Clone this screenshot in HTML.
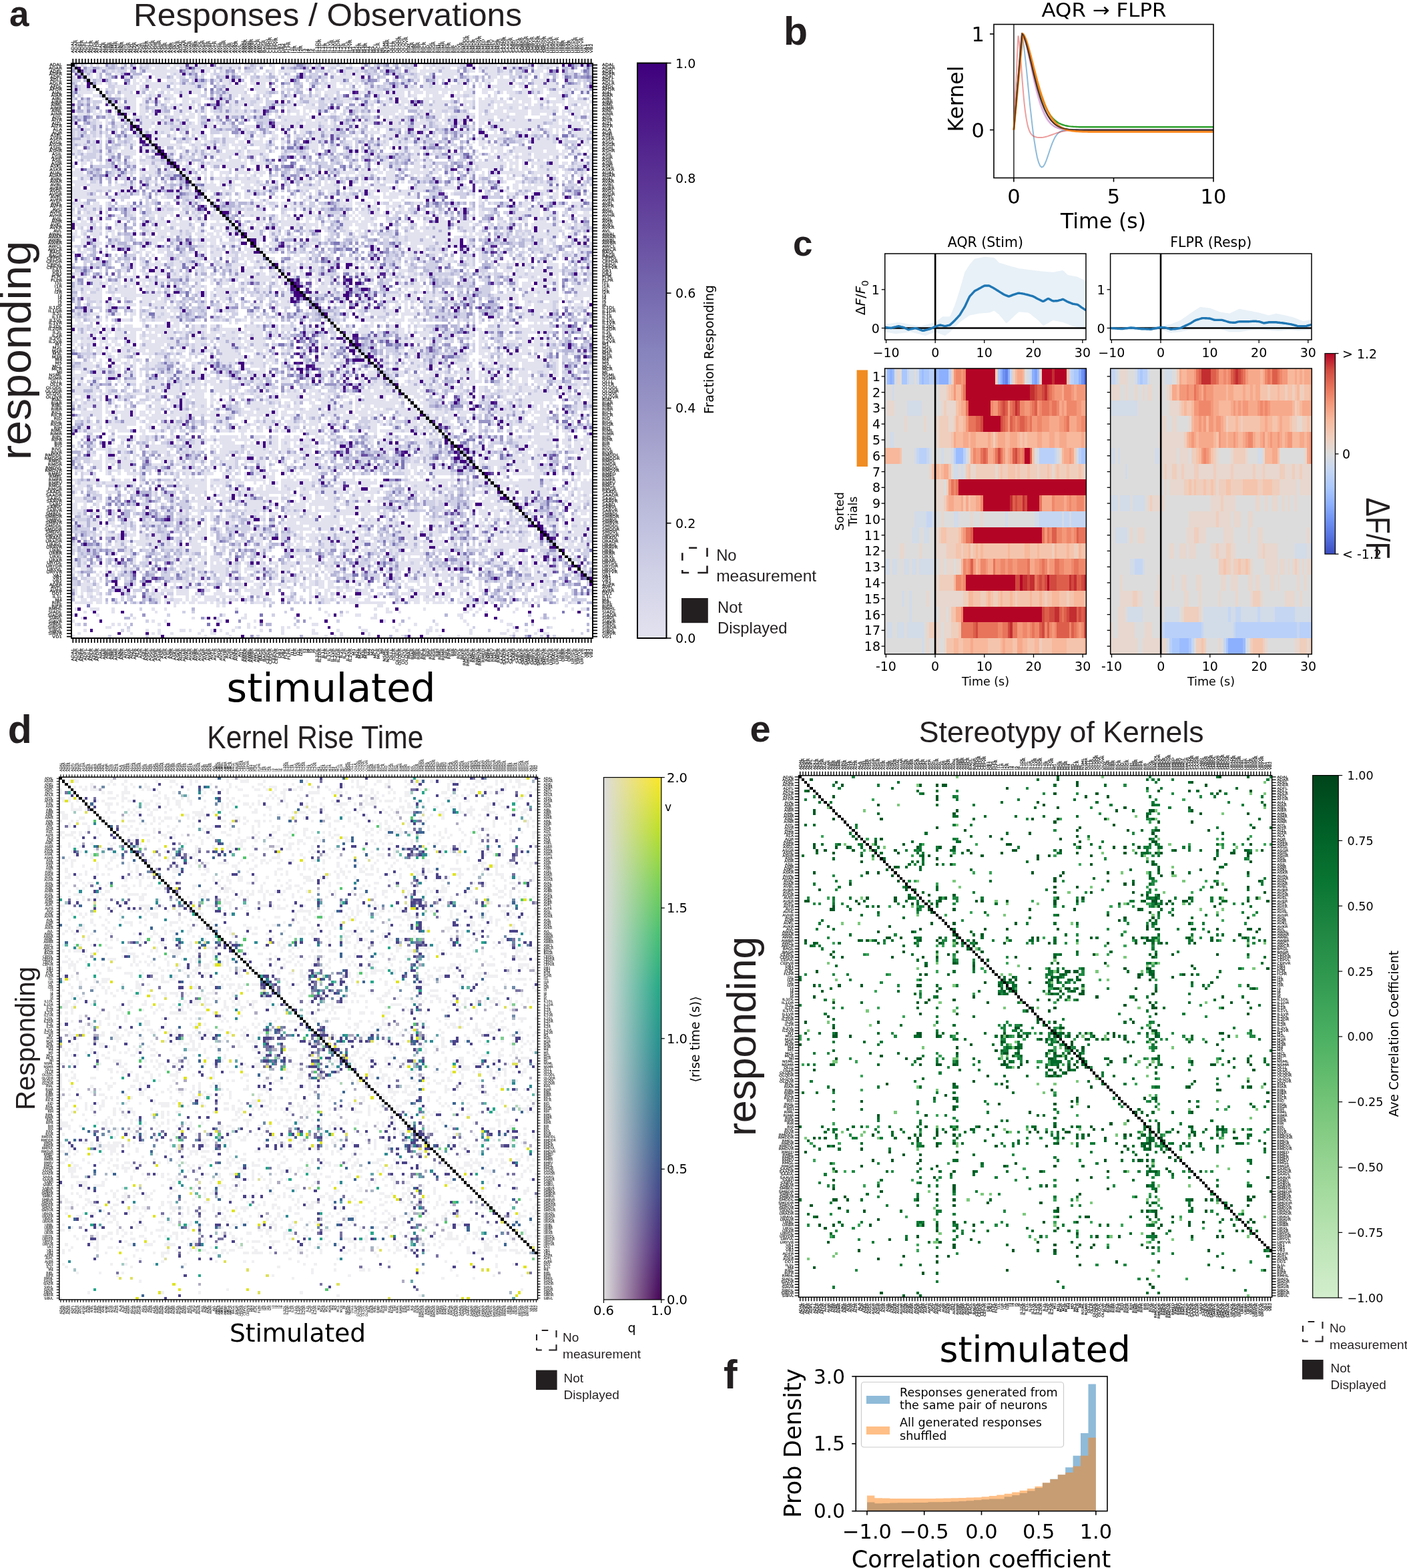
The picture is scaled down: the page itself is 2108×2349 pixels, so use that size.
<!DOCTYPE html>
<html><head><meta charset="utf-8"><title>Figure</title>
<style>
html,body{margin:0;padding:0;background:#fff;}
body{width:2108px;height:2349px;overflow:hidden;}
svg{display:block;}
</style></head><body>
<svg width="2108" height="2349" viewBox="0 0 2108 2349" font-family="'DejaVu Sans', sans-serif">
<g transform="translate(107 95) scale(4.6213 4.6043) translate(0 .5)" shape-rendering="crispEdges" fill="none">
<path stroke="#e2e2ef" d="M4 0h1m3 0h1m7 0h1m6 0h1m1 0h7m1 0h4m1 0h2m1 0h2m5 0h7m1 0h2m2 0h3m2 0h1m2 0h4m10 0h4m1 0h2m1 0h1m3 0h1m14 0h1m4 0h3m1 0h8m4 0h1m1 0h6m1 0h1m1 0h4m1 0h2m3 0h1m1 0h5m2 0h1M10 1h1m7 0h1m6 0h1m1 0h4m1 0h2m2 0h1m5 0h5m2 0h2m1 0h2m11 0h1m3 0h1m13 0h1m3 0h2m2 0h3m17 0h1m2 0h1m1 0h1m1 0h2m1 0h2m5 0h2m3 0h1m1 0h3m1 0h1m1 0h2m5 0h1m2 0h3m1 0h1M8 2h2m2 0h1m1 0h1m9 0h11m3 0h1m1 0h2m1 0h2m4 0h1m4 0h1m4 0h2m3 0h2m1 0h5m10 0h1m1 0h1m4 0h3m1 0h1m16 0h2m1 0h6m1 0h5m4 0h2m1 0h1m1 0h4m2 0h2m8 0h3m1 0h1m6 0h1M4 3h1m1 0h1m1 0h1m5 0h2m3 0h1m6 0h5m1 0h1m1 0h2m7 0h1m1 0h1m2 0h2m1 0h1m1 0h1m1 0h3m4 0h1m2 0h1m1 0h1m13 0h1m2 0h2m1 0h1m1 0h2m1 0h2m18 0h3m5 0h6m2 0h1m6 0h3m1 0h3m4 0h2m2 0h2m1 0h1m3 0h1M1 4h1m3 0h2m1 0h1m2 0h1m6 0h1m1 0h2m1 0h2m2 0h4m3 0h1m6 0h1m3 0h1m5 0h1m4 0h1m4 0h2m3 0h1m3 0h2m13 0h6m1 0h2m10 0h1m4 0h2m1 0h1m5 0h6m1 0h1m3 0h1m2 0h1m3 0h2m1 0h1m4 0h1m1 0h1m4 0h1m1 0h2m2 0h1m1 0h1M6 5h1m13 0h1m1 0h1m2 0h1m5 0h3m10 0h1m2 0h1m1 0h2m2 0h1m5 0h5m5 0h2m11 0h1m1 0h4m3 0h3m17 0h1m2 0h1m3 0h1m4 0h1m1 0h3m1 0h1m4 0h3m1 0h5m3 0h2m2 0h4m11 0h1M3 6h1m4 0h2m1 0h1m1 0h1m6 0h2m1 0h9m1 0h2m2 0h1m2 0h1m8 0h2m3 0h1m1 0h1m1 0h2m1 0h2m18 0h1m1 0h3m1 0h4m1 0h1m1 0h1m19 0h2m2 0h1m3 0h1m3 0h1m5 0h1m1 0h1m3 0h4m2 0h1m5 0h3m1 0h3M3 7h2m1 0h1m7 0h7m1 0h2m1 0h6m2 0h1m1 0h5m3 0h1m6 0h7m2 0h4m3 0h1m3 0h1m6 0h1m1 0h1m1 0h2m1 0h2m2 0h1m1 0h1m2 0h1m1 0h2m1 0h1m3 0h1m3 0h2m1 0h1m1 0h1m2 0h2m1 0h3m3 0h4m1 0h1m3 0h1m1 0h1m1 0h8m1 0h2m2 0h1m1 0h7m2 0h5M3 8h2m1 0h2m1 0h1m2 0h1m2 0h2m1 0h3m1 0h1m3 0h2m1 0h3m1 0h9m7 0h1m1 0h5m1 0h1m1 0h5m4 0h2m2 0h1m1 0h1m1 0h1m3 0h2m1 0h8m1 0h1m3 0h3m5 0h9m1 0h13m1 0h3m2 0h4m1 0h5m3 0h2m2 0h3m1 0h1m2 0h4m3 0h4M2 9h5m9 0h3m3 0h1m2 0h2m1 0h1m2 0h1m1 0h2m1 0h2m1 0h3m9 0h5m4 0h3m16 0h2m1 0h4m4 0h1m2 0h3m2 0h3m2 0h1m1 0h3m3 0h3m1 0h4m1 0h2m1 0h1m1 0h1m1 0h3m3 0h2m2 0h1m1 0h1m1 0h3m2 0h2m2 0h1m1 0h1m2 0h3m1 0h1m1 0h1m4 0h1M3 10h1m3 0h2m2 0h1m2 0h2m1 0h6m1 0h1m1 0h2m1 0h4m3 0h2m3 0h1m7 0h2m1 0h2m1 0h3m1 0h1m3 0h1m7 0h1m4 0h1m1 0h1m1 0h1m2 0h2m2 0h1m4 0h2m6 0h8m2 0h2m3 0h1m1 0h4m3 0h3m2 0h2m6 0h1m4 0h6m2 0h1m3 0h5m2 0h1m2 0h1m3 0h1M6 11h1m3 0h1m5 0h1m1 0h3m2 0h1m8 0h2m2 0h6m1 0h1m8 0h1m3 0h4m1 0h1m7 0h1m1 0h1m3 0h4m3 0h1m1 0h1m2 0h3m8 0h1m3 0h1m3 0h3m5 0h6m3 0h1m3 0h1m2 0h1m1 0h1m1 0h4m3 0h1m2 0h5m1 0h2m1 0h2m2 0h2m2 0h2M0 12h1m3 0h1m1 0h1m8 0h1m2 0h3m2 0h1m1 0h1m4 0h2m1 0h1m2 0h2m2 0h2m3 0h2m2 0h1m1 0h2m1 0h4m2 0h2m9 0h1m1 0h1m3 0h3m2 0h2m4 0h3m1 0h1m3 0h2m3 0h2m1 0h1m2 0h3m4 0h2m2 0h5m4 0h3m2 0h4m1 0h4m2 0h2m1 0h3m2 0h3m1 0h5m1 0h6m1 0h1M1 13h1m6 0h1m6 0h6m2 0h1m4 0h1m3 0h3m1 0h4m12 0h1m1 0h2m1 0h1m1 0h2m9 0h2m1 0h2m1 0h2m18 0h1m3 0h1m1 0h1m1 0h2m1 0h1m1 0h1m4 0h2m1 0h4m2 0h2m2 0h1m1 0h1m2 0h3m1 0h1m1 0h1m1 0h7m1 0h1m1 0h2m2 0h1m1 0h1m2 0h1m1 0h1m3 0h3M4 14h1m8 0h1m2 0h1m2 0h2m1 0h2m3 0h2m2 0h1m2 0h1m1 0h2m1 0h1m1 0h1m1 0h1m1 0h1m3 0h2m1 0h3m1 0h2m1 0h3m8 0h3m2 0h5m2 0h1m5 0h1m1 0h2m1 0h2m2 0h1m1 0h9m1 0h3m2 0h8m5 0h3m2 0h5m1 0h4m1 0h2m1 0h1m1 0h4m1 0h1m1 0h3m3 0h1m1 0h3m1 0h1M4 15h1m2 0h1m9 0h4m1 0h2m9 0h2m1 0h3m2 0h1m1 0h1m1 0h1m3 0h1m2 0h1m1 0h2m1 0h1m3 0h1m9 0h3m1 0h1m1 0h1m1 0h1m3 0h1m5 0h1m3 0h1m3 0h2m1 0h6m1 0h1m4 0h1m1 0h2m2 0h2m2 0h2m4 0h1m3 0h2m1 0h1m1 0h3m1 0h7m1 0h7m1 0h1m1 0h2m1 0h3m1 0h3M0 16h1m1 0h3m2 0h3m1 0h1m2 0h1m3 0h1m3 0h2m1 0h2m1 0h4m1 0h4m1 0h2m1 0h1m1 0h1m2 0h12m1 0h3m2 0h1m1 0h1m1 0h1m1 0h1m2 0h1m1 0h2m7 0h2m1 0h1m4 0h1m1 0h3m2 0h6m1 0h2m3 0h1m1 0h2m1 0h4m1 0h1m1 0h5m1 0h2m1 0h1m2 0h7m2 0h4m1 0h3m2 0h2m3 0h1m1 0h1m1 0h2m1 0h1m1 0h1M11 17h1m9 0h1m1 0h1m2 0h3m4 0h2m1 0h4m1 0h1m3 0h1m2 0h2m1 0h1m14 0h1m1 0h8m1 0h1m1 0h2m1 0h1m4 0h1m5 0h1m3 0h1m3 0h2m1 0h1m1 0h2m4 0h1m1 0h1m3 0h2m1 0h2m2 0h3m1 0h1m2 0h5m1 0h3m1 0h5m5 0h3m1 0h5m3 0h1m2 0h2M6 18h1m1 0h1m2 0h1m11 0h6m1 0h2m1 0h1m1 0h2m4 0h1m4 0h1m21 0h1m1 0h4m1 0h3m1 0h3m2 0h1m2 0h1m9 0h2m3 0h1m1 0h3m1 0h1m4 0h2m2 0h1m2 0h2m3 0h1m6 0h3m5 0h1m1 0h1m1 0h4m1 0h7m1 0h1m2 0h1m2 0h1m1 0h2m1 0h1M8 19h2m1 0h1m2 0h3m3 0h1m2 0h3m3 0h1m3 0h2m2 0h1m1 0h1m1 0h1m2 0h2m1 0h2m1 0h1m15 0h7m1 0h1m1 0h4m1 0h2m1 0h1m5 0h1m4 0h3m4 0h1m1 0h2m5 0h5m2 0h2m1 0h1m4 0h1m1 0h1m3 0h2m2 0h17m3 0h2m1 0h1m1 0h4m1 0h1M0 20h1m2 0h2m3 0h1m6 0h1m6 0h4m1 0h5m4 0h1m1 0h4m2 0h2m2 0h4m4 0h4m2 0h1m3 0h1m2 0h2m1 0h2m1 0h5m2 0h3m2 0h3m1 0h1m2 0h1m3 0h11m2 0h2m2 0h1m3 0h3m7 0h1m2 0h1m1 0h2m3 0h12m1 0h1m2 0h6m1 0h4m2 0h1M6 21h1m1 0h1m7 0h1m6 0h2m1 0h6m1 0h1m6 0h2m13 0h1m1 0h1m1 0h1m9 0h1m2 0h1m1 0h4m1 0h1m1 0h1m6 0h1m1 0h1m2 0h1m3 0h1m4 0h1m5 0h1m4 0h1m15 0h1m3 0h1m1 0h1m1 0h1m2 0h2m2 0h1m1 0h1m3 0h1m3 0h2m1 0h1m2 0h1m5 0h1M1 22h1m6 0h1m1 0h1m12 0h1m1 0h2m1 0h1m1 0h2m1 0h1m2 0h1m2 0h3m6 0h3m5 0h1m4 0h1m3 0h1m2 0h1m1 0h1m3 0h2m3 0h2m1 0h3m7 0h2m1 0h5m2 0h3m6 0h1m2 0h1m3 0h1m10 0h1m4 0h1m2 0h1m1 0h1m1 0h2m3 0h2m1 0h3m3 0h1m1 0h1m1 0h1m2 0h5M1 23h1m4 0h1m1 0h1m11 0h1m5 0h3m3 0h2m2 0h1m4 0h1m3 0h1m3 0h2m3 0h1m1 0h2m2 0h2m3 0h2m2 0h1m2 0h1m1 0h1m3 0h3m2 0h1m6 0h1m1 0h1m7 0h1m1 0h3m1 0h2m5 0h2m3 0h1m6 0h1m6 0h2m1 0h6m1 0h1m5 0h1m6 0h1m5 0h1m2 0h3m1 0h1M3 24h2m1 0h2m1 0h1m1 0h1m16 0h5m1 0h1m4 0h1m2 0h1m2 0h1m2 0h1m1 0h4m3 0h1m3 0h1m2 0h1m1 0h1m5 0h1m4 0h1m1 0h2m1 0h1m10 0h1m7 0h2m1 0h3m2 0h1m4 0h1m3 0h1m12 0h2m2 0h2m7 0h1m2 0h2m1 0h1m1 0h2m1 0h1m2 0h2m6 0h1M1 25h4m1 0h1m12 0h2m5 0h6m4 0h1m1 0h1m1 0h2m1 0h2m3 0h1m1 0h3m1 0h2m2 0h4m1 0h1m1 0h1m2 0h2m8 0h2m3 0h1m1 0h1m3 0h2m4 0h1m2 0h1m1 0h1m1 0h1m1 0h2m1 0h1m1 0h2m2 0h1m4 0h1m11 0h1m1 0h3m3 0h2m6 0h1m3 0h6m1 0h1m1 0h1m6 0h1M3 26h1m1 0h1m2 0h1m7 0h1m1 0h1m1 0h1m1 0h1m5 0h8m2 0h1m1 0h2m2 0h2m2 0h1m1 0h1m1 0h6m1 0h4m5 0h1m2 0h1m3 0h1m1 0h3m3 0h1m3 0h1m2 0h1m3 0h1m2 0h1m3 0h2m1 0h5m3 0h1m2 0h1m13 0h1m2 0h2m1 0h2m1 0h1m10 0h8m9 0h3M1 27h1m4 0h1m1 0h1m6 0h1m1 0h2m4 0h4m2 0h1m4 0h1m1 0h1m2 0h1m1 0h1m1 0h1m1 0h1m1 0h4m2 0h1m1 0h1m5 0h2m1 0h1m4 0h1m7 0h3m3 0h1m13 0h2m2 0h1m1 0h1m3 0h1m1 0h4m11 0h1m9 0h1m1 0h4m4 0h4m1 0h8m8 0h1m2 0h1M0 28h2m1 0h1m1 0h2m4 0h1m1 0h2m1 0h5m2 0h1m1 0h1m5 0h3m2 0h1m1 0h2m1 0h1m1 0h1m1 0h2m3 0h4m1 0h1m2 0h5m2 0h1m2 0h1m7 0h1m2 0h1m8 0h1m15 0h1m1 0h2m1 0h1m1 0h2m1 0h1m3 0h1m2 0h1m6 0h1m2 0h1m4 0h1m1 0h2m1 0h1m1 0h10m1 0h4m1 0h2m2 0h2m2 0h1M1 29h1m2 0h1m3 0h1m7 0h5m2 0h2m8 0h1m2 0h1m3 0h2m3 0h8m1 0h2m1 0h4m1 0h2m6 0h1m12 0h1m14 0h1m1 0h3m5 0h1m2 0h1m5 0h1m4 0h1m6 0h1m2 0h1m2 0h1m1 0h3m1 0h2m1 0h1m1 0h2m2 0h10m3 0h1m4 0h1M8 30h1m10 0h1m2 0h1m4 0h2m8 0h1m3 0h1m4 0h1m1 0h3m4 0h2m2 0h1m1 0h1m1 0h1m28 0h1m17 0h3m1 0h1m20 0h3m1 0h3m1 0h1m1 0h4m1 0h5m1 0h1m2 0h1m6 0h1m1 0h1M2 31h1m1 0h1m1 0h1m11 0h1m1 0h1m3 0h2m7 0h1m2 0h1m1 0h1m6 0h1m3 0h1m1 0h4m1 0h1m2 0h1m1 0h1m25 0h1m14 0h1m1 0h1m1 0h1m5 0h2m1 0h1m16 0h1m2 0h2m1 0h1m2 0h2m1 0h1m1 0h2m4 0h1m1 0h4m10 0h1M0 32h1m2 0h2m4 0h1m6 0h1m2 0h2m1 0h4m1 0h2m5 0h2m1 0h1m1 0h1m1 0h1m1 0h1m1 0h12m1 0h5m2 0h1m25 0h2m5 0h1m1 0h3m6 0h1m1 0h2m1 0h3m14 0h10m1 0h3m1 0h1m2 0h5m2 0h2m1 0h2m3 0h3m1 0h1M3 33h1m19 0h1m1 0h2m1 0h1m7 0h1m1 0h1m2 0h1m1 0h1m1 0h1m4 0h5m1 0h1m4 0h1m17 0h1m9 0h1m9 0h1m1 0h2m1 0h1m6 0h3m1 0h1m16 0h7m1 0h1m1 0h1m1 0h1m1 0h2m3 0h1m1 0h5m3 0h1m1 0h1m4 0h1M1 34h2m8 0h1m4 0h1m8 0h3m5 0h1m1 0h1m2 0h1m7 0h2m6 0h2m5 0h1m1 0h1m4 0h1m2 0h2m6 0h1m2 0h1m4 0h1m2 0h1m4 0h1m1 0h1m1 0h1m3 0h2m4 0h4m1 0h2m2 0h1m3 0h1m7 0h1m1 0h1m2 0h2m1 0h1m4 0h2m1 0h3m2 0h3m1 0h3m1 0h1m8 0h1M0 35h4m10 0h1m3 0h1m1 0h1m1 0h5m2 0h2m2 0h1m2 0h1m5 0h2m1 0h1m2 0h3m2 0h5m1 0h4m9 0h1m3 0h2m1 0h1m3 0h1m3 0h5m1 0h5m1 0h2m1 0h3m5 0h6m1 0h2m3 0h1m6 0h1m3 0h1m5 0h8m3 0h6m1 0h1m2 0h2m2 0h1m1 0h1M0 36h5m1 0h1m15 0h1m3 0h2m10 0h1m1 0h2m1 0h1m1 0h1m2 0h1m1 0h1m5 0h1m1 0h1m2 0h1m15 0h1m11 0h1m2 0h2m1 0h2m1 0h1m3 0h3m5 0h1m1 0h1m1 0h1m1 0h1m2 0h1m1 0h1m7 0h1m2 0h2m2 0h3m2 0h1m2 0h2m1 0h1m1 0h2m1 0h1m2 0h2m3 0h1m3 0h1M2 37h1m1 0h2m9 0h1m14 0h1m15 0h4m2 0h1m1 0h3m1 0h3m15 0h1m5 0h1m5 0h1m9 0h1m1 0h1m1 0h3m7 0h2m27 0h3m2 0h1m7 0h1m2 0h1M0 38h5m3 0h1m9 0h1m1 0h1m2 0h1m1 0h2m2 0h1m4 0h1m5 0h2m1 0h1m1 0h1m2 0h3m1 0h1m2 0h5m1 0h1m8 0h1m4 0h3m1 0h1m2 0h1m1 0h2m8 0h2m2 0h1m2 0h4m2 0h1m2 0h2m8 0h1m2 0h1m2 0h1m5 0h1m1 0h1m5 0h1m3 0h2m1 0h1m3 0h1m1 0h1m2 0h2m10 0h1M1 39h4m1 0h3m5 0h2m2 0h1m1 0h1m4 0h1m2 0h1m14 0h4m1 0h1m1 0h1m1 0h3m1 0h2m1 0h2m3 0h2m13 0h1m2 0h3m3 0h1m5 0h1m1 0h1m1 0h2m5 0h1m6 0h3m7 0h2m3 0h1m15 0h2m1 0h1m1 0h1m1 0h5m5 0h1M0 40h3m3 0h13m1 0h1m4 0h4m1 0h2m1 0h1m2 0h1m1 0h1m2 0h1m1 0h7m2 0h1m2 0h4m1 0h1m12 0h7m1 0h5m3 0h1m1 0h6m1 0h5m2 0h1m3 0h1m2 0h5m3 0h5m3 0h1m3 0h1m1 0h1m3 0h2m3 0h2m1 0h5m2 0h4m2 0h1m3 0h1m1 0h2M0 41h8m2 0h2m3 0h1m1 0h1m15 0h1m2 0h2m7 0h3m1 0h4m3 0h1m1 0h1m2 0h1m9 0h1m3 0h1m3 0h1m1 0h1m1 0h3m2 0h1m1 0h2m2 0h1m1 0h3m1 0h3m1 0h1m2 0h3m1 0h3m6 0h1m3 0h2m2 0h1m7 0h1m3 0h2m2 0h1m1 0h1m3 0h4m3 0h1m1 0h1m7 0h1M0 42h5m4 0h1m6 0h1m1 0h1m5 0h1m3 0h1m4 0h1m15 0h1m4 0h1m1 0h3m15 0h1m4 0h1m3 0h1m3 0h1m1 0h1m7 0h1m3 0h1m1 0h6m2 0h1m9 0h1m1 0h1m5 0h1m11 0h3m1 0h1m1 0h1m1 0h1m3 0h2m1 0h2m3 0h1m6 0h1M0 43h12m1 0h3m7 0h1m3 0h1m1 0h2m7 0h2m6 0h4m1 0h1m2 0h1m1 0h2m2 0h1m5 0h1m3 0h1m1 0h1m1 0h1m1 0h1m1 0h2m3 0h1m3 0h2m1 0h2m2 0h1m1 0h4m1 0h5m2 0h4m18 0h1m1 0h1m9 0h1m1 0h1m3 0h1m2 0h2m1 0h1m1 0h2m1 0h1m4 0h1m2 0h2M2 44h1m38 0h1m19 0h1m1 0h1m12 0h2m9 0h1m2 0h1m7 0h1m4 0h1m3 0h1m24 0h1m17 0h1M1 45h3m3 0h2m2 0h1m6 0h1m6 0h1m4 0h1m4 0h1m1 0h1m3 0h1m11 0h1m5 0h3m1 0h1m2 0h1m1 0h4m1 0h1m1 0h1m11 0h4m1 0h5m1 0h1m1 0h1m3 0h3m4 0h2m19 0h1m3 0h1m9 0h3m3 0h2m3 0h1m4 0h4m2 0h1M0 46h3m1 0h5m2 0h1m3 0h1m1 0h2m1 0h1m4 0h1m3 0h1m1 0h2m2 0h2m1 0h1m17 0h4m1 0h1m2 0h2m2 0h1m2 0h3m1 0h2m2 0h1m1 0h3m3 0h1m1 0h2m2 0h1m1 0h1m1 0h2m3 0h4m1 0h1m9 0h1m11 0h1m14 0h1m1 0h2m2 0h2m1 0h1m3 0h3m1 0h1m2 0h1m2 0h2M3 47h1m1 0h2m1 0h1m2 0h1m18 0h1m2 0h2m3 0h2m12 0h1m3 0h1m13 0h2m2 0h1m1 0h1m2 0h2m14 0h1m1 0h2m3 0h1m3 0h2m10 0h1m13 0h1m14 0h1m1 0h3m11 0h2M0 48h1m3 0h1m1 0h2m11 0h2m5 0h7m2 0h2m3 0h1m4 0h2m9 0h7m6 0h1m2 0h1m2 0h2m1 0h1m8 0h1m1 0h1m1 0h1m1 0h3m2 0h2m1 0h1m1 0h1m3 0h3m2 0h1m1 0h1m5 0h1m1 0h1m7 0h1m1 0h2m1 0h1m8 0h8m1 0h3m1 0h1m1 0h1m2 0h2m2 0h2M0 49h8m1 0h1m1 0h1m2 0h2m4 0h1m4 0h2m1 0h3m1 0h1m2 0h5m1 0h1m4 0h3m2 0h1m4 0h2m1 0h5m2 0h1m1 0h2m3 0h1m1 0h5m1 0h2m2 0h2m2 0h2m1 0h1m1 0h3m1 0h4m2 0h1m5 0h6m3 0h1m2 0h1m5 0h2m2 0h2m9 0h3m3 0h3m1 0h2m2 0h1m2 0h2m2 0h5M3 50h1m4 0h1m9 0h1m9 0h1m4 0h2m4 0h2m1 0h1m2 0h5m11 0h1m4 0h1m1 0h1m1 0h3m1 0h1m1 0h2m7 0h1m5 0h1m1 0h1m1 0h2m1 0h1m13 0h1m6 0h2m22 0h1m3 0h1m3 0h1m1 0h1m3 0h1m3 0h1m5 0h1M1 51h1m1 0h2m2 0h3m16 0h5m1 0h2m1 0h4m1 0h4m3 0h1m2 0h1m1 0h1m5 0h5m2 0h2m1 0h6m2 0h1m2 0h1m2 0h2m3 0h6m1 0h4m4 0h1m4 0h3m4 0h2m3 0h3m1 0h1m2 0h4m3 0h2m3 0h2m3 0h1m2 0h2m2 0h4m3 0h2m1 0h1m1 0h1M1 52h6m2 0h1m1 0h1m3 0h2m11 0h3m1 0h6m1 0h1m3 0h1m1 0h6m5 0h1m1 0h1m1 0h2m6 0h5m1 0h1m1 0h4m8 0h3m1 0h4m1 0h1m11 0h1m4 0h1m1 0h6m2 0h5m1 0h1m1 0h1m2 0h1m3 0h3m2 0h1m4 0h7m1 0h1m1 0h3m2 0h2M2 53h1m2 0h1m2 0h1m5 0h3m7 0h2m2 0h1m1 0h2m1 0h1m1 0h4m2 0h2m3 0h1m1 0h1m3 0h1m2 0h1m1 0h1m1 0h2m5 0h1m1 0h1m3 0h2m2 0h2m1 0h1m1 0h2m2 0h1m2 0h2m3 0h3m2 0h1m1 0h1m6 0h1m1 0h1m1 0h1m1 0h2m1 0h1m1 0h4m1 0h1m3 0h3m6 0h1m3 0h1m6 0h1m1 0h1m1 0h8m1 0h1m3 0h1M1 54h1m1 0h2m2 0h3m1 0h1m1 0h1m1 0h1m9 0h10m1 0h1m1 0h2m1 0h1m1 0h1m2 0h3m2 0h2m3 0h2m1 0h2m1 0h1m1 0h3m2 0h1m6 0h1m5 0h1m6 0h2m1 0h2m5 0h1m4 0h1m4 0h1m1 0h2m1 0h5m1 0h3m2 0h1m2 0h2m2 0h1m7 0h1m5 0h1m4 0h2m2 0h3m1 0h1m2 0h1m2 0h1m2 0h1M0 55h2m1 0h1m2 0h3m2 0h1m1 0h1m10 0h2m2 0h3m1 0h3m1 0h1m3 0h3m1 0h2m1 0h1m1 0h2m1 0h1m4 0h4m3 0h1m1 0h1m2 0h1m1 0h1m4 0h2m2 0h1m2 0h1m4 0h2m1 0h1m1 0h2m9 0h1m1 0h1m1 0h14m5 0h1m1 0h1m1 0h3m6 0h1m4 0h1m1 0h1m1 0h5m1 0h3m3 0h2m1 0h1m1 0h1M1 56h2m1 0h1m2 0h2m4 0h3m7 0h1m1 0h1m1 0h2m1 0h3m2 0h3m3 0h3m1 0h4m1 0h2m5 0h5m2 0h2m2 0h1m1 0h4m2 0h1m1 0h3m1 0h2m5 0h2m1 0h2m7 0h2m3 0h2m1 0h6m1 0h1m1 0h5m1 0h3m1 0h3m1 0h1m7 0h1m1 0h1m3 0h2m2 0h6m1 0h1m1 0h1m2 0h2m3 0h2M3 57h2m3 0h1m16 0h5m6 0h1m3 0h1m2 0h4m6 0h1m1 0h1m4 0h2m15 0h1m2 0h1m1 0h1m8 0h1m12 0h1m1 0h2m1 0h4m1 0h3m1 0h4m1 0h3m2 0h1m10 0h1m1 0h1m8 0h1m3 0h1m1 0h1m7 0h2M3 58h2m3 0h2m1 0h1m2 0h1m3 0h1m4 0h1m2 0h2m2 0h1m2 0h2m4 0h1m1 0h3m1 0h2m1 0h5m1 0h1m5 0h1m1 0h1m1 0h3m2 0h2m6 0h3m3 0h1m23 0h2m1 0h8m1 0h2m1 0h4m2 0h1m18 0h2m5 0h2m3 0h3m1 0h1m1 0h1m2 0h1M0 59h1m2 0h1m2 0h1m1 0h1m5 0h1m5 0h1m4 0h1m4 0h1m1 0h2m9 0h2m1 0h2m8 0h1m3 0h1m1 0h1m2 0h1m5 0h1m5 0h1m4 0h1m3 0h1m7 0h1m13 0h4m2 0h2m2 0h2m1 0h1m1 0h1m1 0h1m3 0h1m2 0h1m14 0h1m2 0h1m1 0h3m4 0h1m2 0h3m3 0h1M4 60h1m6 0h1m2 0h1m5 0h1m1 0h2m2 0h1m1 0h3m10 0h3m1 0h2m1 0h1m2 0h1m4 0h4m2 0h1m10 0h1m31 0h1m1 0h1m2 0h3m1 0h1m3 0h1m6 0h1m3 0h1m16 0h1m6 0h2m1 0h1m5 0h1m2 0h4M2 61h3m1 0h1m1 0h1m11 0h1m1 0h1m1 0h2m2 0h2m7 0h1m1 0h1m1 0h1m1 0h1m2 0h3m2 0h1m2 0h2m1 0h2m3 0h3m1 0h1m6 0h1m2 0h1m5 0h1m5 0h1m1 0h1m15 0h1m1 0h3m1 0h1m1 0h1m1 0h4m1 0h1m1 0h1m8 0h1m5 0h1m2 0h1m1 0h1m3 0h1m2 0h2m1 0h4m2 0h1m1 0h1m2 0h1M16 62h1m5 0h1m3 0h1m3 0h1m2 0h1m3 0h1m5 0h1m1 0h4m1 0h3m2 0h7m8 0h1m1 0h2m2 0h1m5 0h1m1 0h1m7 0h1m13 0h1m2 0h2m2 0h2m3 0h1m1 0h1m11 0h1m13 0h1m3 0h1m2 0h1m3 0h1m4 0h1m1 0h3m1 0h1M13 63h1m5 0h1m9 0h3m4 0h1m2 0h2m4 0h1m4 0h1m3 0h2m1 0h2m1 0h2m2 0h2m5 0h1m2 0h3m1 0h1m9 0h4m12 0h1m3 0h2m3 0h2m7 0h2m5 0h1m2 0h1m11 0h2m1 0h1m2 0h2m2 0h1m2 0h1m1 0h1m3 0h2M20 64h1m1 0h1m2 0h1m1 0h2m2 0h1m1 0h2m1 0h1m4 0h1m1 0h2m3 0h1m7 0h1m1 0h2m1 0h3m1 0h2m2 0h2m1 0h3m1 0h1m7 0h1m2 0h4m2 0h1m11 0h1m9 0h1m4 0h4m4 0h2m2 0h1m8 0h1m1 0h1m1 0h3m4 0h1m1 0h2M17 65h1m2 0h1m1 0h2m1 0h5m3 0h3m1 0h3m6 0h1m1 0h2m2 0h5m2 0h3m2 0h1m3 0h1m1 0h3m2 0h5m1 0h2m8 0h2m1 0h1m1 0h1m5 0h1m2 0h2m1 0h2m4 0h1m5 0h2m7 0h1m9 0h2m1 0h2m3 0h1m1 0h1m1 0h2m1 0h4m7 0h1m2 0h1M20 66h1m4 0h1m2 0h1m1 0h1m1 0h1m1 0h2m5 0h1m1 0h1m5 0h1m2 0h2m3 0h2m1 0h1m2 0h1m5 0h1m1 0h3m1 0h1m2 0h2m7 0h1m2 0h1m2 0h1m2 0h1m1 0h1m2 0h2m20 0h1m5 0h2m8 0h2m3 0h5m1 0h3m3 0h2m6 0h1m3 0h1M9 67h1m6 0h2m2 0h1m1 0h1m4 0h2m1 0h1m2 0h2m6 0h1m1 0h1m8 0h1m3 0h3m2 0h1m3 0h1m3 0h3m7 0h1m2 0h1m5 0h5m1 0h2m1 0h1m2 0h2m4 0h3m2 0h1m6 0h1m2 0h2m17 0h3m2 0h2m1 0h1m1 0h3m1 0h5m9 0h1M1 68h2m14 0h1m2 0h1m2 0h1m3 0h4m1 0h1m1 0h1m1 0h1m1 0h1m2 0h1m10 0h1m1 0h6m1 0h2m1 0h2m3 0h1m2 0h1m1 0h2m3 0h1m6 0h1m3 0h1m2 0h1m1 0h4m3 0h1m2 0h1m1 0h1m1 0h2m1 0h1m1 0h1m14 0h1m2 0h1m1 0h1m1 0h1m4 0h1m2 0h3m1 0h7m1 0h2m2 0h1m3 0h2M2 69h3m1 0h1m1 0h1m1 0h1m3 0h1m1 0h5m4 0h2m5 0h3m1 0h1m1 0h1m1 0h2m1 0h3m5 0h6m2 0h6m1 0h1m1 0h1m1 0h2m2 0h2m1 0h7m7 0h1m1 0h1m2 0h2m2 0h1m2 0h2m1 0h1m1 0h1m1 0h2m1 0h3m2 0h1m1 0h1m1 0h2m1 0h1m2 0h1m4 0h1m8 0h3m1 0h3m1 0h1m1 0h4m1 0h1m2 0h1m3 0h1m3 0h1M1 70h1m3 0h5m1 0h1m3 0h1m2 0h1m1 0h1m1 0h3m1 0h1m1 0h3m5 0h1m1 0h4m1 0h1m1 0h1m1 0h1m1 0h1m6 0h2m1 0h6m1 0h1m1 0h2m9 0h1m2 0h2m2 0h1m12 0h1m1 0h1m3 0h2m1 0h1m4 0h2m14 0h1m2 0h1m10 0h2m3 0h5m1 0h4m6 0h2m2 0h1M1 71h1m5 0h2m1 0h2m1 0h3m1 0h4m2 0h1m1 0h2m1 0h1m6 0h1m5 0h1m3 0h1m3 0h2m1 0h1m1 0h1m1 0h1m4 0h1m4 0h1m1 0h1m10 0h1m2 0h2m3 0h1m8 0h2m9 0h1m1 0h1m1 0h2m13 0h1m17 0h1m1 0h3m2 0h5m1 0h1m2 0h1m4 0h1m2 0h1M1 72h5m1 0h3m3 0h1m1 0h2m1 0h1m1 0h1m1 0h2m1 0h4m1 0h1m5 0h1m1 0h1m1 0h2m1 0h1m3 0h1m3 0h2m1 0h3m2 0h3m1 0h1m1 0h3m1 0h2m5 0h1m3 0h3m1 0h4m3 0h1m1 0h3m2 0h2m2 0h1m1 0h1m2 0h7m1 0h1m4 0h1m1 0h1m9 0h1m3 0h1m3 0h1m2 0h2m1 0h4m1 0h2m3 0h2m5 0h6M1 73h2m1 0h4m1 0h1m3 0h1m1 0h6m3 0h3m1 0h1m7 0h1m3 0h2m1 0h1m3 0h8m1 0h2m3 0h3m3 0h2m8 0h1m1 0h6m12 0h2m6 0h1m2 0h1m2 0h2m2 0h1m2 0h1m5 0h1m4 0h2m5 0h1m1 0h1m7 0h2m2 0h4m1 0h1m1 0h1m5 0h3m1 0h2M4 74h1m3 0h2m1 0h1m2 0h7m4 0h1m1 0h1m1 0h1m10 0h1m4 0h1m1 0h3m1 0h1m9 0h1m1 0h1m1 0h1m3 0h2m7 0h1m2 0h2m1 0h1m2 0h1m7 0h1m10 0h2m1 0h2m1 0h2m2 0h1m1 0h1m22 0h3m2 0h1m1 0h3m1 0h2m1 0h3m1 0h1m2 0h1m1 0h5M3 75h7m3 0h1m2 0h13m4 0h1m7 0h1m3 0h1m1 0h4m1 0h2m2 0h1m2 0h2m1 0h1m1 0h2m3 0h3m11 0h1m1 0h1m1 0h1m6 0h1m5 0h1m1 0h4m4 0h2m2 0h3m1 0h3m16 0h8m2 0h3m1 0h7m2 0h1m3 0h5M1 76h1m2 0h1m1 0h4m3 0h1m4 0h3m2 0h5m1 0h1m2 0h2m9 0h1m1 0h2m1 0h2m2 0h1m1 0h1m7 0h1m2 0h1m1 0h4m11 0h2m10 0h1m5 0h1m1 0h2m2 0h1m3 0h2m1 0h1m1 0h3m1 0h1m5 0h2m7 0h1m4 0h3m1 0h2m1 0h13m1 0h1m1 0h4m2 0h1M1 77h1m6 0h1m14 0h3m1 0h3m3 0h1m15 0h1m18 0h2m37 0h2m2 0h1m3 0h1m2 0h1m9 0h1m10 0h1m1 0h1m2 0h1m2 0h1m1 0h2m4 0h1m4 0h1M1 78h1m2 0h1m1 0h1m1 0h2m1 0h1m1 0h1m3 0h4m1 0h3m1 0h5m1 0h1m2 0h1m7 0h1m4 0h1m1 0h3m6 0h3m1 0h1m3 0h4m12 0h1m1 0h1m1 0h1m6 0h1m2 0h1m3 0h2m2 0h2m1 0h1m1 0h1m1 0h1m3 0h3m3 0h2m6 0h1m10 0h1m2 0h1m2 0h2m1 0h6m1 0h1m3 0h1m1 0h3m1 0h1M11 79h1m10 0h1m2 0h2m1 0h1m3 0h1m13 0h1m1 0h1m12 0h1m4 0h1m1 0h1m15 0h1m15 0h1m1 0h1m1 0h2m2 0h1m2 0h1m31 0h1m2 0h2m2 0h6m1 0h1m3 0h1m1 0h1m2 0h1M1 80h1m18 0h1m4 0h1m1 0h4m1 0h3m14 0h1m3 0h1m5 0h1m6 0h1m9 0h1m12 0h2m1 0h1m3 0h5m1 0h3m1 0h1m1 0h2m1 0h2m1 0h1m1 0h1m4 0h1m4 0h1m12 0h1m1 0h1m1 0h2m1 0h2m2 0h3m1 0h2m6 0h1m1 0h1M0 81h1m2 0h1m2 0h3m2 0h1m2 0h2m3 0h2m2 0h2m2 0h2m1 0h2m1 0h1m12 0h1m1 0h1m1 0h1m8 0h1m1 0h1m6 0h2m4 0h1m8 0h2m8 0h1m3 0h5m1 0h2m2 0h5m1 0h2m17 0h1m4 0h1m9 0h2m1 0h2m1 0h1m12 0h1M1 82h1m3 0h2m2 0h1m9 0h1m5 0h1m1 0h1m1 0h3m1 0h1m15 0h1m11 0h1m4 0h1m2 0h1m16 0h1m6 0h4m5 0h1m1 0h1m2 0h1m6 0h1m22 0h1m2 0h1m5 0h6m1 0h1m7 0h1m5 0h1M1 83h2m3 0h4m1 0h1m4 0h3m3 0h1m1 0h2m1 0h4m1 0h3m1 0h1m3 0h2m3 0h1m2 0h1m2 0h1m3 0h2m1 0h4m1 0h2m1 0h1m2 0h1m17 0h1m4 0h2m1 0h6m2 0h5m1 0h5m1 0h1m1 0h1m8 0h1m2 0h1m2 0h1m4 0h1m2 0h2m2 0h3m1 0h7m13 0h1M2 84h2m10 0h2m7 0h1m6 0h1m2 0h2m1 0h1m1 0h1m12 0h1m1 0h1m8 0h1m14 0h1m19 0h1m4 0h1m2 0h2m3 0h1m1 0h1m19 0h1m4 0h3m1 0h1m8 0h1m1 0h1M0 85h5m3 0h2m1 0h1m3 0h1m1 0h3m3 0h1m1 0h1m2 0h3m1 0h3m5 0h2m3 0h2m1 0h1m8 0h3m1 0h1m7 0h2m1 0h1m1 0h1m1 0h1m10 0h1m2 0h1m3 0h1m1 0h2m2 0h1m2 0h2m1 0h1m5 0h3m14 0h1m7 0h1m1 0h4m1 0h2m2 0h7m11 0h1M4 86h1m1 0h1m1 0h1m2 0h2m1 0h1m1 0h7m1 0h9m1 0h1m1 0h1m1 0h1m1 0h4m4 0h6m2 0h6m2 0h2m2 0h4m1 0h1m2 0h2m1 0h1m7 0h4m2 0h4m2 0h1m2 0h3m1 0h2m1 0h1m1 0h1m3 0h2m11 0h2m1 0h2m1 0h4m1 0h3m2 0h5m1 0h6m12 0h1M0 87h1m1 0h1m1 0h1m1 0h3m2 0h2m1 0h3m2 0h2m4 0h1m1 0h3m1 0h2m3 0h1m3 0h1m2 0h1m1 0h4m1 0h2m1 0h2m1 0h1m1 0h4m3 0h1m6 0h1m10 0h1m5 0h1m3 0h4m9 0h2m4 0h4m2 0h1m10 0h2m1 0h2m3 0h1m2 0h1m2 0h1m2 0h5m1 0h1m13 0h1M0 88h6m1 0h1m1 0h2m3 0h7m1 0h1m1 0h4m1 0h5m1 0h2m3 0h1m2 0h4m1 0h1m1 0h4m2 0h2m1 0h3m4 0h1m1 0h1m1 0h1m11 0h1m1 0h1m2 0h1m1 0h2m6 0h1m2 0h1m3 0h1m1 0h2m5 0h3m1 0h2m1 0h1m3 0h2m1 0h3m2 0h3m1 0h2m3 0h2m1 0h4m3 0h1m1 0h1m3 0h1m10 0h1M0 89h3m1 0h1m1 0h1m1 0h2m1 0h3m1 0h2m1 0h3m1 0h2m1 0h6m2 0h1m6 0h2m2 0h2m2 0h4m1 0h1m1 0h2m2 0h3m4 0h1m15 0h1m7 0h1m16 0h1m1 0h1m1 0h2m2 0h1m13 0h1m2 0h1m7 0h1m5 0h3m1 0h2m1 0h1M0 90h2m1 0h5m1 0h3m1 0h2m4 0h2m2 0h3m1 0h7m1 0h2m3 0h4m3 0h3m1 0h4m1 0h7m2 0h1m4 0h1m10 0h3m1 0h1m1 0h1m1 0h1m14 0h1m1 0h4m1 0h4m1 0h1m4 0h2m2 0h1m2 0h1m1 0h1m1 0h3m6 0h4m1 0h2m2 0h3m2 0h2m2 0h1m2 0h1m5 0h1M0 91h1m1 0h1m1 0h1m1 0h1m2 0h1m1 0h2m1 0h2m2 0h1m3 0h1m1 0h6m2 0h2m4 0h1m1 0h2m2 0h1m3 0h4m1 0h3m1 0h1m1 0h3m21 0h1m30 0h1m14 0h1m2 0h1m5 0h1m1 0h1m3 0h1m1 0h6m1 0h1m3 0h1M1 92h1m4 0h5m2 0h1m2 0h3m1 0h1m1 0h7m1 0h2m6 0h1m1 0h2m3 0h1m1 0h5m3 0h1m1 0h1m1 0h5m14 0h1m4 0h2m26 0h4m17 0h1m10 0h1m1 0h3m2 0h3m1 0h1m9 0h1M1 93h1m1 0h2m1 0h1m1 0h2m1 0h1m1 0h2m1 0h2m1 0h5m1 0h4m1 0h1m1 0h1m1 0h3m1 0h1m1 0h2m2 0h2m2 0h5m1 0h1m1 0h3m1 0h2m1 0h1m4 0h2m1 0h1m2 0h1m1 0h1m6 0h2m11 0h1m9 0h2m1 0h2m3 0h1m7 0h1m4 0h1m1 0h1m2 0h4m1 0h1m2 0h1m2 0h1m2 0h3m1 0h5m8 0h1m1 0h1M8 94h2m1 0h2m2 0h4m4 0h4m6 0h1m6 0h1m8 0h5m5 0h1m2 0h2m18 0h2m19 0h1m3 0h1m1 0h3m9 0h1m3 0h1m2 0h2m2 0h2m1 0h1m5 0h1m1 0h5m5 0h1m5 0h1m1 0h1m1 0h1M4 95h1m1 0h1m4 0h1m1 0h1m1 0h2m3 0h1m4 0h1m1 0h3m3 0h1m1 0h2m1 0h1m4 0h1m4 0h8m1 0h1m1 0h3m3 0h1m2 0h2m11 0h3m7 0h1m8 0h2m2 0h1m1 0h1m7 0h1m3 0h1m8 0h2m4 0h3m3 0h1m1 0h5m2 0h3m2 0h1M0 96h1m4 0h1m1 0h1m1 0h1m3 0h3m2 0h1m1 0h1m1 0h1m3 0h3m3 0h3m2 0h2m4 0h1m4 0h5m2 0h1m1 0h5m1 0h3m4 0h1m11 0h3m2 0h2m6 0h1m5 0h2m1 0h2m1 0h1m1 0h4m5 0h1m1 0h1m2 0h2m3 0h1m1 0h1m1 0h1m2 0h2m2 0h4m1 0h4m2 0h3m3 0h2m10 0h1M3 97h4m1 0h2m1 0h1m4 0h1m1 0h1m1 0h1m1 0h1m2 0h3m5 0h1m2 0h1m2 0h2m2 0h1m5 0h2m1 0h1m4 0h1m1 0h3m1 0h1m1 0h1m9 0h1m1 0h1m1 0h1m2 0h2m1 0h1m2 0h1m1 0h1m1 0h4m2 0h1m1 0h1m2 0h2m3 0h1m2 0h3m1 0h1m2 0h1m6 0h3m1 0h1m3 0h2m1 0h1m1 0h3m1 0h3m1 0h8m1 0h1m1 0h1m2 0h1M3 98h5m1 0h1m3 0h3m1 0h2m1 0h1m2 0h1m1 0h2m6 0h1m1 0h1m4 0h2m1 0h1m8 0h1m1 0h1m3 0h4m2 0h1m14 0h5m6 0h1m2 0h1m3 0h1m3 0h2m1 0h1m1 0h2m1 0h3m1 0h1m1 0h1m1 0h2m1 0h1m4 0h3m1 0h1m2 0h1m1 0h3m1 0h1m1 0h1m1 0h3m1 0h7m4 0h1m10 0h1M1 99h3m1 0h2m1 0h1m2 0h1m3 0h1m4 0h1m6 0h1m8 0h1m3 0h2m19 0h2m5 0h1m13 0h1m9 0h1m5 0h1m11 0h3m1 0h1m2 0h1m3 0h1m1 0h1m6 0h1m14 0h1m1 0h8m2 0h1m1 0h1m5 0h1M0 100h1m2 0h2m3 0h2m1 0h1m2 0h2m2 0h1m1 0h1m1 0h1m4 0h1m2 0h1m5 0h1m1 0h1m1 0h2m1 0h1m5 0h1m9 0h4m19 0h1m4 0h1m2 0h1m1 0h1m1 0h1m1 0h3m4 0h1m2 0h2m1 0h1m3 0h2m1 0h2m1 0h2m4 0h3m1 0h2m1 0h1m1 0h1m1 0h1m3 0h2m3 0h3m1 0h2m2 0h2m2 0h1m10 0h1M0 101h5m1 0h4m1 0h1m2 0h1m1 0h3m1 0h1m1 0h1m2 0h1m2 0h1m1 0h3m1 0h3m1 0h4m1 0h2m3 0h2m4 0h4m2 0h2m1 0h2m1 0h1m1 0h1m8 0h2m10 0h1m5 0h4m1 0h1m3 0h1m1 0h2m1 0h4m1 0h4m1 0h1m1 0h4m1 0h5m1 0h4m2 0h2m2 0h1m1 0h5m2 0h1m2 0h1m1 0h2m1 0h1m1 0h1m2 0h1m2 0h2M1 102h2m21 0h1m3 0h1m9 0h1m1 0h1m2 0h1m1 0h2m4 0h1m7 0h1m1 0h1m8 0h1m12 0h1m9 0h2m1 0h1m3 0h1m8 0h1m1 0h1m1 0h3m2 0h2m9 0h2m1 0h1m11 0h1m1 0h2m2 0h5m5 0h1m7 0h1M2 103h2m2 0h1m1 0h1m6 0h1m2 0h3m2 0h1m1 0h5m2 0h1m3 0h3m1 0h2m1 0h4m2 0h2m4 0h1m3 0h2m7 0h3m12 0h1m6 0h1m2 0h1m3 0h1m1 0h2m1 0h1m5 0h1m1 0h3m1 0h3m9 0h2m1 0h4m2 0h1m3 0h1m2 0h3m1 0h2m2 0h3m4 0h2m4 0h3m2 0h1M0 104h1m2 0h2m11 0h1m5 0h7m1 0h1m2 0h2m1 0h1m1 0h5m2 0h6m1 0h1m6 0h1m17 0h1m18 0h1m1 0h3m6 0h1m1 0h2m1 0h2m1 0h1m2 0h1m4 0h1m3 0h4m8 0h2m2 0h4m4 0h4m2 0h2m5 0h2m2 0h1M0 105h6m1 0h1m3 0h3m4 0h1m1 0h1m1 0h1m2 0h1m1 0h3m2 0h3m1 0h1m1 0h1m1 0h2m1 0h1m2 0h5m3 0h1m6 0h1m1 0h2m5 0h1m7 0h1m3 0h2m3 0h1m9 0h3m2 0h3m1 0h7m1 0h2m1 0h2m1 0h2m2 0h2m2 0h1m3 0h2m2 0h1m1 0h2m1 0h2m1 0h1m1 0h3m1 0h1m2 0h1m2 0h1m2 0h2m1 0h3m1 0h1m1 0h1M1 106h3m3 0h2m2 0h1m10 0h1m2 0h1m1 0h1m3 0h4m1 0h3m1 0h4m2 0h4m6 0h1m3 0h1m3 0h2m3 0h1m1 0h1m1 0h1m3 0h3m14 0h3m1 0h4m1 0h1m1 0h1m1 0h5m1 0h2m3 0h1m6 0h2m2 0h1m2 0h2m3 0h1m2 0h1m1 0h3m1 0h4m1 0h2m2 0h2m2 0h2m4 0h4M0 107h5m1 0h2m1 0h3m1 0h3m1 0h1m1 0h10m1 0h5m2 0h1m1 0h4m2 0h2m1 0h7m1 0h2m1 0h4m2 0h2m1 0h1m1 0h5m1 0h2m1 0h2m1 0h3m3 0h1m1 0h2m2 0h12m2 0h5m1 0h3m2 0h2m3 0h2m1 0h2m1 0h1m1 0h1m1 0h2m3 0h5m2 0h1m2 0h8m1 0h1m1 0h2m1 0h1m1 0h2m1 0h1M0 108h1m2 0h2m2 0h2m7 0h1m8 0h1m1 0h2m4 0h1m4 0h5m2 0h1m2 0h1m3 0h1m1 0h2m3 0h1m1 0h1m1 0h1m4 0h5m4 0h4m1 0h1m5 0h2m2 0h2m1 0h3m1 0h1m1 0h1m2 0h2m1 0h1m3 0h4m4 0h1m1 0h1m7 0h1m2 0h1m7 0h1m4 0h1m1 0h9m6 0h1m2 0h1m1 0h2M2 109h2m2 0h1m6 0h1m2 0h1m8 0h1m6 0h3m1 0h1m1 0h1m1 0h4m1 0h2m2 0h1m6 0h1m5 0h1m1 0h4m3 0h7m1 0h1m1 0h3m1 0h1m1 0h1m2 0h1m1 0h1m2 0h7m1 0h3m1 0h1m4 0h1m1 0h1m12 0h1m4 0h1m1 0h1m5 0h4m2 0h11m4 0h1m1 0h1m4 0h1M1 110h1m1 0h1m1 0h5m1 0h1m1 0h1m3 0h2m3 0h2m2 0h3m1 0h1m1 0h3m1 0h1m3 0h4m1 0h1m1 0h1m2 0h1m3 0h1m1 0h1m1 0h4m1 0h1m2 0h1m2 0h2m2 0h1m3 0h2m2 0h2m1 0h1m1 0h1m1 0h2m2 0h15m2 0h1m3 0h3m3 0h1m18 0h2m4 0h1m1 0h3m1 0h3m2 0h1m3 0h1m4 0h2m1 0h2M3 111h4m1 0h2m1 0h2m2 0h1m8 0h1m2 0h4m1 0h1m3 0h1m3 0h2m1 0h1m4 0h1m5 0h1m1 0h10m2 0h2m2 0h2m4 0h5m1 0h1m3 0h3m1 0h2m1 0h2m1 0h7m1 0h1m3 0h1m1 0h1m1 0h2m23 0h3m2 0h1m1 0h2m2 0h1m1 0h1m4 0h1m6 0h2M1 112h1m1 0h1m3 0h3m1 0h1m2 0h1m2 0h4m3 0h5m1 0h1m2 0h2m3 0h2m1 0h4m3 0h2m5 0h1m2 0h2m1 0h3m1 0h2m2 0h5m1 0h1m1 0h3m1 0h1m2 0h1m1 0h5m1 0h1m1 0h4m1 0h1m1 0h1m2 0h5m1 0h2m1 0h5m2 0h1m7 0h1m8 0h2m2 0h1m1 0h2m1 0h1m1 0h3m1 0h3m7 0h1m1 0h2m1 0h2M0 113h1m2 0h7m1 0h2m1 0h5m1 0h1m1 0h2m1 0h1m1 0h2m4 0h5m1 0h5m1 0h3m2 0h2m3 0h4m1 0h5m1 0h1m1 0h2m2 0h1m1 0h6m1 0h2m1 0h5m3 0h4m1 0h6m3 0h6m2 0h3m1 0h3m1 0h2m2 0h4m2 0h3m1 0h1m1 0h5m1 0h2m1 0h2m1 0h4m3 0h1m7 0h1m2 0h1M3 114h3m1 0h3m2 0h3m1 0h3m1 0h1m1 0h3m1 0h11m2 0h3m1 0h4m1 0h3m4 0h1m1 0h5m2 0h3m1 0h5m1 0h1m1 0h5m1 0h3m1 0h1m1 0h4m1 0h5m1 0h1m5 0h1m1 0h6m3 0h5m1 0h2m2 0h2m3 0h1m6 0h3m3 0h4m1 0h1m2 0h3m8 0h2m1 0h1m1 0h1M0 115h1m1 0h1m1 0h1m3 0h2m1 0h1m1 0h1m2 0h5m3 0h7m1 0h2m2 0h1m8 0h5m6 0h2m2 0h1m2 0h3m5 0h1m4 0h1m2 0h1m2 0h1m1 0h2m1 0h6m6 0h1m5 0h1m3 0h2m2 0h2m1 0h2m3 0h3m5 0h1m6 0h1m6 0h2m5 0h4m9 0h1m3 0h1M4 116h1m1 0h1m2 0h1m3 0h1m3 0h4m1 0h1m2 0h2m4 0h1m1 0h1m2 0h1m7 0h3m2 0h1m5 0h1m3 0h1m1 0h1m1 0h2m1 0h1m2 0h3m2 0h1m2 0h3m3 0h1m1 0h1m11 0h2m1 0h1m1 0h1m7 0h2m1 0h3m2 0h1m3 0h1m4 0h1m12 0h2m1 0h1m2 0h2m1 0h1m1 0h3M4 117h6m1 0h10m3 0h2m2 0h3m1 0h2m1 0h1m4 0h2m4 0h4m2 0h1m3 0h1m1 0h2m1 0h5m1 0h2m1 0h4m1 0h5m1 0h2m4 0h1m3 0h1m2 0h1m1 0h3m1 0h1m1 0h1m1 0h3m2 0h5m1 0h2m1 0h1m1 0h4m3 0h1m9 0h1m1 0h2m2 0h5m1 0h4m1 0h2m1 0h2m7 0h1M3 118h2m1 0h1m1 0h1m2 0h1m1 0h5m4 0h1m1 0h1m4 0h2m1 0h1m1 0h1m10 0h1m2 0h1m6 0h3m3 0h1m1 0h1m2 0h2m3 0h1m5 0h1m1 0h1m2 0h1m14 0h2m9 0h3m1 0h1m2 0h1m1 0h1m5 0h2m3 0h3m4 0h1m9 0h2m1 0h1m1 0h4m10 0h1M3 119h1m1 0h5m2 0h2m1 0h4m3 0h2m1 0h4m1 0h1m2 0h1m6 0h2m1 0h1m2 0h1m1 0h3m1 0h1m1 0h3m1 0h1m1 0h2m3 0h1m2 0h2m1 0h2m1 0h1m1 0h4m3 0h1m4 0h2m4 0h1m1 0h3m1 0h7m1 0h2m2 0h4m2 0h1m1 0h1m2 0h1m5 0h1m5 0h1m10 0h2m2 0h6m1 0h1m1 0h2m7 0h1M23 120h1m3 0h1m27 0h1m21 0h3m18 0h1m22 0h1m28 0h2m5 0h1m2 0h1M1 121h1m4 0h2m4 0h2m1 0h4m1 0h1m1 0h2m1 0h1m2 0h1m1 0h1m1 0h2m9 0h1m1 0h2m1 0h6m1 0h2m2 0h4m2 0h2m2 0h2m1 0h2m2 0h1m2 0h3m2 0h2m6 0h1m4 0h1m3 0h4m1 0h1m2 0h4m1 0h1m1 0h3m19 0h1m5 0h1m1 0h2m1 0h9m2 0h1m5 0h3M6 122h1m2 0h1m2 0h1m3 0h2m2 0h1m1 0h2m1 0h2m1 0h1m1 0h1m9 0h2m1 0h3m1 0h5m1 0h5m1 0h2m2 0h1m1 0h2m1 0h6m1 0h2m3 0h1m5 0h2m8 0h2m1 0h2m1 0h1m2 0h1m2 0h2m1 0h4m1 0h1m6 0h1m8 0h1m4 0h2m4 0h6m1 0h4m1 0h1m3 0h2m3 0h4M7 123h1m3 0h1m1 0h1m4 0h2m6 0h1m7 0h1m5 0h2m1 0h1m2 0h1m1 0h5m3 0h1m1 0h1m2 0h1m1 0h1m1 0h2m1 0h1m1 0h1m1 0h1m2 0h3m2 0h1m1 0h1m8 0h1m3 0h1m1 0h1m2 0h2m10 0h3m3 0h1m16 0h1m4 0h1m4 0h3m1 0h7m3 0h3m1 0h2m1 0h3M2 124h1m6 0h1m1 0h2m2 0h2m3 0h1m2 0h1m1 0h6m8 0h3m3 0h1m1 0h1m1 0h6m1 0h6m1 0h4m1 0h3m1 0h3m2 0h3m3 0h2m15 0h1m1 0h3m5 0h2m2 0h2m16 0h1m12 0h2m1 0h2m1 0h6m3 0h1m2 0h4m1 0h1M1 125h1m1 0h2m3 0h4m1 0h5m1 0h2m2 0h1m1 0h6m1 0h1m3 0h1m1 0h4m1 0h1m1 0h2m1 0h7m1 0h1m1 0h4m1 0h1m1 0h2m1 0h2m1 0h1m3 0h3m1 0h1m1 0h1m3 0h1m2 0h1m1 0h4m3 0h2m2 0h2m4 0h1m2 0h1m2 0h3m1 0h2m1 0h1m8 0h1m1 0h2m1 0h3m1 0h2m2 0h3m2 0h2m1 0h2m1 0h3m1 0h1m1 0h1m1 0h4m1 0h3M3 126h1m2 0h1m4 0h1m1 0h1m2 0h1m3 0h1m4 0h1m2 0h3m4 0h1m2 0h1m1 0h1m7 0h3m3 0h1m4 0h5m1 0h1m2 0h2m6 0h2m24 0h1m1 0h1m7 0h1m1 0h2m16 0h1m10 0h1m2 0h2m2 0h4m3 0h1m5 0h3m1 0h2M6 127h2m1 0h1m1 0h1m2 0h1m1 0h3m1 0h1m9 0h1m1 0h2m2 0h1m8 0h5m4 0h1m4 0h4m1 0h3m1 0h1m1 0h4m1 0h1m1 0h2m3 0h3m3 0h1m3 0h1m5 0h1m14 0h2m1 0h1m7 0h1m3 0h1m4 0h3m2 0h1m4 0h2m2 0h2m1 0h1m1 0h1m7 0h1m3 0h1m1 0h3M6 128h1m2 0h1m1 0h1m3 0h2m1 0h1m1 0h1m4 0h1m2 0h5m1 0h1m1 0h1m4 0h2m5 0h2m1 0h2m2 0h2m3 0h1m1 0h1m2 0h1m3 0h2m1 0h2m2 0h3m2 0h1m1 0h1m9 0h1m16 0h2m1 0h1m1 0h1m11 0h1m2 0h1m1 0h1m5 0h1m4 0h6m1 0h2m11 0h1m1 0h4M6 129h4m1 0h4m1 0h3m1 0h1m8 0h1m1 0h1m2 0h2m2 0h1m1 0h2m1 0h1m5 0h4m3 0h2m1 0h1m1 0h2m1 0h1m1 0h1m2 0h1m3 0h1m1 0h6m14 0h1m10 0h1m3 0h1m4 0h2m1 0h1m13 0h2m1 0h7m2 0h2m1 0h1m1 0h3m2 0h1m3 0h1m4 0h4m1 0h1M3 130h1m1 0h1m1 0h3m1 0h1m4 0h3m7 0h4m1 0h1m1 0h1m1 0h4m7 0h2m2 0h3m3 0h1m4 0h2m5 0h1m2 0h1m4 0h3m2 0h2m17 0h1m7 0h1m1 0h6m2 0h1m6 0h2m2 0h1m2 0h1m1 0h7m2 0h5m1 0h2m8 0h1m3 0h4m1 0h1M8 131h2m1 0h1m4 0h5m7 0h1m3 0h2m6 0h1m3 0h2m2 0h1m1 0h1m1 0h1m1 0h1m4 0h1m1 0h1m2 0h1m4 0h1m3 0h1m1 0h5m2 0h1m1 0h1m16 0h1m3 0h1m2 0h1m1 0h2m2 0h3m1 0h1m2 0h1m10 0h1m3 0h1m1 0h1m2 0h2m1 0h5m1 0h1m3 0h1m9 0h3m1 0h1M1 132h3m5 0h1m1 0h1m1 0h3m1 0h2m4 0h1m6 0h3m1 0h5m1 0h2m1 0h1m2 0h1m1 0h1m2 0h2m1 0h1m4 0h2m3 0h3m1 0h2m2 0h1m1 0h2m1 0h3m1 0h3m3 0h1m5 0h1m5 0h1m4 0h2m1 0h3m1 0h1m3 0h8m4 0h1m5 0h1m2 0h1m1 0h3m1 0h2m2 0h1m1 0h1m1 0h2m1 0h2m2 0h1m2 0h1m1 0h1m1 0h5M4 133h2m5 0h1m3 0h1m2 0h4m9 0h1m1 0h1m3 0h2m1 0h1m2 0h3m3 0h2m3 0h1m1 0h1m2 0h1m1 0h3m1 0h1m3 0h1m1 0h1m1 0h1m1 0h3m1 0h1m9 0h1m2 0h2m6 0h1m7 0h2m1 0h1m1 0h2m2 0h6m1 0h1m4 0h1m2 0h1m6 0h2m2 0h10m4 0h1m5 0h1m2 0h2M7 134h1m5 0h1m6 0h1m12 0h1m3 0h1m1 0h1m3 0h1m5 0h1m2 0h1m3 0h1m1 0h2m1 0h1m1 0h3m4 0h1m1 0h1m5 0h2m11 0h1m16 0h1m1 0h1m2 0h1m9 0h1m1 0h1m9 0h1m1 0h1m2 0h1m9 0h2m12 0h1M0 135h2m4 0h2m6 0h2m1 0h2m7 0h1m5 0h1m3 0h6m1 0h1m1 0h1m2 0h3m1 0h3m1 0h7m1 0h2m2 0h4m1 0h4m1 0h2m2 0h2m3 0h5m1 0h4m1 0h1m10 0h1m1 0h1m2 0h1m1 0h9m6 0h3m2 0h4m2 0h1m2 0h3m1 0h3m1 0h2m1 0h2m5 0h2m1 0h1m1 0h1M1 136h1m1 0h5m1 0h1m1 0h10m1 0h2m6 0h3m3 0h8m1 0h5m1 0h1m1 0h3m3 0h1m2 0h1m1 0h1m1 0h1m1 0h6m1 0h3m1 0h1m2 0h1m3 0h2m1 0h4m1 0h5m1 0h3m1 0h1m1 0h1m1 0h8m1 0h5m1 0h1m5 0h1m2 0h2m1 0h1m1 0h1m1 0h13m1 0h3m5 0h1m1 0h1m1 0h4M2 137h3m11 0h2m2 0h1m8 0h1m6 0h1m1 0h2m1 0h3m3 0h1m1 0h1m3 0h1m7 0h1m1 0h3m2 0h1m1 0h8m2 0h1m6 0h1m4 0h1m1 0h3m8 0h1m4 0h1m1 0h3m1 0h1m1 0h1m1 0h2m7 0h1m6 0h1m2 0h3m1 0h1m1 0h7m2 0h3m3 0h2m1 0h1m1 0h4M0 138h4m7 0h1m3 0h1m3 0h2m12 0h3m2 0h6m1 0h2m1 0h2m2 0h1m2 0h2m3 0h2m1 0h4m1 0h2m1 0h2m1 0h1m1 0h5m1 0h6m1 0h2m1 0h2m3 0h4m2 0h1m6 0h7m1 0h3m1 0h3m4 0h1m3 0h2m1 0h2m1 0h1m2 0h2m1 0h9m1 0h1m1 0h3m2 0h1m1 0h5M1 139h1m6 0h1m2 0h4m5 0h1m5 0h1m11 0h5m3 0h1m1 0h6m1 0h16m3 0h3m3 0h1m1 0h3m1 0h3m2 0h8m2 0h1m8 0h1m2 0h2m1 0h1m1 0h1m1 0h1m8 0h1m1 0h3m1 0h1m1 0h1m3 0h3m2 0h3m1 0h1m1 0h3m1 0h3m2 0h1m2 0h1m1 0h3M0 140h1m3 0h1m1 0h1m9 0h2m8 0h1m6 0h1m2 0h1m3 0h2m6 0h2m1 0h1m1 0h1m1 0h1m3 0h1m1 0h3m4 0h1m1 0h3m2 0h3m1 0h2m1 0h4m1 0h1m2 0h1m1 0h3m2 0h1m14 0h1m3 0h2m1 0h2m1 0h1m6 0h1m3 0h1m1 0h3m1 0h1m1 0h3m2 0h3m1 0h1m1 0h3m4 0h1m1 0h1m2 0h2m1 0h1M0 141h4m4 0h1m8 0h1m5 0h1m9 0h1m7 0h2m2 0h2m2 0h2m3 0h1m1 0h2m5 0h4m3 0h1m3 0h1m1 0h2m1 0h3m1 0h2m2 0h2m1 0h3m1 0h4m1 0h2m5 0h1m6 0h2m3 0h3m1 0h1m9 0h1m1 0h5m5 0h3m1 0h1m2 0h1m5 0h2m1 0h2m1 0h2m1 0h3M1 142h4m3 0h2m13 0h1m9 0h1m4 0h6m1 0h1m3 0h2m1 0h1m3 0h6m6 0h1m3 0h1m1 0h3m1 0h7m1 0h1m1 0h1m1 0h1m2 0h3m2 0h5m10 0h1m4 0h1m1 0h1m8 0h2m2 0h3m1 0h1m1 0h1m4 0h1m1 0h1m12 0h1m2 0h1m1 0h3m1 0h1M0 143h2m2 0h1m3 0h1m16 0h1m1 0h1m2 0h1m2 0h1m4 0h1m2 0h6m2 0h1m1 0h1m2 0h2m1 0h6m2 0h1m3 0h1m2 0h4m1 0h9m1 0h2m1 0h2m3 0h2m2 0h1m2 0h1m1 0h1m1 0h1m3 0h1m2 0h1m4 0h1m3 0h1m6 0h1m3 0h7m2 0h1m3 0h1m3 0h2m3 0h1m1 0h2m3 0h3m3 0h1M0 144h2m1 0h2m1 0h1m1 0h1m3 0h1m6 0h2m2 0h1m1 0h1m1 0h2m4 0h1m5 0h1m1 0h1m2 0h1m4 0h5m2 0h6m2 0h1m5 0h6m1 0h1m1 0h1m2 0h3m1 0h1m2 0h3m1 0h6m8 0h1m1 0h1m2 0h2m9 0h1m5 0h1m1 0h2m1 0h3m1 0h6m3 0h1m2 0h2m7 0h1m1 0h3m4 0h1M0 145h4m12 0h1m3 0h1m9 0h1m5 0h1m2 0h3m7 0h1m5 0h1m1 0h2m1 0h2m1 0h1m5 0h1m1 0h1m2 0h1m1 0h2m1 0h7m1 0h12m3 0h1m3 0h3m11 0h1m8 0h1m2 0h3m1 0h3m1 0h2m1 0h1m2 0h1m8 0h1m1 0h1m6 0h5M0 146h2m1 0h1m4 0h2m4 0h1m21 0h1m1 0h1m2 0h1m3 0h1m2 0h1m1 0h2m4 0h5m1 0h1m1 0h3m3 0h4m2 0h4m4 0h8m2 0h3m2 0h2m1 0h1m1 0h1m4 0h4m7 0h1m8 0h1m2 0h3m2 0h2m2 0h1m7 0h3m1 0h1m3 0h1m1 0h1m3 0h1m1 0h2m1 0h1M3 147h2m15 0h1m1 0h1m11 0h1m4 0h3m1 0h1m1 0h2m1 0h1m1 0h1m4 0h2m3 0h3m1 0h1m3 0h1m2 0h1m1 0h1m1 0h2m1 0h2m2 0h3m1 0h1m1 0h1m5 0h2m1 0h1m4 0h1m2 0h1m3 0h4m1 0h1m14 0h1m3 0h3m1 0h2m1 0h1m2 0h1m13 0h2m3 0h3m3 0h1M1 148h1m4 0h1m1 0h2m8 0h2m4 0h1m8 0h1m4 0h1m2 0h1m1 0h1m1 0h1m2 0h4m1 0h1m4 0h1m2 0h1m8 0h9m2 0h6m1 0h4m1 0h1m3 0h2m3 0h1m1 0h2m2 0h5m1 0h3m1 0h3m3 0h1m1 0h1m5 0h1m3 0h1m2 0h1m1 0h1m1 0h1m2 0h1m4 0h1m1 0h1m6 0h1m2 0h6M2 149h3m1 0h3m3 0h2m4 0h1m1 0h1m4 0h4m8 0h1m1 0h2m2 0h1m2 0h1m2 0h1m1 0h2m3 0h1m1 0h1m3 0h1m5 0h5m1 0h13m2 0h4m2 0h6m1 0h3m1 0h1m4 0h2m3 0h3m10 0h2m1 0h2m1 0h1m2 0h1m1 0h1m1 0h2m2 0h1m5 0h2m1 0h3m1 0h1m2 0h3m3 0h1M4 150h1m1 0h4m3 0h2m1 0h1m1 0h1m10 0h1m3 0h1m2 0h1m1 0h3m2 0h1m1 0h1m3 0h1m1 0h1m9 0h1m1 0h1m2 0h1m1 0h1m1 0h5m2 0h8m1 0h5m5 0h1m7 0h1m1 0h3m1 0h3m5 0h1m13 0h1m1 0h1m2 0h1m3 0h1m2 0h1m1 0h1m7 0h1m2 0h1m1 0h1m4 0h2m1 0h2M8 151h1m1 0h2m2 0h1m1 0h1m5 0h1m3 0h2m10 0h1m1 0h1m1 0h2m4 0h1m9 0h1m2 0h1m6 0h1m2 0h7m1 0h1m1 0h3m1 0h2m1 0h1m1 0h1m1 0h3m2 0h1m1 0h1m6 0h6m2 0h2m2 0h1m1 0h1m8 0h1m2 0h1m1 0h1m1 0h1m1 0h2m1 0h3m2 0h2m2 0h1m6 0h1m2 0h1m1 0h5M11 152h1m6 0h1m1 0h1m2 0h1m1 0h2m9 0h1m1 0h2m1 0h3m1 0h1m2 0h1m8 0h1m1 0h3m10 0h1m1 0h1m3 0h1m1 0h1m2 0h3m1 0h2m1 0h1m1 0h2m1 0h1m11 0h2m2 0h1m2 0h2m1 0h2m10 0h1m2 0h1m4 0h2m1 0h1m1 0h1m1 0h1m3 0h1m1 0h1m6 0h4m2 0h6M2 153h1m3 0h1m1 0h2m1 0h4m3 0h3m1 0h2m1 0h1m1 0h2m11 0h4m1 0h1m3 0h2m5 0h1m3 0h1m2 0h1m7 0h1m1 0h2m1 0h5m1 0h3m1 0h5m2 0h2m2 0h1m1 0h1m6 0h5m4 0h1m1 0h3m5 0h1m1 0h1m1 0h1m2 0h2m3 0h3m1 0h2m2 0h1m1 0h2m2 0h1m7 0h7m1 0h2M14 154h1m2 0h1m1 0h1m2 0h2m1 0h4m4 0h1m2 0h1m2 0h3m18 0h2m10 0h2m1 0h1m1 0h2m5 0h1m2 0h1m1 0h3m1 0h2m2 0h1m1 0h1m3 0h1m4 0h3m1 0h1m3 0h1m1 0h1m1 0h1m13 0h1m1 0h1m1 0h3m1 0h2m2 0h2m2 0h1m2 0h1m14 0h1M1 155h1m6 0h1m2 0h1m3 0h1m1 0h2m1 0h8m1 0h2m2 0h1m5 0h2m1 0h1m2 0h1m5 0h1m2 0h3m2 0h3m10 0h1m1 0h1m1 0h4m1 0h3m1 0h1m1 0h4m1 0h2m1 0h2m1 0h1m3 0h1m2 0h1m3 0h5m1 0h1m1 0h4m3 0h1m7 0h2m2 0h4m3 0h2m1 0h2m3 0h1m1 0h1m3 0h1m1 0h3m1 0h1m2 0h1M1 156h1m12 0h2m1 0h1m1 0h1m1 0h3m2 0h2m2 0h1m1 0h1m5 0h4m3 0h3m1 0h1m11 0h1m1 0h1m7 0h1m1 0h2m3 0h1m3 0h2m5 0h2m1 0h3m2 0h2m1 0h1m6 0h1m1 0h2m1 0h1m1 0h7m1 0h2m10 0h1m1 0h1m1 0h14m2 0h1m2 0h3m1 0h2m1 0h3M0 157h2m1 0h1m3 0h1m3 0h1m1 0h4m1 0h3m2 0h1m1 0h2m1 0h1m1 0h5m1 0h1m2 0h5m3 0h2m1 0h1m1 0h2m2 0h1m2 0h5m4 0h2m2 0h4m1 0h4m1 0h3m3 0h3m2 0h1m1 0h1m1 0h2m2 0h1m1 0h2m1 0h5m1 0h4m2 0h1m1 0h4m1 0h1m2 0h3m1 0h16m1 0h5m5 0h1m1 0h6M1 158h1m16 0h1m6 0h1m1 0h1m5 0h1m2 0h1m1 0h4m1 0h1m4 0h1m12 0h1m1 0h1m8 0h1m5 0h2m3 0h1m3 0h1m2 0h1m3 0h4m6 0h2m5 0h2m1 0h2m2 0h1m3 0h1m9 0h1m3 0h1m3 0h2m2 0h1m5 0h1m6 0h1M17 159h2m17 0h1m1 0h1m10 0h1m11 0h1m9 0h7m4 0h1m7 0h1m2 0h1m6 0h1m3 0h1m1 0h8m22 0h1m1 0h1m1 0h2m1 0h2m1 0h1m5 0h1m4 0h1M12 160h1m10 0h1m14 0h2m2 0h2m1 0h3m12 0h2m1 0h1m8 0h1m1 0h1m7 0h1m2 0h1m11 0h1m5 0h1m3 0h1m1 0h1m3 0h1m10 0h1m7 0h1m4 0h1m1 0h1m2 0h1m2 0h3m4 0h1M0 161h1m2 0h2m15 0h1m2 0h1m8 0h1m3 0h2m1 0h2m1 0h2m1 0h3m1 0h1m1 0h1m7 0h1m1 0h1m11 0h2m1 0h4m1 0h1m1 0h2m8 0h1m3 0h2m6 0h1m3 0h6m14 0h1m2 0h1m1 0h1m2 0h1m3 0h2m1 0h1m1 0h2m1 0h3m3 0h1M0 162h2m1 0h1m14 0h1m1 0h1m12 0h1m2 0h1m1 0h2m1 0h2m2 0h1m1 0h2m3 0h1m3 0h1m2 0h1m1 0h1m3 0h2m3 0h3m1 0h7m1 0h3m2 0h1m1 0h1m14 0h1m1 0h4m1 0h2m2 0h1m13 0h1m2 0h2m3 0h3m3 0h2m1 0h1m2 0h1m2 0h1m4 0h1M0 163h2m1 0h2m1 0h4m5 0h2m1 0h1m3 0h1m11 0h4m1 0h5m1 0h6m1 0h1m1 0h1m4 0h1m1 0h3m4 0h3m1 0h1m1 0h1m2 0h1m2 0h1m2 0h1m6 0h1m1 0h1m2 0h1m10 0h10m1 0h2m4 0h1m16 0h2m1 0h1m1 0h1m1 0h1m1 0h3m1 0h2M3 164h2m6 0h1m2 0h1m1 0h1m1 0h1m1 0h1m2 0h1m1 0h1m9 0h2m1 0h1m1 0h3m2 0h5m2 0h1m1 0h1m1 0h6m1 0h1m1 0h2m1 0h3m1 0h1m1 0h5m1 0h1m1 0h4m3 0h1m2 0h1m5 0h1m3 0h1m3 0h2m2 0h3m2 0h2m1 0h2m1 0h1m1 0h1m5 0h1m6 0h1m4 0h1m3 0h2m1 0h1m1 0h2m1 0h3m1 0h1m1 0h1m5 0h1M0 165h2m7 0h1m3 0h1m1 0h1m16 0h2m4 0h2m4 0h1m1 0h4m1 0h1m2 0h1m1 0h1m4 0h1m4 0h1m2 0h1m6 0h4m3 0h2m2 0h1m4 0h1m4 0h1m12 0h2m1 0h4m1 0h1m1 0h2m17 0h2m5 0h3m1 0h1m1 0h1m1 0h2m5 0h1M2 166h1m5 0h1m1 0h1m22 0h1m2 0h1m1 0h1m2 0h1m3 0h1m2 0h2m2 0h1m4 0h1m1 0h1m5 0h1m2 0h2m3 0h3m6 0h1m21 0h1m1 0h1m5 0h2m1 0h3m1 0h3m1 0h2m21 0h1m3 0h3m1 0h2M5 167h3m10 0h1m14 0h1m6 0h2m1 0h1m1 0h1m2 0h2m6 0h2m1 0h1m1 0h1m4 0h1m2 0h3m1 0h1m2 0h2m1 0h2m1 0h2m6 0h1m3 0h1m1 0h1m4 0h1m7 0h1m2 0h1m1 0h2m1 0h2m1 0h2m17 0h1m3 0h1m2 0h1m3 0h5M4 168h1m4 0h1m22 0h5m1 0h2m1 0h1m1 0h1m2 0h1m2 0h1m3 0h2m1 0h3m2 0h1m1 0h2m4 0h1m1 0h1m1 0h1m1 0h1m1 0h2m1 0h2m1 0h2m2 0h2m1 0h1m1 0h3m8 0h1m1 0h1m1 0h1m1 0h4m1 0h2m1 0h3m2 0h2m1 0h1m1 0h1m1 0h1m2 0h1m6 0h2m2 0h1m2 0h3m1 0h2m1 0h1m1 0h1M3 169h4m1 0h1m20 0h1m3 0h1m2 0h2m4 0h1m9 0h1m2 0h1m3 0h3m3 0h2m1 0h2m5 0h1m1 0h2m1 0h2m1 0h2m3 0h1m3 0h1m2 0h1m12 0h1m3 0h1m2 0h1m2 0h1m6 0h2m2 0h1m2 0h1m1 0h2m7 0h2m5 0h1m1 0h4M0 170h2m1 0h2m1 0h1m1 0h2m6 0h1m9 0h1m1 0h1m4 0h1m2 0h1m1 0h3m2 0h1m4 0h1m2 0h2m1 0h3m1 0h1m1 0h1m3 0h2m2 0h2m1 0h1m2 0h4m2 0h2m1 0h3m1 0h2m1 0h2m3 0h2m2 0h2m3 0h1m3 0h3m2 0h5m1 0h8m1 0h1m1 0h1m1 0h1m13 0h2m2 0h1m2 0h1m1 0h1m1 0h1M1 171h1m1 0h2m2 0h2m8 0h1m8 0h1m2 0h4m1 0h4m5 0h2m2 0h2m3 0h1m1 0h1m1 0h6m1 0h3m5 0h1m5 0h1m1 0h1m2 0h2m2 0h2m1 0h2m3 0h2m13 0h1m1 0h2m2 0h3m2 0h2m1 0h2m1 0h3m3 0h2m6 0h2m2 0h2m1 0h1m5 0h2M1 172h1m1 0h1m1 0h2m1 0h1m11 0h1m4 0h1m1 0h2m5 0h4m3 0h1m4 0h4m4 0h1m3 0h4m3 0h1m11 0h1m1 0h1m2 0h1m2 0h1m2 0h1m5 0h3m2 0h1m7 0h3m2 0h5m2 0h1m1 0h2m7 0h1m16 0h1m4 0h3m5 0h1m7 0h1M2 173h1m2 0h1m1 0h1m1 0h1m16 0h3m3 0h1m4 0h1m1 0h1m1 0h1m1 0h4m1 0h5m1 0h2m1 0h1m3 0h3m4 0h3m1 0h1m1 0h1m2 0h2m1 0h3m1 0h1m1 0h2m2 0h1m1 0h2m2 0h2m1 0h1m3 0h2m4 0h1m1 0h2m1 0h1m3 0h5m3 0h1m1 0h1m3 0h2m3 0h1m5 0h1m3 0h1m2 0h3m1 0h2m3 0h3M3 174h2m1 0h4m18 0h1m1 0h2m1 0h3m1 0h1m1 0h2m2 0h4m5 0h1m4 0h1m2 0h1m11 0h1m2 0h1m1 0h1m1 0h2m1 0h2m1 0h1m1 0h6m2 0h2m9 0h1m2 0h4m1 0h4m1 0h1m1 0h1m3 0h1m1 0h3m2 0h1m3 0h1m14 0h1m8 0h1M1 175h6m1 0h2m3 0h1m1 0h1m5 0h1m6 0h1m1 0h1m2 0h2m1 0h1m1 0h2m1 0h3m1 0h1m1 0h2m1 0h1m5 0h1m2 0h4m1 0h1m14 0h1m2 0h2m4 0h1m1 0h12m4 0h2m1 0h1m1 0h2m2 0h1m1 0h4m1 0h2m1 0h1m1 0h4m1 0h1m14 0h2m1 0h2m5 0h1m4 0h2m1 0h1M33 176h1m13 0h1m1 0h1m12 0h1m36 0h2m28 0h1m3 0h1m12 0h1m1 0h1m11 0h1M1 177h1m4 0h3m4 0h1m12 0h1m3 0h1m22 0h1m44 0h1m3 0h1m11 0h1m14 0h1m2 0h1m11 0h1m17 0h1m2 0h2M4 178h1m8 0h1m13 0h1m54 0h1m6 0h1m12 0h2m2 0h1m20 0h2m2 0h1m2 0h1m8 0h1M0 179h1m7 0h1m40 0h1m6 0h1m26 0h1m3 0h1m4 0h2m4 0h1m26 0h2M3 180h1m16 0h1m18 0h1m3 0h1m3 0h1m7 0h2m20 0h1m19 0h2m10 0h1m16 0h1m25 0h1m3 0h1m11 0h1M0 181h1m25 0h1m3 0h1m16 0h2m10 0h1m41 0h1m25 0h1m11 0h1M1 182h1m11 0h1m1 0h1m1 0h1m10 0h1m28 0h1m20 0h2m26 0h1m4 0h1m6 0h1m9 0h1m12 0h2M11 183h2m40 0h1m3 0h1m1 0h1m8 0h1m1 0h1m2 0h1m30 0h1m11 0h1m38 0h1M4 184h1m13 0h1m5 0h1m3 0h1m6 0h2m1 0h1m3 0h1m2 0h1m2 0h1m3 0h1m8 0h1m6 0h1m9 0h1m7 0h1m7 0h2m9 0h1m3 0h1m5 0h2m1 0h1m10 0h1m11 0h1m2 0h1m2 0h1m3 0h1m10 0h1M2 185h1m16 0h1m6 0h1m1 0h1m3 0h1m8 0h1m3 0h2m3 0h1m17 0h1m9 0h2m7 0h1m8 0h1m18 0h1m13 0h1m9 0h2m2 0h1m6 0h1m2 0h2M0 186h1m42 0h1m7 0h1m30 0h1m2 0h1m1 0h1m8 0h1m10 0h1m11 0h1m5 0h1m16 0h1"/>
<path stroke="#cfd0e6" d="M3 0h1m2 0h1m5 0h1m1 0h1m5 0h1m1 0h1m1 0h1m18 0h1m15 0h1m4 0h1m7 0h1m3 0h2m1 0h1m6 0h1m9 0h1m1 0h1m1 0h1m3 0h1m2 0h2m1 0h1m6 0h1m8 0h2m24 0h1m11 0h1m1 0h1M5 1h2m2 0h1m1 0h1m2 0h2m1 0h1m1 0h1m3 0h2m10 0h1m4 0h2m5 0h1m10 0h2m10 0h1m9 0h1m3 0h2m10 0h1m1 0h1m2 0h3m2 0h1m1 0h3m9 0h1m4 0h2m5 0h1m1 0h1m9 0h1m9 0h1m6 0h1m4 0h1m1 0h1M1 2h1m3 0h1m5 0h1m1 0h1m1 0h3m4 0h1m14 0h1m8 0h1m1 0h1m7 0h3m4 0h1m8 0h1m2 0h2m2 0h3m1 0h1m4 0h1m3 0h1m1 0h1m1 0h2m3 0h1m3 0h2m2 0h1m18 0h1m10 0h1m4 0h2m16 0h1m2 0h1m2 0h1M33 3h1m3 0h1m4 0h1m3 0h2m11 0h1m10 0h1m6 0h3m8 0h1m6 0h1m1 0h3m3 0h1m1 0h1m1 0h3m1 0h1m4 0h1m21 0h1m3 0h1m1 0h2m2 0h1m5 0h1m4 0h1m1 0h2m1 0h1m3 0h1M0 4h1m11 0h1m4 0h1m14 0h1m2 0h2m1 0h2m2 0h1m5 0h2m8 0h2m3 0h1m4 0h1m3 0h1m3 0h1m1 0h2m1 0h2m14 0h1m2 0h2m9 0h1m2 0h3m11 0h1m1 0h1m11 0h2m18 0h1M0 5h3m5 0h2m2 0h1m11 0h1m10 0h1m3 0h1m6 0h1m4 0h1m6 0h1m5 0h1m11 0h1m1 0h1m2 0h1m13 0h1m3 0h1m4 0h2m1 0h2m3 0h1m7 0h1m28 0h1m5 0h1m5 0h2m1 0h1m1 0h1M1 6h1m10 0h1m1 0h1m17 0h1m2 0h1m2 0h1m2 0h3m3 0h1m3 0h1m22 0h1m2 0h1m2 0h1m1 0h1m13 0h1m4 0h2m3 0h1m1 0h2m6 0h1m8 0h1m2 0h1m1 0h1m4 0h1m9 0h2m17 0h1m1 0h1M0 7h1m1 0h1m9 0h2m26 0h1m1 0h1m4 0h2m19 0h1m3 0h2m26 0h2m1 0h1m6 0h1m5 0h1m4 0h1m44 0h1M0 8h1m1 0h1m2 0h1m5 0h1m1 0h1m3 0h1m5 0h1m8 0h1m37 0h2m7 0h1m11 0h1m3 0h1m3 0h2m2 0h1m45 0h1m11 0h1m1 0h1M12 9h2m5 0h1m9 0h1m13 0h1m2 0h1m1 0h1m1 0h1m5 0h1m6 0h1m2 0h1m3 0h1m1 0h1m13 0h1m10 0h1m11 0h1m34 0h1m15 0h1M2 10h1m9 0h1m12 0h1m16 0h2m3 0h1m12 0h1m1 0h1m1 0h1m3 0h1m1 0h1m3 0h2m3 0h1m2 0h1m3 0h1m4 0h1m17 0h1m17 0h2m6 0h1M0 11h1m3 0h1m12 0h1m6 0h1m6 0h1m12 0h1m1 0h2m2 0h1m12 0h1m4 0h1m11 0h1m2 0h1m2 0h1m3 0h1m3 0h3m14 0h1m13 0h1m13 0h1m24 0h2m1 0h1M3 12h1m3 0h3m1 0h1m14 0h1m1 0h1m10 0h1m8 0h1m9 0h2m3 0h3m8 0h1m5 0h2m2 0h4m6 0h1m3 0h1m1 0h1m2 0h1m13 0h1m5 0h1m1 0h1m4 0h1m5 0h1M4 13h1m2 0h1m4 0h1m9 0h1m1 0h1m5 0h1m10 0h1m7 0h1m1 0h1m1 0h1m4 0h1m4 0h2m1 0h2m1 0h1m8 0h1m1 0h3m14 0h1m8 0h1m23 0h1m31 0h1M6 14h2m7 0h1m9 0h2m2 0h1m2 0h1m18 0h1m11 0h1m4 0h1m11 0h2m3 0h1m6 0h1m15 0h1m3 0h1m9 0h2m1 0h1m16 0h1m4 0h1m4 0h1m1 0h1M1 15h1m4 0h1m2 0h1m4 0h1m1 0h1m7 0h1m1 0h1m2 0h1m16 0h2m3 0h1m1 0h1m4 0h1m1 0h1m4 0h1m4 0h1m10 0h1m3 0h1m2 0h1m3 0h1m2 0h1m17 0h1m6 0h2m4 0h1m29 0h1m4 0h1M5 16h1m6 0h1m75 0h1m39 0h1m5 0h1M2 17h2m8 0h2m1 0h2m3 0h1m1 0h1m1 0h1m6 0h2m21 0h1m2 0h2m1 0h1m1 0h2m17 0h1m1 0h1m2 0h1m2 0h2m4 0h2m8 0h1m2 0h1m2 0h1m11 0h2m5 0h1m10 0h1m21 0h1M1 18h1m1 0h1m1 0h1m1 0h1m9 0h1m1 0h1m2 0h1m6 0h1m12 0h2m1 0h1m1 0h1m7 0h1m3 0h5m5 0h1m4 0h1m7 0h1m3 0h1m1 0h1m3 0h1m3 0h1m6 0h1m7 0h1m3 0h2m1 0h1m4 0h1m2 0h1m1 0h1m6 0h2m6 0h1m15 0h1m1 0h1M0 19h1m5 0h2m4 0h1m5 0h1m7 0h1m4 0h1m6 0h1m12 0h1m10 0h2m9 0h1m6 0h1m4 0h1m2 0h1m2 0h1m2 0h1m13 0h2m7 0h1m4 0h2m1 0h1m28 0h2m11 0h1M6 20h1m4 0h1m2 0h1m3 0h1m13 0h4m1 0h1m4 0h1m20 0h1m4 0h1m12 0h1m3 0h2m30 0h2m11 0h1m7 0h1M0 21h3m1 0h2m3 0h1m2 0h3m3 0h1m1 0h1m14 0h3m1 0h1m5 0h2m2 0h1m2 0h1m3 0h1m3 0h1m2 0h1m2 0h1m15 0h1m2 0h1m5 0h1m3 0h1m3 0h1m5 0h1m8 0h2m3 0h1m2 0h1m2 0h1m10 0h1m10 0h1m3 0h1m1 0h1M0 22h1m1 0h2m2 0h2m3 0h1m2 0h1m2 0h1m3 0h1m7 0h1m5 0h1m9 0h3m6 0h1m2 0h1m1 0h1m3 0h1m14 0h1m6 0h2m18 0h1m2 0h1m10 0h2m1 0h1m2 0h4m16 0h1m8 0h1M0 23h1m1 0h1m1 0h2m1 0h1m1 0h1m1 0h2m3 0h1m1 0h2m17 0h1m1 0h1m2 0h2m9 0h1m8 0h1m10 0h1m1 0h1m6 0h1m2 0h1m1 0h3m7 0h1m10 0h2m1 0h1m5 0h1m2 0h2m1 0h1m4 0h1m14 0h1m2 0h1m2 0h1m1 0h1m4 0h2m5 0h1m3 0h1M5 24h1m7 0h1m3 0h3m15 0h1m1 0h2m4 0h1m2 0h2m8 0h1m1 0h1m6 0h1m15 0h1m3 0h1m5 0h2m1 0h2m11 0h1m5 0h1m1 0h1m9 0h1m2 0h1m9 0h2m3 0h1m1 0h2m7 0h1m1 0h1m3 0h1m4 0h1M0 25h1m6 0h1m1 0h1m1 0h1m3 0h2m1 0h1m15 0h2m1 0h1m7 0h1m1 0h1m29 0h1m3 0h1m6 0h1m3 0h1m8 0h1m6 0h1m3 0h1m2 0h3m2 0h2m1 0h1m3 0h1m13 0h1m2 0h2m10 0h1m3 0h4m3 0h1M0 26h1m1 0h1m1 0h1m1 0h2m1 0h1m3 0h1m3 0h1m21 0h1m2 0h1m6 0h1m13 0h1m1 0h1m4 0h1m2 0h1m2 0h1m8 0h1m2 0h2m2 0h1m7 0h1m10 0h1m2 0h1m8 0h2m1 0h1m1 0h1m11 0h1m4 0h1m13 0h1m3 0h1M0 27h1m6 0h1m1 0h1m3 0h2m20 0h1m4 0h1m15 0h1m6 0h1m8 0h1m8 0h1m2 0h2m4 0h1m1 0h1m6 0h1m21 0h2m2 0h1m1 0h1m5 0h1m9 0h1m16 0h1m1 0h1M2 28h1m4 0h2m18 0h1m20 0h1m5 0h1m2 0h1m12 0h2m1 0h1m1 0h1m2 0h1m5 0h2m3 0h1m1 0h1m2 0h1m1 0h1m1 0h1m16 0h1m1 0h1m1 0h1M2 29h1m2 0h3m1 0h1m1 0h3m17 0h1m5 0h1m5 0h2m23 0h2m3 0h4m9 0h1m1 0h2m2 0h1m2 0h1m7 0h2m1 0h1m3 0h1m5 0h1m1 0h2m3 0h4m13 0h1m7 0h1m13 0h1m2 0h1M1 30h1m1 0h5m4 0h1m1 0h1m9 0h2m6 0h1m3 0h1m1 0h2m2 0h1m8 0h1m2 0h1m7 0h1m4 0h1m8 0h1m4 0h1m1 0h2m1 0h1m3 0h1m4 0h1m2 0h1m1 0h2m3 0h1m1 0h2m6 0h1m3 0h3m1 0h1m2 0h1m4 0h1m12 0h1M5 31h1m2 0h1m4 0h2m7 0h2m2 0h3m1 0h1m4 0h1m1 0h1m4 0h1m4 0h2m9 0h1m3 0h1m1 0h1m8 0h1m1 0h2m2 0h1m1 0h1m3 0h2m2 0h2m3 0h1m3 0h1m2 0h1m5 0h1m3 0h1m4 0h1m6 0h1m1 0h3m1 0h2m8 0h1m9 0h1m1 0h1M6 32h1m4 0h2m2 0h1m2 0h1m10 0h2m13 0h1m18 0h1m4 0h1m7 0h3m1 0h3m1 0h2m1 0h1m7 0h1m8 0h1m1 0h1m11 0h4m8 0h1m32 0h1M0 33h1m6 0h6m2 0h1m1 0h1m1 0h1m7 0h1m2 0h2m5 0h1m27 0h1m6 0h1m2 0h1m1 0h1m3 0h4m7 0h1m2 0h1m9 0h2m1 0h1m7 0h1m1 0h1m1 0h1m1 0h1m4 0h3m1 0h1m17 0h1m2 0h1m5 0h2m2 0h1m1 0h2m1 0h1M5 34h2m6 0h2m5 0h1m10 0h1m5 0h1m1 0h1m1 0h1m9 0h1m6 0h1m6 0h1m10 0h3m5 0h1m1 0h1m4 0h1m2 0h1m3 0h1m2 0h1m5 0h1m11 0h1m7 0h1m3 0h1m10 0h1m17 0h1m2 0h1m2 0h1M7 35h1m1 0h1m3 0h1m1 0h1m3 0h1m7 0h1m3 0h2m4 0h1m1 0h1m11 0h1m14 0h1m3 0h1m3 0h1m10 0h1m20 0h1m16 0h1m2 0h1m3 0h1m4 0h1m1 0h1m11 0h1m15 0h1M5 36h1m6 0h2m2 0h2m1 0h1m3 0h1m1 0h1m6 0h1m4 0h1m15 0h1m5 0h1m5 0h2m2 0h2m4 0h1m4 0h2m4 0h1m7 0h1m11 0h1m2 0h1m13 0h1m11 0h1m23 0h1m7 0h1M7 37h2m2 0h1m4 0h2m4 0h2m7 0h1m2 0h1m4 0h2m2 0h1m6 0h2m1 0h1m3 0h1m6 0h1m3 0h1m4 0h1m4 0h1m1 0h1m3 0h2m1 0h1m2 0h2m2 0h1m10 0h1m8 0h3m1 0h2m2 0h1m1 0h1m2 0h1m1 0h1m2 0h1m2 0h1m2 0h2m8 0h2m1 0h2m7 0h1M6 38h2m6 0h1m2 0h1m9 0h1m4 0h1m27 0h1m5 0h1m5 0h1m1 0h1m5 0h1m7 0h1m3 0h1m6 0h1m9 0h1m3 0h1m1 0h1m14 0h2m1 0h1m3 0h1m1 0h1m8 0h1m1 0h1m1 0h1m6 0h1m2 0h1m3 0h1M5 39h1m3 0h1m2 0h1m3 0h2m4 0h1m7 0h2m2 0h1m1 0h1m1 0h1m22 0h3m2 0h1m2 0h2m4 0h2m1 0h1m1 0h1m4 0h2m13 0h2m14 0h3m6 0h1m7 0h1m1 0h2m1 0h1m22 0h3m2 0h1m1 0h1M42 40h1m8 0h1m12 0h1m5 0h1m15 0h1m3 0h1m12 0h1m7 0h1m7 0h1m6 0h2m5 0h1m23 0h1m3 0h1m2 0h1M8 41h2m9 0h1m7 0h1m7 0h1m2 0h1m3 0h2m16 0h1m1 0h2m1 0h2m1 0h1m5 0h1m1 0h1m33 0h1m3 0h1m3 0h1m7 0h1m2 0h1m4 0h1m3 0h1m9 0h1m13 0h1M5 42h1m1 0h1m7 0h1m1 0h1m2 0h2m8 0h3m1 0h1m3 0h2m11 0h1m9 0h1m2 0h1m7 0h1m2 0h1m1 0h1m6 0h2m2 0h1m1 0h1m3 0h1m1 0h1m19 0h3m5 0h4m2 0h1m3 0h2m1 0h2m7 0h1m5 0h1m9 0h1M16 43h3m5 0h1m6 0h2m3 0h2m4 0h1m2 0h1m22 0h1m11 0h1m8 0h1m24 0h3m2 0h1m6 0h2m7 0h4m11 0h1m12 0h1M16 44h1m5 0h1m1 0h1m1 0h2m6 0h1m1 0h1m1 0h2m2 0h1m5 0h1m2 0h1m1 0h1m4 0h1m16 0h1m8 0h1m38 0h1m10 0h1m12 0h1m4 0h1m3 0h1m9 0h1M0 45h1m3 0h1m7 0h1m11 0h1m1 0h1m4 0h1m4 0h1m2 0h1m8 0h1m8 0h1m6 0h2m11 0h2m1 0h2m4 0h1m14 0h2m7 0h1m2 0h1m2 0h1m3 0h1m3 0h1m1 0h1m2 0h1m3 0h1m1 0h1m1 0h2m1 0h2m12 0h1m5 0h1M9 46h1m2 0h1m3 0h1m5 0h3m2 0h1m2 0h1m6 0h1m15 0h1m8 0h1m11 0h1m2 0h2m5 0h1m1 0h1m1 0h1m21 0h1m5 0h1m7 0h2m6 0h2m6 0h1m4 0h1m10 0h1m6 0h1M0 47h1m1 0h1m1 0h1m8 0h1m1 0h1m2 0h2m2 0h1m1 0h2m3 0h1m1 0h2m3 0h2m11 0h2m2 0h3m1 0h2m1 0h2m3 0h1m2 0h2m12 0h1m5 0h1m3 0h1m1 0h1m9 0h1m4 0h3m1 0h2m2 0h1m2 0h1m5 0h1m2 0h2m2 0h4m5 0h3m15 0h1m1 0h1m2 0h4M5 48h1m5 0h1m6 0h1m3 0h1m1 0h2m13 0h1m1 0h2m10 0h1m14 0h1m13 0h5m9 0h1m8 0h2m3 0h1m5 0h1m2 0h1m6 0h1m9 0h1m1 0h1m1 0h2m18 0h1M8 49h1m9 0h2m3 0h2m15 0h1m4 0h1m12 0h1m5 0h1m5 0h1m31 0h1m2 0h1m12 0h1m2 0h1m1 0h1m2 0h1m3 0h1m10 0h1m4 0h1m8 0h2M5 50h1m9 0h3m4 0h2m1 0h2m2 0h1m5 0h1m18 0h1m10 0h1m13 0h1m1 0h1m1 0h1m2 0h1m1 0h2m7 0h1m4 0h4m9 0h2m7 0h1m1 0h1m1 0h1m9 0h2m4 0h1m1 0h1m5 0h1m10 0h1M0 51h1m13 0h1m5 0h1m35 0h1m10 0h1m16 0h1m18 0h1m36 0h1m1 0h1m13 0h1M7 52h1m6 0h1m7 0h1m1 0h1m26 0h1m3 0h1m7 0h2m1 0h1m6 0h1m1 0h1m5 0h1m3 0h2m11 0h1m5 0h1m1 0h1m3 0h2m19 0h1m4 0h1m1 0h1m6 0h1m17 0h1M3 53h1m3 0h1m1 0h1m12 0h2m3 0h1m11 0h1m11 0h1m10 0h1m4 0h1m16 0h1m2 0h1m13 0h1m3 0h1m2 0h1m6 0h1m10 0h1m6 0h1m1 0h1m2 0h1m4 0h1m1 0h1m15 0h1m1 0h1m1 0h2m1 0h1M12 54h1m7 0h1m2 0h2m12 0h1m36 0h2m7 0h2m2 0h2m6 0h1m1 0h2m4 0h1m22 0h1m3 0h1m6 0h2m2 0h1m2 0h2m1 0h2m9 0h1m4 0h1M4 55h1m4 0h1m6 0h1m2 0h1m15 0h1m1 0h2m15 0h1m12 0h1m16 0h2m9 0h1m1 0h1m2 0h4m34 0h1m3 0h1m1 0h1m1 0h1m1 0h1m5 0h1m4 0h1M0 56h1m16 0h2m10 0h1m22 0h1m31 0h1m6 0h1m8 0h1m2 0h1m1 0h1m2 0h1m18 0h1m6 0h2m1 0h1m1 0h1m3 0h3m14 0h1M0 57h1m4 0h1m7 0h1m1 0h1m1 0h2m1 0h1m2 0h2m7 0h2m5 0h1m1 0h1m6 0h1m2 0h2m1 0h1m10 0h1m2 0h1m9 0h2m4 0h2m2 0h1m3 0h1m2 0h1m3 0h1m1 0h2m2 0h1m2 0h1m24 0h1m8 0h2m1 0h1m1 0h2m2 0h1m3 0h1m4 0h1m5 0h1M7 58h1m5 0h1m22 0h1m35 0h3m1 0h1m4 0h1m5 0h1m1 0h1m6 0h2m1 0h1m1 0h2m2 0h1m15 0h1m7 0h2m2 0h1m3 0h2m4 0h2m4 0h1m1 0h2m3 0h1M1 59h2m12 0h2m2 0h1m2 0h1m1 0h1m10 0h2m4 0h2m2 0h1m5 0h1m1 0h2m8 0h1m2 0h1m2 0h1m2 0h1m2 0h2m3 0h1m6 0h1m1 0h1m1 0h1m1 0h1m4 0h1m2 0h3m2 0h1m9 0h2m17 0h1m3 0h1m2 0h1m6 0h1m1 0h1m4 0h1m8 0h1M2 60h1m2 0h2m6 0h1m5 0h1m11 0h1m1 0h1m13 0h1m1 0h1m2 0h1m8 0h1m3 0h1m1 0h2m5 0h1m3 0h1m5 0h1m3 0h1m9 0h1m2 0h1m2 0h1m11 0h1m2 0h1m7 0h1m3 0h2m1 0h2m4 0h1m3 0h1m4 0h4m2 0h1m1 0h1m6 0h1M0 61h1m10 0h1m9 0h1m9 0h2m3 0h1m1 0h1m6 0h1m6 0h2m11 0h1m4 0h1m3 0h2m2 0h1m5 0h1m2 0h1m8 0h1m2 0h1m3 0h1m1 0h1m14 0h1m5 0h1m1 0h1m1 0h1m4 0h1m6 0h1m2 0h2m13 0h1m1 0h1m3 0h1M3 62h1m1 0h1m4 0h1m3 0h1m3 0h3m3 0h1m6 0h2m1 0h3m16 0h1m24 0h2m3 0h1m4 0h1m4 0h1m5 0h2m2 0h2m6 0h1m4 0h2m8 0h4m3 0h2m4 0h1m2 0h1m1 0h1m3 0h1m10 0h3M5 63h1m3 0h1m2 0h1m3 0h1m5 0h2m1 0h1m8 0h1m2 0h2m2 0h2m3 0h1m5 0h2m29 0h2m10 0h1m2 0h1m3 0h2m1 0h1m4 0h1m9 0h1m7 0h1m1 0h1m2 0h3m1 0h2M4 64h3m1 0h2m2 0h1m2 0h1m1 0h2m4 0h1m8 0h1m2 0h1m1 0h1m2 0h1m5 0h2m5 0h1m24 0h1m1 0h1m11 0h1m2 0h3m1 0h1m2 0h2m2 0h1m3 0h1m1 0h2m2 0h2m6 0h1m2 0h1m2 0h1m5 0h1m24 0h1m1 0h1m1 0h1m1 0h2M0 65h1m3 0h1m2 0h3m2 0h1m5 0h1m12 0h2m9 0h1m4 0h1m15 0h1m19 0h2m13 0h1m12 0h1m3 0h4m6 0h1m2 0h1m1 0h1m5 0h1m4 0h1m6 0h1m10 0h1m1 0h1M3 66h1m1 0h1m1 0h1m1 0h1m6 0h2m6 0h1m17 0h1m1 0h2m4 0h2m7 0h1m16 0h1m3 0h1m2 0h1m1 0h1m13 0h1m3 0h2m4 0h2m1 0h2m1 0h3m9 0h1m4 0h1m3 0h2m21 0h1m2 0h2M1 67h2m3 0h1m7 0h1m8 0h1m16 0h1m1 0h1m4 0h1m2 0h1m2 0h1m10 0h1m7 0h1m1 0h1m3 0h1m1 0h1m18 0h1m9 0h2m5 0h2m5 0h1m1 0h1m2 0h1m3 0h3m2 0h1m6 0h1m15 0h3m2 0h1m1 0h1M0 68h1m4 0h1m3 0h1m14 0h1m8 0h1m3 0h1m7 0h2m1 0h1m17 0h1m15 0h4m13 0h1m3 0h1m2 0h1m4 0h1m3 0h1m1 0h6m1 0h2m2 0h1m4 0h1m1 0h1m1 0h3m7 0h1m19 0h2M12 69h1m22 0h1m13 0h1m22 0h1m21 0h1m14 0h1m9 0h1m1 0h1m5 0h1m9 0h1m2 0h1m4 0h1m3 0h1m13 0h1m3 0h1M25 70h1m5 0h1m18 0h1m2 0h1m4 0h1m18 0h1m6 0h1m17 0h2m12 0h1m2 0h2m1 0h2m4 0h1m4 0h2m2 0h2m22 0h2m4 0h1M9 71h1m24 0h1m2 0h1m10 0h1m13 0h1m1 0h1m16 0h1m19 0h2m3 0h1m12 0h1m3 0h1m3 0h3m4 0h1m2 0h1m3 0h1m20 0h2m2 0h1M12 72h1m11 0h1m9 0h1m2 0h1m4 0h1m5 0h1m39 0h1m32 0h1m1 0h2m2 0h2m4 0h3m2 0h1m3 0h1m17 0h1M0 73h1m7 0h1m3 0h1m17 0h2m1 0h1m12 0h1m13 0h1m9 0h1m20 0h1m33 0h2m5 0h4m5 0h1m19 0h1M3 74h1m2 0h2m4 0h2m14 0h1m2 0h1m6 0h1m2 0h1m1 0h1m8 0h1m2 0h1m1 0h3m25 0h1m2 0h1m4 0h1m3 0h1m1 0h2m1 0h4m9 0h1m3 0h1m5 0h1m7 0h3m2 0h1m12 0h1M0 75h2m28 0h1m1 0h1m2 0h1m3 0h1m3 0h1m7 0h1m6 0h1m2 0h1m15 0h5m4 0h1m10 0h1m8 0h1m10 0h1m3 0h1m1 0h1m2 0h2m1 0h1m2 0h3m1 0h1m26 0h1M5 76h1m8 0h2m1 0h1m12 0h2m5 0h1m3 0h1m8 0h1m9 0h2m2 0h1m22 0h2m6 0h1m12 0h2m4 0h1m13 0h1m1 0h1m4 0h1m1 0h1M5 77h3m1 0h1m2 0h1m17 0h1m3 0h1m1 0h2m1 0h1m1 0h1m1 0h1m8 0h1m2 0h1m1 0h1m6 0h1m1 0h1m3 0h1m3 0h1m1 0h1m3 0h2m4 0h1m6 0h1m1 0h2m5 0h4m4 0h1m3 0h1m2 0h1m2 0h5m2 0h1m4 0h1m4 0h1m10 0h1m2 0h1m4 0h2m4 0h1m4 0h1M12 78h1m21 0h1m6 0h2m3 0h2m7 0h1m2 0h1m7 0h1m6 0h1m2 0h1m3 0h1m7 0h1m25 0h2m3 0h1m6 0h1m5 0h1m5 0h1m4 0h1m12 0h1M5 79h5m2 0h1m4 0h1m13 0h1m1 0h2m1 0h1m2 0h2m1 0h2m3 0h1m7 0h3m11 0h2m10 0h1m4 0h3m5 0h1m20 0h1m1 0h3m1 0h1m2 0h1m12 0h1m18 0h1m2 0h1m4 0h2m1 0h1M2 80h2m1 0h1m3 0h1m8 0h1m3 0h1m1 0h1m10 0h1m1 0h1m1 0h3m1 0h1m2 0h1m3 0h3m7 0h1m8 0h1m8 0h2m5 0h2m6 0h2m6 0h1m16 0h1m8 0h1m7 0h1m2 0h1m17 0h1m6 0h1m1 0h1M1 81h1m3 0h1m6 0h1m4 0h1m4 0h1m6 0h1m6 0h1m2 0h1m1 0h2m9 0h2m3 0h2m4 0h1m7 0h1m1 0h1m1 0h1m1 0h2m7 0h1m2 0h1m4 0h1m10 0h1m10 0h6m1 0h1m2 0h2m2 0h1m8 0h1m1 0h2m1 0h3m13 0h1M0 82h1m1 0h3m6 0h1m10 0h1m1 0h1m3 0h1m3 0h1m3 0h1m1 0h2m3 0h1m2 0h1m1 0h1m2 0h2m3 0h1m1 0h1m4 0h2m7 0h3m3 0h2m3 0h3m2 0h2m9 0h3m14 0h2m1 0h1m1 0h3m1 0h3m2 0h1m1 0h1m9 0h1m13 0h2m5 0h1m2 0h1M5 83h1m7 0h1m5 0h1m3 0h1m2 0h1m19 0h2m1 0h1m3 0h2m17 0h1m2 0h1m1 0h2m3 0h1m2 0h2m14 0h1m14 0h1m1 0h2m3 0h1m1 0h1m1 0h2m1 0h1m4 0h1m20 0h1m5 0h4m1 0h1M6 84h1m51 0h1m5 0h1m6 0h1m14 0h1m38 0h1m4 0h1M5 85h2m6 0h1m13 0h1m11 0h1m3 0h1m12 0h1m3 0h1m3 0h1m1 0h1m1 0h1m2 0h1m8 0h2m13 0h1m13 0h1m1 0h1m3 0h3m7 0h1m1 0h1m7 0h2m6 0h1m11 0h1m2 0h2m5 0h1M2 86h1m2 0h1m1 0h1m7 0h1m23 0h1m5 0h1m1 0h1m18 0h1m11 0h1m4 0h2m20 0h1m8 0h1m4 0h2m1 0h1m2 0h1m1 0h1m10 0h1m20 0h3m1 0h1m1 0h1M23 87h1m10 0h2m1 0h1m1 0h1m2 0h1m9 0h1m2 0h1m7 0h1m2 0h1m1 0h1m1 0h1m5 0h2m6 0h2m4 0h1m8 0h2m2 0h1m1 0h1m3 0h1m6 0h2m3 0h3m30 0h2m3 0h1m1 0h1m3 0h1m1 0h1M11 88h1m11 0h1m18 0h1m6 0h1m8 0h1m4 0h1m1 0h1m3 0h1m6 0h1m3 0h2m3 0h1m8 0h2m3 0h1m8 0h1m12 0h2m7 0h1m23 0h1m4 0h1m5 0h1m1 0h1M3 89h1m1 0h1m8 0h1m16 0h1m2 0h1m1 0h1m2 0h1m6 0h1m5 0h1m9 0h1m6 0h1m5 0h1m5 0h1m3 0h1m11 0h6m7 0h1m5 0h1m1 0h3m1 0h2m3 0h1m5 0h1m1 0h1m1 0h3m4 0h2m9 0h1m3 0h1m1 0h1M17 90h1m19 0h1m7 0h1m48 0h1m1 0h1m6 0h1m14 0h2m3 0h1m13 0h1m1 0h1m14 0h1m3 0h1M3 91h1m1 0h1m11 0h1m13 0h1m3 0h2m2 0h1m2 0h2m2 0h1m15 0h1m2 0h2m3 0h1m4 0h1m1 0h1m1 0h1m1 0h2m2 0h4m7 0h1m3 0h1m6 0h1m1 0h1m6 0h1m1 0h1m7 0h1m3 0h1m3 0h1m1 0h1m2 0h1m2 0h2m11 0h1m2 0h1m7 0h2M5 92h1m13 0h1m13 0h1m1 0h1m3 0h1m14 0h1m1 0h1m11 0h1m1 0h1m10 0h1m3 0h1m4 0h1m4 0h1m2 0h1m1 0h5m1 0h2m10 0h1m2 0h1m1 0h1m6 0h1m2 0h2m2 0h1m1 0h1m2 0h1m12 0h3m4 0h1m4 0h1M5 93h1m23 0h1m13 0h1m9 0h1m11 0h1m4 0h1m10 0h1m3 0h1m6 0h1m2 0h1m3 0h1m2 0h3m6 0h1m7 0h1m4 0h2m4 0h1m24 0h1m1 0h2m8 0h1M3 94h4m21 0h3m1 0h1m2 0h1m2 0h2m1 0h2m11 0h1m6 0h1m7 0h1m9 0h1m8 0h2m3 0h1m1 0h1m1 0h1m1 0h1m2 0h1m1 0h2m7 0h2m1 0h1m2 0h2m1 0h2m2 0h1m9 0h4m14 0h1m7 0h1m1 0h1m3 0h1M5 95h1m1 0h1m4 0h1m4 0h1m13 0h1m8 0h1m5 0h1m17 0h1m11 0h1m7 0h1m1 0h1m11 0h1m6 0h1m3 0h1m1 0h1m1 0h1m1 0h2m9 0h1m29 0h1m2 0h2M21 96h1m8 0h2m10 0h1m2 0h1m8 0h1m20 0h1m39 0h1m1 0h1m1 0h1m5 0h3m10 0h1m16 0h1m3 0h3m1 0h1M0 97h1m16 0h1m6 0h1m3 0h1m2 0h1m10 0h1m2 0h1m2 0h1m2 0h1m4 0h1m1 0h1m3 0h1m3 0h1m1 0h1m1 0h1m9 0h2m2 0h1m1 0h2m13 0h1m12 0h1m2 0h1m3 0h1m2 0h1m31 0h1m6 0h2m2 0h1M1 98h2m21 0h1m2 0h4m5 0h1m2 0h1m8 0h1m1 0h1m11 0h1m5 0h2m1 0h1m17 0h1m15 0h1m6 0h1m1 0h1m6 0h1m6 0h1m24 0h1m2 0h1m2 0h1m2 0h1m2 0h3M0 99h1m8 0h2m1 0h2m3 0h1m4 0h4m4 0h1m1 0h1m4 0h1m9 0h1m3 0h2m1 0h1m1 0h2m6 0h1m22 0h1m1 0h1m5 0h1m4 0h1m2 0h1m4 0h2m16 0h1m7 0h2m1 0h3m3 0h1m2 0h1m8 0h2m5 0h1m1 0h1m1 0h2M5 100h1m18 0h1m3 0h1m3 0h1m12 0h2m11 0h1m8 0h1m2 0h1m6 0h1m3 0h1m3 0h1m2 0h1m13 0h1m1 0h2m12 0h1m2 0h1m2 0h1m26 0h2m3 0h1m2 0h2m1 0h1m1 0h2M12 101h2m33 0h1m2 0h1m7 0h1m13 0h1m2 0h1m5 0h2m2 0h1m1 0h1m15 0h1m49 0h1m6 0h1M0 102h1m6 0h3m1 0h1m3 0h1m13 0h1m1 0h1m4 0h2m9 0h1m7 0h1m6 0h1m1 0h1m4 0h1m6 0h2m6 0h2m13 0h1m3 0h2m7 0h1m3 0h1m5 0h1m11 0h1m3 0h2m2 0h1m6 0h1m5 0h1m5 0h2m2 0h1M0 103h1m4 0h1m5 0h2m4 0h1m6 0h1m10 0h1m15 0h1m2 0h1m1 0h2m3 0h1m14 0h1m4 0h1m7 0h1m4 0h1m3 0h1m5 0h2m3 0h1m8 0h1m1 0h1m3 0h1m31 0h1m10 0h1M7 104h2m10 0h2m11 0h1m2 0h1m7 0h1m7 0h1m1 0h2m1 0h1m3 0h2m3 0h1m7 0h1m1 0h1m4 0h1m5 0h1m4 0h1m2 0h2m1 0h1m3 0h1m17 0h1m2 0h1m3 0h1m10 0h2m3 0h1m4 0h1m1 0h1m10 0h4m3 0h1M6 105h1m10 0h1m6 0h1m5 0h1m4 0h1m15 0h3m4 0h1m6 0h2m8 0h3m3 0h1m2 0h1m1 0h1m2 0h1m3 0h1m2 0h1m4 0h1m14 0h1m2 0h1m2 0h1m3 0h1m7 0h1m10 0h1M9 106h1m2 0h1m4 0h1m3 0h1m7 0h1m5 0h1m3 0h1m11 0h1m1 0h1m3 0h2m11 0h1m1 0h1m7 0h1m2 0h3m1 0h1m2 0h1m11 0h1m17 0h1m1 0h2m3 0h1m6 0h2m2 0h2m1 0h1m3 0h1m4 0h1m3 0h1M5 107h1m6 0h1m5 0h1m36 0h1m2 0h1m22 0h1m3 0h2m39 0h1m9 0h3m18 0h1m9 0h1M6 108h1m2 0h1m7 0h2m1 0h1m3 0h1m1 0h1m8 0h2m23 0h1m4 0h1m7 0h1m9 0h1m1 0h1m1 0h1m38 0h1m1 0h1m5 0h2m3 0h1m3 0h1m17 0h1m1 0h2M1 109h1m7 0h1m5 0h1m2 0h1m3 0h3m2 0h2m8 0h1m21 0h1m3 0h1m16 0h1m29 0h1m5 0h3m1 0h1m5 0h1m3 0h1m4 0h1m1 0h1m6 0h1m17 0h1m1 0h1M0 110h1m3 0h1m16 0h1m15 0h2m12 0h1m13 0h1m1 0h1m4 0h1m10 0h1m32 0h2m4 0h1m3 0h3m3 0h4m5 0h1m3 0h1M17 111h1m19 0h1m1 0h1m2 0h1m2 0h1m4 0h1m1 0h2m13 0h1m2 0h1m14 0h1m21 0h1m12 0h1m7 0h1m5 0h1m1 0h1m1 0h1m3 0h1m6 0h1m4 0h1m1 0h1m5 0h2m3 0h1M2 112h1m1 0h1m26 0h1m4 0h1m9 0h1m5 0h3m5 0h1m13 0h1m27 0h2m14 0h2m1 0h2m1 0h3m5 0h1m1 0h1m5 0h1m1 0h1m17 0h1m2 0h1M32 113h1m21 0h1m28 0h1m37 0h1m3 0h1m4 0h1m6 0h1m23 0h1m1 0h1M2 114h1m34 0h1m4 0h1m8 0h2m1 0h1m51 0h1m25 0h1m2 0h1m6 0h1m17 0h1m1 0h1M5 115h1m15 0h1m13 0h1m1 0h1m14 0h1m9 0h1m5 0h1m5 0h1m2 0h1m16 0h2m1 0h1m5 0h1m4 0h1m11 0h1m5 0h2m3 0h2m2 0h1m10 0h1m7 0h1m5 0h1m5 0h1M1 116h2m11 0h2m7 0h1m3 0h1m10 0h1m1 0h2m1 0h1m6 0h1m9 0h1m6 0h1m5 0h1m1 0h1m4 0h1m3 0h1m1 0h1m1 0h1m4 0h4m2 0h1m3 0h1m1 0h3m12 0h2m4 0h1m3 0h1m5 0h1m5 0h1m1 0h1m9 0h1m1 0h1m5 0h1M31 117h1m2 0h1m8 0h1m6 0h1m2 0h1m3 0h1m28 0h1m6 0h1m1 0h1m33 0h1m2 0h1m3 0h1m5 0h1m5 0h1m10 0h2m1 0h1m5 0h1M1 118h1m7 0h1m15 0h1m7 0h1m4 0h1m4 0h1m6 0h1m9 0h1m11 0h2m7 0h1m5 0h1m6 0h2m8 0h1m11 0h1m8 0h1m1 0h1m4 0h1m1 0h1m3 0h1m3 0h1m11 0h1m4 0h1m2 0h1m2 0h1m1 0h1M2 119h1m29 0h1m2 0h2m1 0h1m3 0h1m8 0h1m14 0h1m17 0h1m6 0h2m14 0h1m20 0h1m3 0h2m2 0h1m2 0h1m1 0h2m1 0h1m16 0h1m1 0h1m2 0h1M5 120h2m25 0h1m9 0h1m39 0h1m2 0h1m16 0h1m10 0h1m4 0h1m4 0h1m2 0h1m5 0h1m1 0h1m20 0h1M4 121h1m19 0h1m1 0h1m8 0h2m46 0h1m3 0h1m3 0h1m3 0h2m1 0h1m9 0h1m13 0h2m2 0h1m3 0h2m1 0h2m1 0h1m4 0h2m5 0h1m12 0h1M24 122h1m6 0h2m1 0h1m1 0h2m1 0h1m24 0h1m12 0h1m3 0h1m6 0h1m2 0h1m14 0h2m7 0h1m1 0h3m7 0h1m13 0h1m12 0h1m8 0h1M2 123h1m13 0h1m5 0h1m1 0h1m4 0h2m5 0h1m1 0h2m29 0h1m4 0h1m6 0h1m1 0h1m2 0h1m1 0h1m7 0h1m5 0h1m5 0h1m6 0h1m1 0h1m4 0h1m7 0h1m2 0h1m2 0h3m4 0h2m12 0h1M0 124h1m5 0h2m14 0h1m8 0h2m1 0h2m1 0h1m37 0h2m8 0h1m3 0h1m2 0h1m4 0h1m1 0h1m1 0h1m3 0h1m1 0h2m13 0h1m4 0h1m2 0h2m3 0h2m3 0h1m1 0h2m17 0h1M5 125h1m6 0h1m9 0h1m11 0h1m2 0h1m17 0h1m6 0h1m7 0h1m12 0h1m3 0h1m15 0h2m1 0h1m1 0h1m7 0h1m9 0h1m3 0h1m21 0h1M7 126h1m4 0h1m4 0h1m6 0h1m6 0h1m4 0h2m3 0h1m4 0h1m4 0h2m2 0h1m1 0h1m6 0h1m6 0h1m2 0h2m7 0h1m4 0h1m1 0h1m2 0h1m3 0h1m2 0h1m8 0h1m3 0h1m2 0h3m1 0h2m9 0h1m2 0h1m1 0h1m1 0h1m5 0h2m8 0h2m5 0h2M21 127h1m9 0h1m3 0h1m3 0h1m10 0h1m6 0h2m30 0h1m3 0h1m7 0h2m1 0h1m5 0h1m4 0h1m3 0h1m1 0h1m4 0h1m9 0h1m3 0h1m5 0h1m7 0h1M0 128h1m1 0h4m6 0h2m3 0h1m4 0h2m15 0h1m6 0h2m5 0h2m11 0h1m7 0h1m5 0h1m3 0h1m2 0h1m2 0h1m3 0h3m5 0h2m1 0h2m2 0h1m2 0h1m6 0h3m11 0h1m7 0h2m9 0h1m1 0h1m1 0h1m3 0h1M1 129h2m1 0h2m13 0h1m5 0h1m13 0h1m5 0h2m1 0h1m4 0h1m4 0h1m1 0h1m21 0h1m2 0h1m4 0h1m3 0h1m6 0h1m1 0h1m4 0h2m1 0h2m4 0h1m2 0h1m2 0h1m22 0h1m8 0h1m4 0h1M13 130h1m20 0h1m4 0h1m2 0h1m2 0h1m2 0h1m4 0h1m1 0h1m9 0h1m3 0h1m10 0h1m4 0h4m5 0h1m2 0h1m5 0h2m16 0h1m11 0h1m17 0h1m1 0h2m1 0h1M0 131h1m1 0h1m3 0h1m15 0h1m1 0h3m10 0h1m3 0h1m11 0h1m3 0h1m4 0h1m8 0h1m9 0h1m4 0h2m2 0h1m1 0h2m1 0h2m2 0h1m6 0h1m28 0h1m3 0h1m11 0h3m2 0h1m6 0h1M5 132h2m5 0h1m9 0h1m1 0h2m1 0h1m1 0h1m14 0h1m43 0h1m7 0h1m1 0h1m3 0h2m2 0h1m6 0h1m14 0h1m6 0h1m11 0h1m4 0h1m2 0h1m5 0h1M1 133h1m1 0h1m3 0h1m4 0h1m9 0h1m2 0h1m8 0h1m1 0h1m5 0h1m8 0h1m1 0h1m6 0h1m19 0h1m3 0h1m2 0h1m3 0h1m3 0h2m1 0h1m5 0h4m4 0h1m10 0h1m3 0h2m1 0h1m28 0h1m1 0h1m2 0h1M3 134h1m18 0h2m10 0h1m51 0h1m75 0h1M2 135h1m1 0h1m17 0h1m2 0h1m1 0h1m1 0h3m3 0h1m6 0h1m3 0h2m3 0h1m29 0h1m2 0h1m22 0h2m18 0h1m2 0h1m3 0h1m13 0h1m6 0h1m3 0h2M2 136h1m5 0h1m1 0h1m17 0h1m5 0h1m15 0h1m27 0h1m1 0h1m4 0h1m17 0h1m1 0h1m20 0h1m3 0h2M0 137h1m5 0h1m1 0h2m1 0h3m11 0h1m1 0h1m6 0h2m1 0h1m7 0h1m23 0h1m13 0h1m18 0h1m5 0h1m2 0h1m3 0h1m7 0h1m2 0h1m1 0h1m1 0h2m1 0h1m1 0h1m8 0h1M5 138h1m17 0h1m6 0h1m27 0h1m11 0h1m4 0h1m5 0h1m22 0h1m16 0h1m5 0h2m6 0h1m18 0h1m8 0h1M6 139h2m10 0h1m8 0h1m1 0h1m3 0h1m1 0h2m6 0h1m35 0h1m9 0h1m9 0h1m2 0h2m1 0h1m1 0h1m9 0h1m4 0h2m1 0h1m1 0h1m2 0h1m31 0h1M7 140h3m2 0h1m7 0h1m1 0h1m4 0h1m1 0h3m5 0h1m5 0h1m3 0h1m9 0h1m44 0h1m3 0h3m2 0h1m2 0h1m12 0h2m26 0h1m10 0h1M5 141h2m2 0h1m1 0h1m8 0h1m1 0h1m4 0h1m2 0h2m4 0h2m1 0h1m11 0h1m16 0h2m15 0h1m17 0h2m3 0h1m6 0h1m1 0h1m3 0h1m2 0h1m1 0h1M11 142h2m1 0h1m13 0h1m2 0h1m3 0h2m16 0h1m9 0h1m21 0h1m5 0h1m16 0h1m6 0h3m1 0h1m1 0h1m1 0h2m3 0h1m14 0h1m8 0h1m7 0h1m6 0h1M7 143h1m7 0h1m1 0h1m1 0h1m2 0h3m4 0h1m2 0h1m2 0h3m32 0h1m36 0h1m1 0h1m5 0h3m1 0h2m2 0h2m1 0h1m1 0h1m16 0h1m3 0h1m16 0h1M17 144h1m13 0h1m4 0h2m7 0h1m23 0h1m29 0h3m3 0h1m2 0h1m2 0h1m4 0h1m1 0h3m3 0h1m1 0h2m25 0h1m1 0h2m7 0h1M13 145h1m5 0h1m9 0h1m2 0h2m3 0h1m4 0h6m5 0h2m1 0h1m2 0h1m10 0h1m2 0h1m25 0h1m1 0h1m1 0h1m8 0h3m2 0h3m1 0h1m3 0h2m21 0h1m7 0h1M2 146h1m3 0h2m3 0h1m1 0h1m6 0h1m1 0h1m3 0h1m1 0h1m1 0h2m2 0h2m1 0h1m4 0h1m9 0h2m15 0h1m31 0h1m4 0h1m11 0h1m8 0h1m14 0h1m1 0h1m3 0h1m3 0h1m3 0h1M5 147h1m3 0h1m1 0h1m1 0h1m2 0h1m8 0h1m2 0h2m5 0h3m13 0h1m1 0h1m11 0h1m50 0h1m1 0h1m1 0h2m1 0h2m2 0h1m2 0h1m11 0h1m2 0h1M2 148h3m8 0h1m1 0h1m9 0h1m8 0h1m1 0h1m15 0h1m1 0h1m2 0h1m4 0h1m33 0h1m20 0h1m3 0h2m2 0h1m4 0h1m6 0h1m2 0h1m1 0h1m1 0h2m3 0h1m5 0h2m2 0h1M17 149h1m5 0h2m5 0h3m21 0h1m9 0h2m39 0h1m15 0h2m3 0h1m17 0h1m9 0h1m11 0h1M0 150h1m2 0h1m7 0h1m3 0h1m1 0h1m2 0h1m1 0h1m1 0h1m2 0h1m4 0h1m13 0h1m3 0h1m1 0h1m2 0h3m4 0h1m36 0h1m2 0h1m19 0h3m5 0h1m2 0h1m1 0h1m2 0h1m3 0h2m1 0h1m1 0h1m12 0h1m1 0h2m2 0h1M0 151h1m1 0h4m11 0h1m1 0h2m8 0h2m2 0h1m3 0h1m1 0h1m7 0h1m3 0h7m2 0h1m5 0h1m28 0h1m6 0h1m16 0h1m1 0h1m1 0h1m1 0h1m1 0h2m1 0h1m4 0h1m4 0h1m4 0h1M0 152h3m2 0h3m1 0h1m2 0h1m4 0h1m9 0h1m2 0h2m1 0h3m10 0h1m3 0h1m1 0h1m2 0h2m6 0h1m1 0h2m2 0h1m1 0h1m24 0h1m3 0h2m2 0h1m4 0h1m6 0h1m2 0h3m8 0h1m4 0h1m10 0h2m6 0h1M5 153h1m1 0h1m7 0h1m13 0h2m4 0h1m12 0h1m3 0h1m5 0h2m4 0h2m2 0h3m10 0h1m9 0h1m3 0h2m5 0h2m1 0h1m5 0h1m11 0h2m1 0h1m7 0h1m9 0h1m1 0h1m3 0h1m4 0h1M3 154h2m2 0h1m7 0h1m8 0h1m4 0h2m3 0h2m6 0h1m5 0h1m1 0h1m1 0h1m2 0h2m6 0h1m4 0h2m4 0h1m4 0h1m1 0h2m3 0h1m11 0h1m1 0h3m1 0h2m16 0h1m1 0h2m2 0h2m11 0h1m3 0h1m5 0h1m7 0h1m1 0h1m5 0h1M5 155h1m8 0h1m1 0h1m14 0h1m2 0h1m3 0h1m4 0h1m3 0h1m5 0h1m14 0h1m25 0h1m5 0h1m2 0h1m10 0h1m8 0h1m2 0h3m1 0h1m11 0h1m2 0h1m3 0h1m12 0h1m4 0h2M0 156h1m8 0h1m1 0h2m11 0h1m3 0h1m2 0h1m2 0h1m18 0h1m3 0h1m6 0h1m2 0h1m2 0h1m10 0h1m3 0h1m1 0h1m15 0h1m2 0h1m23 0h1M4 157h3m1 0h2m19 0h1m5 0h1m13 0h1m4 0h1m10 0h1m15 0h1m3 0h1m16 0h1m2 0h1m5 0h1m12 0h1m1 0h1m33 0h1M0 158h1m2 0h2m1 0h1m1 0h1m4 0h1m3 0h1m5 0h2m5 0h2m3 0h1m13 0h1m1 0h1m3 0h1m8 0h1m5 0h1m3 0h2m6 0h1m15 0h1m4 0h1m6 0h1m6 0h1m1 0h3m4 0h1m2 0h3m2 0h1m2 0h2m13 0h3m6 0h1m1 0h1m2 0h2M0 159h1m1 0h1m1 0h1m1 0h1m5 0h1m1 0h1m4 0h1m1 0h1m2 0h1m2 0h2m1 0h1m3 0h1m2 0h1m1 0h1m3 0h1m2 0h1m9 0h1m1 0h1m28 0h1m3 0h1m3 0h1m2 0h2m3 0h1m1 0h1m8 0h1m1 0h1m2 0h1m1 0h2m3 0h1m1 0h1m4 0h1m17 0h1m1 0h1m1 0h2m5 0h1m2 0h3M2 160h2m5 0h1m6 0h2m1 0h2m6 0h1m1 0h1m2 0h1m1 0h2m5 0h1m6 0h1m2 0h1m5 0h2m6 0h1m2 0h1m7 0h1m7 0h1m2 0h1m6 0h1m10 0h1m16 0h1m3 0h2m5 0h2m15 0h1m6 0h1m3 0h1m1 0h1m3 0h1M11 161h1m1 0h1m10 0h1m1 0h1m2 0h3m1 0h1m21 0h1m14 0h1m14 0h1m1 0h1m6 0h1m1 0h1m3 0h1m6 0h1m9 0h3m5 0h3m2 0h1m4 0h1m3 0h1m17 0h1m1 0h1m2 0h3M4 162h1m2 0h1m3 0h1m10 0h3m10 0h1m1 0h1m12 0h1m3 0h1m2 0h1m4 0h1m1 0h1m4 0h1m18 0h1m4 0h4m1 0h1m11 0h1m3 0h1m2 0h1m1 0h1m4 0h2m5 0h1m4 0h1m10 0h1m11 0h1m4 0h1m3 0h1M11 163h1m1 0h2m6 0h1m1 0h1m2 0h1m1 0h1m1 0h1m1 0h1m18 0h1m1 0h1m3 0h1m8 0h1m4 0h1m10 0h1m1 0h1m3 0h1m4 0h2m2 0h1m2 0h1m2 0h2m15 0h1m4 0h1m1 0h2m3 0h2m2 0h1m2 0h1m2 0h1m3 0h1m5 0h1m4 0h1m1 0h2M0 164h1m4 0h1m11 0h1m1 0h1m11 0h1m1 0h1m3 0h1m12 0h1m2 0h1m37 0h1m7 0h1m4 0h1m8 0h1m6 0h1m13 0h2m11 0h1m8 0h1m9 0h1M2 165h1m4 0h1m3 0h1m4 0h1m1 0h1m3 0h1m2 0h2m2 0h1m1 0h1m2 0h1m2 0h1m4 0h1m7 0h1m8 0h1m4 0h1m16 0h1m12 0h1m1 0h1m3 0h1m1 0h1m2 0h2m16 0h1m3 0h1m4 0h1m1 0h1m8 0h1m20 0h1m1 0h2M0 166h1m2 0h1m8 0h2m1 0h1m1 0h2m4 0h1m5 0h3m3 0h1m1 0h1m4 0h2m6 0h1m3 0h1m8 0h1m2 0h1m10 0h1m8 0h1m1 0h3m5 0h4m5 0h1m3 0h1m12 0h1m2 0h2m3 0h1m6 0h2m20 0h1m1 0h1m1 0h1m3 0h2M3 167h2m4 0h1m3 0h1m1 0h1m1 0h1m6 0h2m4 0h2m4 0h2m1 0h1m6 0h2m4 0h1m2 0h1m9 0h1m6 0h1m16 0h1m8 0h2m5 0h1m4 0h1m14 0h1m5 0h4m5 0h1m4 0h1m1 0h3m9 0h1m2 0h3M0 168h2m3 0h1m1 0h1m9 0h2m1 0h1m7 0h1m8 0h1m9 0h2m2 0h1m18 0h1m1 0h1m6 0h1m5 0h1m13 0h1m1 0h1m19 0h1m13 0h2m1 0h1m5 0h2m8 0h1m2 0h1m1 0h1m4 0h1m2 0h1M0 169h2m18 0h1m3 0h2m19 0h2m4 0h1m1 0h2m9 0h1m2 0h1m6 0h1m4 0h1m9 0h1m12 0h1m2 0h2m32 0h1m1 0h1m16 0h1m1 0h1m1 0h1m4 0h1M5 170h1m8 0h2m2 0h2m2 0h1m7 0h1m1 0h1m28 0h1m8 0h1m15 0h1m2 0h1m13 0h1m1 0h1m29 0h1m2 0h2m4 0h1m3 0h2m2 0h1m3 0h1m4 0h1M5 171h2m6 0h1m2 0h1m3 0h3m52 0h1m17 0h1m10 0h2m29 0h1m3 0h1m2 0h2m4 0h1m1 0h1m5 0h2m4 0h1m5 0h1M9 172h1m1 0h1m5 0h1m6 0h1m1 0h1m2 0h1m1 0h2m7 0h1m12 0h1m17 0h1m12 0h1m15 0h1m1 0h1m2 0h1m20 0h1m6 0h1m2 0h1m1 0h1m1 0h1m2 0h1m2 0h1m8 0h1m6 0h1m1 0h1m1 0h1M0 173h1m2 0h1m2 0h1m9 0h1m1 0h2m4 0h1m80 0h2m8 0h1m13 0h1m5 0h1m3 0h1m2 0h1m10 0h1m9 0h1M14 174h1m1 0h1m1 0h1m5 0h1m2 0h1m4 0h1m14 0h1m1 0h1m1 0h1m1 0h1m9 0h2m5 0h2m2 0h1m6 0h1m2 0h1m48 0h1m1 0h1m1 0h1m4 0h1m2 0h1m3 0h1m4 0h2m1 0h1m4 0h5M11 175h1m7 0h1m29 0h1m8 0h1m6 0h1m6 0h2m7 0h1m23 0h1m20 0h1m6 0h1m2 0h1m2 0h2m5 0h1m14 0h1M22 177h1m57 0h1M36 178h1m2 0h1m29 0h1M19 179h1m11 0h1m33 0h1m64 0h1m17 0h1M72 180h1m81 0h1M24 181h1m61 0h1m30 0h1M2 182h1m69 0h1m76 0h1M18 183h1m35 0h1m38 0h1m36 0h1m12 0h1m10 0h1M16 184h1m118 0h1M165 185h1M12 186h1m11 0h1m35 0h1m91 0h1m3 0h1"/>
<path stroke="#b6b6d8" d="M1 0h1m11 0h1m3 0h1m40 0h1m16 0h1m4 0h1m18 0h1m1 0h1m3 0h1m42 0h1m14 0h1M0 1h1m7 0h1m3 0h2m8 0h1m25 0h1m2 0h1m2 0h1m2 0h1m13 0h1m1 0h1m2 0h1m2 0h1m9 0h2m6 0h1m40 0h1m7 0h2m1 0h1m9 0h2m2 0h1M4 2h1m1 0h1m12 0h2m18 0h1m11 0h1m34 0h1m8 0h1m2 0h1m1 0h1m18 0h1m5 0h1m12 0h1m3 0h1m17 0h1M2 3h1m2 0h1m3 0h1m1 0h2m3 0h1m3 0h3m16 0h1m10 0h1m1 0h1m11 0h1m4 0h1m3 0h1m1 0h1m20 0h1m4 0h1m4 0h1m3 0h1m23 0h1m20 0h2m3 0h1m5 0h1M9 4h1m21 0h1m15 0h1m5 0h2m5 0h1m3 0h2m9 0h1m1 0h1m21 0h1m6 0h2m19 0h1m3 0h1m1 0h1m1 0h1m11 0h1m8 0h1m7 0h1M4 5h1m2 0h1m28 0h2m3 0h1m1 0h1m11 0h1m10 0h1m6 0h1m15 0h1m4 0h1m15 0h1m5 0h2m13 0h1m1 0h1m9 0h1m23 0h2M0 6h1m17 0h1m20 0h1m29 0h2m1 0h2m4 0h2m17 0h1m7 0h1m43 0h1m7 0h1m2 0h1m2 0h1M49 7h1m24 0h1m24 0h1m5 0h1m61 0h1M24 8h1m22 0h1m25 0h1m27 0h2m52 0h1M0 9h1m14 0h1m7 0h1m11 0h1m11 0h1m16 0h2m2 0h1m4 0h2m2 0h1m60 0h1m6 0h1m3 0h1m1 0h1M0 10h1m8 0h1m35 0h1m31 0h1m21 0h1M1 11h1m12 0h2m14 0h1m18 0h1m5 0h1m4 0h1m13 0h1m16 0h1m1 0h1m5 0h1m42 0h1m16 0h1M2 12h1m2 0h1m7 0h1m61 0h2m77 0h1M2 13h1m26 0h1m5 0h1m12 0h1m19 0h1m17 0h2m5 0h1m1 0h1m14 0h1m2 0h1m2 0h1m18 0h1m16 0h1m10 0h1M0 14h1m4 0h1m18 0h1m5 0h1m16 0h2m13 0h1m26 0h1m5 0h1m28 0h1m5 0h1M2 15h2m26 0h2m8 0h1m1 0h1m5 0h1m7 0h1m7 0h1m1 0h1m24 0h1m2 0h1m14 0h3m4 0h1m10 0h1m6 0h1M63 16h1m27 0h1m20 0h1M0 17h1m5 0h1m2 0h1m20 0h1m11 0h2m8 0h2m13 0h1m16 0h2m8 0h1m3 0h1m10 0h1m3 0h1m2 0h1M0 18h1m12 0h1m6 0h1m13 0h1m2 0h1m13 0h1m5 0h1m7 0h1m19 0h1m4 0h1m18 0h1m29 0h1m16 0h1M4 19h1m12 0h1m14 0h1m2 0h1m6 0h2m10 0h2m4 0h2m27 0h1m10 0h1m5 0h1m9 0h1m13 0h1m22 0h1M7 20h1m5 0h1m2 0h1m35 0h2m7 0h1m18 0h1m14 0h1m13 0h2m5 0h1m6 0h1m2 0h1m1 0h1M7 21h1m3 0h1m5 0h1m14 0h1m14 0h1m2 0h2m32 0h1m9 0h1m9 0h1m1 0h1m11 0h1m1 0h1m9 0h1m28 0h1m2 0h1m2 0h1m1 0h1M4 22h1m4 0h1m14 0h1m33 0h1m5 0h1m7 0h1m3 0h1m4 0h1m5 0h2m1 0h1m19 0h1m6 0h1m5 0h1m44 0h1M14 23h1m6 0h2m8 0h1m45 0h1m8 0h1m8 0h1m5 0h1m8 0h1m33 0h1m5 0h1m1 0h1M0 24h3m9 0h1m2 0h1m33 0h1m18 0h1m1 0h1m2 0h2m1 0h1m11 0h1m22 0h1m4 0h1m3 0h1m2 0h2m4 0h1m10 0h1m1 0h1m8 0h1m12 0h1m2 0h2M13 25h1m3 0h1m28 0h1m2 0h1m23 0h1m13 0h1m6 0h1m1 0h2m1 0h1m6 0h1m12 0h1m6 0h1m15 0h2m4 0h1M1 26h1m9 0h1m2 0h2m3 0h1m5 0h1m17 0h1m14 0h1m5 0h1m9 0h1m6 0h1m2 0h1m11 0h1m1 0h1m17 0h2m3 0h1m17 0h1m20 0h1m1 0h1M5 27h1m5 0h2m18 0h2m33 0h1m9 0h1m11 0h1m5 0h1m18 0h1m1 0h1m2 0h1m1 0h1m8 0h1m31 0h1m1 0h1M40 28h1m1 0h1m21 0h1m4 0h1m2 0h1m1 0h1m33 0h1m17 0h1m15 0h1M0 29h1m2 0h1m31 0h1m3 0h1m2 0h1m18 0h1m17 0h1m1 0h1m5 0h1m2 0h1m5 0h1m2 0h1m7 0h1m1 0h1m20 0h1m3 0h1m26 0h1M9 30h1m7 0h2m12 0h1m37 0h1m2 0h1m1 0h1m10 0h1m2 0h1m5 0h1m1 0h1m5 0h1m3 0h1m2 0h1m47 0h1m2 0h1m6 0h1M3 31h1m5 0h1m1 0h1m3 0h1m13 0h1m4 0h1m4 0h3m26 0h1m8 0h1m14 0h1m4 0h1m7 0h1m2 0h1m13 0h1m11 0h1m13 0h1m14 0h1M26 32h1m15 0h1m21 0h1m14 0h1m6 0h1m3 0h1m12 0h1m1 0h1m1 0h1m2 0h1m12 0h1m1 0h2m1 0h1m33 0h1M13 33h1m32 0h2m26 0h1m18 0h1m27 0h1m1 0h1m15 0h1M7 34h1m1 0h1m9 0h1m2 0h1m20 0h1m23 0h1m1 0h2m2 0h1m9 0h1m21 0h1m2 0h1m8 0h1m3 0h1m7 0h1m24 0h1m6 0h1M5 35h1m2 0h1m3 0h1m4 0h1m22 0h1m27 0h2m3 0h1m1 0h1m2 0h1m5 0h1m1 0h1m20 0h1m8 0h1m8 0h1m22 0h1m14 0h1M8 36h1m19 0h1m1 0h2m32 0h1m8 0h1m23 0h1m17 0h1m10 0h1m16 0h1m2 0h1m18 0h1M3 37h1m8 0h1m11 0h2m1 0h1m8 0h1m32 0h1m11 0h1m1 0h1m5 0h1m6 0h1m4 0h1m4 0h1m4 0h1m11 0h1m2 0h1m6 0h2m12 0h1m2 0h1m5 0h1m5 0h1m4 0h2M12 38h1m11 0h1m5 0h1m4 0h2m32 0h1m3 0h1m13 0h1m3 0h1m22 0h1m2 0h1m1 0h1m5 0h1m10 0h1m9 0h1m2 0h1m4 0h2m5 0h1m5 0h1M19 39h1m7 0h1m4 0h2m17 0h1m21 0h1m37 0h1m9 0h1M24 40h1m7 0h1m32 0h1m52 0h1m22 0h1m18 0h1m1 0h1M12 41h1m8 0h1m7 0h2m28 0h1m10 0h1m1 0h1m7 0h1m12 0h1m12 0h1m9 0h2m1 0h1m15 0h1m9 0h1m1 0h1M23 42h1m3 0h1m9 0h1m2 0h1m5 0h1m3 0h1m2 0h1m6 0h1m1 0h1m2 0h1m15 0h1m9 0h2m35 0h1m15 0h1m21 0h1M12 43h1m22 0h1m82 0h1m1 0h1m18 0h1m1 0h1m1 0h1m11 0h1M5 44h3m25 0h1m3 0h1m24 0h1M5 45h1m8 0h1m12 0h1m18 0h1m2 0h1m1 0h2m1 0h3m25 0h1m2 0h1m22 0h2m9 0h1m2 0h1m4 0h1m2 0h1m14 0h1m5 0h1m6 0h1M13 46h1m5 0h1m1 0h1m26 0h1m1 0h3m1 0h1m51 0h1m7 0h1m4 0h1m1 0h1m1 0h1m6 0h1m8 0h1m14 0h1M7 47h1m1 0h1m6 0h1m10 0h1m12 0h1m5 0h1m1 0h1m2 0h1m20 0h1m8 0h1m1 0h1m2 0h1m3 0h1m5 0h1m2 0h1m19 0h1m8 0h1m19 0h1M2 48h1m13 0h1m34 0h1m65 0h1m5 0h1m13 0h1M52 49h1m2 0h1m9 0h1m14 0h1m6 0h1m20 0h1m16 0h1m8 0h3m1 0h1m20 0h1M11 50h2m6 0h2m30 0h2m27 0h1m27 0h1m5 0h1m18 0h2m7 0h1m23 0h1M18 51h1m4 0h1m1 0h1m31 0h1m6 0h1m20 0h1m46 0h1m2 0h1m27 0h1M20 52h1m5 0h1m11 0h1m45 0h1m20 0h1m36 0h1m4 0h1m18 0h2M18 53h2m12 0h1m12 0h1m8 0h1m9 0h1m18 0h1m26 0h1m6 0h1m7 0h1m4 0h1m8 0h1m27 0h1M5 54h1m29 0h1m14 0h1m4 0h1m5 0h1m5 0h1m2 0h1m1 0h1m4 0h2m23 0h1m5 0h1m10 0h1m7 0h1m5 0h2m29 0h1m1 0h1M15 55h1m1 0h2m3 0h1m38 0h1m3 0h1m8 0h1m4 0h1m6 0h1m12 0h1m37 0h1m1 0h1m1 0h1M19 56h1m18 0h1m27 0h1m19 0h1m7 0h2m8 0h1m36 0h1M6 57h1m7 0h1m4 0h1m15 0h1m33 0h3m11 0h1m5 0h2m5 0h2m15 0h1m15 0h1m2 0h1m1 0h1m3 0h1m7 0h1m2 0h1m2 0h1m9 0h1M12 58h1m2 0h3m3 0h1m10 0h1m49 0h1m5 0h1m5 0h1m5 0h1m17 0h1m16 0h2m2 0h2m1 0h1m2 0h2m15 0h1M17 59h2m8 0h1m9 0h1m1 0h2m44 0h1m10 0h1m7 0h1m23 0h1m4 0h1m9 0h1m1 0h2m10 0h1m2 0h1m5 0h1M7 60h1m1 0h1m7 0h1m17 0h2m33 0h1m4 0h1m3 0h1m3 0h1m22 0h1m8 0h1m1 0h1m3 0h1m14 0h1m1 0h1m2 0h2m5 0h1m10 0h1M7 61h1m63 0h2m4 0h1m2 0h2m10 0h1m1 0h1m9 0h1m28 0h1m5 0h1m9 0h1m2 0h1m4 0h1M6 62h2m33 0h1m38 0h1m6 0h1m2 0h1m6 0h1m4 0h1m2 0h1m1 0h1m13 0h1m1 0h1m14 0h1m6 0h1m9 0h1M4 63h1m10 0h1m1 0h2m14 0h1m34 0h1m10 0h1m26 0h1m4 0h1m4 0h1m9 0h1m19 0h1m5 0h1m9 0h1m4 0h1M1 64h1m12 0h1m23 0h1m13 0h1m7 0h1m18 0h1m5 0h2m11 0h1m2 0h1m2 0h1m3 0h1m10 0h1m14 0h1m31 0h1M6 65h1m4 0h1m12 0h1m16 0h1m8 0h2m22 0h1m10 0h1m17 0h1m6 0h1m15 0h2m5 0h3m2 0h1m24 0h1M1 66h2m8 0h1m1 0h1m4 0h1m4 0h1m38 0h1m5 0h1m1 0h1m23 0h1m11 0h1m4 0h1m2 0h1m3 0h1m14 0h1m7 0h2m17 0h1m5 0h1M3 67h1m1 0h1m5 0h1m3 0h1m16 0h1m2 0h1m1 0h1m11 0h1m31 0h1m3 0h1m16 0h1m1 0h1m9 0h2m8 0h1m34 0h1m3 0h1M7 68h1m7 0h1m26 0h2m5 0h1m1 0h1m8 0h1m19 0h1m11 0h1m20 0h1m9 0h1m3 0h1m3 0h1m27 0h1m1 0h1M15 69h1m21 0h1m27 0h1m10 0h1m7 0h1m10 0h1m9 0h1m1 0h1m9 0h1m11 0h1m4 0h1m3 0h1m2 0h1m20 0h1M13 70h1m13 0h1m4 0h3m7 0h1m3 0h1m1 0h1m2 0h1m45 0h1m2 0h1m10 0h1m6 0h1m2 0h1m4 0h1m3 0h1m4 0h1m4 0h2M0 71h1m1 0h1m26 0h1m1 0h1m1 0h1m2 0h1m3 0h1m14 0h1m1 0h1m1 0h1m5 0h1m4 0h1m3 0h1m14 0h1m9 0h2m9 0h1m5 0h1m1 0h1m1 0h3m15 0h1M0 72h1m16 0h1m21 0h1m24 0h1m10 0h1m24 0h1m17 0h2m5 0h2m2 0h2M3 73h1m10 0h1m19 0h2m2 0h1m16 0h1m3 0h1m4 0h1m20 0h1m2 0h2m2 0h1m7 0h2m4 0h1m10 0h1m10 0h1m16 0h1m8 0h1m4 0h1M0 74h2m33 0h2m16 0h1m6 0h1m1 0h1m5 0h1m17 0h1m4 0h2m8 0h1m9 0h1m5 0h1m2 0h1m2 0h1m2 0h1m3 0h3m6 0h1M40 75h1m5 0h1m16 0h1m32 0h1m11 0h1m13 0h1m2 0h1m2 0h1m6 0h1m10 0h1M36 76h1m1 0h2m32 0h1m7 0h1m48 0h1m2 0h1m3 0h1M0 77h1m1 0h1m14 0h1m1 0h1m2 0h1m12 0h1m4 0h1m6 0h1m3 0h1m4 0h1m4 0h1m3 0h1m12 0h2m3 0h1m4 0h1m11 0h1m28 0h1m22 0h1m8 0h1m3 0h1M2 78h1m2 0h1m30 0h1m1 0h1m6 0h1m7 0h1m10 0h1m26 0h1m29 0h1m3 0h1m3 0h1m4 0h4M15 79h2m10 0h1m9 0h1m3 0h1m9 0h1m58 0h1m25 0h1m5 0h1m19 0h1M11 80h1m1 0h1m3 0h1m1 0h1m3 0h1m14 0h1m3 0h1m4 0h1m26 0h1m7 0h3m30 0h1m3 0h1m2 0h1m6 0h1m2 0h3m1 0h1m20 0h1M2 81h1m1 0h1m30 0h1m2 0h1m4 0h1m18 0h1m3 0h1m9 0h1m2 0h1m5 0h1m16 0h1m12 0h1m6 0h1m1 0h2m9 0h2m1 0h1m10 0h1m6 0h1m5 0h1m1 0h1M35 82h1m1 0h1m4 0h1m4 0h1m12 0h1m4 0h1m14 0h1m30 0h1m26 0h1m2 0h1m12 0h2m4 0h1m1 0h1m5 0h1M4 83h1m32 0h2m11 0h1m17 0h1m1 0h1m8 0h2m3 0h1m3 0h1m31 0h2m11 0h1m5 0h1m2 0h1m23 0h1M122 84h1m5 0h1m26 0h1M42 85h1m4 0h1m15 0h1m20 0h1m4 0h1m29 0h1m3 0h2m31 0h1m3 0h1M3 86h1m42 0h1m70 0h1m6 0h1m37 0h1M3 87h1m29 0h1m4 0h1m39 0h1m2 0h1m10 0h1m11 0h1m6 0h1m12 0h1m10 0h1m9 0h1m10 0h1m6 0h2M37 88h1m33 0h2m1 0h1m27 0h2m34 0h1m22 0h1M35 89h1m1 0h1m5 0h1m10 0h1m8 0h1m4 0h1m1 0h1m7 0h1m9 0h1m7 0h1m11 0h1m16 0h2m1 0h1m31 0h1m3 0h2m2 0h1M50 90h1m20 0h1m6 0h1m12 0h1m3 0h1m3 0h1m1 0h1m36 0h1m21 0h1m5 0h2M23 91h1m10 0h1m2 0h1m20 0h1m4 0h1m5 0h1m6 0h1m7 0h1m10 0h1m1 0h2m5 0h1m15 0h1m6 0h1m13 0h1m3 0h1m6 0h1m3 0h1m3 0h1m2 0h1m1 0h1M3 92h1m48 0h1m18 0h1m4 0h1m11 0h1m2 0h1m2 0h1m15 0h1m6 0h1m4 0h1m1 0h1m1 0h1m14 0h1m18 0h1m2 0h1m2 0h1M0 93h1m17 0h1m28 0h1m27 0h1m10 0h2m6 0h1m5 0h1m4 0h1m9 0h1m2 0h1m2 0h1m1 0h1m14 0h1m20 0h4M2 94h1m17 0h1m6 0h1m3 0h1m2 0h1m10 0h1m1 0h2m16 0h1m2 0h1m1 0h1m3 0h1m9 0h1m15 0h1m5 0h1m8 0h1m1 0h2m8 0h1m20 0h1m1 0h1m9 0h1m4 0h2M3 95h1m14 0h1m56 0h1m13 0h1m3 0h1m8 0h1m5 0h1m15 0h2m10 0h1m1 0h1m15 0h1M4 96h1m42 0h1m18 0h1m2 0h1m6 0h1m37 0h1M1 97h2m26 0h1m2 0h1m8 0h1m2 0h1m1 0h1m6 0h1m22 0h1m25 0h1m4 0h1m2 0h1m9 0h1m38 0h1m1 0h2m5 0h1M0 98h1m7 0h1m10 0h1m26 0h1m26 0h1m11 0h1m1 0h1m6 0h1m1 0h1m36 0h1m5 0h1m1 0h1m13 0h1M26 99h1m1 0h2m4 0h1m4 0h1m8 0h3m19 0h1m4 0h1m1 0h1m24 0h1m12 0h1m6 0h1m13 0h1m4 0h1m2 0h1m15 0h2M13 100h1m5 0h1m11 0h1m18 0h1m1 0h1m1 0h1m2 0h1m8 0h1m5 0h1m10 0h1m17 0h1m6 0h1m13 0h1m19 0h1m24 0h1M24 101h1m12 0h1m15 0h1m36 0h1m11 0h1m33 0h1m26 0h1M18 102h3m5 0h1m25 0h1m7 0h1m2 0h1m4 0h1m4 0h1m6 0h2m5 0h1m29 0h1m5 0h1M31 103h1m2 0h1m4 0h1m8 0h1m9 0h1m4 0h2m1 0h1m17 0h1m16 0h1m19 0h3m10 0h1m2 0h2m2 0h1m12 0h2m4 0h2M10 104h2m2 0h1m42 0h1m4 0h1m5 0h4m2 0h1m1 0h1m1 0h1m9 0h1m3 0h1m10 0h1m7 0h1m4 0h1m49 0h1M8 105h1m53 0h1m11 0h1m10 0h1m8 0h1m56 0h1m2 0h1M4 106h3m6 0h2m1 0h1m3 0h1m38 0h1m29 0h1m27 0h1m3 0h1m6 0h1m28 0h1m3 0h1M118 107h1m2 0h1m22 0h1m3 0h1M15 108h1m3 0h1m14 0h1m16 0h1m54 0h1m9 0h1m19 0h1M5 109h1m1 0h1m43 0h1m3 0h1m38 0h1m20 0h1m3 0h1m25 0h1m13 0h1M19 110h1m19 0h1m13 0h1m10 0h1m9 0h1m15 0h1m16 0h1m10 0h1m4 0h1m18 0h1m20 0h1M0 111h1m1 0h1m11 0h1m4 0h1m5 0h1m8 0h1m16 0h1m64 0h2m1 0h1m1 0h1m13 0h1m9 0h1m13 0h1m8 0h1M29 112h1m7 0h1m47 0h1m49 0h1m21 0h1m3 0h1m4 0h1M53 113h1m51 0h1m37 0h1M104 114h1m10 0h1m18 0h1m6 0h1m15 0h1m1 0h1M39 115h1m2 0h1m8 0h1m21 0h1m4 0h1m1 0h1m30 0h1m6 0h1m15 0h1m4 0h1m1 0h1m13 0h3m3 0h1M3 116h1m1 0h1m2 0h1m3 0h1m16 0h1m4 0h2m3 0h1m2 0h1m4 0h1m14 0h1m2 0h1m6 0h1m35 0h1m16 0h1m41 0h1M1 117h2m36 0h1m2 0h1m41 0h1m7 0h1m8 0h1m1 0h1m4 0h1m56 0h1m1 0h1M0 118h1m30 0h1m3 0h1m1 0h1m2 0h1m13 0h1m15 0h1m4 0h1m13 0h1m2 0h2m2 0h1m9 0h1m4 0h1m2 0h1m34 0h1m7 0h1m3 0h1m1 0h1M4 119h1m24 0h1m9 0h1m41 0h1m8 0h1m20 0h1m5 0h1m16 0h1m3 0h1m9 0h1M13 120h1m70 0h1m31 0h1m10 0h1m2 0h1M86 121h1m3 0h1m2 0h1m11 0h1m19 0h1m19 0h1M3 122h1m31 0h1m2 0h1m3 0h1m3 0h1m37 0h2m6 0h1m1 0h2m7 0h1m21 0h1m7 0h1m8 0h1m18 0h1M4 123h2m15 0h1m1 0h1m7 0h1m53 0h1m1 0h1m1 0h1m3 0h1m15 0h1m1 0h1m7 0h1m8 0h1m10 0h1m1 0h2M33 124h1m2 0h1m18 0h1m35 0h1m2 0h1m11 0h1m5 0h1m3 0h2m3 0h1m6 0h1M95 125h1m13 0h1m1 0h1m7 0h1m1 0h1M0 126h3m15 0h1m7 0h2m6 0h1m4 0h1m2 0h1m10 0h1m13 0h1m4 0h1m9 0h1m9 0h1m2 0h2m1 0h2m29 0h1m7 0h1m1 0h1m1 0h1m14 0h1m1 0h1M2 127h1m22 0h1m14 0h1m40 0h1m8 0h1m9 0h1m4 0h1m16 0h1m28 0h1M1 128h1m25 0h1m10 0h1m22 0h1m17 0h1m8 0h1m2 0h2m4 0h1m1 0h3m2 0h1m3 0h1m5 0h1m1 0h1m18 0h1m4 0h1m16 0h1m4 0h1M23 129h1m8 0h1m3 0h1m5 0h1m25 0h1m3 0h1m11 0h1m3 0h2m8 0h1m5 0h1m9 0h1m10 0h1m2 0h1m27 0h2M2 130h1m12 0h1m9 0h1m38 0h1m25 0h1m1 0h2m7 0h1m17 0h1m4 0h1m2 0h1M15 131h1m11 0h1m1 0h1m9 0h1m3 0h1m14 0h1m11 0h1m3 0h1m25 0h1m1 0h1m23 0h1m1 0h1m11 0h1m14 0h1m5 0h1M20 132h1m21 0h1m7 0h1m7 0h1m11 0h1m13 0h1m5 0h1m9 0h1m22 0h2m5 0h1m28 0h1M30 133h1m1 0h1m48 0h2m3 0h1m7 0h1m6 0h2m50 0h1M117 134h1m10 0h1M3 135h1m9 0h1m9 0h1m102 0h1m1 0h1m33 0h1M26 136h1m98 0h1M5 137h1m9 0h1m6 0h1m27 0h1m4 0h1m22 0h1m5 0h1m16 0h1m1 0h1m2 0h1m17 0h1m9 0h1m17 0h1M6 138h1m7 0h1m2 0h1m19 0h1m13 0h1m53 0h3m17 0h2m3 0h1m29 0h1M0 139h1m2 0h1m1 0h1m9 0h1m6 0h4m5 0h2m21 0h1m54 0h1m1 0h1m14 0h1M19 140h1m5 0h1m28 0h1m19 0h1m16 0h1m11 0h1m1 0h1m15 0h1m1 0h1m1 0h1m4 0h1m7 0h1m17 0h1m5 0h1M4 141h1m10 0h1m8 0h2m2 0h1m3 0h1m1 0h1m23 0h1m1 0h2m24 0h1m14 0h2m8 0h1m11 0h1m1 0h1m2 0h1m20 0h1m2 0h1M5 142h2m12 0h1m4 0h1m2 0h1m20 0h1m5 0h1m7 0h1m41 0h1m1 0h2m1 0h1m1 0h1m10 0h1m2 0h3m10 0h1m1 0h1m9 0h2m1 0h1m1 0h1M11 143h1m8 0h1m13 0h1m18 0h1m10 0h1m24 0h1m21 0h2m35 0h1m3 0h2m13 0h1M10 144h1m4 0h1m14 0h1m4 0h1m2 0h1m4 0h1m22 0h1m18 0h1m16 0h3m12 0h1m28 0h1m10 0h1m8 0h1M4 145h1m12 0h2m4 0h1m1 0h1m1 0h1m22 0h2m10 0h1m9 0h1m32 0h1m3 0h1m1 0h1m4 0h1m5 0h1m16 0h1m2 0h1m8 0h4m4 0h1m3 0h1M4 146h1m12 0h2m2 0h1m1 0h1m8 0h1m22 0h1m19 0h1m39 0h1m1 0h1m4 0h1m1 0h1m1 0h1m27 0h1m3 0h1m3 0h1M1 147h2m14 0h2m4 0h2m5 0h1m1 0h1m19 0h1m1 0h1m4 0h1m14 0h1m10 0h1m31 0h1m1 0h1m6 0h1m19 0h1m2 0h1m6 0h1m2 0h1M0 148h1m4 0h1m6 0h1m10 0h1m8 0h1m2 0h1m3 0h1m6 0h2m7 0h2m11 0h1m54 0h1m10 0h1m3 0h1m8 0h1m6 0h1M5 149h1m10 0h1m2 0h1m9 0h1m4 0h1m1 0h1m10 0h1m7 0h1m11 0h1m59 0h2m19 0h1M1 150h1m3 0h1m13 0h1m5 0h1m2 0h1m2 0h1m2 0h2m1 0h1m3 0h1m52 0h2m5 0h1m3 0h1m8 0h1m2 0h1m3 0h1m3 0h1m29 0h1M1 151h1m22 0h1m3 0h1m5 0h1m1 0h1m8 0h1m4 0h1m12 0h2m5 0h1m29 0h1m3 0h1m48 0h1m2 0h1M3 152h2m8 0h1m14 0h2m7 0h1m9 0h1m3 0h1m10 0h1m1 0h1m3 0h1m1 0h1m28 0h1m2 0h1m2 0h1m7 0h1m9 0h1m2 0h2m15 0h1m11 0h1M1 153h1m2 0h1m19 0h1m12 0h1m9 0h1m24 0h1m12 0h1m14 0h1m15 0h1m39 0h1M11 154h2m34 0h1m1 0h1m1 0h1m33 0h1m45 0h1m31 0h1m1 0h1M0 155h1m49 0h1m7 0h1m5 0h1m5 0h1m28 0h1m4 0h1m2 0h1m26 0h1m21 0h1m8 0h1M7 156h1m8 0h1m34 0h1m2 0h1m4 0h1m5 0h2m13 0h1m3 0h1m3 0h1m16 0h1m2 0h1m2 0h1m12 0h1m1 0h1m5 0h1m19 0h1m2 0h1M2 157h1m14 0h1m52 0h1m28 0h1m48 0h1m18 0h1M2 158h1m7 0h1m1 0h1m6 0h1m2 0h1m6 0h1m2 0h1m1 0h1m11 0h1m5 0h1m4 0h1m1 0h1m2 0h1m10 0h1m3 0h1m2 0h1m7 0h2m2 0h1m7 0h2m22 0h2m2 0h1m4 0h1m5 0h1m24 0h1M3 159h1m1 0h1m2 0h1m16 0h2m4 0h1m1 0h1m1 0h1m4 0h2m5 0h2m2 0h1m1 0h1m1 0h1m3 0h1m9 0h2m10 0h1m1 0h2m12 0h1m19 0h1m12 0h1m1 0h1M4 160h1m1 0h2m23 0h1m23 0h1m3 0h1m9 0h2m6 0h1m8 0h1m12 0h1m1 0h2m1 0h1m10 0h2m1 0h1m4 0h1m19 0h1m12 0h1m9 0h1M2 161h1m2 0h1m2 0h1m3 0h1m14 0h2m21 0h1m7 0h1m9 0h1m21 0h1m4 0h1m5 0h1m13 0h1m6 0h1m5 0h1M2 162h1m9 0h1m1 0h1m4 0h1m7 0h1m25 0h1m14 0h1m12 0h1m3 0h2m4 0h1m8 0h1m1 0h2m1 0h1m10 0h1m1 0h1m1 0h2m1 0h1m2 0h1m3 0h1m3 0h1m6 0h1m12 0h1m1 0h1M2 163h1m17 0h1m3 0h1m33 0h1m20 0h1m19 0h1m16 0h1m2 0h1m1 0h2m3 0h1m3 0h1m6 0h2m27 0h1M6 164h1m22 0h1m2 0h1m31 0h1m22 0h1m8 0h1m8 0h1m21 0h1m10 0h1m4 0h1m24 0h1M4 165h3m20 0h1m2 0h1m10 0h1m3 0h1m16 0h1m2 0h1m8 0h1m10 0h2m1 0h1m14 0h1m22 0h1m6 0h1m2 0h1m22 0h1m2 0h1M16 166h1m2 0h1m5 0h2m12 0h1m6 0h1m11 0h1m5 0h1m14 0h1m4 0h2m8 0h1m16 0h1m22 0h1m1 0h1m2 0h1m4 0h1m2 0h2m11 0h1m3 0h1M0 167h2m9 0h1m7 0h1m12 0h1m18 0h1m2 0h1m13 0h1m17 0h2m3 0h1m10 0h1m1 0h1m1 0h1m16 0h1m2 0h3m6 0h1m8 0h1m13 0h1M2 168h1m8 0h2m9 0h1m4 0h1m3 0h1m70 0h1m34 0h1m4 0h1M2 169h1m4 0h1m9 0h2m21 0h1m3 0h1m2 0h2m1 0h1m21 0h1m23 0h1m26 0h1m18 0h1m13 0h1m4 0h1M23 170h1m121 0h1m19 0h1M0 171h1m11 0h1m79 0h1m4 0h1m12 0h1m26 0h1M12 172h1m5 0h1m53 0h1m7 0h1m23 0h1m32 0h1M20 173h1m4 0h1m34 0h1m10 0h1m45 0h1m20 0h1m17 0h1M0 174h1m10 0h1m7 0h1m3 0h1m2 0h1m29 0h1m1 0h1m3 0h1m42 0h1m32 0h2m7 0h1m11 0h1M14 175h1m5 0h1m2 0h1m1 0h2m48 0h1m10 0h1m44 0h1m10 0h1m13 0h1m10 0h2M64 176h1m74 0h1m1 0h1M39 177h1m31 0h1M87 178h1M48 179h1m72 0h1m31 0h1M17 180h2m134 0h1M73 181h1m33 0h1M4 182h1m14 0h1m43 0h2m82 0h1m19 0h1M64 184h1m102 0h1M74 186h1m28 0h1m4 0h1m34 0h1m3 0h1"/>
<path stroke="#9995c6" d="M11 0h1m7 0h1m26 0h1m26 0h2m20 0h1m6 0h1M4 1h1m2 0h1m8 0h1m20 0h1m18 0h1m4 0h1m10 0h1m1 0h1m30 0h1m21 0h1m29 0h1M0 2h1m9 0h1m12 0h1m12 0h1m13 0h1m1 0h1m24 0h1m25 0h2m22 0h1m5 0h1m12 0h1m9 0h1m10 0h1M40 3h1m122 0h1m3 0h1M3 4h1m9 0h1m26 0h1m39 0h1m3 0h1m41 0h1m18 0h1m15 0h1m1 0h1m1 0h2m1 0h1M11 5h1m5 0h2m26 0h1m2 0h1m30 0h1m17 0h2m3 0h1m12 0h1m40 0h1M7 6h1m28 0h1m8 0h1m19 0h1m29 0h1m7 0h1m7 0h1m8 0h1m27 0h1m13 0h1m5 0h1M1 7h1m44 0h1m17 0h1m26 0h1m5 0h1m15 0h1m16 0h1M43 8h1m4 0h1m107 0h1m11 0h1M11 9h1m33 0h1m3 0h1m80 0h1M48 10h1m2 0h1m17 0h1m26 0h1M3 11h1m1 0h1m6 0h2m11 0h1m25 0h1m29 0h1m3 0h1m17 0h1m62 0h1M24 12h1m28 0h1m16 0h1m40 0h1m12 0h1M3 13h1m1 0h1m37 0h1m1 0h2m18 0h1m24 0h2m9 0h1m19 0h1M2 14h1m39 0h1m40 0h1M5 15h1m5 0h1m23 0h1m14 0h1m8 0h1m36 0h1m27 0h1M90 16h1M1 17h1m3 0h1m2 0h1m1 0h1m36 0h1m13 0h1m30 0h1m17 0h1m4 0h1m1 0h1m47 0h2M2 18h1m45 0h1m1 0h1m13 0h1m24 0h1m5 0h1m52 0h1M5 19h1m7 0h1m8 0h1m7 0h1m18 0h1m2 0h1M2 20h1m61 0h1m62 0h1m8 0h1m14 0h1M48 21h1m4 0h1m7 0h2m24 0h1m64 0h1M16 22h1m35 0h2m8 0h1m14 0h1m13 0h1m2 0h1m11 0h1m14 0h1m2 0h1m15 0h1m3 0h1m8 0h1m7 0h1M15 23h1m54 0h1m10 0h1m42 0h1m1 0h1m3 0h1m23 0h1m7 0h1M33 24h1m63 0h1m5 0h1m4 0h1m12 0h1m11 0h1m7 0h1M5 25h1m64 0h1m1 0h1m7 0h1m12 0h1m20 0h1m20 0h1m1 0h1m2 0h1M46 26h1m99 0h1M19 27h1m48 0h1m4 0h1m1 0h1m32 0h1m7 0h2m1 0h1m6 0h1M9 28h1m2 0h1m13 0h1m10 0h1m9 0h1m34 0h1m14 0h1m2 0h1m29 0h1m31 0h1M15 29h1m16 0h1m49 0h1m1 0h1m20 0h1m6 0h1m1 0h1m5 0h2m11 0h1m30 0h1M13 30h1m1 0h1m10 0h1m8 0h1m21 0h1m10 0h1m8 0h1m2 0h1m8 0h1m9 0h1m18 0h1m8 0h1m1 0h1M32 31h1m36 0h1m14 0h1m6 0h1m22 0h1M13 32h1m3 0h1m54 0h1m23 0h1m11 0h1m8 0h1m6 0h1m42 0h1M6 33h1m11 0h1m1 0h1m34 0h1m10 0h1m1 0h1m11 0h1m6 0h1m2 0h1m5 0h1m17 0h1m11 0h1M8 34h1m57 0h1m8 0h1m4 0h1m58 0h1m22 0h1m2 0h1M6 35h1m21 0h1m99 0h1M7 36h1m1 0h2m60 0h2m6 0h1m25 0h1m2 0h1m18 0h1m2 0h1m31 0h1M9 37h1m35 0h1m26 0h1m19 0h1m4 0h1m1 0h1m7 0h1m2 0h1m19 0h1M9 38h1m9 0h1m43 0h1m52 0h1m4 0h1m13 0h1M35 39h1m4 0h2m35 0h1m19 0h1m39 0h1m21 0h1m5 0h1M22 40h1m14 0h1m28 0h1m50 0h1M23 41h1m2 0h1m127 0h1m5 0h1m2 0h2M6 42h1m12 0h1m5 0h1m10 0h1m11 0h1m22 0h1m8 0h1m28 0h1m2 0h1m46 0h1m3 0h1M41 43h1m35 0h1m4 0h1m29 0h1M40 45h1m17 0h1m13 0h1m1 0h1m9 0h1m32 0h1m3 0h1m3 0h1m13 0h1m15 0h1m11 0h1M39 46h1m3 0h1m1 0h1m3 0h1m16 0h1m18 0h1m32 0h1m46 0h1M77 47h1m7 0h1m1 0h1m1 0h1m47 0h1m16 0h1m6 0h1M17 48h1m19 0h1m73 0h1m16 0h1m14 0h1M13 49h1m3 0h1m35 0h1m30 0h1m3 0h1m58 0h1M2 50h1m38 0h1m20 0h1m60 0h1m11 0h1m20 0h1M6 51h1m47 0h1m26 0h1m23 0h1m11 0h1m48 0h2M65 52h1m34 0h1m22 0h1m32 0h1M11 53h1m5 0h1m56 0h1m11 0h1m54 0h1m20 0h1M6 54h1m10 0h1m24 0h1m10 0h1m19 0h1m11 0h1m19 0h1m36 0h1m11 0h1M70 55h1m7 0h1m11 0h1m44 0h1m27 0h1M11 56h1m22 0h1m82 0h1m31 0h1M12 57h1m21 0h1m3 0h1m59 0h1m31 0h1m6 0h1M6 58h1m13 0h1m1 0h1m2 0h1m11 0h1m29 0h1m7 0h1m4 0h1m3 0h1m5 0h1m1 0h1m10 0h1m2 0h1m27 0h1m6 0h1M7 59h1m23 0h1m2 0h1m3 0h1m31 0h1m17 0h1m6 0h1m34 0h1m27 0h1m2 0h1m5 0h1M38 60h2m14 0h1m9 0h1m16 0h1m3 0h1m1 0h1m14 0h1m55 0h1M35 61h1m32 0h1m16 0h1m11 0h1m3 0h2m4 0h1m57 0h1m1 0h2M12 62h1m83 0h1m18 0h1m20 0h1m17 0h1m8 0h1m3 0h1M7 63h1m12 0h1m48 0h2m6 0h1m4 0h1m9 0h1m8 0h1m17 0h1m23 0h1m9 0h1M11 64h1m70 0h1m31 0h1m3 0h1M16 65h1m13 0h1m69 0h1m21 0h1m44 0h1M0 66h1m3 0h1m3 0h1m3 0h1m18 0h1m5 0h1m8 0h1m1 0h1m12 0h1m19 0h1m40 0h1m12 0h1m19 0h1m9 0h1M18 67h1m32 0h1m16 0h1m8 0h1m6 0h1m34 0h1M4 68h1m3 0h1m2 0h1m28 0h1m12 0h1m34 0h1m73 0h1m3 0h1M27 69h1m58 0h1m29 0h1m9 0h1m5 0h1m6 0h1M2 70h2m8 0h1m1 0h1m22 0h1m121 0h1m3 0h1m2 0h1M3 71h1m43 0h1m12 0h1m23 0h1m1 0h1m21 0h1m5 0h1m15 0h1m8 0h1m2 0h2m12 0h1m2 0h1m4 0h1M77 72h1m39 0h1M93 73h1m26 0h1m41 0h1M24 74h1m5 0h1m65 0h1m31 0h1m18 0h1m12 0h2m1 0h1M68 75h1m13 0h1m1 0h1m46 0h1M0 76h1m1 0h1m48 0h1m22 0h1m6 0h1m15 0h1m22 0h2m16 0h1M18 77h1m13 0h1m9 0h1m2 0h1m46 0h1m1 0h1m18 0h1m12 0h1m3 0h1M25 78h1m51 0h1m12 0h1m9 0h1m23 0h1M2 79h1m26 0h1m22 0h2m6 0h1m3 0h1m8 0h1m4 0h1m6 0h1m10 0h1m4 0h1m12 0h1m14 0h1m30 0h1M0 80h1m13 0h1m42 0h1m7 0h1m15 0h1m13 0h1m24 0h1m4 0h1m11 0h1m4 0h1m23 0h1M37 81h1m32 0h1m9 0h1m31 0h1m15 0h2m3 0h1m23 0h1m10 0h1M26 82h1m7 0h1m6 0h1m26 0h1m1 0h2m4 0h1m4 0h1m15 0h1m22 0h1m7 0h1m23 0h1M14 83h1m24 0h1m3 0h1m30 0h1m39 0h1m46 0h1M159 84h1m3 0h1M24 85h1m12 0h1m37 0h1m26 0h1m15 0h1m1 0h2m8 0h1m32 0h1M62 86h1m12 0h1m45 0h1M64 87h1m55 0h1m5 0h1m9 0h1m1 0h1m5 0h1m12 0h1M73 88h1m5 0h1m25 0h1m33 0h1m16 0h1M32 89h1m9 0h1m21 0h1m28 0h1m1 0h1m9 0h2m7 0h1m21 0h1M34 90h1m39 0h2m50 0h1m34 0h1M94 91h1m10 0h1m6 0h1m4 0h1m3 0h2m5 0h1m33 0h1M46 92h1m46 0h1m2 0h1m18 0h1m3 0h1m15 0h1m29 0h1M39 93h1m24 0h1m13 0h1m18 0h2m14 0h1m3 0h1m50 0h1M7 94h1m52 0h1m16 0h1m3 0h1m4 0h2m10 0h1m56 0h1M2 95h1m16 0h1m10 0h1m31 0h1m29 0h1m24 0h1m3 0h1m33 0h1m7 0h1m4 0h1M24 96h1m52 0h1m12 0h1m25 0h1m4 0h1m42 0h1M34 97h1m70 0h1m10 0h1m15 0h1m21 0h1M31 98h2m16 0h1m1 0h1m18 0h1m28 0h1m61 0h1M65 99h2m26 0h1M12 100h1m4 0h1m11 0h1m5 0h1m11 0h1m5 0h1m14 0h1m11 0h1m3 0h1m1 0h1m12 0h1m28 0h1m37 0h1M26 101h1m24 0h1m18 0h1m2 0h1m75 0h1m2 0h1M3 102h1m13 0h1m14 0h1m6 0h1m1 0h1m11 0h1m2 0h1m18 0h1m21 0h2m22 0h1m4 0h1m36 0h1m2 0h2M72 103h2m12 0h1m30 0h1m41 0h1M2 104h1m6 0h1m2 0h1m16 0h1m7 0h1m26 0h1m17 0h4m1 0h1m14 0h1m11 0h1m40 0h1M60 105h1m7 0h1M0 106h1m23 0h1m38 0h1m4 0h1m22 0h1m24 0h1m46 0h1M86 108h1m38 0h1m12 0h1M17 109h1m13 0h1m26 0h1m2 0h1m22 0h1m39 0h1m8 0h1M12 110h1m44 0h1M20 111h1m66 0h1m30 0h1m5 0h3m3 0h1m30 0h1m4 0h1M47 112h1m3 0h1m71 0h1m9 0h1M135 113h1m10 0h1m15 0h1M1 114h1m4 0h1m74 0h1m3 0h1m14 0h1m35 0h1m6 0h1m12 0h1M72 115h1m13 0h1m38 0h1M16 116h1m31 0h1m83 0h4m2 0h1m6 0h1M3 117h1m33 0h1m13 0h1m33 0h1m2 0h1m37 0h1m37 0h1M51 118h1m12 0h1m55 0h1m1 0h1M0 119h1m18 0h1m27 0h1m38 0h1m34 0h1M37 120h1m38 0h1m18 0h1m71 0h1M8 121h1m18 0h1m1 0h1m34 0h1m29 0h1m25 0h1m3 0h1m4 0h1m7 0h1m1 0h1M7 122h1m11 0h1m7 0h1m101 0h1m9 0h1M6 123h1m2 0h1m54 0h1m29 0h1m15 0h1m5 0h1m9 0h1M3 124h1m1 0h1m89 0h1m48 0h1m12 0h1M6 125h1M5 126h1m9 0h1m7 0h1m21 0h1m24 0h1m9 0h1m3 0h2m20 0h1m12 0h1m3 0h1m3 0h1m32 0h1M23 127h1m2 0h1m1 0h1m9 0h1m2 0h1m1 0h1m52 0h2m19 0h1m39 0h1M24 128h1m12 0h1m2 0h1m22 0h1m11 0h1m9 0h1m3 0h1m8 0h1m8 0h1m15 0h1m2 0h1m34 0h1M0 129h1m92 0h1m11 0h1m24 0h1M0 130h1m22 0h2m7 0h1m27 0h1m62 0h1m33 0h1m3 0h1M1 131h1m1 0h1m3 0h1m22 0h1m5 0h1m14 0h1m20 0h1m10 0h1m1 0h1m34 0h1m2 0h1m1 0h1m3 0h1m3 0h1m25 0h1M95 132h1M28 133h1m10 0h1m1 0h1m83 0h2M85 134h1m55 0h1M5 135h1m22 0h1m4 0h1m69 0h2M24 136h1m58 0h1m44 0h1m23 0h1M31 137h2m21 0h1m26 0h1m50 0h1m26 0h1M21 138h1m3 0h1M106 139h1m12 0h1m31 0h1M15 140h1m5 0h1m104 0h1M7 141h1m6 0h1m4 0h1m90 0h1m36 0h1m7 0h1M13 142h1m1 0h1m1 0h1m8 0h1m5 0h1m4 0h1m9 0h1m3 0h1m37 0h1m2 0h1m10 0h1m1 0h1m8 0h1m26 0h1m5 0h1m8 0h1M14 143h1m3 0h1m89 0h1m5 0h1m10 0h1m1 0h1m31 0h1M29 144h1m2 0h1m30 0h1m4 0h1m59 0h1m25 0h1M11 145h1m14 0h1m41 0h1m17 0h1m17 0h1m5 0h1M25 146h1m1 0h1m119 0h1M6 147h1m20 0h1m19 0h1m53 0h1m2 0h1m2 0h1m46 0h2M7 148h1m8 0h1m11 0h1m8 0h1m27 0h1m28 0h1m8 0h1M137 149h1M23 150h1m35 0h2m36 0h1m21 0h1m7 0h1m8 0h1M46 151h1m33 0h1m20 0h1M22 152h1m83 0h1m26 0h1m7 0h1m3 0h1m10 0h1m4 0h1M17 153h1m13 0h1m22 0h2m5 0h1m66 0h1M1 154h1m4 0h1m31 0h1m19 0h1m3 0h1m63 0h1m3 0h1M4 155h1m2 0h1m4 0h1m22 0h1m13 0h1m30 0h1m25 0h1m45 0h1M5 156h2m18 0h1m26 0h1m7 0h1m40 0h1m26 0h1M46 157h1m17 0h1M7 158h1m1 0h1m1 0h1m3 0h2m9 0h1m29 0h1m1 0h1m25 0h2m20 0h1m48 0h2M7 159h1m54 0h1m16 0h2m48 0h1m7 0h1m16 0h1M24 160h1m5 0h1m23 0h1m26 0h1m14 0h1m31 0h1M6 161h1m2 0h1m9 0h1m18 0h1m28 0h1m21 0h1m2 0h1m30 0h2m11 0h1m17 0h1M6 162h1m9 0h2m12 0h1m1 0h1m10 0h1m29 0h1m16 0h1m44 0h1m24 0h1m6 0h1M17 163h1m78 0h1m8 0h1m55 0h1M21 164h1m4 0h1m12 0h1m85 0h1m2 0h1m10 0h1m2 0h1M3 165h1m15 0h1m4 0h1m11 0h1m15 0h2m6 0h1m2 0h1m6 0h1m41 0h1m15 0h1m15 0h1m6 0h1m16 0h1M5 166h1m18 0h1m47 0h1m22 0h1m22 0h1m13 0h1m2 0h1m5 0h2M29 167h1m4 0h2m26 0h1m12 0h1m12 0h1m22 0h1M19 168h1m3 0h1m6 0h1m73 0h1m29 0h1m21 0h1m4 0h1M11 169h1m50 0h1m30 0h1m34 0h1m30 0h1m3 0h2M34 170h1m2 0h1m64 0h1m38 0h1M24 171h1m28 0h1m84 0h1m24 0h1m1 0h1M0 172h1m41 0h1m60 0h1m37 0h1m21 0h1M101 173h1M140 174h1m3 0h1m8 0h1M22 175h1m4 0h1m40 0h1m1 0h1m6 0h1m2 0h1m74 0h1M151 176h1M167 177h1M23 179h1M42 180h1M54 181h1m20 0h1M61 182h1M58 186h1"/>
<path stroke="#7d78b7" d="M162 0h1m5 0h1M39 1h1m28 0h1m74 0h1m23 0h1M149 2h1m16 0h1M38 3h1m63 0h1m14 0h1m8 0h1M19 4h1m32 0h1m20 0h1m76 0h1m9 0h1m6 0h1M42 5h1m29 0h1m15 0h1m7 0h1m12 0h1m14 0h1m3 0h1M68 6h1m35 0h1m2 0h1m53 0h1M31 7h1m9 0h1m36 0h1m80 0h1M45 8h1M1 9h1m160 0h1m2 0h1m1 0h1M88 10h1m6 0h1m64 0h1M17 12h1m77 0h1m3 0h1M27 13h1m56 0h1M8 14h1M80 15h1m1 0h1m42 0h1M156 16h1M4 17h1m50 0h1m3 0h1M4 18h1m48 0h1m68 0h1M110 19h1M9 20h1m80 0h1M70 21h1m32 0h1m17 0h1m6 0h1m3 0h1M3 23h1m13 0h1m40 0h1m56 0h1m43 0h2M36 24h1M64 25h1m19 0h1m26 0h1m16 0h1M72 26h1m26 0h1m41 0h1M70 27h2m17 0h1m6 0h1M127 29h2M45 30h1m58 0h1m58 0h1M17 31h1m45 0h1m36 0h1m8 0h1M71 32h1m82 0h1M69 33h2m17 0h1m14 0h1m21 0h1M4 34h1m12 0h1m10 0h1m45 0h1m10 0h1m2 0h1m3 0h1m71 0h1M11 35h1m4 0h1m47 0h1m56 0h1M33 36h3m32 0h1m14 0h1M6 37h1m13 0h1m8 0h1m3 0h1m43 0h1M105 38h1m6 0h1m9 0h1M24 39h1m12 0h1m4 0h1m112 0h1m1 0h1M137 40h1M57 41h1m6 0h1m8 0h1m12 0h1m28 0h1m45 0h1m4 0h1M35 42h1m50 0h1M25 43h1m91 0h1M79 44h1m6 0h1m33 0h1M20 45h1m1 0h1m5 0h1m86 0h1m2 0h1m40 0h1m6 0h1M115 46h1m25 0h1m1 0h1m5 0h1m5 0h1M14 47h1m2 0h1m24 0h1m32 0h1m8 0h1M23 48h1m97 0h1m3 0h1M50 49h1m97 0h1M64 50h1m41 0h1m47 0h1M86 51h1M17 52h1m24 0h1m44 0h1M122 53h1m14 0h1M100 54h1M105 55h1M156 56h1M66 57h1M85 58h2m17 0h1M29 59h1m19 0h1m2 0h1m21 0h1M34 60h1m51 0h1m2 0h2m1 0h1M91 61h1m42 0h1M17 62h1M1 63h1m1 0h1m44 0h1m13 0h1m31 0h1m61 0h1m9 0h1M24 64h1m14 0h1m28 0h1m12 0h1m69 0h1m10 0h1M10 65h1m25 0h1m64 0h1m2 0h1M36 66h1m28 0h1m55 0h1m12 0h1m14 0h1m4 0h1M4 67h1m41 0h1m79 0h1M89 68h1m40 0h1M73 69h1m16 0h1m44 0h1M19 70h1m15 0h1m36 0h1m20 0h1m23 0h1m42 0h1M6 71h1m87 0h1m40 0h1M29 72h1m62 0h1m10 0h1m55 0h1M143 73h1M37 74h1m26 0h1m6 0h1m3 0h1m18 0h1m3 0h1M37 75h1m28 0h1m23 0h1m2 0h1m7 0h1M55 76h1m23 0h1m5 0h2M116 77h1m18 0h2M72 78h1m26 0h1m27 0h1m5 0h1m8 0h1M1 79h1m1 0h1m31 0h1m23 0h1m46 0h1m9 0h1m3 0h1m6 0h1m3 0h1m2 0h1m3 0h1M6 80h1m51 0h1m3 0h1m10 0h1m86 0h1M13 81h1m11 0h2m45 0h1m14 0h1m73 0h1M8 82h1m31 0h1m104 0h1m12 0h1M35 83h1m107 0h1m13 0h1M166 84h1M62 85h1m28 0h1m7 0h1m38 0h1m23 0h1M72 86h1m53 0h1M17 87h1m56 0h1m5 0h1m16 0h1m3 0h1m23 0h1m2 0h1m10 0h1m2 0h1m19 0h1M96 88h1m4 0h1M47 89h1m29 0h1m6 0h1m9 0h1m22 0h1m3 0h1m35 0h1M77 90h1m1 0h1m20 0h1M67 91h2m2 0h1m30 0h2m2 0h1m52 0h1M32 92h1m20 0h1m20 0h1m12 0h1m17 0h1m22 0h1m9 0h1m5 0h1m23 0h1M88 93h1M0 94h2m106 0h1m48 0h1M71 95h1m13 0h1m2 0h1m33 0h2m33 0h1m6 0h1m2 0h1M30 97h1m16 0h1m30 0h1m12 0h1M47 98h1m47 0h1m58 0h1m8 0h1M4 99h1m26 0h1m48 0h1m38 0h1M6 100h1m27 0h1m41 0h1m12 0h1m21 0h1M19 101h1m13 0h1m37 0h1m2 0h1m17 0h1m12 0h1m56 0h1M14 102h1m10 0h1m1 0h1m6 0h1m124 0h1M7 103h1m128 0h1M6 104h1m11 0h1m60 0h1M26 105h1M45 106h1m46 0h1M29 108h1M12 109h1M85 110h1m39 0h1M123 111h1m8 0h1m4 0h1m22 0h1M0 112h1m49 0h1m29 0h1M52 113h1M73 114h1m56 0h1m36 0h1M14 115h1m35 0h1m47 0h1m66 0h1M89 116h1m38 0h1m30 0h2M135 117h1M2 118h1m36 0h1m6 0h1m58 0h1m54 0h1m7 0h1M58 121h1m76 0h1M13 122h1m114 0h1m1 0h1M92 123h1m6 0h1m27 0h1m4 0h1M18 124h1m90 0h1m9 0h1M35 125h1m60 0h1M19 126h1m67 0h1m6 0h1m16 0h1m10 0h1M4 127h1m101 0h1m11 0h1m11 0h1m8 0h1m2 0h1m12 0h1M68 128h1m48 0h1m21 0h1m9 0h1M96 129h1m5 0h1m4 0h1M20 130h1m28 0h1m25 0h1m19 0h1m3 0h1m7 0h1m8 0h1m25 0h1M23 131h1m32 0h1m23 0h1m23 0h1m2 0h1m26 0h1M129 132h1m26 0h1M23 133h1m34 0h1m57 0h1M130 134h1M80 135h1m4 0h1m20 0h1m45 0h1M88 136h1M19 137h1m31 0h1m30 0h1M29 138h1M81 139h1m3 0h1m18 0h1M5 140h1m17 0h1m127 0h1m5 0h1M12 141h1m46 0h1M20 142h1m49 0h1m83 0h1m2 0h1M12 143h1m3 0h1m39 0h1m97 0h1M125 144h1m26 0h1M31 145h1m16 0h1M27 148h1m1 0h1m12 0h1m21 0h1m14 0h1m48 0h1M1 149h1M26 150h1m3 0h1m22 0h1m10 0h1m91 0h1M7 151h1m54 0h1m21 0h1m11 0h1M89 152h1m35 0h1m2 0h1m5 0h1m4 0h1M3 153h1m47 0h1m14 0h1m37 0h1m31 0h1M32 154h1m73 0h1m4 0h1m3 0h1m11 0h1m7 0h1M19 155h1m28 0h1m8 0h1m11 0h1m31 0h1m52 0h1M3 156h1m4 0h1m20 0h1m65 0h2m7 0h1M37 158h1m16 0h1m21 0h1m70 0h1m20 0h1M11 159h1m8 0h1m67 0h1m7 0h1m18 0h1m11 0h1M25 160h1m27 0h1M1 161h1m16 0h1m85 0h1m53 0h1m7 0h1M101 162h1m38 0h1M27 163h1m73 0h1M88 164h1M17 165h1m25 0h1m54 0h1m30 0h1m5 0h1m5 0h2m14 0h1M34 166h1m56 0h2m21 0h1m30 0h1m7 0h1M14 167h1m5 0h1m2 0h1m4 0h1m15 0h1m19 0h1m30 0h1m40 0h1m1 0h1m21 0h1m5 0h1M68 168h1m17 0h1m10 0h1M41 169h1m104 0h1M46 170h1m59 0h1m35 0h1m23 0h1M67 171h1m87 0h1m11 0h1M23 172h1m110 0h1m30 0h1M58 173h1m77 0h1M13 174h1m11 0h1m97 0h1m6 0h1M17 175h1m90 0h1m55 0h1M5 176h1M53 178h1m105 0h1M61 179h1m105 0h1M44 182h1M148 186h1"/>
<path stroke="#684da1" d="M37 0h1M99 1h1m45 0h1m16 0h1M35 2h1m72 0h1M1 3h1m80 0h1M14 4h1m81 0h1m20 0h1M153 6h1M108 7h1M96 9h1M28 10h1m60 0h1M45 11h1m46 0h1M27 12h1m22 0h1m62 0h1M126 13h1M17 14h1m46 0h1m21 0h1M63 15h1M99 17h1M107 18h1M65 19h1m32 0h1M114 20h1m9 0h1M54 21h1m34 0h1m58 0h1m15 0h1M37 22h1m71 0h1M84 23h1M84 24h1m1 0h1m12 0h1M12 25h1m69 0h1m39 0h1M23 26h1m62 0h1M4 27h1m143 0h1M43 30h1m14 0h1m11 0h1m4 0h1m52 0h1m9 0h1M65 31h1m30 0h1M32 33h1m38 0h1M15 34h1m14 0h1m22 0h1m52 0h1M15 36h1m69 0h1m68 0h1M32 37h1m2 0h1m81 0h1M22 38h1M29 40h1m38 0h1m67 0h1M11 42h1m152 0h1M121 43h1m39 0h1M149 44h1M83 45h1M41 46h1m96 0h1m23 0h1M12 47h1m109 0h1M156 48h1M12 49h1m70 0h1m43 0h1M127 50h1m17 0h1m16 0h1M143 52h1M12 53h1M96 54h1M23 55h1M5 56h1m160 0h1M37 57h1m36 0h1m92 0h1M4 59h1m6 0h1M16 60h1m49 0h1m5 0h1M100 61h1m10 0h1m25 0h1M42 62h1m55 0h1M81 63h1m4 0h1m25 0h1m4 0h1m21 0h1M50 64h1M45 65h1M105 66h1M13 68h1m17 0h1m49 0h1M7 69h1m84 0h1m8 0h1M80 70h1m7 0h1m6 0h1M58 71h1m17 0h2m47 0h1M89 72h1M96 73h1m59 0h1M26 74h1m63 0h1M98 75h1M77 76h1M15 77h1m43 0h1m13 0h1M96 78h1M135 79h1m9 0h1M12 80h1m135 0h1M45 82h1m72 0h1m5 0h1M77 85h1m50 0h1M67 88h1m10 0h1m19 0h1M74 89h1m79 0h1m8 0h1m2 0h1M97 90h1m4 0h1M52 91h1m115 0h1M116 92h1M116 93h1m47 0h1M72 94h1m2 0h1M120 95h1M79 96h1m20 0h1M89 97h1M122 98h1M46 99h1m24 0h1m7 0h1M10 100h1m53 0h1m26 0h1M84 101h1M74 102h1m3 0h1m85 0h1M89 104h1M75 106h1m28 0h1m10 0h1m14 0h1M64 108h1m59 0h1M160 109h1M7 111h1M136 112h1M155 113h1M0 114h1M101 115h1m2 0h1M30 116h1m6 0h1m119 0h1M119 118h1m19 0h1M80 119h1m4 0h1M5 121h1m35 0h1M42 123h1M24 124h1M123 125h1M101 126h1m3 0h1m19 0h1M37 127h1m56 0h2m60 0h1M118 128h1m36 0h1M24 129h1m99 0h1M31 131h1m57 0h1m70 0h1M62 132h1m34 0h1M6 133h1m129 0h1M81 134h1m49 0h1M105 135h1m19 0h1M117 138h1M30 139h1m103 0h1M58 140h1M109 141h1m40 0h1M25 142h1M16 146h1m104 0h1m1 0h1m1 0h1m4 0h1m4 0h1M15 147h1m10 0h1m4 0h1m120 0h1M99 148h1m57 0h1M2 150h1m62 0h1m37 0h1M32 152h1M0 154h1m8 0h1m3 0h1m93 0h1m15 0h1m36 0h1M2 155h1M167 156h1M5 158h1M8 160h1M16 161h1m17 0h1m29 0h1M5 163h1m150 0h1M62 164h1m40 0h1m13 0h1M95 165h1m13 0h1m46 0h1M20 166h1m41 0h1m38 0h1M26 167h1m26 0h1m43 0h1m67 0h1M126 168h1M38 169h1m62 0h1M13 170h1M42 171h1m8 0h1M128 172h1m38 0h1M23 173h1M31 175h1m72 0h1M154 186h1"/>
<path stroke="#53258e" d="M111 0h1m37 0h1M75 1h1m5 0h1m12 0h1M3 2h1m143 0h1m7 0h1m3 0h1M17 3h1M105 4h1M160 5h1M64 6h1M24 7h1M77 8h1M92 9h1m9 0h1m45 0h1M27 11h1M66 12h1M0 13h1m10 0h1M46 14h1M12 15h1m14 0h1m40 0h1m21 0h1M50 17h1m77 0h1M32 18h1m58 0h1M99 19h1m35 0h1M46 20h1M34 21h1m45 0h1m29 0h1M113 22h1M25 24h1M75 25h1M22 27h1m5 0h1M124 28h1M53 29h1m26 0h1M12 31h1m82 0h1m69 0h1M3 34h1m19 0h1m40 0h1m59 0h1M76 36h1M14 37h1m150 0h1M129 38h1M68 39h1m61 0h1M35 40h1m94 0h1M31 41h2m97 0h1M14 42h1m32 0h1m71 0h2M64 43h1m69 0h1M34 45h1m3 0h1M60 46h1m51 0h1M20 47h1m20 0h1m20 0h1m90 0h1M80 48h1M117 49h1M6 50h1m31 0h1m91 0h1m5 0h1M116 51h1M134 53h1M68 58h1M67 59h1m68 0h2M120 60h1m5 0h1M136 61h1M1 62h1m128 0h1M32 63h1m127 0h1M137 64h1m26 0h1M86 65h1M19 66h1m64 0h1m12 0h1m21 0h1m47 0h1M83 67h1M3 68h1m96 0h2M31 69h1M73 71h1m31 0h1m30 0h1M72 73h1m3 0h1M76 74h1m2 0h1m41 0h1M92 75h1m37 0h1M3 76h1m89 0h1M11 77h1m72 0h1m5 0h1m7 0h1M128 78h1M65 79h1m17 0h1m7 0h1m6 0h1m24 0h1m8 0h1M159 81h1m7 0h1M81 84h1M168 85h1M88 87h1m13 0h1m57 0h1M6 88h1m68 0h1m43 0h1M72 89h1m18 0h2M73 90h1m14 0h1m3 0h1m24 0h1M78 91h1m31 0h1M65 92h1m11 0h1m11 0h1M79 93h1m86 0h1M66 94h1m57 0h1m17 0h1M74 95h1M89 96h1M73 97h1m25 0h1m19 0h1M78 98h1m81 0h1M76 99h1m9 0h1M51 100h1m83 0h1m25 0h1M88 101h1m48 0h1M54 102h1M80 103h1m7 0h1M31 104h1m23 0h1m65 0h1M31 105h1m39 0h1m19 0h2M88 106h1M120 108h1m12 0h1M52 109h1m4 0h1M120 110h1m16 0h1M159 112h1M38 115h1M117 116h1m46 0h1M69 118h1m18 0h1m32 0h1m44 0h1M0 120h1m102 0h1M39 121h1m92 0h1M136 122h1M79 123h1M90 124h1m32 0h1M89 125h1m55 0h1M86 126h1m2 0h1m17 0h1m27 0h1M85 127h1m13 0h1m25 0h1m15 0h1M35 128h1M15 129h1m76 0h1M117 130h1M91 131h1m2 0h1M135 133h1M101 135h1m13 0h1M88 137h2M57 138h1M144 139h1M24 140h1M154 141h1M18 142h1m36 0h1m8 0h1M48 143h1m52 0h1M12 145h1m22 0h1m88 0h1m35 0h1M12 146h1m142 0h1M150 147h1M30 148h1M35 149h1m14 0h1m6 0h1m65 0h1M91 152h1M26 153h1m130 0h1M70 154h1m85 0h1M28 155h1m55 0h1M37 156h1m18 0h1m11 0h1M91 158h1M80 160h1m12 0h1m55 0h1m4 0h1m9 0h1M53 161h1m102 0h1M31 162h1M91 163h1m63 0h1M30 164h1m63 0h1m66 0h1M12 165h1m78 0h1M51 166h1M27 167h1m14 0h1m17 0h1M96 168h1m63 0h1M16 172h1m51 0h1M51 175h1M149 176h1M138 177h1"/>
<path stroke="#3f007d" d="M40 0h1m4 0h1m82 0h2m29 0h1m1 0h1m3 0h1m1 0h1M2 1h1m17 0h1m17 0h1m39 0h1m51 0h1m9 0h1M7 2h1m34 0h1m44 0h1m14 0h1m54 0h1M18 3h1m17 0h1m37 0h1m16 0h1m12 0h1M2 4h1m13 0h1m8 0h1m24 0h1m23 0h1m19 0h1M10 5h1m17 0h1m11 0h1m11 0h1m1 0h1m16 0h1m50 0h1m31 0h1M5 6h1m11 0h1m35 0h1m6 0h1m56 0h1m3 0h1m5 0h1m14 0h1M5 7h1m77 0h1m20 0h1m30 0h1m11 0h1m20 0h1M1 8h1m48 0h1m7 0h1m6 0h1M21 9h1m16 0h1m52 0h1m12 0h1M35 10h1m36 0h1m25 0h1m24 0h1m35 0h1M48 11h1m56 0h1m46 0h1M14 12h1m32 0h1m20 0h1m36 0h1m4 0h1m1 0h1M44 13h1m2 0h1m8 0h1m15 0h1m21 0h1m16 0h1M18 14h1m14 0h1m4 0h1m26 0h1m18 0h1m75 0h1M0 15h1m27 0h1m33 0h1m36 0h1M15 16h1m1 0h1m2 0h1m6 0h1m34 0h1m17 0h1m34 0h1m46 0h1M78 17h1M16 18h1m4 0h1m22 0h1m11 0h1m36 0h1m7 0h1m8 0h1m13 0h1m2 0h1m1 0h1M1 19h1m26 0h1m7 0h1m27 0h1m22 0h1m15 0h1m20 0h1m2 0h1M19 20h1m1 0h1m21 0h1m16 0h1m4 0h1m5 0h1m2 0h1m17 0h1m44 0h1m23 0h1M3 21h1m15 0h1m2 0h1m45 0h1m17 0h1m22 0h1m13 0h1m2 0h1m12 0h1m23 0h1M13 22h1m6 0h1m6 0h1m14 0h1m12 0h1m13 0h1m42 0h1m3 0h1m15 0h2M24 23h2m79 0h1m28 0h1m10 0h1m1 0h1M22 24h1m4 0h1m12 0h1m37 0h1m33 0h1m17 0h1m18 0h1m7 0h1M8 25h1m13 0h2m33 0h1m18 0h1m72 0h1m8 0h1m6 0h1M24 26h1m2 0h1m67 0h1m22 0h1m45 0h1M44 27h1m1 0h1m27 0h1m29 0h1m1 0h1m7 0h1M22 28h1m1 0h1m4 0h1m53 0h1m6 0h1m1 0h1m2 0h1m26 0h1M27 29h2m1 0h1m66 0h1m17 0h1m50 0h1M29 30h1m41 0h1m31 0h1m18 0h1M67 31h1M1 32h1m29 0h1m1 0h1m4 0h1m60 0h1m29 0h1m17 0h1m7 0h1M14 33h1m19 0h1m7 0h1m6 0h1m10 0h1m2 0h1m102 0h1M36 34h1m20 0h1m2 0h1m35 0h1m26 0h1m4 0h1m8 0h1m29 0h1M38 35h1m41 0h1m1 0h1m53 0h1m1 0h1M11 36h1M18 37h1m22 0h1m28 0h1m3 0h1m20 0h1m29 0h1m29 0h1M37 38h1m13 0h1m13 0h1m5 0h1m14 0h1m3 0h1m27 0h1m19 0h1m25 0h1M23 39h1m25 0h1m40 0h1m35 0h1M4 40h1m14 0h1m42 0h1m25 0h1m15 0h1m5 0h1m14 0h1M16 41h1m1 0h1m1 0h1m7 0h1m5 0h1m5 0h1m54 0h1m3 0h1m32 0h1m6 0h1m15 0h1M41 42h1m17 0h1m35 0h1m54 0h2M34 43h1m5 0h1m43 0h1m7 0h1m40 0h1m13 0h1m1 0h1m10 0h1M1 44h1m11 0h1m33 0h1m22 0h1m18 0h1m4 0h1m20 0h1m1 0h1m24 0h1m22 0h1M50 45h1m48 0h1m23 0h1m19 0h1m12 0h1M3 46h1m38 0h1m4 0h1m21 0h1m26 0h1m45 0h1m9 0h1M28 47h1m14 0h1m68 0h1m11 0h1m2 0h1M9 48h1m34 0h1m4 0h2m3 0h1m22 0h1m10 0h1m8 0h1m4 0h1m12 0h1m11 0h1m14 0h1M34 49h1m8 0h1m28 0h1m1 0h1m87 0h1M9 50h1m33 0h1m16 0h1m12 0h1m35 0h1m8 0h1m31 0h1M15 51h1m8 0h1m6 0h1m21 0h1m56 0h1m7 0h1m3 0h1m2 0h1m33 0h1m5 0h1M0 52h1m22 0h1m3 0h1m26 0h1m48 0h1m18 0h1M0 53h1m5 0h1m43 0h1m7 0h1m4 0h1m1 0h1m5 0h1m30 0h1m39 0h1m7 0h1M79 54h2m69 0h1m16 0h1M20 55h1m5 0h1m24 0h1m1 0h1m2 0h1m65 0h1M55 56h1m6 0h1m75 0h1m22 0h1M7 57h1m23 0h1m10 0h1m15 0h2m2 0h1m9 0h1m3 0h1m45 0h1m3 0h1m8 0h1m4 0h1m22 0h1M5 58h1m18 0h1m10 0h1m2 0h1m16 0h2m2 0h1m66 0h1m23 0h1m13 0h1m1 0h1M13 59h1m9 0h1m4 0h1m29 0h1m9 0h1m10 0h1m17 0h1m7 0h1m16 0h1m1 0h1m1 0h2M15 60h1m2 0h1m78 0h1m1 0h1m9 0h1m18 0h1m4 0h1M9 61h1m7 0h1m22 0h1m9 0h1m8 0h2m52 0h1m10 0h1m2 0h1m12 0h1M2 62h1m8 0h1m28 0h1M8 63h1m18 0h1m15 0h1m53 0h1m1 0h1m49 0h1m15 0h1M10 64h1m72 0h1m42 0h1m22 0h1m3 0h1M19 65h1m20 0h1m25 0h1m22 0h2m53 0h1m1 0h1M6 66h1m20 0h1m11 0h1m15 0h1m8 0h1m9 0h1m2 0h1m8 0h1m2 0h1m2 0h1m7 0h1M25 67h2m2 0h1m8 0h1m16 0h1m75 0h1m21 0h1M70 68h1m5 0h2m16 0h1m9 0h1m11 0h1m26 0h1m11 0h1m7 0h1M0 69h1m8 0h1m11 0h1m2 0h1m33 0h1m8 0h1m20 0h1m10 0h1M17 70h1m34 0h1m18 0h1m1 0h1m11 0h1m3 0h2m5 0h1m13 0h1m16 0h1m14 0h1m10 0h1M5 71h1m15 0h1m5 0h1m41 0h1m2 0h1m15 0h1m1 0h1m1 0h2m23 0h1m32 0h1M10 72h1m20 0h1m1 0h1m37 0h1m1 0h2m26 0h1m51 0h1M22 73h1m48 0h1m18 0h1m3 0h2m6 0h1m28 0h1m17 0h1M23 74h1m9 0h2m7 0h1m7 0h1m15 0h1m5 0h2m3 0h1m5 0h1m5 0h1m24 0h1m39 0h1M31 75h1m10 0h1m29 0h3m13 0h2m5 0h1m13 0h1M12 76h1m58 0h1m1 0h1m1 0h1m13 0h1m6 0h1m7 0h1m7 0h1m10 0h1m3 0h1m14 0h1M71 77h2m14 0h1m13 0h1m57 0h1M79 78h1m12 0h1m75 0h1M4 79h1m8 0h2m3 0h1m25 0h1m5 0h1m26 0h1m2 0h1m9 0h1m4 0h1m3 0h1m25 0h1m13 0h1m4 0h1M4 80h1m31 0h1m11 0h1m56 0h1m18 0h1m24 0h1M67 81h1m14 0h1m5 0h1m2 0h1m42 0h1m20 0h1M75 82h1m16 0h1m42 0h2M15 83h1m78 0h1M8 84h1m22 0h1m42 0h1m69 0h1M31 85h1m33 0h1m13 0h1m25 0h1m51 0h1m3 0h1M0 86h1m9 0h1m2 0h1m40 0h1m26 0h1m36 0h1m11 0h1m33 0h1M9 87h1m20 0h1m10 0h1m33 0h1m3 0h1m2 0h1m44 0h1m6 0h1m16 0h1m1 0h1M39 88h1m24 0h1m26 0h2m17 0h1m12 0h1M7 89h1m2 0h1m6 0h1m40 0h1m17 0h1m9 0h2m61 0h1m2 0h1M18 90h1m86 0h1m42 0h1M7 91h1m12 0h1m69 0h1m1 0h2m14 0h1m45 0h1m6 0h1M11 92h1m24 0h1m6 0h1m29 0h1m5 0h1m2 0h1m14 0h1m29 0h1m12 0h1m20 0h1M15 93h1m26 0h1m34 0h1m12 0h2m34 0h1m14 0h1m2 0h1M10 94h1m10 0h1m51 0h1m17 0h1m4 0h1m15 0h1M45 95h1m10 0h1m22 0h1m16 0h2m14 0h1m38 0h1m14 0h1M12 96h1m78 0h4m3 0h1m7 0h1m46 0h1M13 97h1m40 0h2m13 0h1m2 0h1m1 0h1m21 0h1m26 0h1m13 0h1m28 0h1M12 98h1m32 0h1m9 0h1m20 0h2m10 0h1m11 0h1m15 0h1M18 99h1m24 0h1m11 0h1m17 0h2m3 0h1m12 0h1m12 0h2m10 0h1m11 0h1m4 0h1m8 0h1M7 100h1m31 0h1m8 0h1m25 0h1m63 0h1M15 101h1m11 0h1m14 0h1m9 0h1m6 0h1m2 0h1m2 0h1m10 0h1m2 0h2m13 0h1m4 0h1m18 0h1m22 0h1m13 0h1M12 102h2m28 0h1m15 0h1m30 0h1m2 0h1m2 0h1m5 0h1m26 0h1m7 0h1m19 0h1M33 103h1m44 0h1m17 0h1m16 0h1m11 0h1M63 104h1m26 0h1m2 0h1m11 0h1M88 105h1m34 0h1m6 0h1m27 0h1m2 0h1M30 106h1m30 0h1m31 0h1m59 0h1M36 107h1m69 0h1m10 0h1m11 0h1m29 0h1m4 0h1M5 108h1m5 0h1m2 0h1m15 0h1m35 0h1m7 0h1m25 0h1m29 0h1m27 0h1M11 109h1m23 0h1m12 0h1m44 0h1m31 0h1M35 110h1m88 0h1m4 0h1m6 0h1m29 0h1M33 111h1m1 0h1m13 0h1m33 0h1m47 0h1m11 0h1m4 0h1M35 112h1m47 0h1m25 0h1m19 0h2m8 0h1M13 113h1m5 0h1m10 0h1m34 0h1m24 0h1m69 0h1M19 114h1m18 0h1m8 0h1m15 0h1m49 0h1m10 0h1m40 0h1M112 115h1m17 0h1m6 0h1m7 0h1M11 116h1m20 0h1m23 0h1m52 0h1m29 0h1M36 117h1m29 0h1m16 0h1m35 0h1m18 0h1m2 0h1m19 0h1M5 118h1m20 0h1m25 0h1m31 0h1M1 119h1m18 0h1m43 0h1m5 0h1m22 0h1m16 0h1m16 0h1m34 0h1M10 120h1m64 0h1m35 0h1m2 0h1m7 0h1m19 0h1m25 0h1M9 121h1m9 0h1m14 0h1m128 0h1M5 122h1m12 0h1m55 0h1m3 0h1m22 0h1m19 0h1m34 0h2M10 123h1m1 0h1m19 0h1m4 0h1m22 0h1m1 0h1m27 0h1m12 0h1m1 0h1m15 0h1M10 124h1m27 0h1m23 0h1m24 0h2m36 0h2m6 0h1m13 0h1M74 125h1m25 0h1m4 0h1m6 0h1m14 0h2m4 0h1m6 0h1m5 0h1m18 0h1M79 126h1m28 0h1m15 0h1m3 0h1m1 0h1M5 127h1m6 0h2m38 0h1m23 0h1m10 0h1m19 0h1m1 0h1m22 0h1m20 0h1M43 128h1m13 0h2m65 0h2m3 0h1m4 0h1m29 0h1M30 129h1m36 0h1m58 0h2m15 0h1M19 130h1m59 0h1m16 0h1m8 0h1m14 0h1m7 0h1m12 0h1m10 0h1m2 0h1M12 131h1m25 0h1m7 0h1m13 0h1m37 0h1m18 0h1m4 0h1m4 0h1m2 0h1M28 132h1m32 0h1m9 0h1m13 0h1m39 0h2m14 0h1m2 0h1M57 133h1m10 0h1m65 0h1m3 0h1m15 0h1m1 0h1m5 0h1M50 134h1m11 0h1M8 135h1m11 0h1m81 0h1M65 136h1m8 0h1m6 0h1m11 0h1m40 0h1m25 0h1M14 137h1m3 0h1m9 0h1m4 0h1m66 0h1m18 0h1m18 0h1M27 138h1m25 0h1m34 0h1m5 0h2m13 0h1m31 0h1m14 0h1M21 139h1m50 0h1m65 0h1m10 0h1M32 140h1m13 0h1m5 0h1m3 0h1m53 0h1M44 141h1m7 0h1m22 0h1m63 0h2m2 0h1M71 142h1m24 0h1m52 0h1m8 0h1M21 143h1m44 0h1m36 0h1m17 0h1m9 0h2m11 0h1m2 0h1m13 0h1M24 144h1m37 0h1m29 0h1m13 0h1m38 0h1m14 0h1M5 145h2m1 0h1m6 0h1m48 0h1m10 0h1m54 0h1m19 0h1M24 146h1m67 0h1M8 147h1m49 0h1m8 0h1m1 0h1m10 0h1m19 0h1M17 148h1m4 0h1m8 0h1m27 0h2m89 0h1m11 0h1M9 149h1m1 0h1m29 0h1m65 0h1m33 0h1m9 0h1m8 0h1M93 150h1m15 0h1m6 0h1m9 0h1m4 0h1m16 0h2m1 0h2M59 151h1m9 0h1m17 0h1m28 0h1m7 0h1m12 0h1m14 0h1m14 0h1M16 152h1m36 0h1m99 0h1M16 153h1m96 0h2m37 0h1m1 0h1m11 0h1M16 154h1m14 0h1m11 0h1m21 0h2m16 0h1m8 0h1m59 0h1m2 0h1M86 155h1m4 0h1m24 0h1m4 0h1m13 0h1M4 156h1m30 0h1M27 157h1m64 0h1m23 0h2m37 0h2M69 158h1m1 0h1m35 0h1m15 0h1m21 0h2m12 0h1M13 159h1m46 0h1m41 0h1m22 0h1m13 0h1M62 160h1m8 0h1m16 0h1m49 0h1m14 0h1m4 0h1M14 161h1m65 0h1m22 0h1m17 0h1m31 0h1M9 162h1m5 0h1m9 0h1m25 0h1m6 0h1m1 0h1m31 0h1m6 0h1m28 0h1m16 0h1m4 0h1m14 0h1M86 163h1m75 0h1m1 0h1M28 164h1m71 0h1m8 0h1m12 0h1m1 0h1m1 0h1m5 0h1M20 165h1m47 0h1m94 0h1M11 166h1m59 0h1m31 0h1m4 0h1m56 0h1M103 167h1m33 0h1m30 0h1M13 168h2m9 0h2m63 0h1m1 0h1m60 0h1M14 169h1m4 0h1m3 0h1m6 0h1m25 0h1m62 0h1m29 0h1m18 0h1M17 170h1m17 0h1m11 0h1M14 171h2m2 0h1m8 0h1m13 0h1m92 0h1M63 172h1m22 0h1m5 0h2m17 0h1m6 0h1m1 0h1M30 173h1m48 0h1m8 0h1m9 0h1m11 0h1M55 174h1m12 0h1m38 0h1m23 0h1m11 0h1M134 175h1M92 176h1m35 0h1m1 0h1m6 0h1M2 177h1m102 0h1m21 0h1M7 178h1m8 0h1m131 0h1m15 0h1M1 179h1m71 0h1m11 0h1m48 0h1M4 180h1m39 0h1m1 0h1m90 0h1M9 181h1m40 0h1m10 0h1m20 0h1m17 0h1m3 0h1m44 0h1M31 182h1m15 0h1M83 183h1m60 0h1M6 184h1m39 0h1m73 0h1m31 0h1M15 185h1m8 0h1m59 0h1m9 0h1M29 186h1m25 0h1m43 0h1m9 0h1m3 0h1"/>
<path stroke="#000000" d="M0 0h1M1 1h1M2 2h1M3 3h1M4 4h1M5 5h1M6 6h1M7 7h1M8 8h1M9 9h1M10 10h1M11 11h1M12 12h1M13 13h1M14 14h1M15 15h1M16 16h1M17 17h1M18 18h1M19 19h1M20 20h1M21 21h1M22 22h1M23 23h1M24 24h1M25 25h1M26 26h1M27 27h1M28 28h1M29 29h1M30 30h1M31 31h1M32 32h1M33 33h1M34 34h1M35 35h1M36 36h1M37 37h1M38 38h1M39 39h1M40 40h1M41 41h1M42 42h1M43 43h1M44 44h1M45 45h1M46 46h1M47 47h1M48 48h1M49 49h1M50 50h1M51 51h1M52 52h1M53 53h1M54 54h1M55 55h1M56 56h1M57 57h1M58 58h1M59 59h1M60 60h1M61 61h1M62 62h1M63 63h1M64 64h1M65 65h1M66 66h1M67 67h1M68 68h1M69 69h1M70 70h1M71 71h1M72 72h1M73 73h1M74 74h1M75 75h1M76 76h1M77 77h1M78 78h1M79 79h1M80 80h1M81 81h1M82 82h1M83 83h1M84 84h1M85 85h1M86 86h1M87 87h1M88 88h1M89 89h1M90 90h1M91 91h1M92 92h1M93 93h1M94 94h1M95 95h1M96 96h1M97 97h1M98 98h1M99 99h1M100 100h1M101 101h1M102 102h1M103 103h1M104 104h1M105 105h1M106 106h1M107 107h1M108 108h1M109 109h1M110 110h1M111 111h1M112 112h1M113 113h1M114 114h1M115 115h1M116 116h1M117 117h1M118 118h1M119 119h1M120 120h1M121 121h1M122 122h1M123 123h1M124 124h1M125 125h1M126 126h1M127 127h1M128 128h1M129 129h1M130 130h1M131 131h1M132 132h1M133 133h1M134 134h1M135 135h1M136 136h1M137 137h1M138 138h1M139 139h1M140 140h1M141 141h1M142 142h1M143 143h1M144 144h1M145 145h1M146 146h1M147 147h1M148 148h1M149 149h1M150 150h1M151 151h1M152 152h1M153 153h1M154 154h1M155 155h1M156 156h1M157 157h1M158 158h1M159 159h1M160 160h1M161 161h1M162 162h1M163 163h1M164 164h1M165 165h1M166 166h1M167 167h1M168 168h1"/>
</g>
<rect x="107" y="95" width="781" height="861" fill="none" stroke="#000" stroke-width="2"/>
<path d="M108.46 91.5L888 91.5" stroke="#000" stroke-width="7" stroke-dasharray="1.7 2.921" fill="none"/>
<path d="M108.46 959.5L888 959.5" stroke="#000" stroke-width="7" stroke-dasharray="1.7 2.921" fill="none"/>
<path d="M103.5 96.45L103.5 956" stroke="#000" stroke-width="7" stroke-dasharray="1.7 2.904" fill="none"/>
<path d="M891.5 96.45L891.5 956" stroke="#000" stroke-width="7" stroke-dasharray="1.7 2.904" fill="none"/>
<g font-size="6" text-anchor="end" transform="translate(0 0) scale(1.17 1)" stroke="#000" stroke-width="0.12">
<text x="79.5" y="99.5">ADAL</text>
<text x="79.5" y="104.1">ADAR</text>
<text x="79.5" y="108.7">ADEL</text>
<text x="79.5" y="113.3">ADER</text>
<text x="79.5" y="117.9">ADFL</text>
<text x="79.5" y="122.5">ADLL</text>
<text x="79.5" y="127.1">ADLR</text>
<text x="79.5" y="131.7">AFDL</text>
<text x="79.5" y="136.3">AFDR</text>
<text x="79.5" y="140.9">AIAL</text>
<text x="79.5" y="145.5">AIAR</text>
<text x="79.5" y="150.1">AIBL</text>
<text x="79.5" y="154.7">AIBR</text>
<text x="79.5" y="159.3">AIML</text>
<text x="79.5" y="163.9">AIMR</text>
<text x="79.5" y="168.5">AINL</text>
<text x="79.5" y="173.1">AINR</text>
<text x="79.5" y="177.7">AIYL</text>
<text x="79.5" y="182.3">AIYR</text>
<text x="79.5" y="186.9">AIZL</text>
<text x="79.5" y="191.5">AIZR</text>
<text x="79.5" y="196.2">ALA</text>
<text x="79.5" y="200.8">AQR</text>
<text x="79.5" y="205.4">ASEL</text>
<text x="79.5" y="210">ASER</text>
<text x="79.5" y="214.6">ASGL</text>
<text x="79.5" y="219.2">ASGR</text>
<text x="79.5" y="223.8">ASHL</text>
<text x="79.5" y="228.4">ASHR</text>
<text x="79.5" y="233">ASIL</text>
<text x="79.5" y="237.6">ASIR</text>
<text x="79.5" y="242.2">ASJL</text>
<text x="79.5" y="246.8">ASJR</text>
<text x="79.5" y="251.4">ASKL</text>
<text x="79.5" y="256">ASKR</text>
<text x="79.5" y="260.6">AUAL</text>
<text x="79.5" y="265.2">AUAR</text>
<text x="79.5" y="269.8">AVAL</text>
<text x="79.5" y="274.4">AVAR</text>
<text x="79.5" y="279">AVBL</text>
<text x="79.5" y="283.6">AVBR</text>
<text x="79.5" y="288.2">AVDL</text>
<text x="79.5" y="292.8">AVDR</text>
<text x="79.5" y="297.4">AVEL</text>
<text x="79.5" y="302.1">AVER</text>
<text x="79.5" y="306.7">AVFL</text>
<text x="79.5" y="311.3">AVFR</text>
<text x="79.5" y="315.9">AVG</text>
<text x="79.5" y="320.5">AVHL</text>
<text x="79.5" y="325.1">AVHR</text>
<text x="79.5" y="329.7">AVJL</text>
<text x="79.5" y="334.3">AVJR</text>
<text x="79.5" y="338.9">AVKL</text>
<text x="79.5" y="343.5">AVKR</text>
<text x="79.5" y="348.1">AVL</text>
<text x="79.5" y="352.7">AWAL</text>
<text x="79.5" y="357.3">AWAR</text>
<text x="79.5" y="361.9">AWBL</text>
<text x="79.5" y="366.5">AWBR</text>
<text x="79.5" y="371.1">AWCL</text>
<text x="79.5" y="375.7">AWCR</text>
<text x="79.5" y="380.3">BAGL</text>
<text x="79.5" y="384.9">BAGR</text>
<text x="79.5" y="389.5">CEPDL</text>
<text x="79.5" y="394.1">CEPDR</text>
<text x="79.5" y="398.7">CEPVL</text>
<text x="79.5" y="403.3">CEPVR</text>
<text x="79.5" y="407.9">DB1</text>
<text x="79.5" y="412.6">DB2</text>
<text x="79.5" y="417.2">FLPL</text>
<text x="79.5" y="421.8">FLPR</text>
<text x="79.5" y="426.4">I1L</text>
<text x="79.5" y="431">I1R</text>
<text x="79.5" y="435.6">I2L</text>
<text x="79.5" y="440.2">I2R</text>
<text x="79.5" y="444.8">I3</text>
<text x="79.5" y="449.4">I4</text>
<text x="79.5" y="454">I5</text>
<text x="79.5" y="458.6">I6</text>
<text x="79.5" y="463.2">IL1DL</text>
<text x="79.5" y="467.8">IL1DR</text>
<text x="79.5" y="472.4">IL1L</text>
<text x="79.5" y="477">IL1R</text>
<text x="79.5" y="481.6">IL1VL</text>
<text x="79.5" y="486.2">IL1VR</text>
<text x="79.5" y="490.8">IL2DL</text>
<text x="79.5" y="495.4">IL2DR</text>
<text x="79.5" y="500">IL2L</text>
<text x="79.5" y="504.6">IL2R</text>
<text x="79.5" y="509.2">IL2VL</text>
<text x="79.5" y="513.8">IL2VR</text>
<text x="79.5" y="518.5">M1</text>
<text x="79.5" y="523.1">M2L</text>
<text x="79.5" y="527.7">M2R</text>
<text x="79.5" y="532.3">M3L</text>
<text x="79.5" y="536.9">M3R</text>
<text x="79.5" y="541.5">M4</text>
<text x="79.5" y="546.1">M5</text>
<text x="79.5" y="550.7">MCL</text>
<text x="79.5" y="555.3">MCR</text>
<text x="79.5" y="559.9">MI</text>
<text x="79.5" y="564.5">NSML</text>
<text x="79.5" y="569.1">NSMR</text>
<text x="79.5" y="573.7">OLLL</text>
<text x="79.5" y="578.3">OLLR</text>
<text x="79.5" y="582.9">OLQDL</text>
<text x="79.5" y="587.5">OLQDR</text>
<text x="79.5" y="592.1">OLQVL</text>
<text x="79.5" y="596.7">OLQVR</text>
<text x="79.5" y="601.3">RIAL</text>
<text x="79.5" y="605.9">RIAR</text>
<text x="79.5" y="610.5">RIBL</text>
<text x="79.5" y="615.1">RIBR</text>
<text x="79.5" y="619.7">RICL</text>
<text x="79.5" y="624.3">RICR</text>
<text x="79.5" y="629">RID</text>
<text x="79.5" y="633.6">RIGL</text>
<text x="79.5" y="638.2">RIGR</text>
<text x="79.5" y="642.8">RIH</text>
<text x="79.5" y="647.4">RIML</text>
<text x="79.5" y="652">RIMR</text>
<text x="79.5" y="656.6">RIPL</text>
<text x="79.5" y="661.2">RIPR</text>
<text x="79.5" y="665.8">RIR</text>
<text x="79.5" y="670.4">RIS</text>
<text x="79.5" y="675">RIVL</text>
<text x="79.5" y="679.6">RIVR</text>
<text x="79.5" y="684.2">RMDDL</text>
<text x="79.5" y="688.8">RMDDR</text>
<text x="79.5" y="693.4">RMDL</text>
<text x="79.5" y="698">RMDR</text>
<text x="79.5" y="702.6">RMDVL</text>
<text x="79.5" y="707.2">RMDVR</text>
<text x="79.5" y="711.8">RMED</text>
<text x="79.5" y="716.4">RMEL</text>
<text x="79.5" y="721">RMER</text>
<text x="79.5" y="725.6">RMEV</text>
<text x="79.5" y="730.2">RMGL</text>
<text x="79.5" y="734.9">RMGR</text>
<text x="79.5" y="739.5">SAADL</text>
<text x="79.5" y="744.1">SAADR</text>
<text x="79.5" y="748.7">SAAVL</text>
<text x="79.5" y="753.3">SAAVR</text>
<text x="79.5" y="757.9">SABD</text>
<text x="79.5" y="762.5">SABVL</text>
<text x="79.5" y="767.1">SABVR</text>
<text x="79.5" y="771.7">SMBDL</text>
<text x="79.5" y="776.3">SMBDR</text>
<text x="79.5" y="780.9">SMBVL</text>
<text x="79.5" y="785.5">SMBVR</text>
<text x="79.5" y="790.1">SMDDL</text>
<text x="79.5" y="794.7">SMDDR</text>
<text x="79.5" y="799.3">SMDVL</text>
<text x="79.5" y="803.9">SMDVR</text>
<text x="79.5" y="808.5">URADL</text>
<text x="79.5" y="813.1">URADR</text>
<text x="79.5" y="817.7">URAVL</text>
<text x="79.5" y="822.3">URAVR</text>
<text x="79.5" y="826.9">URBL</text>
<text x="79.5" y="831.5">URBR</text>
<text x="79.5" y="836.1">URXL</text>
<text x="79.5" y="840.8">URXR</text>
<text x="79.5" y="845.4">URYDL</text>
<text x="79.5" y="850">URYDR</text>
<text x="79.5" y="854.6">URYVL</text>
<text x="79.5" y="859.2">URYVR</text>
<text x="79.5" y="863.8">VA1</text>
<text x="79.5" y="868.4">VB1</text>
<text x="79.5" y="873">VB2</text>
<text x="79.5" y="877.6">ADFR</text>
<text x="79.5" y="882.2">AVFL</text>
<text x="79.5" y="886.8">AVER</text>
<text x="79.5" y="891.4">DD1</text>
<text x="79.5" y="896">IL1L</text>
<text x="79.5" y="900.6">M4</text>
<text x="79.5" y="905.2">RIEL</text>
<text x="79.5" y="909.8">RIFR</text>
<text x="79.5" y="914.4">RMHL</text>
<text x="79.5" y="919">SIADL</text>
<text x="79.5" y="923.6">SIADR</text>
<text x="79.5" y="928.2">SIAVL</text>
<text x="79.5" y="932.8">SIAVR</text>
<text x="79.5" y="937.4">SIBDL</text>
<text x="79.5" y="942">SIBDR</text>
<text x="79.5" y="946.6">SIBVL</text>
<text x="79.5" y="951.3">SIBVR</text>
<text x="79.5" y="955.9">VD1</text>
</g>
<g font-size="6" transform="translate(0 0) scale(1.17 1)" stroke="#000" stroke-width="0.12">
<text x="770.9" y="99.5">ADAL</text>
<text x="770.9" y="104.1">ADAR</text>
<text x="770.9" y="108.7">ADEL</text>
<text x="770.9" y="113.3">ADER</text>
<text x="770.9" y="117.9">ADFL</text>
<text x="770.9" y="122.5">ADLL</text>
<text x="770.9" y="127.1">ADLR</text>
<text x="770.9" y="131.7">AFDL</text>
<text x="770.9" y="136.3">AFDR</text>
<text x="770.9" y="140.9">AIAL</text>
<text x="770.9" y="145.5">AIAR</text>
<text x="770.9" y="150.1">AIBL</text>
<text x="770.9" y="154.7">AIBR</text>
<text x="770.9" y="159.3">AIML</text>
<text x="770.9" y="163.9">AIMR</text>
<text x="770.9" y="168.5">AINL</text>
<text x="770.9" y="173.1">AINR</text>
<text x="770.9" y="177.7">AIYL</text>
<text x="770.9" y="182.3">AIYR</text>
<text x="770.9" y="186.9">AIZL</text>
<text x="770.9" y="191.5">AIZR</text>
<text x="770.9" y="196.2">ALA</text>
<text x="770.9" y="200.8">AQR</text>
<text x="770.9" y="205.4">ASEL</text>
<text x="770.9" y="210">ASER</text>
<text x="770.9" y="214.6">ASGL</text>
<text x="770.9" y="219.2">ASGR</text>
<text x="770.9" y="223.8">ASHL</text>
<text x="770.9" y="228.4">ASHR</text>
<text x="770.9" y="233">ASIL</text>
<text x="770.9" y="237.6">ASIR</text>
<text x="770.9" y="242.2">ASJL</text>
<text x="770.9" y="246.8">ASJR</text>
<text x="770.9" y="251.4">ASKL</text>
<text x="770.9" y="256">ASKR</text>
<text x="770.9" y="260.6">AUAL</text>
<text x="770.9" y="265.2">AUAR</text>
<text x="770.9" y="269.8">AVAL</text>
<text x="770.9" y="274.4">AVAR</text>
<text x="770.9" y="279">AVBL</text>
<text x="770.9" y="283.6">AVBR</text>
<text x="770.9" y="288.2">AVDL</text>
<text x="770.9" y="292.8">AVDR</text>
<text x="770.9" y="297.4">AVEL</text>
<text x="770.9" y="302.1">AVER</text>
<text x="770.9" y="306.7">AVFL</text>
<text x="770.9" y="311.3">AVFR</text>
<text x="770.9" y="315.9">AVG</text>
<text x="770.9" y="320.5">AVHL</text>
<text x="770.9" y="325.1">AVHR</text>
<text x="770.9" y="329.7">AVJL</text>
<text x="770.9" y="334.3">AVJR</text>
<text x="770.9" y="338.9">AVKL</text>
<text x="770.9" y="343.5">AVKR</text>
<text x="770.9" y="348.1">AVL</text>
<text x="770.9" y="352.7">AWAL</text>
<text x="770.9" y="357.3">AWAR</text>
<text x="770.9" y="361.9">AWBL</text>
<text x="770.9" y="366.5">AWBR</text>
<text x="770.9" y="371.1">AWCL</text>
<text x="770.9" y="375.7">AWCR</text>
<text x="770.9" y="380.3">BAGL</text>
<text x="770.9" y="384.9">BAGR</text>
<text x="770.9" y="389.5">CEPDL</text>
<text x="770.9" y="394.1">CEPDR</text>
<text x="770.9" y="398.7">CEPVL</text>
<text x="770.9" y="403.3">CEPVR</text>
<text x="770.9" y="407.9">DB1</text>
<text x="770.9" y="412.6">DB2</text>
<text x="770.9" y="417.2">FLPL</text>
<text x="770.9" y="421.8">FLPR</text>
<text x="770.9" y="426.4">I1L</text>
<text x="770.9" y="431">I1R</text>
<text x="770.9" y="435.6">I2L</text>
<text x="770.9" y="440.2">I2R</text>
<text x="770.9" y="444.8">I3</text>
<text x="770.9" y="449.4">I4</text>
<text x="770.9" y="454">I5</text>
<text x="770.9" y="458.6">I6</text>
<text x="770.9" y="463.2">IL1DL</text>
<text x="770.9" y="467.8">IL1DR</text>
<text x="770.9" y="472.4">IL1L</text>
<text x="770.9" y="477">IL1R</text>
<text x="770.9" y="481.6">IL1VL</text>
<text x="770.9" y="486.2">IL1VR</text>
<text x="770.9" y="490.8">IL2DL</text>
<text x="770.9" y="495.4">IL2DR</text>
<text x="770.9" y="500">IL2L</text>
<text x="770.9" y="504.6">IL2R</text>
<text x="770.9" y="509.2">IL2VL</text>
<text x="770.9" y="513.8">IL2VR</text>
<text x="770.9" y="518.5">M1</text>
<text x="770.9" y="523.1">M2L</text>
<text x="770.9" y="527.7">M2R</text>
<text x="770.9" y="532.3">M3L</text>
<text x="770.9" y="536.9">M3R</text>
<text x="770.9" y="541.5">M4</text>
<text x="770.9" y="546.1">M5</text>
<text x="770.9" y="550.7">MCL</text>
<text x="770.9" y="555.3">MCR</text>
<text x="770.9" y="559.9">MI</text>
<text x="770.9" y="564.5">NSML</text>
<text x="770.9" y="569.1">NSMR</text>
<text x="770.9" y="573.7">OLLL</text>
<text x="770.9" y="578.3">OLLR</text>
<text x="770.9" y="582.9">OLQDL</text>
<text x="770.9" y="587.5">OLQDR</text>
<text x="770.9" y="592.1">OLQVL</text>
<text x="770.9" y="596.7">OLQVR</text>
<text x="770.9" y="601.3">RIAL</text>
<text x="770.9" y="605.9">RIAR</text>
<text x="770.9" y="610.5">RIBL</text>
<text x="770.9" y="615.1">RIBR</text>
<text x="770.9" y="619.7">RICL</text>
<text x="770.9" y="624.3">RICR</text>
<text x="770.9" y="629">RID</text>
<text x="770.9" y="633.6">RIGL</text>
<text x="770.9" y="638.2">RIGR</text>
<text x="770.9" y="642.8">RIH</text>
<text x="770.9" y="647.4">RIML</text>
<text x="770.9" y="652">RIMR</text>
<text x="770.9" y="656.6">RIPL</text>
<text x="770.9" y="661.2">RIPR</text>
<text x="770.9" y="665.8">RIR</text>
<text x="770.9" y="670.4">RIS</text>
<text x="770.9" y="675">RIVL</text>
<text x="770.9" y="679.6">RIVR</text>
<text x="770.9" y="684.2">RMDDL</text>
<text x="770.9" y="688.8">RMDDR</text>
<text x="770.9" y="693.4">RMDL</text>
<text x="770.9" y="698">RMDR</text>
<text x="770.9" y="702.6">RMDVL</text>
<text x="770.9" y="707.2">RMDVR</text>
<text x="770.9" y="711.8">RMED</text>
<text x="770.9" y="716.4">RMEL</text>
<text x="770.9" y="721">RMER</text>
<text x="770.9" y="725.6">RMEV</text>
<text x="770.9" y="730.2">RMGL</text>
<text x="770.9" y="734.9">RMGR</text>
<text x="770.9" y="739.5">SAADL</text>
<text x="770.9" y="744.1">SAADR</text>
<text x="770.9" y="748.7">SAAVL</text>
<text x="770.9" y="753.3">SAAVR</text>
<text x="770.9" y="757.9">SABD</text>
<text x="770.9" y="762.5">SABVL</text>
<text x="770.9" y="767.1">SABVR</text>
<text x="770.9" y="771.7">SMBDL</text>
<text x="770.9" y="776.3">SMBDR</text>
<text x="770.9" y="780.9">SMBVL</text>
<text x="770.9" y="785.5">SMBVR</text>
<text x="770.9" y="790.1">SMDDL</text>
<text x="770.9" y="794.7">SMDDR</text>
<text x="770.9" y="799.3">SMDVL</text>
<text x="770.9" y="803.9">SMDVR</text>
<text x="770.9" y="808.5">URADL</text>
<text x="770.9" y="813.1">URADR</text>
<text x="770.9" y="817.7">URAVL</text>
<text x="770.9" y="822.3">URAVR</text>
<text x="770.9" y="826.9">URBL</text>
<text x="770.9" y="831.5">URBR</text>
<text x="770.9" y="836.1">URXL</text>
<text x="770.9" y="840.8">URXR</text>
<text x="770.9" y="845.4">URYDL</text>
<text x="770.9" y="850">URYDR</text>
<text x="770.9" y="854.6">URYVL</text>
<text x="770.9" y="859.2">URYVR</text>
<text x="770.9" y="863.8">VA1</text>
<text x="770.9" y="868.4">VB1</text>
<text x="770.9" y="873">VB2</text>
<text x="770.9" y="877.6">ADFR</text>
<text x="770.9" y="882.2">AVFL</text>
<text x="770.9" y="886.8">AVER</text>
<text x="770.9" y="891.4">DD1</text>
<text x="770.9" y="896">IL1L</text>
<text x="770.9" y="900.6">M4</text>
<text x="770.9" y="905.2">RIEL</text>
<text x="770.9" y="909.8">RIFR</text>
<text x="770.9" y="914.4">RMHL</text>
<text x="770.9" y="919">SIADL</text>
<text x="770.9" y="923.6">SIADR</text>
<text x="770.9" y="928.2">SIAVL</text>
<text x="770.9" y="932.8">SIAVR</text>
<text x="770.9" y="937.4">SIBDL</text>
<text x="770.9" y="942">SIBDR</text>
<text x="770.9" y="946.6">SIBVL</text>
<text x="770.9" y="951.3">SIBVR</text>
<text x="770.9" y="955.9">VD1</text>
</g>
<g font-size="6" transform="rotate(-90) scale(1.17 1)" stroke="#000" stroke-width="0.12">
<text x="-67.9" y="111.5">ADAL</text>
<text x="-67.9" y="116.1">ADAR</text>
<text x="-67.9" y="120.7">ADEL</text>
<text x="-67.9" y="125.3">ADER</text>
<text x="-67.9" y="130">ADFL</text>
<text x="-67.9" y="134.6">ADLL</text>
<text x="-67.9" y="139.2">ADLR</text>
<text x="-67.9" y="143.8">AFDL</text>
<text x="-67.9" y="148.4">AFDR</text>
<text x="-67.9" y="153.1">AIAL</text>
<text x="-67.9" y="157.7">AIAR</text>
<text x="-67.9" y="162.3">AIBL</text>
<text x="-67.9" y="166.9">AIBR</text>
<text x="-67.9" y="171.5">AIML</text>
<text x="-67.9" y="176.2">AIMR</text>
<text x="-67.9" y="180.8">AINL</text>
<text x="-67.9" y="185.4">AINR</text>
<text x="-67.9" y="190">AIYL</text>
<text x="-67.9" y="194.7">AIYR</text>
<text x="-67.9" y="199.3">AIZL</text>
<text x="-67.9" y="203.9">AIZR</text>
<text x="-67.9" y="208.5">ALA</text>
<text x="-67.9" y="213.1">AQR</text>
<text x="-67.9" y="217.8">ASEL</text>
<text x="-67.9" y="222.4">ASER</text>
<text x="-67.9" y="227">ASGL</text>
<text x="-67.9" y="231.6">ASGR</text>
<text x="-67.9" y="236.2">ASHL</text>
<text x="-67.9" y="240.9">ASHR</text>
<text x="-67.9" y="245.5">ASIL</text>
<text x="-67.9" y="250.1">ASIR</text>
<text x="-67.9" y="254.7">ASJL</text>
<text x="-67.9" y="259.4">ASJR</text>
<text x="-67.9" y="264">ASKL</text>
<text x="-67.9" y="268.6">ASKR</text>
<text x="-67.9" y="273.2">AUAL</text>
<text x="-67.9" y="277.8">AUAR</text>
<text x="-67.9" y="282.5">AVAL</text>
<text x="-67.9" y="287.1">AVAR</text>
<text x="-67.9" y="291.7">AVBL</text>
<text x="-67.9" y="296.3">AVBR</text>
<text x="-67.9" y="300.9">AVDL</text>
<text x="-67.9" y="305.6">AVDR</text>
<text x="-67.9" y="310.2">AVEL</text>
<text x="-67.9" y="314.8">AVER</text>
<text x="-67.9" y="319.4">AVFL</text>
<text x="-67.9" y="324.1">AVFR</text>
<text x="-67.9" y="328.7">AVG</text>
<text x="-67.9" y="333.3">AVHL</text>
<text x="-67.9" y="337.9">AVHR</text>
<text x="-67.9" y="342.5">AVJL</text>
<text x="-67.9" y="347.2">AVJR</text>
<text x="-67.9" y="351.8">AVKL</text>
<text x="-67.9" y="356.4">AVKR</text>
<text x="-67.9" y="361">AVL</text>
<text x="-67.9" y="365.6">AWAL</text>
<text x="-67.9" y="370.3">AWAR</text>
<text x="-67.9" y="374.9">AWBL</text>
<text x="-67.9" y="379.5">AWBR</text>
<text x="-67.9" y="384.1">AWCL</text>
<text x="-67.9" y="388.7">AWCR</text>
<text x="-67.9" y="393.4">BAGL</text>
<text x="-67.9" y="398">BAGR</text>
<text x="-67.9" y="402.6">CEPDL</text>
<text x="-67.9" y="407.2">CEPDR</text>
<text x="-67.9" y="411.9">CEPVL</text>
<text x="-67.9" y="416.5">CEPVR</text>
<text x="-67.9" y="421.1">DB1</text>
<text x="-67.9" y="425.7">DB2</text>
<text x="-67.9" y="430.3">FLPL</text>
<text x="-67.9" y="435">FLPR</text>
<text x="-67.9" y="439.6">I1L</text>
<text x="-67.9" y="444.2">I1R</text>
<text x="-67.9" y="448.8">I2L</text>
<text x="-67.9" y="453.4">I2R</text>
<text x="-67.9" y="458.1">I3</text>
<text x="-67.9" y="462.7">I4</text>
<text x="-67.9" y="467.3">I5</text>
<text x="-67.9" y="471.9">I6</text>
<text x="-67.9" y="476.6">IL1DL</text>
<text x="-67.9" y="481.2">IL1DR</text>
<text x="-67.9" y="485.8">IL1L</text>
<text x="-67.9" y="490.4">IL1R</text>
<text x="-67.9" y="495">IL1VL</text>
<text x="-67.9" y="499.7">IL1VR</text>
<text x="-67.9" y="504.3">IL2DL</text>
<text x="-67.9" y="508.9">IL2DR</text>
<text x="-67.9" y="513.5">IL2L</text>
<text x="-67.9" y="518.1">IL2R</text>
<text x="-67.9" y="522.8">IL2VL</text>
<text x="-67.9" y="527.4">IL2VR</text>
<text x="-67.9" y="532">M1</text>
<text x="-67.9" y="536.6">M2L</text>
<text x="-67.9" y="541.3">M2R</text>
<text x="-67.9" y="545.9">M3L</text>
<text x="-67.9" y="550.5">M3R</text>
<text x="-67.9" y="555.1">M4</text>
<text x="-67.9" y="559.7">M5</text>
<text x="-67.9" y="564.4">MCL</text>
<text x="-67.9" y="569">MCR</text>
<text x="-67.9" y="573.6">MI</text>
<text x="-67.9" y="578.2">NSML</text>
<text x="-67.9" y="582.8">NSMR</text>
<text x="-67.9" y="587.5">OLLL</text>
<text x="-67.9" y="592.1">OLLR</text>
<text x="-67.9" y="596.7">OLQDL</text>
<text x="-67.9" y="601.3">OLQDR</text>
<text x="-67.9" y="605.9">OLQVL</text>
<text x="-67.9" y="610.6">OLQVR</text>
<text x="-67.9" y="615.2">RIAL</text>
<text x="-67.9" y="619.8">RIAR</text>
<text x="-67.9" y="624.4">RIBL</text>
<text x="-67.9" y="629.1">RIBR</text>
<text x="-67.9" y="633.7">RICL</text>
<text x="-67.9" y="638.3">RICR</text>
<text x="-67.9" y="642.9">RID</text>
<text x="-67.9" y="647.5">RIGL</text>
<text x="-67.9" y="652.2">RIGR</text>
<text x="-67.9" y="656.8">RIH</text>
<text x="-67.9" y="661.4">RIML</text>
<text x="-67.9" y="666">RIMR</text>
<text x="-67.9" y="670.6">RIPL</text>
<text x="-67.9" y="675.3">RIPR</text>
<text x="-67.9" y="679.9">RIR</text>
<text x="-67.9" y="684.5">RIS</text>
<text x="-67.9" y="689.1">RIVL</text>
<text x="-67.9" y="693.8">RIVR</text>
<text x="-67.9" y="698.4">RMDDL</text>
<text x="-67.9" y="703">RMDDR</text>
<text x="-67.9" y="707.6">RMDL</text>
<text x="-67.9" y="712.2">RMDR</text>
<text x="-67.9" y="716.9">RMDVL</text>
<text x="-67.9" y="721.5">RMDVR</text>
<text x="-67.9" y="726.1">RMED</text>
<text x="-67.9" y="730.7">RMEL</text>
<text x="-67.9" y="735.3">RMER</text>
<text x="-67.9" y="740">RMEV</text>
<text x="-67.9" y="744.6">RMGL</text>
<text x="-67.9" y="749.2">RMGR</text>
<text x="-67.9" y="753.8">SAADL</text>
<text x="-67.9" y="758.5">SAADR</text>
<text x="-67.9" y="763.1">SAAVL</text>
<text x="-67.9" y="767.7">SAAVR</text>
<text x="-67.9" y="772.3">SABD</text>
<text x="-67.9" y="776.9">SABVL</text>
<text x="-67.9" y="781.6">SABVR</text>
<text x="-67.9" y="786.2">SMBDL</text>
<text x="-67.9" y="790.8">SMBDR</text>
<text x="-67.9" y="795.4">SMBVL</text>
<text x="-67.9" y="800">SMBVR</text>
<text x="-67.9" y="804.7">SMDDL</text>
<text x="-67.9" y="809.3">SMDDR</text>
<text x="-67.9" y="813.9">SMDVL</text>
<text x="-67.9" y="818.5">SMDVR</text>
<text x="-67.9" y="823.2">URADL</text>
<text x="-67.9" y="827.8">URADR</text>
<text x="-67.9" y="832.4">URAVL</text>
<text x="-67.9" y="837">URAVR</text>
<text x="-67.9" y="841.6">URBL</text>
<text x="-67.9" y="846.3">URBR</text>
<text x="-67.9" y="850.9">URXL</text>
<text x="-67.9" y="855.5">URXR</text>
<text x="-67.9" y="860.1">URYDL</text>
<text x="-67.9" y="864.7">URYDR</text>
<text x="-67.9" y="869.4">URYVL</text>
<text x="-67.9" y="874">URYVR</text>
<text x="-67.9" y="878.6">VA1</text>
<text x="-67.9" y="883.2">VB1</text>
<text x="-67.9" y="887.8">VB2</text>
</g>
<g font-size="6" transform="rotate(-90) scale(1.17 1)" text-anchor="end" stroke="#000" stroke-width="0.12">
<text x="-830.3" y="111.5">ADAL</text>
<text x="-830.3" y="116.1">ADAR</text>
<text x="-830.3" y="120.7">ADEL</text>
<text x="-830.3" y="125.3">ADER</text>
<text x="-830.3" y="130">ADFL</text>
<text x="-830.3" y="134.6">ADLL</text>
<text x="-830.3" y="139.2">ADLR</text>
<text x="-830.3" y="143.8">AFDL</text>
<text x="-830.3" y="148.4">AFDR</text>
<text x="-830.3" y="153.1">AIAL</text>
<text x="-830.3" y="157.7">AIAR</text>
<text x="-830.3" y="162.3">AIBL</text>
<text x="-830.3" y="166.9">AIBR</text>
<text x="-830.3" y="171.5">AIML</text>
<text x="-830.3" y="176.2">AIMR</text>
<text x="-830.3" y="180.8">AINL</text>
<text x="-830.3" y="185.4">AINR</text>
<text x="-830.3" y="190">AIYL</text>
<text x="-830.3" y="194.7">AIYR</text>
<text x="-830.3" y="199.3">AIZL</text>
<text x="-830.3" y="203.9">AIZR</text>
<text x="-830.3" y="208.5">ALA</text>
<text x="-830.3" y="213.1">AQR</text>
<text x="-830.3" y="217.8">ASEL</text>
<text x="-830.3" y="222.4">ASER</text>
<text x="-830.3" y="227">ASGL</text>
<text x="-830.3" y="231.6">ASGR</text>
<text x="-830.3" y="236.2">ASHL</text>
<text x="-830.3" y="240.9">ASHR</text>
<text x="-830.3" y="245.5">ASIL</text>
<text x="-830.3" y="250.1">ASIR</text>
<text x="-830.3" y="254.7">ASJL</text>
<text x="-830.3" y="259.4">ASJR</text>
<text x="-830.3" y="264">ASKL</text>
<text x="-830.3" y="268.6">ASKR</text>
<text x="-830.3" y="273.2">AUAL</text>
<text x="-830.3" y="277.8">AUAR</text>
<text x="-830.3" y="282.5">AVAL</text>
<text x="-830.3" y="287.1">AVAR</text>
<text x="-830.3" y="291.7">AVBL</text>
<text x="-830.3" y="296.3">AVBR</text>
<text x="-830.3" y="300.9">AVDL</text>
<text x="-830.3" y="305.6">AVDR</text>
<text x="-830.3" y="310.2">AVEL</text>
<text x="-830.3" y="314.8">AVER</text>
<text x="-830.3" y="319.4">AVFL</text>
<text x="-830.3" y="324.1">AVFR</text>
<text x="-830.3" y="328.7">AVG</text>
<text x="-830.3" y="333.3">AVHL</text>
<text x="-830.3" y="337.9">AVHR</text>
<text x="-830.3" y="342.5">AVJL</text>
<text x="-830.3" y="347.2">AVJR</text>
<text x="-830.3" y="351.8">AVKL</text>
<text x="-830.3" y="356.4">AVKR</text>
<text x="-830.3" y="361">AVL</text>
<text x="-830.3" y="365.6">AWAL</text>
<text x="-830.3" y="370.3">AWAR</text>
<text x="-830.3" y="374.9">AWBL</text>
<text x="-830.3" y="379.5">AWBR</text>
<text x="-830.3" y="384.1">AWCL</text>
<text x="-830.3" y="388.7">AWCR</text>
<text x="-830.3" y="393.4">BAGL</text>
<text x="-830.3" y="398">BAGR</text>
<text x="-830.3" y="402.6">CEPDL</text>
<text x="-830.3" y="407.2">CEPDR</text>
<text x="-830.3" y="411.9">CEPVL</text>
<text x="-830.3" y="416.5">CEPVR</text>
<text x="-830.3" y="421.1">DB1</text>
<text x="-830.3" y="425.7">DB2</text>
<text x="-830.3" y="430.3">FLPL</text>
<text x="-830.3" y="435">FLPR</text>
<text x="-830.3" y="439.6">I1L</text>
<text x="-830.3" y="444.2">I1R</text>
<text x="-830.3" y="448.8">I2L</text>
<text x="-830.3" y="453.4">I2R</text>
<text x="-830.3" y="458.1">I3</text>
<text x="-830.3" y="462.7">I4</text>
<text x="-830.3" y="467.3">I5</text>
<text x="-830.3" y="471.9">I6</text>
<text x="-830.3" y="476.6">IL1DL</text>
<text x="-830.3" y="481.2">IL1DR</text>
<text x="-830.3" y="485.8">IL1L</text>
<text x="-830.3" y="490.4">IL1R</text>
<text x="-830.3" y="495">IL1VL</text>
<text x="-830.3" y="499.7">IL1VR</text>
<text x="-830.3" y="504.3">IL2DL</text>
<text x="-830.3" y="508.9">IL2DR</text>
<text x="-830.3" y="513.5">IL2L</text>
<text x="-830.3" y="518.1">IL2R</text>
<text x="-830.3" y="522.8">IL2VL</text>
<text x="-830.3" y="527.4">IL2VR</text>
<text x="-830.3" y="532">M1</text>
<text x="-830.3" y="536.6">M2L</text>
<text x="-830.3" y="541.3">M2R</text>
<text x="-830.3" y="545.9">M3L</text>
<text x="-830.3" y="550.5">M3R</text>
<text x="-830.3" y="555.1">M4</text>
<text x="-830.3" y="559.7">M5</text>
<text x="-830.3" y="564.4">MCL</text>
<text x="-830.3" y="569">MCR</text>
<text x="-830.3" y="573.6">MI</text>
<text x="-830.3" y="578.2">NSML</text>
<text x="-830.3" y="582.8">NSMR</text>
<text x="-830.3" y="587.5">OLLL</text>
<text x="-830.3" y="592.1">OLLR</text>
<text x="-830.3" y="596.7">OLQDL</text>
<text x="-830.3" y="601.3">OLQDR</text>
<text x="-830.3" y="605.9">OLQVL</text>
<text x="-830.3" y="610.6">OLQVR</text>
<text x="-830.3" y="615.2">RIAL</text>
<text x="-830.3" y="619.8">RIAR</text>
<text x="-830.3" y="624.4">RIBL</text>
<text x="-830.3" y="629.1">RIBR</text>
<text x="-830.3" y="633.7">RICL</text>
<text x="-830.3" y="638.3">RICR</text>
<text x="-830.3" y="642.9">RID</text>
<text x="-830.3" y="647.5">RIGL</text>
<text x="-830.3" y="652.2">RIGR</text>
<text x="-830.3" y="656.8">RIH</text>
<text x="-830.3" y="661.4">RIML</text>
<text x="-830.3" y="666">RIMR</text>
<text x="-830.3" y="670.6">RIPL</text>
<text x="-830.3" y="675.3">RIPR</text>
<text x="-830.3" y="679.9">RIR</text>
<text x="-830.3" y="684.5">RIS</text>
<text x="-830.3" y="689.1">RIVL</text>
<text x="-830.3" y="693.8">RIVR</text>
<text x="-830.3" y="698.4">RMDDL</text>
<text x="-830.3" y="703">RMDDR</text>
<text x="-830.3" y="707.6">RMDL</text>
<text x="-830.3" y="712.2">RMDR</text>
<text x="-830.3" y="716.9">RMDVL</text>
<text x="-830.3" y="721.5">RMDVR</text>
<text x="-830.3" y="726.1">RMED</text>
<text x="-830.3" y="730.7">RMEL</text>
<text x="-830.3" y="735.3">RMER</text>
<text x="-830.3" y="740">RMEV</text>
<text x="-830.3" y="744.6">RMGL</text>
<text x="-830.3" y="749.2">RMGR</text>
<text x="-830.3" y="753.8">SAADL</text>
<text x="-830.3" y="758.5">SAADR</text>
<text x="-830.3" y="763.1">SAAVL</text>
<text x="-830.3" y="767.7">SAAVR</text>
<text x="-830.3" y="772.3">SABD</text>
<text x="-830.3" y="776.9">SABVL</text>
<text x="-830.3" y="781.6">SABVR</text>
<text x="-830.3" y="786.2">SMBDL</text>
<text x="-830.3" y="790.8">SMBDR</text>
<text x="-830.3" y="795.4">SMBVL</text>
<text x="-830.3" y="800">SMBVR</text>
<text x="-830.3" y="804.7">SMDDL</text>
<text x="-830.3" y="809.3">SMDDR</text>
<text x="-830.3" y="813.9">SMDVL</text>
<text x="-830.3" y="818.5">SMDVR</text>
<text x="-830.3" y="823.2">URADL</text>
<text x="-830.3" y="827.8">URADR</text>
<text x="-830.3" y="832.4">URAVL</text>
<text x="-830.3" y="837">URAVR</text>
<text x="-830.3" y="841.6">URBL</text>
<text x="-830.3" y="846.3">URBR</text>
<text x="-830.3" y="850.9">URXL</text>
<text x="-830.3" y="855.5">URXR</text>
<text x="-830.3" y="860.1">URYDL</text>
<text x="-830.3" y="864.7">URYDR</text>
<text x="-830.3" y="869.4">URYVL</text>
<text x="-830.3" y="874">URYVR</text>
<text x="-830.3" y="878.6">VA1</text>
<text x="-830.3" y="883.2">VB1</text>
<text x="-830.3" y="887.8">VB2</text>
</g>
<text x="13.9" y="39.3" font-size="53" font-family="'Liberation Sans', Arial, sans-serif" font-weight="bold" fill="#231f20">a</text>
<text x="200" y="38.7" font-size="47.5" font-family="'Liberation Sans', Arial, sans-serif" fill="#231f20" textLength="582" lengthAdjust="spacingAndGlyphs">Responses / Observations</text>
<text transform="translate(46 689) rotate(-90)" font-size="65" font-family="'Liberation Sans', Arial, sans-serif" text-anchor="start" textLength="328" lengthAdjust="spacingAndGlyphs" fill="#231f20">responding</text>
<text x="339.6" y="1050.5" font-size="58.7">stimulated</text>
<defs><linearGradient id="ga" x1="0" y1="1" x2="0" y2="0"><stop offset="0" stop-color="#e2e2ef"/><stop offset="0.1" stop-color="#d3d3e8"/><stop offset="0.2" stop-color="#bfc0de"/><stop offset="0.3" stop-color="#adabd2"/><stop offset="0.4" stop-color="#9995c6"/><stop offset="0.5" stop-color="#8683bd"/><stop offset="0.6" stop-color="#7669af"/><stop offset="0.7" stop-color="#684da1"/><stop offset="0.8" stop-color="#5a3294"/><stop offset="0.9" stop-color="#4c1888"/><stop offset="1" stop-color="#3f007d"/></linearGradient></defs>
<rect x="955" y="94.5" width="43.5" height="861.5" fill="url(#ga)" stroke="#000" stroke-width="2"/>
<path d="M998.5 956h7" stroke="#000" stroke-width="1.6"/>
<text x="1012" y="963" font-size="19">0.0</text>
<path d="M998.5 783.7h7" stroke="#000" stroke-width="1.6"/>
<text x="1012" y="790.7" font-size="19">0.2</text>
<path d="M998.5 611.4h7" stroke="#000" stroke-width="1.6"/>
<text x="1012" y="618.4" font-size="19">0.4</text>
<path d="M998.5 439.1h7" stroke="#000" stroke-width="1.6"/>
<text x="1012" y="446.1" font-size="19">0.6</text>
<path d="M998.5 266.8h7" stroke="#000" stroke-width="1.6"/>
<text x="1012" y="273.8" font-size="19">0.8</text>
<path d="M998.5 94.5h7" stroke="#000" stroke-width="1.6"/>
<text x="1012" y="101.5" font-size="19">1.0</text>
<text transform="translate(1069 523.5) rotate(-90)" font-size="19" text-anchor="middle">Fraction Responding</text>
<path d="M1032.1 820.8h12.1M1059.5 820.8v13.3M1059.5 847.5v10.5h-14.2M1032.2 858h-9.9v-4.1M1022.3 839.7v-11.4" fill="none" stroke="#231f20" stroke-width="2.61"/>
<rect x="1021" y="896" width="39.8" height="37.2" fill="#231f20"/>
<text x="1073.2" y="839.8" font-size="23.8" font-family="'Liberation Sans', Arial, sans-serif" fill="#231f20">No</text>
<text x="1073.2" y="871.3" font-size="23.8" font-family="'Liberation Sans', Arial, sans-serif" fill="#231f20" textLength="150" lengthAdjust="spacingAndGlyphs">measurement</text>
<text x="1075" y="918.1" font-size="23.8" font-family="'Liberation Sans', Arial, sans-serif" fill="#231f20">Not</text>
<text x="1075" y="949" font-size="23.8" font-family="'Liberation Sans', Arial, sans-serif" fill="#231f20">Displayed</text>
<text x="1173.9" y="66.9" font-size="59" font-family="'Liberation Sans', Arial, sans-serif" font-weight="bold" fill="#231f20">b</text>
<text x="1654" y="25" font-size="29" text-anchor="middle" textLength="187" lengthAdjust="spacingAndGlyphs">AQR → FLPR</text>
<line x1="1518.9" y1="36.5" x2="1518.9" y2="266.5" stroke="#555" stroke-width="2"/>
<path d="M1518.9 194.6L1518.9 194.6L1519.4 188.5L1519.9 182.4L1520.4 176.4L1520.9 170.3L1521.4 164.2L1522 158.1L1522.5 152L1523 145.9L1523.5 139.8L1524 133.7L1524.5 127.6L1525 121.5L1525.5 115.4L1526 109.3L1526.5 103.3L1527 97.2L1527.5 91.1L1528 85L1528.5 78.9L1529 72.8L1529.6 66.7L1530.1 60.6L1530.6 54.5L1531.1 54.2L1531.6 55.7L1532.1 57.8L1532.6 60.5L1533.1 63.5L1533.6 67L1534.1 70.7L1534.6 74.7L1535.1 78.9L1535.6 83.4L1536.1 88L1536.7 92.7L1537.2 97.6L1537.7 102.5L1538.2 107.5L1538.7 112.6L1539.2 117.7L1539.7 122.8L1540.2 127.9L1540.7 133L1541.2 138.1L1541.7 143.1L1542.2 148.1L1542.7 153.1L1543.2 157.9L1543.7 162.7L1544.3 167.5L1544.8 172.1L1545.3 176.6L1545.8 181.1L1546.3 185.4L1546.8 189.7L1547.3 193.8L1547.8 197.8L1548.3 201.7L1548.8 205.4L1549.4 209.7L1551.7 224L1553.9 235.4L1556.2 243.7L1558.4 248.7L1560.7 250.5L1563 249.5L1565.2 246L1567.5 240.7L1569.7 234.4L1572 227.5L1574.2 220.8L1576.5 214.7L1578.8 209.4L1581 205.1L1583.3 201.8L1585.5 199.4L1587.8 197.6L1590 196.5L1592.3 195.7L1594.6 195.2L1596.8 195L1599.1 194.8L1601.3 194.7L1603.6 194.7L1605.8 194.6L1608.1 194.6L1610.4 194.6L1612.6 194.6L1614.9 194.6L1617.1 194.6L1619.4 194.6L1621.6 194.6L1623.9 194.6L1626.2 194.6L1628.4 194.6L1630.7 194.6L1632.9 194.6L1635.2 194.6L1637.4 194.6L1639.7 194.6L1642 194.6L1644.2 194.6L1646.5 194.6L1648.7 194.6L1651 194.6L1653.2 194.6L1655.5 194.6L1657.8 194.6L1660 194.6L1662.3 194.6L1664.5 194.6L1666.8 194.6L1669 194.6L1671.3 194.6L1673.6 194.6L1675.8 194.6L1678.1 194.6L1680.3 194.6L1682.6 194.6L1684.8 194.6L1687.1 194.6L1689.4 194.6L1691.6 194.6L1693.9 194.6L1696.1 194.6L1698.4 194.6L1700.6 194.6L1702.9 194.6L1705.1 194.6L1707.4 194.6L1709.7 194.6L1711.9 194.6L1714.2 194.6L1716.4 194.6L1718.7 194.6L1720.9 194.6L1723.2 194.6L1725.5 194.6L1727.7 194.6L1730 194.6L1732.2 194.6L1734.5 194.6L1736.7 194.6L1739 194.6L1741.3 194.6L1743.5 194.6L1745.8 194.6L1748 194.6L1750.3 194.6L1752.5 194.6L1754.8 194.6L1757.1 194.6L1759.3 194.6L1761.6 194.6L1763.8 194.6L1766.1 194.6L1768.3 194.6L1770.6 194.6L1772.9 194.6L1775.1 194.6L1777.4 194.6L1779.6 194.6L1781.9 194.6L1784.1 194.6L1786.4 194.6L1788.7 194.6L1790.9 194.6L1793.2 194.6L1795.4 194.6L1797.7 194.6L1799.9 194.6L1802.2 194.6L1804.5 194.6L1806.7 194.6L1809 194.6L1811.2 194.6L1813.5 194.6L1815.7 194.6L1818 194.6" fill="none" stroke="#1f77b4" stroke-opacity="0.5" stroke-width="2.0"/>
<path d="M1518.9 194.6L1518.9 194.6L1519.4 188.8L1519.9 183L1520.4 177.2L1520.9 171.4L1521.4 165.6L1522 159.8L1522.5 154L1523 148.2L1523.5 142.4L1524 136.6L1524.5 130.8L1525 125L1525.5 119.2L1526 113.4L1526.5 107.6L1527 101.8L1527.5 96L1528 90.2L1528.5 84.4L1529 78.6L1529.6 72.8L1530.1 67L1530.6 61.2L1531.1 55.4L1531.6 50.9L1532.1 51.3L1532.6 52.1L1533.1 53L1533.6 54.2L1534.1 55.5L1534.6 57L1535.1 58.6L1535.6 60.3L1536.1 62.1L1536.7 64L1537.2 66L1537.7 68.1L1538.2 70.2L1538.7 72.5L1539.2 74.7L1539.7 77L1540.2 79.4L1540.7 81.7L1541.2 84.2L1541.7 86.6L1542.2 89L1542.7 91.5L1543.2 94L1543.7 96.4L1544.3 98.9L1544.8 101.4L1545.3 103.8L1545.8 106.3L1546.3 108.7L1546.8 111.1L1547.3 113.5L1547.8 115.9L1548.3 118.2L1548.8 120.5L1549.4 123.2L1551.7 132.9L1553.9 141.8L1556.2 149.9L1558.4 157.1L1560.7 163.4L1563 168.9L1565.2 173.6L1567.5 177.6L1569.7 180.9L1572 183.7L1574.2 186L1576.5 187.8L1578.8 189.3L1581 190.5L1583.3 191.5L1585.5 192.2L1587.8 192.8L1590 193.2L1592.3 193.6L1594.6 193.9L1596.8 194.1L1599.1 194.2L1601.3 194.3L1603.6 194.4L1605.8 194.5L1608.1 194.5L1610.4 194.5L1612.6 194.6L1614.9 194.6L1617.1 194.6L1619.4 194.6L1621.6 194.6L1623.9 194.6L1626.2 194.6L1628.4 194.6L1630.7 194.6L1632.9 194.6L1635.2 194.6L1637.4 194.6L1639.7 194.6L1642 194.6L1644.2 194.6L1646.5 194.6L1648.7 194.6L1651 194.6L1653.2 194.6L1655.5 194.6L1657.8 194.6L1660 194.6L1662.3 194.6L1664.5 194.6L1666.8 194.6L1669 194.6L1671.3 194.6L1673.6 194.6L1675.8 194.6L1678.1 194.6L1680.3 194.6L1682.6 194.6L1684.8 194.6L1687.1 194.6L1689.4 194.6L1691.6 194.6L1693.9 194.6L1696.1 194.6L1698.4 194.6L1700.6 194.6L1702.9 194.6L1705.1 194.6L1707.4 194.6L1709.7 194.6L1711.9 194.6L1714.2 194.6L1716.4 194.6L1718.7 194.6L1720.9 194.6L1723.2 194.6L1725.5 194.6L1727.7 194.6L1730 194.6L1732.2 194.6L1734.5 194.6L1736.7 194.6L1739 194.6L1741.3 194.6L1743.5 194.6L1745.8 194.6L1748 194.6L1750.3 194.6L1752.5 194.6L1754.8 194.6L1757.1 194.6L1759.3 194.6L1761.6 194.6L1763.8 194.6L1766.1 194.6L1768.3 194.6L1770.6 194.6L1772.9 194.6L1775.1 194.6L1777.4 194.6L1779.6 194.6L1781.9 194.6L1784.1 194.6L1786.4 194.6L1788.7 194.6L1790.9 194.6L1793.2 194.6L1795.4 194.6L1797.7 194.6L1799.9 194.6L1802.2 194.6L1804.5 194.6L1806.7 194.6L1809 194.6L1811.2 194.6L1813.5 194.6L1815.7 194.6L1818 194.6" fill="none" stroke="#e377c2" stroke-opacity="0.4" stroke-width="2.0"/>
<path d="M1518.9 194.6L1518.9 194.6L1519.4 183.6L1519.9 172.5L1520.4 161.4L1520.9 150.3L1521.4 139.3L1522 128.2L1522.5 117.1L1523 106L1523.5 95L1524 83.9L1524.5 72.8L1525 61.7L1525.5 53.6L1526 55.4L1526.5 58.8L1527 63.2L1527.5 68.4L1528 74.1L1528.5 80.3L1529 86.8L1529.6 93.5L1530.1 100.3L1530.6 107L1531.1 113.7L1531.6 120.3L1532.1 126.7L1532.6 132.8L1533.1 138.7L1533.6 144.3L1534.1 149.6L1534.6 154.6L1535.1 159.2L1535.6 163.6L1536.1 167.6L1536.7 171.3L1537.2 174.8L1537.7 177.9L1538.2 180.8L1538.7 183.4L1539.2 185.8L1539.7 187.9L1540.2 189.9L1540.7 191.6L1541.2 193.2L1541.7 194.6L1542.2 195.9L1542.7 197L1543.2 198.1L1543.7 199L1544.3 199.8L1544.8 200.5L1545.3 201.1L1545.8 201.7L1546.3 202.2L1546.8 202.7L1547.3 203.1L1547.8 203.5L1548.3 203.8L1548.8 204.1L1549.4 204.4L1551.7 205.3L1553.9 205.8L1556.2 206L1558.4 206.1L1560.7 206L1563 205.7L1565.2 205.3L1567.5 204.7L1569.7 204.1L1572 203.3L1574.2 202.5L1576.5 201.7L1578.8 200.9L1581 200.1L1583.3 199.3L1585.5 198.6L1587.8 197.9L1590 197.4L1592.3 196.8L1594.6 196.4L1596.8 196L1599.1 195.7L1601.3 195.5L1603.6 195.3L1605.8 195.1L1608.1 195L1610.4 194.9L1612.6 194.8L1614.9 194.8L1617.1 194.7L1619.4 194.7L1621.6 194.7L1623.9 194.7L1626.2 194.6L1628.4 194.6L1630.7 194.6L1632.9 194.6L1635.2 194.6L1637.4 194.6L1639.7 194.6L1642 194.6L1644.2 194.6L1646.5 194.6L1648.7 194.6L1651 194.6L1653.2 194.6L1655.5 194.6L1657.8 194.6L1660 194.6L1662.3 194.6L1664.5 194.6L1666.8 194.6L1669 194.6L1671.3 194.6L1673.6 194.6L1675.8 194.6L1678.1 194.6L1680.3 194.6L1682.6 194.6L1684.8 194.6L1687.1 194.6L1689.4 194.6L1691.6 194.6L1693.9 194.6L1696.1 194.6L1698.4 194.6L1700.6 194.6L1702.9 194.6L1705.1 194.6L1707.4 194.6L1709.7 194.6L1711.9 194.6L1714.2 194.6L1716.4 194.6L1718.7 194.6L1720.9 194.6L1723.2 194.6L1725.5 194.6L1727.7 194.6L1730 194.6L1732.2 194.6L1734.5 194.6L1736.7 194.6L1739 194.6L1741.3 194.6L1743.5 194.6L1745.8 194.6L1748 194.6L1750.3 194.6L1752.5 194.6L1754.8 194.6L1757.1 194.6L1759.3 194.6L1761.6 194.6L1763.8 194.6L1766.1 194.6L1768.3 194.6L1770.6 194.6L1772.9 194.6L1775.1 194.6L1777.4 194.6L1779.6 194.6L1781.9 194.6L1784.1 194.6L1786.4 194.6L1788.7 194.6L1790.9 194.6L1793.2 194.6L1795.4 194.6L1797.7 194.6L1799.9 194.6L1802.2 194.6L1804.5 194.6L1806.7 194.6L1809 194.6L1811.2 194.6L1813.5 194.6L1815.7 194.6L1818 194.6" fill="none" stroke="#d62728" stroke-opacity="0.45" stroke-width="2.0"/>
<path d="M1518.9 194.6L1518.9 194.6L1519.4 188.8L1519.9 183L1520.4 177.2L1520.9 171.4L1521.4 165.6L1522 159.8L1522.5 154L1523 148.2L1523.5 142.4L1524 136.6L1524.5 130.8L1525 125L1525.5 119.2L1526 113.4L1526.5 107.6L1527 101.8L1527.5 96L1528 90.2L1528.5 84.4L1529 78.6L1529.6 72.8L1530.1 67L1530.6 61.2L1531.1 55.4L1531.6 51L1532.1 51.4L1532.6 52L1533.1 52.9L1533.6 54L1534.1 55.2L1534.6 56.5L1535.1 58L1535.6 59.5L1536.1 61.2L1536.7 62.9L1537.2 64.8L1537.7 66.7L1538.2 68.6L1538.7 70.7L1539.2 72.8L1539.7 74.9L1540.2 77.1L1540.7 79.3L1541.2 81.5L1541.7 83.8L1542.2 86.1L1542.7 88.4L1543.2 90.7L1543.7 93L1544.3 95.4L1544.8 97.7L1545.3 100L1545.8 102.4L1546.3 104.7L1546.8 107L1547.3 109.3L1547.8 111.6L1548.3 113.8L1548.8 116.1L1549.4 118.7L1551.7 128.2L1553.9 137.2L1556.2 145.4L1558.4 152.8L1560.7 159.5L1563 165.4L1565.2 170.5L1567.5 175L1569.7 178.8L1572 182L1574.2 184.6L1576.5 186.8L1578.8 188.6L1581 190.1L1583.3 191.2L1585.5 192.1L1587.8 192.8L1590 193.3L1592.3 193.7L1594.6 194L1596.8 194.2L1599.1 194.3L1601.3 194.4L1603.6 194.5L1605.8 194.5L1608.1 194.6L1610.4 194.6L1612.6 194.6L1614.9 194.6L1617.1 194.6L1619.4 194.6L1621.6 194.6L1623.9 194.6L1626.2 194.6L1628.4 194.6L1630.7 194.6L1632.9 194.6L1635.2 194.6L1637.4 194.6L1639.7 194.6L1642 194.6L1644.2 194.6L1646.5 194.6L1648.7 194.6L1651 194.6L1653.2 194.6L1655.5 194.6L1657.8 194.6L1660 194.6L1662.3 194.6L1664.5 194.6L1666.8 194.6L1669 194.6L1671.3 194.6L1673.6 194.6L1675.8 194.6L1678.1 194.6L1680.3 194.6L1682.6 194.6L1684.8 194.6L1687.1 194.6L1689.4 194.6L1691.6 194.6L1693.9 194.6L1696.1 194.6L1698.4 194.6L1700.6 194.6L1702.9 194.6L1705.1 194.6L1707.4 194.6L1709.7 194.6L1711.9 194.6L1714.2 194.6L1716.4 194.6L1718.7 194.6L1720.9 194.6L1723.2 194.6L1725.5 194.6L1727.7 194.6L1730 194.6L1732.2 194.6L1734.5 194.6L1736.7 194.6L1739 194.6L1741.3 194.6L1743.5 194.6L1745.8 194.6L1748 194.6L1750.3 194.6L1752.5 194.6L1754.8 194.6L1757.1 194.6L1759.3 194.6L1761.6 194.6L1763.8 194.6L1766.1 194.6L1768.3 194.6L1770.6 194.6L1772.9 194.6L1775.1 194.6L1777.4 194.6L1779.6 194.6L1781.9 194.6L1784.1 194.6L1786.4 194.6L1788.7 194.6L1790.9 194.6L1793.2 194.6L1795.4 194.6L1797.7 194.6L1799.9 194.6L1802.2 194.6L1804.5 194.6L1806.7 194.6L1809 194.6L1811.2 194.6L1813.5 194.6L1815.7 194.6L1818 194.6" fill="none" stroke="#9467bd" stroke-opacity="0.45" stroke-width="2.0"/>
<path d="M1518.9 194.6L1518.9 194.6L1519.4 188.8L1519.9 183L1520.4 177.2L1520.9 171.4L1521.4 165.6L1522 159.8L1522.5 154L1523 148.2L1523.5 142.4L1524 136.6L1524.5 130.8L1525 125L1525.5 119.2L1526 113.4L1526.5 107.6L1527 101.8L1527.5 96L1528 90.2L1528.5 84.4L1529 78.6L1529.6 72.8L1530.1 67L1530.6 61.2L1531.1 55.4L1531.6 50.9L1532.1 51.1L1532.6 51.6L1533.1 52.2L1533.6 53L1534.1 53.9L1534.6 54.9L1535.1 56L1535.6 57.3L1536.1 58.6L1536.7 60L1537.2 61.4L1537.7 63L1538.2 64.6L1538.7 66.2L1539.2 67.9L1539.7 69.6L1540.2 71.4L1540.7 73.2L1541.2 75.1L1541.7 77L1542.2 78.9L1542.7 80.8L1543.2 82.8L1543.7 84.8L1544.3 86.8L1544.8 88.8L1545.3 90.8L1545.8 92.8L1546.3 94.8L1546.8 96.8L1547.3 98.8L1547.8 100.8L1548.3 102.8L1548.8 104.8L1549.4 107.1L1551.7 115.7L1553.9 124L1556.2 131.8L1558.4 139L1560.7 145.7L1563 151.7L1565.2 157.2L1567.5 162L1569.7 166.3L1572 170.1L1574.2 173.4L1576.5 176.2L1578.8 178.7L1581 180.7L1583.3 182.5L1585.5 184L1587.8 185.2L1590 186.2L1592.3 187L1594.6 187.7L1596.8 188.3L1599.1 188.7L1601.3 189.1L1603.6 189.4L1605.8 189.6L1608.1 189.8L1610.4 189.9L1612.6 190L1614.9 190.1L1617.1 190.2L1619.4 190.2L1621.6 190.3L1623.9 190.3L1626.2 190.3L1628.4 190.3L1630.7 190.3L1632.9 190.3L1635.2 190.3L1637.4 190.3L1639.7 190.3L1642 190.3L1644.2 190.3L1646.5 190.3L1648.7 190.3L1651 190.3L1653.2 190.3L1655.5 190.3L1657.8 190.3L1660 190.3L1662.3 190.3L1664.5 190.3L1666.8 190.3L1669 190.3L1671.3 190.3L1673.6 190.3L1675.8 190.3L1678.1 190.3L1680.3 190.3L1682.6 190.3L1684.8 190.3L1687.1 190.3L1689.4 190.3L1691.6 190.3L1693.9 190.3L1696.1 190.3L1698.4 190.3L1700.6 190.3L1702.9 190.3L1705.1 190.3L1707.4 190.3L1709.7 190.3L1711.9 190.3L1714.2 190.3L1716.4 190.3L1718.7 190.3L1720.9 190.3L1723.2 190.3L1725.5 190.3L1727.7 190.3L1730 190.3L1732.2 190.3L1734.5 190.3L1736.7 190.3L1739 190.3L1741.3 190.3L1743.5 190.3L1745.8 190.3L1748 190.3L1750.3 190.3L1752.5 190.3L1754.8 190.3L1757.1 190.3L1759.3 190.3L1761.6 190.3L1763.8 190.3L1766.1 190.3L1768.3 190.3L1770.6 190.3L1772.9 190.3L1775.1 190.3L1777.4 190.3L1779.6 190.3L1781.9 190.3L1784.1 190.3L1786.4 190.3L1788.7 190.3L1790.9 190.3L1793.2 190.3L1795.4 190.3L1797.7 190.3L1799.9 190.3L1802.2 190.3L1804.5 190.3L1806.7 190.3L1809 190.3L1811.2 190.3L1813.5 190.3L1815.7 190.3L1818 190.3" fill="none" stroke="#2ca02c" stroke-opacity="1.0" stroke-width="2.4"/>
<path d="M1518.9 194.6L1518.9 194.6L1519.4 188.5L1519.9 182.4L1520.4 176.4L1520.9 170.3L1521.4 164.2L1522 158.1L1522.5 152L1523 145.9L1523.5 139.8L1524 133.7L1524.5 127.6L1525 121.5L1525.5 115.4L1526 109.3L1526.5 103.3L1527 97.2L1527.5 91.1L1528 85L1528.5 78.9L1529 72.8L1529.6 66.7L1530.1 60.6L1530.6 54.5L1531.1 50.9L1531.6 51.3L1532.1 52L1532.6 52.7L1533.1 53.7L1533.6 54.7L1534.1 55.9L1534.6 57.2L1535.1 58.6L1535.6 60L1536.1 61.6L1536.7 63.2L1537.2 64.9L1537.7 66.6L1538.2 68.4L1538.7 70.2L1539.2 72.1L1539.7 74L1540.2 76L1540.7 78L1541.2 80L1541.7 82.1L1542.2 84.1L1542.7 86.2L1543.2 88.3L1543.7 90.4L1544.3 92.5L1544.8 94.6L1545.3 96.7L1545.8 98.8L1546.3 101L1546.8 103.1L1547.3 105.2L1547.8 107.2L1548.3 109.3L1548.8 111.4L1549.4 113.8L1551.7 122.7L1553.9 131.1L1556.2 138.9L1558.4 146.2L1560.7 152.8L1563 158.7L1565.2 164.1L1567.5 168.8L1569.7 172.9L1572 176.5L1574.2 179.7L1576.5 182.3L1578.8 184.6L1581 186.6L1583.3 188.2L1585.5 189.5L1587.8 190.6L1590 191.6L1592.3 192.3L1594.6 192.9L1596.8 193.4L1599.1 193.8L1601.3 194.2L1603.6 194.4L1605.8 194.6L1608.1 194.8L1610.4 194.9L1612.6 195L1614.9 195.1L1617.1 195.1L1619.4 195.2L1621.6 195.2L1623.9 195.3L1626.2 195.3L1628.4 195.3L1630.7 195.3L1632.9 195.3L1635.2 195.3L1637.4 195.3L1639.7 195.3L1642 195.3L1644.2 195.3L1646.5 195.3L1648.7 195.3L1651 195.3L1653.2 195.3L1655.5 195.3L1657.8 195.3L1660 195.3L1662.3 195.3L1664.5 195.3L1666.8 195.3L1669 195.3L1671.3 195.3L1673.6 195.3L1675.8 195.3L1678.1 195.3L1680.3 195.3L1682.6 195.3L1684.8 195.3L1687.1 195.3L1689.4 195.3L1691.6 195.3L1693.9 195.3L1696.1 195.3L1698.4 195.3L1700.6 195.3L1702.9 195.3L1705.1 195.3L1707.4 195.3L1709.7 195.3L1711.9 195.3L1714.2 195.3L1716.4 195.3L1718.7 195.3L1720.9 195.3L1723.2 195.3L1725.5 195.3L1727.7 195.3L1730 195.3L1732.2 195.3L1734.5 195.3L1736.7 195.3L1739 195.3L1741.3 195.3L1743.5 195.3L1745.8 195.3L1748 195.3L1750.3 195.3L1752.5 195.3L1754.8 195.3L1757.1 195.3L1759.3 195.3L1761.6 195.3L1763.8 195.3L1766.1 195.3L1768.3 195.3L1770.6 195.3L1772.9 195.3L1775.1 195.3L1777.4 195.3L1779.6 195.3L1781.9 195.3L1784.1 195.3L1786.4 195.3L1788.7 195.3L1790.9 195.3L1793.2 195.3L1795.4 195.3L1797.7 195.3L1799.9 195.3L1802.2 195.3L1804.5 195.3L1806.7 195.3L1809 195.3L1811.2 195.3L1813.5 195.3L1815.7 195.3L1818 195.3" fill="none" stroke="#8c564b" stroke-opacity="1.0" stroke-width="2.4"/>
<path d="M1518.9 194.6L1518.9 194.6L1519.4 189.2L1519.9 183.8L1520.4 178.4L1520.9 173L1521.4 167.6L1522 162.1L1522.5 156.7L1523 151.3L1523.5 145.9L1524 140.5L1524.5 135.1L1525 129.7L1525.5 124.2L1526 118.8L1526.5 113.4L1527 108L1527.5 102.6L1528 97.2L1528.5 91.8L1529 86.3L1529.6 80.9L1530.1 75.5L1530.6 70.1L1531.1 64.7L1531.6 59.3L1532.1 53.9L1532.6 51L1533.1 51.4L1533.6 52L1534.1 52.7L1534.6 53.6L1535.1 54.6L1535.6 55.7L1536.1 56.9L1536.7 58.1L1537.2 59.5L1537.7 60.9L1538.2 62.4L1538.7 63.9L1539.2 65.5L1539.7 67.2L1540.2 68.9L1540.7 70.6L1541.2 72.4L1541.7 74.2L1542.2 76L1542.7 77.9L1543.2 79.7L1543.7 81.7L1544.3 83.6L1544.8 85.5L1545.3 87.5L1545.8 89.4L1546.3 91.4L1546.8 93.4L1547.3 95.4L1547.8 97.4L1548.3 99.3L1548.8 101.3L1549.4 103.7L1551.7 112.3L1553.9 120.8L1556.2 128.8L1558.4 136.4L1560.7 143.5L1563 150L1565.2 156L1567.5 161.5L1569.7 166.4L1572 170.7L1574.2 174.6L1576.5 178L1578.8 181L1581 183.6L1583.3 185.8L1585.5 187.8L1587.8 189.4L1590 190.8L1592.3 192L1594.6 193L1596.8 193.8L1599.1 194.5L1601.3 195L1603.6 195.5L1605.8 195.9L1608.1 196.2L1610.4 196.4L1612.6 196.7L1614.9 196.8L1617.1 197L1619.4 197.1L1621.6 197.2L1623.9 197.2L1626.2 197.3L1628.4 197.3L1630.7 197.4L1632.9 197.4L1635.2 197.4L1637.4 197.4L1639.7 197.4L1642 197.4L1644.2 197.5L1646.5 197.5L1648.7 197.5L1651 197.5L1653.2 197.5L1655.5 197.5L1657.8 197.5L1660 197.5L1662.3 197.5L1664.5 197.5L1666.8 197.5L1669 197.5L1671.3 197.5L1673.6 197.5L1675.8 197.5L1678.1 197.5L1680.3 197.5L1682.6 197.5L1684.8 197.5L1687.1 197.5L1689.4 197.5L1691.6 197.5L1693.9 197.5L1696.1 197.5L1698.4 197.5L1700.6 197.5L1702.9 197.5L1705.1 197.5L1707.4 197.5L1709.7 197.5L1711.9 197.5L1714.2 197.5L1716.4 197.5L1718.7 197.5L1720.9 197.5L1723.2 197.5L1725.5 197.5L1727.7 197.5L1730 197.5L1732.2 197.5L1734.5 197.5L1736.7 197.5L1739 197.5L1741.3 197.5L1743.5 197.5L1745.8 197.5L1748 197.5L1750.3 197.5L1752.5 197.5L1754.8 197.5L1757.1 197.5L1759.3 197.5L1761.6 197.5L1763.8 197.5L1766.1 197.5L1768.3 197.5L1770.6 197.5L1772.9 197.5L1775.1 197.5L1777.4 197.5L1779.6 197.5L1781.9 197.5L1784.1 197.5L1786.4 197.5L1788.7 197.5L1790.9 197.5L1793.2 197.5L1795.4 197.5L1797.7 197.5L1799.9 197.5L1802.2 197.5L1804.5 197.5L1806.7 197.5L1809 197.5L1811.2 197.5L1813.5 197.5L1815.7 197.5L1818 197.5" fill="none" stroke="#ff7f0e" stroke-opacity="0.9" stroke-width="3.0"/>
<path d="M1518.9 194.6L1518.9 194.6L1519.4 188.8L1519.9 183L1520.4 177.2L1520.9 171.4L1521.4 165.6L1522 159.8L1522.5 154L1523 148.2L1523.5 142.4L1524 136.6L1524.5 130.8L1525 125L1525.5 119.2L1526 113.4L1526.5 107.6L1527 101.8L1527.5 96L1528 90.2L1528.5 84.4L1529 78.6L1529.6 72.8L1530.1 67L1530.6 61.2L1531.1 55.4L1531.6 50.9L1532.1 51.2L1532.6 51.8L1533.1 52.6L1533.6 53.5L1534.1 54.6L1534.6 55.8L1535.1 57.1L1535.6 58.5L1536.1 60L1536.7 61.5L1537.2 63.2L1537.7 64.9L1538.2 66.7L1538.7 68.5L1539.2 70.4L1539.7 72.3L1540.2 74.2L1540.7 76.3L1541.2 78.3L1541.7 80.3L1542.2 82.4L1542.7 84.5L1543.2 86.7L1543.7 88.8L1544.3 90.9L1544.8 93.1L1545.3 95.3L1545.8 97.4L1546.3 99.6L1546.8 101.7L1547.3 103.9L1547.8 106L1548.3 108.1L1548.8 110.2L1549.4 112.7L1551.7 121.8L1553.9 130.4L1556.2 138.4L1558.4 145.8L1560.7 152.5L1563 158.5L1565.2 163.9L1567.5 168.7L1569.7 172.9L1572 176.5L1574.2 179.6L1576.5 182.2L1578.8 184.5L1581 186.3L1583.3 187.9L1585.5 189.2L1587.8 190.3L1590 191.2L1592.3 191.9L1594.6 192.5L1596.8 192.9L1599.1 193.3L1601.3 193.6L1603.6 193.8L1605.8 194L1608.1 194.2L1610.4 194.3L1612.6 194.4L1614.9 194.4L1617.1 194.5L1619.4 194.5L1621.6 194.5L1623.9 194.6L1626.2 194.6L1628.4 194.6L1630.7 194.6L1632.9 194.6L1635.2 194.6L1637.4 194.6L1639.7 194.6L1642 194.6L1644.2 194.6L1646.5 194.6L1648.7 194.6L1651 194.6L1653.2 194.6L1655.5 194.6L1657.8 194.6L1660 194.6L1662.3 194.6L1664.5 194.6L1666.8 194.6L1669 194.6L1671.3 194.6L1673.6 194.6L1675.8 194.6L1678.1 194.6L1680.3 194.6L1682.6 194.6L1684.8 194.6L1687.1 194.6L1689.4 194.6L1691.6 194.6L1693.9 194.6L1696.1 194.6L1698.4 194.6L1700.6 194.6L1702.9 194.6L1705.1 194.6L1707.4 194.6L1709.7 194.6L1711.9 194.6L1714.2 194.6L1716.4 194.6L1718.7 194.6L1720.9 194.6L1723.2 194.6L1725.5 194.6L1727.7 194.6L1730 194.6L1732.2 194.6L1734.5 194.6L1736.7 194.6L1739 194.6L1741.3 194.6L1743.5 194.6L1745.8 194.6L1748 194.6L1750.3 194.6L1752.5 194.6L1754.8 194.6L1757.1 194.6L1759.3 194.6L1761.6 194.6L1763.8 194.6L1766.1 194.6L1768.3 194.6L1770.6 194.6L1772.9 194.6L1775.1 194.6L1777.4 194.6L1779.6 194.6L1781.9 194.6L1784.1 194.6L1786.4 194.6L1788.7 194.6L1790.9 194.6L1793.2 194.6L1795.4 194.6L1797.7 194.6L1799.9 194.6L1802.2 194.6L1804.5 194.6L1806.7 194.6L1809 194.6L1811.2 194.6L1813.5 194.6L1815.7 194.6L1818 194.6" fill="none" stroke="#222222" stroke-opacity="0.8" stroke-width="1.6"/>
<rect x="1489" y="36.5" width="329" height="230.0" fill="none" stroke="#000" stroke-width="1.6"/>
<path d="M1518.9 266.5v6" stroke="#000" stroke-width="1.6"/>
<text x="1518.9" y="305" font-size="30.5" text-anchor="middle">0</text>
<path d="M1668.5 266.5v6" stroke="#000" stroke-width="1.6"/>
<text x="1668.5" y="305" font-size="30.5" text-anchor="middle">5</text>
<path d="M1818 266.5v6" stroke="#000" stroke-width="1.6"/>
<text x="1818" y="305" font-size="30.5" text-anchor="middle">10</text>
<path d="M1489 194.6h-6" stroke="#000" stroke-width="1.6"/>
<text x="1475" y="205.6" font-size="30.5" text-anchor="end">0</text>
<path d="M1489 50.9h-6" stroke="#000" stroke-width="1.6"/>
<text x="1475" y="61.9" font-size="30.5" text-anchor="end">1</text>
<text transform="translate(1443 148) rotate(-90)" font-size="31.5" text-anchor="middle">Kernel</text>
<text x="1653" y="342" font-size="31.5" text-anchor="middle">Time (s)</text>
<text x="1187.9" y="382.5" font-size="53" font-family="'Liberation Sans', Arial, sans-serif" font-weight="bold" fill="#231f20">c</text>
<clipPath id="clip1325"><rect x="1325.8" y="380" width="301.2" height="129"/></clipPath>
<g clip-path="url(#clip1325)">
<path d="M1325.8 485.7L1327.3 485.5L1328.8 485.3L1330.3 485.1L1331.9 484.9L1333.4 484.7L1334.9 484.4L1336.4 484.2L1337.9 484L1339.4 483.8L1340.9 483.6L1342.4 483.4L1344 483.1L1345.5 482.9L1347 483L1348.5 483.3L1350 483.5L1351.5 483.8L1353 484.1L1354.6 484.3L1356.1 484.6L1357.6 484.9L1359.1 485.1L1360.6 485.4L1362.1 485.7L1363.6 485.9L1365.2 486.2L1366.7 486.4L1368.2 486.7L1369.7 487L1371.2 487.2L1372.7 487.5L1374.2 487.8L1375.7 488L1377.3 488.3L1378.8 488.6L1380.3 488.3L1381.8 487.9L1383.3 487.5L1384.8 487.1L1386.3 486.7L1387.9 486.3L1389.4 485.9L1390.9 485.5L1392.4 485.1L1393.9 484.7L1395.4 484.4L1396.9 484L1398.5 483.6L1400 483.2L1401.5 482.6L1403 481.4L1404.5 480.2L1406 479.1L1407.5 477.9L1409 476.7L1410.6 475.5L1412.1 474.3L1413.6 474.2L1415.1 474.2L1416.6 474.2L1418.1 474.2L1419.6 474.2L1421.2 474.2L1422.7 474.2L1424.2 472L1425.7 468.5L1427.2 464.9L1428.7 461.3L1430.2 457.8L1431.7 453.3L1433.3 448.6L1434.8 443.8L1436.3 439.1L1437.8 434.3L1439.3 429L1440.8 423.7L1442.3 418.4L1443.9 413L1445.4 407.8L1446.9 405.4L1448.4 403L1449.9 400.6L1451.4 398.3L1452.9 396L1454.5 394.2L1456 392.4L1457.5 390.6L1459 388.9L1460.5 387.5L1462 387.3L1463.5 387L1465 386.7L1466.6 386.4L1468.1 386.1L1469.6 385.8L1471.1 385.5L1472.6 385.2L1474.1 384.9L1475.6 384.8L1477.2 384.9L1478.7 385.1L1480.2 385.2L1481.7 385.3L1483.2 385.4L1484.7 385.5L1486.2 385.7L1487.8 385.8L1489.3 385.9L1490.8 387.3L1492.3 388.8L1493.8 390.3L1495.3 391.9L1496.8 393.4L1498.3 393.9L1499.9 394.4L1501.4 394.8L1502.9 395.3L1504.4 395.8L1505.9 396.3L1507.4 396.7L1508.9 397.2L1510.5 397.7L1512 398.1L1513.5 398.6L1515 399L1516.5 399.4L1518 399.8L1519.5 400.2L1521.1 400.6L1522.6 401.1L1524.1 401.5L1525.6 401.9L1527.1 402.2L1528.6 402.4L1530.1 402.6L1531.6 402.8L1533.2 403L1534.7 403.2L1536.2 403.4L1537.7 403.6L1539.2 403.8L1540.7 404L1542.2 404.2L1543.8 404.4L1545.3 404.6L1546.8 404.8L1548.3 404.9L1549.8 405.1L1551.3 405.3L1552.8 405.5L1554.3 405.7L1555.9 405.8L1557.4 406L1558.9 406.2L1560.4 406.4L1561.9 406.6L1563.4 406.7L1564.9 406.8L1566.5 407L1568 407.1L1569.5 407.2L1571 407.3L1572.5 407.4L1574 407.5L1575.5 407.7L1577.1 407.8L1578.6 407.7L1580.1 407.4L1581.6 407.1L1583.1 406.8L1584.6 406.5L1586.1 406.2L1587.6 405.9L1589.2 405.6L1590.7 405.3L1592.2 405L1593.7 406.1L1595.2 407.6L1596.7 409L1598.2 410.4L1599.8 411.8L1601.3 412.2L1602.8 412.5L1604.3 412.8L1605.8 413.1L1607.3 413.4L1608.8 413.6L1610.4 413.9L1611.9 414.2L1613.4 414.5L1614.9 415L1616.4 415.7L1617.9 416.5L1619.4 417.3L1620.9 418L1622.5 418.8L1624 419.6L1625.5 420.3L1627 421.1L1627 494.4L1625.5 493.9L1624 493.5L1622.5 493.1L1620.9 492.6L1619.4 492.2L1617.9 491.7L1616.4 491.3L1614.9 490.9L1613.4 490.4L1611.9 490L1610.4 489.5L1608.8 489.1L1607.3 488.7L1605.8 488.1L1604.3 487.5L1602.8 486.9L1601.3 486.3L1599.8 485.7L1598.2 485.1L1596.7 484.5L1595.2 483.9L1593.7 483.3L1592.2 482.8L1590.7 482.5L1589.2 482.2L1587.6 481.9L1586.1 481.6L1584.6 481.3L1583.1 481L1581.6 480.7L1580.1 480.4L1578.6 480.1L1577.1 480.3L1575.5 481.2L1574 482L1572.5 482.8L1571 483.7L1569.5 484.5L1568 485.3L1566.5 486.1L1564.9 487L1563.4 487.8L1561.9 486.8L1560.4 485.2L1558.9 483.5L1557.4 481.9L1555.9 480.2L1554.3 478.9L1552.8 477.7L1551.3 476.6L1549.8 475.4L1548.3 474.2L1546.8 473L1545.3 471.8L1543.8 470.6L1542.2 469.4L1540.7 468.4L1539.2 468.3L1537.7 468.2L1536.2 468L1534.7 467.9L1533.2 467.8L1531.6 467.7L1530.1 467.6L1528.6 467.5L1527.1 467.3L1525.6 467.9L1524.1 469.3L1522.6 470.7L1521.1 472.1L1519.5 473.6L1518 475L1516.5 476.4L1515 477.8L1513.5 479.3L1512 480.7L1510.5 482.1L1508.9 483.5L1507.4 484.1L1505.9 482.3L1504.4 480.4L1502.9 478.6L1501.4 476.8L1499.9 475L1498.3 473.2L1496.8 471.3L1495.3 470.1L1493.8 468.9L1492.3 467.8L1490.8 466.6L1489.3 465.6L1487.8 466.2L1486.2 466.8L1484.7 467.4L1483.2 468L1481.7 468.5L1480.2 468.6L1478.7 468.7L1477.2 468.8L1475.6 468.9L1474.1 469L1472.6 469.2L1471.1 469.3L1469.6 469.4L1468.1 469.5L1466.6 469.7L1465 470L1463.5 470.3L1462 470.6L1460.5 470.9L1459 471.2L1457.5 471.5L1456 471.8L1454.5 472.1L1452.9 472.4L1451.4 473.3L1449.9 474.4L1448.4 475.5L1446.9 476.5L1445.4 477.6L1443.9 478.7L1442.3 479.8L1440.8 480.8L1439.3 481.9L1437.8 483L1436.3 484.5L1434.8 486L1433.3 487.5L1431.7 488.9L1430.2 490.4L1428.7 491.9L1427.2 493.4L1425.7 494.9L1424.2 496.4L1422.7 497.7L1421.2 498.9L1419.6 500.1L1418.1 501.3L1416.6 502.5L1415.1 502.7L1413.6 502.1L1412.1 501.5L1410.6 500.9L1409 500.4L1407.5 499.8L1406 499.2L1404.5 498.6L1403 498L1401.5 497.4L1400 497.8L1398.5 498.3L1396.9 498.9L1395.4 499.5L1393.9 500.1L1392.4 500.7L1390.9 501.3L1389.4 501.9L1387.9 502.5L1386.3 503L1384.8 502.6L1383.3 502.2L1381.8 501.8L1380.3 501.4L1378.8 501L1377.3 500.6L1375.7 500.2L1374.2 499.8L1372.7 499.4L1371.2 499L1369.7 498.7L1368.2 498.3L1366.7 497.9L1365.2 497.5L1363.6 497.4L1362.1 497.6L1360.6 497.8L1359.1 498L1357.6 498.2L1356.1 498.4L1354.6 498.6L1353 498.8L1351.5 499L1350 499.2L1348.5 499.4L1347 499.5L1345.5 499.7L1344 499.9L1342.4 500.1L1340.9 499.9L1339.4 499.6L1337.9 499.4L1336.4 499.1L1334.9 498.9L1333.4 498.6L1331.9 498.3L1330.3 498.1L1328.8 497.8L1327.3 497.5L1325.8 497.3Z" fill="#1f77b4" fill-opacity="0.1"/>
<path d="M1325.8 491.5H1627" stroke="#000" stroke-width="2.6"/>
<path d="M1401.2 380V509" stroke="#000" stroke-width="2.6"/>
<path d="M1325.8 490.3L1327.3 490.5L1328.8 490.7L1330.3 490.9L1331.9 491.1L1333.4 491.3L1334.9 491.5L1336.4 491.1L1337.9 490.7L1339.4 490.3L1340.9 489.9L1342.4 489.6L1344 489.2L1345.5 488.8L1347 488.8L1348.5 489.2L1350 489.6L1351.5 489.9L1353 490.3L1354.6 490.9L1356.1 491.6L1357.6 492.3L1359.1 493L1360.6 493.7L1362.1 493.5L1363.6 493.2L1365.2 492.9L1366.7 492.6L1368.2 492.3L1369.7 491.9L1371.2 491.6L1372.7 491.8L1374.2 492.4L1375.7 493L1377.3 493.5L1378.8 494.1L1380.3 494.6L1381.8 495.2L1383.3 495.4L1384.8 495L1386.3 494.6L1387.9 494.2L1389.4 493.8L1390.9 493.4L1392.4 493L1393.9 492.6L1395.4 491.9L1396.9 491.2L1398.5 490.5L1400 489.8L1401.5 489.1L1403 488.6L1404.5 488.2L1406 487.7L1407.5 487.2L1409 487L1410.6 487.4L1412.1 487.7L1413.6 488.1L1415.1 488.4L1416.6 488.4L1418.1 488.1L1419.6 487.7L1421.2 487.4L1422.7 487L1424.2 486L1425.7 484.6L1427.2 483.2L1428.7 481.7L1430.2 480.3L1431.7 478.7L1433.3 477L1434.8 475.4L1436.3 473.7L1437.8 472.1L1439.3 469.7L1440.8 467.2L1442.3 464.7L1443.9 462.2L1445.4 459.7L1446.9 456.5L1448.4 453.3L1449.9 450L1451.4 446.8L1452.9 443.9L1454.5 442.2L1456 440.6L1457.5 438.9L1459 437.3L1460.5 435.8L1462 435L1463.5 434.2L1465 433.4L1466.6 432.5L1468.1 431.7L1469.6 430.9L1471.1 430L1472.6 429.2L1474.1 428.4L1475.6 428L1477.2 428L1478.7 428L1480.2 428L1481.7 428L1483.2 428.6L1484.7 429.5L1486.2 430.3L1487.8 431.1L1489.3 432L1490.8 432.9L1492.3 433.8L1493.8 434.8L1495.3 435.7L1496.8 436.7L1498.3 437.6L1499.9 438.6L1501.4 439.5L1502.9 440.5L1504.4 441.4L1505.9 442L1507.4 442.6L1508.9 443.2L1510.5 443.8L1512 444L1513.5 443.4L1515 442.8L1516.5 442.2L1518 441.6L1519.5 441.1L1521.1 440.6L1522.6 440.1L1524.1 439.7L1525.6 439.2L1527.1 439.1L1528.6 439.4L1530.1 439.6L1531.6 439.8L1533.2 440.1L1534.7 440.4L1536.2 440.8L1537.7 441.1L1539.2 441.5L1540.7 441.8L1542.2 442.3L1543.8 442.8L1545.3 443.2L1546.8 443.7L1548.3 444.2L1549.8 445L1551.3 445.8L1552.8 446.7L1554.3 447.5L1555.9 448.3L1557.4 449L1558.9 449.7L1560.4 450.5L1561.9 451.2L1563.4 451.4L1564.9 450.5L1566.5 449.5L1568 448.6L1569.5 447.6L1571 447.4L1572.5 448.3L1574 449.1L1575.5 449.9L1577.1 450.7L1578.6 451L1580.1 450.9L1581.6 450.8L1583.1 450.7L1584.6 450.6L1586.1 450.2L1587.6 449.7L1589.2 449.3L1590.7 448.8L1592.2 448.3L1593.7 448.9L1595.2 449.8L1596.7 450.6L1598.2 451.4L1599.8 452.2L1601.3 452.8L1602.8 453.4L1604.3 454L1605.8 454.6L1607.3 455.2L1608.8 455.4L1610.4 455.7L1611.9 455.9L1613.4 456.1L1614.9 456.6L1616.4 457.7L1617.9 458.7L1619.4 459.8L1620.9 460.9L1622.5 461.9L1624 462.9L1625.5 463.9L1627 465" fill="none" stroke="#1f77b4" stroke-width="3.4" stroke-linejoin="round"/>
</g>
<rect x="1325.8" y="380" width="301.2" height="129" fill="none" stroke="#000" stroke-width="1.5"/>
<path d="M1327.6 509v5" stroke="#000" stroke-width="1.3"/>
<text x="1327.6" y="535" font-size="19" text-anchor="middle">−10</text>
<path d="M1401.2 509v5" stroke="#000" stroke-width="1.3"/>
<text x="1401.2" y="535" font-size="19" text-anchor="middle">0</text>
<path d="M1474.7 509v5" stroke="#000" stroke-width="1.3"/>
<text x="1474.7" y="535" font-size="19" text-anchor="middle">10</text>
<path d="M1548.3 509v5" stroke="#000" stroke-width="1.3"/>
<text x="1548.3" y="535" font-size="19" text-anchor="middle">20</text>
<path d="M1621.9 509v5" stroke="#000" stroke-width="1.3"/>
<text x="1621.9" y="535" font-size="19" text-anchor="middle">30</text>
<path d="M1325.8 491.5h-5" stroke="#000" stroke-width="1.3"/>
<text x="1317.8" y="498.5" font-size="19" text-anchor="end">0</text>
<path d="M1325.8 433.8h-5" stroke="#000" stroke-width="1.3"/>
<text x="1317.8" y="440.8" font-size="19" text-anchor="end">1</text>
<text x="1476.4" y="370" font-size="20.5" text-anchor="middle">AQR (Stim)</text>
<clipPath id="clip1663"><rect x="1663.6" y="380" width="301.4" height="129"/></clipPath>
<g clip-path="url(#clip1663)">
<path d="M1663.6 489.2L1665.1 489.2L1666.6 489.2L1668.1 489.3L1669.7 489.3L1671.2 489.3L1672.7 489.3L1674.2 489.4L1675.7 489.4L1677.2 489.4L1678.7 489.4L1680.3 489.4L1681.8 489.5L1683.3 489.5L1684.8 489.5L1686.3 489.5L1687.8 489.6L1689.3 489.6L1690.9 489.6L1692.4 489.6L1693.9 489.6L1695.4 489.7L1696.9 489.7L1698.4 489.7L1699.9 489.7L1701.5 489.8L1703 489.7L1704.5 489.7L1706 489.6L1707.5 489.5L1709 489.4L1710.6 489.4L1712.1 489.3L1713.6 489.2L1715.1 489.2L1716.6 489.1L1718.1 489L1719.6 489L1721.2 488.9L1722.7 488.8L1724.2 488.7L1725.7 488.7L1727.2 488.6L1728.7 488.5L1730.2 488.5L1731.8 488.4L1733.3 488.3L1734.8 488.2L1736.3 488.2L1737.8 488.1L1739.3 488L1740.8 487.8L1742.4 487.5L1743.9 487.3L1745.4 487L1746.9 486.8L1748.4 486.6L1749.9 486.3L1751.4 486.1L1753 485.9L1754.5 485.5L1756 484.9L1757.5 484.3L1759 483.7L1760.5 483.1L1762 482.5L1763.6 481.9L1765.1 481.3L1766.6 480.7L1768.1 480.1L1769.6 479.2L1771.1 478.1L1772.6 477L1774.2 476L1775.7 474.9L1777.2 473.8L1778.7 472.7L1780.2 471.7L1781.7 470.6L1783.3 469.5L1784.8 468.5L1786.3 467.5L1787.8 466.5L1789.3 465.5L1790.8 464.5L1792.3 463.5L1793.9 462.5L1795.4 461.5L1796.9 460.5L1798.4 459.8L1799.9 460L1801.4 460.2L1802.9 460.4L1804.5 460.5L1806 460.7L1807.5 460.9L1809 461.1L1810.5 461.2L1812 461.4L1813.5 461.8L1815.1 462.4L1816.6 463L1818.1 463.6L1819.6 464.2L1821.1 464.8L1822.6 465.4L1824.1 466L1825.7 466.6L1827.2 467.2L1828.7 467.5L1830.2 467.7L1831.7 467.9L1833.2 468.2L1834.7 468.4L1836.3 468.7L1837.8 468.9L1839.3 469.1L1840.8 469.4L1842.3 469.5L1843.8 468.8L1845.3 468L1846.9 467.3L1848.4 466.6L1849.9 465.9L1851.4 465.2L1852.9 464.5L1854.4 463.8L1856 463.1L1857.5 462.8L1859 463.1L1860.5 463.4L1862 463.7L1863.5 464L1865 464.3L1866.6 464.6L1868.1 464.9L1869.6 465.2L1871.1 465.5L1872.6 465.7L1874.1 466L1875.6 466.3L1877.2 466.6L1878.7 466.9L1880.2 467.2L1881.7 467.5L1883.2 467.8L1884.7 468.1L1886.2 468.4L1887.8 468.8L1889.3 469.3L1890.8 469.7L1892.3 470.1L1893.8 470.5L1895.3 470.9L1896.8 471.3L1898.4 471.7L1899.9 472.2L1901.4 472.3L1902.9 472L1904.4 471.6L1905.9 471.2L1907.4 470.8L1909 470.4L1910.5 470L1912 469.6L1913.5 469.9L1915 470.2L1916.5 470.5L1918 470.8L1919.6 471.2L1921.1 471.5L1922.6 471.8L1924.1 472.1L1925.6 472.5L1927.1 472.8L1928.7 473.2L1930.2 473.6L1931.7 473.9L1933.2 474.3L1934.7 474.6L1936.2 475L1937.7 475.3L1939.3 475.9L1940.8 476.5L1942.3 477.1L1943.8 477.7L1945.3 478.3L1946.8 478.9L1948.3 479.5L1949.9 480.1L1951.4 480.7L1952.9 481L1954.4 480.8L1955.9 480.5L1957.4 480.2L1958.9 479.9L1960.5 479.6L1962 479.4L1963.5 479.1L1965 478.8L1965 493.8L1963.5 493.9L1962 494.1L1960.5 494.2L1958.9 494.3L1957.4 494.5L1955.9 494.6L1954.4 494.7L1952.9 494.9L1951.4 495L1949.9 495.1L1948.3 495.3L1946.8 495.4L1945.3 495.5L1943.8 495.4L1942.3 495.3L1940.8 495.2L1939.3 495.1L1937.7 495L1936.2 494.8L1934.7 494.7L1933.2 494.6L1931.7 494.5L1930.2 494.4L1928.7 494.6L1927.1 494.8L1925.6 494.9L1924.1 495.1L1922.6 495.3L1921.1 495.5L1919.6 495.7L1918 495.8L1916.5 496L1915 496.1L1913.5 495.9L1912 495.8L1910.5 495.7L1909 495.6L1907.4 495.5L1905.9 495.4L1904.4 495.2L1902.9 495.1L1901.4 495L1899.9 494.9L1898.4 494.8L1896.8 494.6L1895.3 494.5L1893.8 494.4L1892.3 494.3L1890.8 494.2L1889.3 494L1887.8 493.9L1886.2 493.8L1884.7 493.9L1883.2 494L1881.7 494.2L1880.2 494.3L1878.7 494.4L1877.2 494.5L1875.6 494.6L1874.1 494.8L1872.6 494.9L1871.1 495L1869.6 495.3L1868.1 495.5L1866.6 495.7L1865 496L1863.5 496.2L1862 496.5L1860.5 496.7L1859 496.9L1857.5 497.2L1856 497.3L1854.4 497.3L1852.9 497.3L1851.4 497.3L1849.9 497.3L1848.4 497.3L1846.9 497.3L1845.3 497.3L1843.8 497.3L1842.3 497.3L1840.8 496.9L1839.3 496.4L1837.8 495.9L1836.3 495.4L1834.7 495L1833.2 494.5L1831.7 494L1830.2 493.5L1828.7 493.1L1827.2 492.6L1825.7 492.5L1824.1 492.4L1822.6 492.3L1821.1 492.2L1819.6 492L1818.1 491.9L1816.6 491.8L1815.1 491.7L1813.5 491.6L1812 491.5L1810.5 491.7L1809 491.8L1807.5 491.9L1806 492L1804.5 492.1L1802.9 492.3L1801.4 492.4L1799.9 492.5L1798.4 492.6L1796.9 492.7L1795.4 492.9L1793.9 493L1792.3 493.1L1790.8 493.2L1789.3 493.3L1787.8 493.4L1786.3 493.6L1784.8 493.7L1783.3 493.8L1781.7 494.2L1780.2 494.5L1778.7 494.9L1777.2 495.2L1775.7 495.6L1774.2 495.9L1772.6 496.3L1771.1 496.6L1769.6 497L1768.1 497.3L1766.6 497.4L1765.1 497.5L1763.6 497.7L1762 497.8L1760.5 497.9L1759 498L1757.5 498.1L1756 498.2L1754.5 498.4L1753 498.2L1751.4 497.7L1749.9 497.2L1748.4 496.7L1746.9 496.3L1745.4 495.8L1743.9 495.3L1742.4 494.8L1740.8 494.4L1739.3 493.9L1737.8 493.8L1736.3 493.9L1734.8 493.9L1733.3 494L1731.8 494L1730.2 494.1L1728.7 494.1L1727.2 494.2L1725.7 494.2L1724.2 494.3L1722.7 494.3L1721.2 494.4L1719.6 494.4L1718.1 494.5L1716.6 494.5L1715.1 494.6L1713.6 494.6L1712.1 494.7L1710.6 494.7L1709 494.7L1707.5 494.8L1706 494.8L1704.5 494.9L1703 494.9L1701.5 494.9L1699.9 494.9L1698.4 494.8L1696.9 494.8L1695.4 494.8L1693.9 494.7L1692.4 494.7L1690.9 494.6L1689.3 494.6L1687.8 494.5L1686.3 494.5L1684.8 494.4L1683.3 494.4L1681.8 494.4L1680.3 494.3L1678.7 494.3L1677.2 494.2L1675.7 494.2L1674.2 494.1L1672.7 494.1L1671.2 494L1669.7 494L1668.1 493.9L1666.6 493.9L1665.1 493.9L1663.6 493.8Z" fill="#1f77b4" fill-opacity="0.1"/>
<path d="M1663.6 491.5H1965" stroke="#000" stroke-width="2.6"/>
<path d="M1739 380V509" stroke="#000" stroke-width="2.6"/>
<path d="M1663.6 491.5L1665.1 491.6L1666.6 491.7L1668.1 491.8L1669.7 491.9L1671.2 492L1672.7 492.1L1674.2 492.2L1675.7 492.3L1677.2 492.4L1678.7 492.6L1680.3 492.6L1681.8 492.5L1683.3 492.3L1684.8 492.1L1686.3 491.9L1687.8 491.8L1689.3 491.6L1690.9 491.4L1692.4 491.2L1693.9 491L1695.4 491L1696.9 491.2L1698.4 491.3L1699.9 491.5L1701.5 491.7L1703 491.9L1704.5 492.1L1706 492.2L1707.5 492.4L1709 492.6L1710.6 492.7L1712.1 492.8L1713.6 492.8L1715.1 492.9L1716.6 492.9L1718.1 493L1719.6 493L1721.2 493.1L1722.7 493.2L1724.2 493.2L1725.7 493L1727.2 492.7L1728.7 492.4L1730.2 492.1L1731.8 491.8L1733.3 491.5L1734.8 491.2L1736.3 490.9L1737.8 490.6L1739.3 490.4L1740.8 490.5L1742.4 490.6L1743.9 490.7L1745.4 490.8L1746.9 491.1L1748.4 491.6L1749.9 492L1751.4 492.5L1753 493L1754.5 493.2L1756 493.1L1757.5 492.9L1759 492.8L1760.5 492.7L1762 492.5L1763.6 492.3L1765.1 492L1766.6 491.8L1768.1 491.6L1769.6 491L1771.1 490.3L1772.6 489.5L1774.2 488.8L1775.7 488.1L1777.2 487.4L1778.7 486.7L1780.2 486L1781.7 485.3L1783.3 484.5L1784.8 483.6L1786.3 482.6L1787.8 481.7L1789.3 480.7L1790.8 479.9L1792.3 479.4L1793.9 478.9L1795.4 478.5L1796.9 478L1798.4 477.5L1799.9 477L1801.4 476.6L1802.9 476.6L1804.5 476.6L1806 476.7L1807.5 476.8L1809 476.9L1810.5 477L1812 477L1813.5 477.4L1815.1 477.8L1816.6 478.3L1818.1 478.8L1819.6 479.3L1821.1 479.4L1822.6 479.4L1824.1 479.4L1825.7 479.4L1827.2 479.4L1828.7 479.4L1830.2 479.4L1831.7 479.6L1833.2 480.1L1834.7 480.5L1836.3 481L1837.8 481.5L1839.3 482L1840.8 482.4L1842.3 482.9L1843.8 483L1845.3 483.1L1846.9 483.2L1848.4 483.3L1849.9 483.3L1851.4 483L1852.9 482.6L1854.4 482.2L1856 481.9L1857.5 481.7L1859 481.7L1860.5 481.7L1862 481.7L1863.5 481.7L1865 481.7L1866.6 481.7L1868.1 481.7L1869.6 481.7L1871.1 481.7L1872.6 481.6L1874.1 481.5L1875.6 481.4L1877.2 481.2L1878.7 481.1L1880.2 481.2L1881.7 481.3L1883.2 481.5L1884.7 481.6L1886.2 481.7L1887.8 482.2L1889.3 482.6L1890.8 483.1L1892.3 483.6L1893.8 484L1895.3 483.7L1896.8 483.5L1898.4 483.3L1899.9 483L1901.4 482.8L1902.9 482.8L1904.4 482.8L1905.9 482.8L1907.4 482.8L1909 482.8L1910.5 482.8L1912 482.8L1913.5 483L1915 483.2L1916.5 483.3L1918 483.5L1919.6 483.6L1921.1 483.8L1922.6 484L1924.1 484.2L1925.6 484.4L1927.1 484.6L1928.7 484.9L1930.2 485.1L1931.7 485.4L1933.2 485.6L1934.7 485.9L1936.2 486.3L1937.7 486.7L1939.3 487.1L1940.8 487.5L1942.3 487.9L1943.8 488.3L1945.3 488.6L1946.8 488.6L1948.3 488.6L1949.9 488.6L1951.4 488.6L1952.9 488.6L1954.4 488.6L1955.9 488.6L1957.4 488.3L1958.9 487.9L1960.5 487.5L1962 487.1L1963.5 486.7L1965 486.3" fill="none" stroke="#1f77b4" stroke-width="3.4" stroke-linejoin="round"/>
</g>
<rect x="1663.6" y="380" width="301.4" height="129" fill="none" stroke="#000" stroke-width="1.5"/>
<path d="M1665.4 509v5" stroke="#000" stroke-width="1.3"/>
<text x="1665.4" y="535" font-size="19" text-anchor="middle">−10</text>
<path d="M1739 509v5" stroke="#000" stroke-width="1.3"/>
<text x="1739" y="535" font-size="19" text-anchor="middle">0</text>
<path d="M1812.6 509v5" stroke="#000" stroke-width="1.3"/>
<text x="1812.6" y="535" font-size="19" text-anchor="middle">10</text>
<path d="M1886.2 509v5" stroke="#000" stroke-width="1.3"/>
<text x="1886.2" y="535" font-size="19" text-anchor="middle">20</text>
<path d="M1959.8 509v5" stroke="#000" stroke-width="1.3"/>
<text x="1959.8" y="535" font-size="19" text-anchor="middle">30</text>
<path d="M1663.6 491.5h-5" stroke="#000" stroke-width="1.3"/>
<text x="1655.6" y="498.5" font-size="19" text-anchor="end">0</text>
<path d="M1663.6 433.8h-5" stroke="#000" stroke-width="1.3"/>
<text x="1655.6" y="440.8" font-size="19" text-anchor="end">1</text>
<text x="1814.3" y="370" font-size="20.5" text-anchor="middle">FLPR (Resp)</text>
<text transform="translate(1296 446) rotate(-90)" font-size="20" text-anchor="middle"><tspan>Δ</tspan><tspan font-style="italic">F</tspan><tspan>/</tspan><tspan font-style="italic">F</tspan><tspan font-size="14" dy="5">0</tspan></text>
<g transform="translate(1325.6 552) scale(3.6805 23.7778) translate(0 .5)" shape-rendering="crispEdges" fill="none">
<path stroke="#5470de" d="M81 0h1"/>
<path stroke="#6282ea" d="M49 0h1"/>
<path stroke="#6f92f3" d="M48 0h1m31 0h1"/>
<path stroke="#7ea1fa" d="M61 0h1"/>
<path stroke="#8db0fe" d="M2 0h1m19 0h4m21 0h1m2 0h1m9 0h1m18 0h1"/>
<path stroke="#9bbcff" d="M1 0h1m1 0h1m11 0h1m5 0h1m40 0h1M29 5h3"/>
<path stroke="#aac7fd" d="M7 0h2m5 0h1m1 0h2m2 0h1m25 0h1m30 0h2M80 5h2"/>
<path stroke="#b9d0f9" d="M18 0h2m6 0h1m49 0h1M14 5h3m11 0h1m3 0h1m30 0h6m10 0h1"/>
<path stroke="#c5d6f2" d="M9 0h1m41 0h1m7 0h1m15 0h1M13 5h1m3 0h1m51 0h1M17 9h2m44 0h9m1 0h2m1 0h6"/>
<path stroke="#d2dbe8" d="M0 0h1m3 0h1m5 0h2m1 0h1m44 0h1M3 1h1M9 2h6M2 4h2M12 5h1m5 0h1m4 0h1m3 0h1m5 0h1m28 0h1m7 0h1m7 0h1M28 6h2m1 0h1M12 9h5m2 0h2m7 0h2m19 0h1m11 0h2m9 0h1m2 0h1M11 10h3m2 0h2M0 12h2m1 0h2m3 0h2m1 0h2m1 0h6M7 14h1m2 0h1M10 15h1m9 0h1M1 16h2m2 0h3m1 0h7M15 17h1"/>
<path stroke="#dddcdc" d="M6 0h1m5 0h1m44 0h1M0 1h3m1 0h18M0 2h1m3 0h5m6 0h8M0 3h8m1 0h7m1 0h3M0 4h2m2 0h17M7 5h5m7 0h4m1 0h3m34 0h1M0 6h18m9 0h1m2 0h1m1 0h1M0 7h20m4 0h1M0 8h20M0 9h12m9 0h2m1 0h4m2 0h5m1 0h3m1 0h9m1 0h11M0 10h11m3 0h2m2 0h3M0 11h6m2 0h6m1 0h6M2 12h1m2 0h3m2 0h1m2 0h1m6 0h2m2 0h1m3 0h1M0 13h20M0 14h7m1 0h2m1 0h6m1 0h3M0 15h10m1 0h9m1 0h1m3 0h1M0 16h1m2 0h2m3 0h1m7 0h1m6 0h1M0 17h15m1 0h1m1 0h2m2 0h2"/>
<path stroke="#e7d7ce" d="M5 0h1m57 0h1M22 1h3M1 2h3m19 0h1m1 0h4M8 3h1m7 0h1m3 0h2m4 0h2M21 4h1M34 5h1m36 0h1M18 6h1m16 0h2m8 0h1m16 0h1m5 0h1m12 0h1M20 7h4M20 8h4M23 9h1m11 0h1m3 0h1M21 10h1M6 11h2m6 0h1m6 0h4M22 12h2m1 0h3m1 0h2M20 13h2M17 14h1m3 0h11M22 15h3m1 0h1M17 16h1m3 0h2m1 0h3M17 17h1m2 0h2m2 0h1"/>
<path stroke="#efcebd" d="M27 0h1m17 0h1m6 0h1M25 1h1M24 2h1M22 3h4m2 0h1M22 4h5m17 0h1M77 5h1M33 6h1m3 0h8m1 0h1m1 0h2m3 0h1m1 0h3m1 0h3m1 0h3m1 0h1m1 0h1m1 0h3m1 0h4m1 0h1M25 7h1M24 8h1M22 10h1m2 0h5M25 11h4m2 0h1m3 0h1m32 0h1m8 0h2M22 13h6M32 14h2m5 0h2m3 0h2m7 0h1m11 0h1m8 0h1M18 16h3m6 0h3M63 17h1"/>
<path stroke="#f5c4ac" d="M74 0h1M26 1h1M29 2h1M30 3h2M27 4h1m27 0h1m1 0h1M6 5h1m53 0h1M19 6h1m2 0h1m3 0h1m7 0h1m12 0h1m2 0h3m1 0h1m3 0h1m7 0h1m3 0h1m3 0h1m4 0h1M32 8h1m1 0h1M23 10h2m5 0h1M29 11h2m1 0h2m2 0h1m1 0h1m1 0h10m1 0h6m2 0h3m1 0h5m2 0h4m1 0h2m3 0h2M36 14h3m2 0h1m1 0h1m2 0h1m1 0h3m1 0h1m1 0h5m1 0h3m1 0h1m1 0h2m3 0h3m1 0h2m4 0h1M27 15h2M30 16h1M25 17h3m2 0h2m10 0h5m5 0h2m4 0h3m3 0h4m6 0h7"/>
<path stroke="#f7b89c" d="M53 0h1m2 0h1M27 1h1m1 0h2M30 2h1M29 3h1m2 0h1M29 4h3m2 0h1m2 0h5m1 0h1m1 0h1m3 0h2m3 0h1m1 0h1m1 0h4m2 0h3m2 0h2m3 0h6m1 0h1M0 5h6m43 0h1m22 0h1M20 6h2m1 0h1M25 8h1m2 0h3m4 0h2M34 11h1m2 0h1m1 0h1m10 0h1m6 0h2m3 0h1m6 0h1m4 0h1m4 0h1M31 12h1m5 0h1M28 13h1M34 14h2m6 0h1m4 0h1m3 0h1m7 0h1m3 0h1m4 0h3m6 0h4M28 17h2m2 0h3m1 0h6m5 0h1m1 0h3m4 0h2m3 0h2m5 0h6m7 0h1"/>
<path stroke="#f7a98b" d="M54 0h2M72 1h1m4 0h1M31 2h2m38 0h1m1 0h1m6 0h2M67 3h4m4 0h3M28 4h1m3 0h2m1 0h2m5 0h1m3 0h3m2 0h3m8 0h2m3 0h2m2 0h3m6 0h1M35 5h1m6 0h2m6 0h1m22 0h2m1 0h1M24 6h2M26 8h2m3 0h1m1 0h1m3 0h2m25 0h4m5 0h1m7 0h1M31 10h1M38 12h1m3 0h2m15 0h2m5 0h1M29 15h2M35 17h1m12 0h1m5 0h2"/>
<path stroke="#f4987a" d="M28 0h1m2 0h1M28 1h1m2 0h1m37 0h3m4 0h1m1 0h4M44 2h2m4 0h1m6 0h2m3 0h1m9 0h1m5 0h2M33 3h1m16 0h1m9 0h2m2 0h3m4 0h2m5 0h2M37 5h2m5 0h1m3 0h1m2 0h1m23 0h1M26 7h1M69 8h4m1 0h1m1 0h2M32 10h1m32 0h1m6 0h2m2 0h1M33 12h1m2 0h1m4 0h1m3 0h2m2 0h1m2 0h2m7 0h2m4 0h2m4 0h3M31 13h1M54 16h2m2 0h1m9 0h1m10 0h1"/>
<path stroke="#ef886b" d="M29 0h2m1 0h1M68 1h1m4 0h3M43 2h1m11 0h2m2 0h1m3 0h1m3 0h1m2 0h1m3 0h4M53 3h1m4 0h1m3 0h2m9 0h1m6 0h2M36 5h1m18 0h1M28 7h1M39 8h1m28 0h1m6 0h1m2 0h3M67 10h1m2 0h2m2 0h2m1 0h1M32 12h1m1 0h1m4 0h2m6 0h2m1 0h2m2 0h4m5 0h1m1 0h1m5 0h2m3 0h1m2 0h3M29 13h2m1 0h1M31 15h1M46 16h2m8 0h2m1 0h1m1 0h2m2 0h1m1 0h1m1 0h1m5 0h1m2 0h1m1 0h1"/>
<path stroke="#e7745b" d="M32 1h1m34 0h1M33 2h1m12 0h1m4 0h1m8 0h1m3 0h3m1 0h2M34 3h3m12 0h1m2 0h1m1 0h1m2 0h1m1 0h1m14 0h1M39 5h1m1 0h1m3 0h1m1 0h1m6 0h1m1 0h1M27 7h1m1 0h1M63 8h1M33 10h2m29 0h1m1 0h1m12 0h3M44 12h1m13 0h1m5 0h1m4 0h2m6 0h2M61 13h1M72 15h1M31 16h5m2 0h8m2 0h2m2 0h2m6 0h1m16 0h1"/>
<path stroke="#dd5f4b" d="M62 1h2m2 0h1M47 2h1m1 0h1m2 0h1m8 0h1M37 3h2m9 0h1m2 0h1m3 0h2M40 5h1m11 0h1m6 0h1M52 8h1m1 0h2M35 10h1m32 0h2m8 0h1M35 12h1M62 13h1m1 0h1m5 0h5m3 0h2M65 15h2m4 0h1m1 0h1m4 0h1m1 0h1M36 16h1m26 0h1m2 0h1m3 0h5m1 0h1"/>
<path stroke="#d1493f" d="M61 1h1m2 0h1M48 2h1m5 0h1M39 3h1m7 0h1M46 5h1m6 0h1M53 8h1m3 0h1M53 13h2m3 0h1m4 0h1m1 0h1m1 0h3m6 0h1m3 0h1M64 15h1m2 0h2m5 0h1m4 0h1m1 0h1M37 16h1m12 0h1m13 0h1m16 0h1"/>
<path stroke="#c32e31" d="M68 0h1M59 1h2m4 0h1M53 2h1M51 8h1m4 0h1M56 13h2m1 0h2m14 0h1m1 0h1m3 0h1M69 15h2m4 0h3M51 16h1"/>
<path stroke="#b40426" d="M33 0h12m19 0h4m1 0h5M33 1h26M34 2h9M40 3h7M57 5h2M30 7h52M40 8h11m7 0h5M36 10h28M33 13h20m2 0h1m10 0h1M32 15h32"/>
</g>
<path d="M1401.1 552V980" stroke="#000" stroke-width="2.6"/>
<rect x="1325.6" y="552" width="301.8" height="428" fill="none" stroke="#000" stroke-width="1.5"/>
<path d="M1327.4 980v5" stroke="#000" stroke-width="1.3"/>
<text x="1327.4" y="1005" font-size="19" text-anchor="middle">-10</text>
<path d="M1401.1 980v5" stroke="#000" stroke-width="1.3"/>
<text x="1401.1" y="1005" font-size="19" text-anchor="middle">0</text>
<path d="M1474.8 980v5" stroke="#000" stroke-width="1.3"/>
<text x="1474.8" y="1005" font-size="19" text-anchor="middle">10</text>
<path d="M1548.5 980v5" stroke="#000" stroke-width="1.3"/>
<text x="1548.5" y="1005" font-size="19" text-anchor="middle">20</text>
<path d="M1622.2 980v5" stroke="#000" stroke-width="1.3"/>
<text x="1622.2" y="1005" font-size="19" text-anchor="middle">30</text>
<path d="M1325.6 563.9h-5" stroke="#000" stroke-width="1.3"/>
<path d="M1325.6 587.7h-5" stroke="#000" stroke-width="1.3"/>
<path d="M1325.6 611.4h-5" stroke="#000" stroke-width="1.3"/>
<path d="M1325.6 635.2h-5" stroke="#000" stroke-width="1.3"/>
<path d="M1325.6 659h-5" stroke="#000" stroke-width="1.3"/>
<path d="M1325.6 682.8h-5" stroke="#000" stroke-width="1.3"/>
<path d="M1325.6 706.6h-5" stroke="#000" stroke-width="1.3"/>
<path d="M1325.6 730.3h-5" stroke="#000" stroke-width="1.3"/>
<path d="M1325.6 754.1h-5" stroke="#000" stroke-width="1.3"/>
<path d="M1325.6 777.9h-5" stroke="#000" stroke-width="1.3"/>
<path d="M1325.6 801.7h-5" stroke="#000" stroke-width="1.3"/>
<path d="M1325.6 825.4h-5" stroke="#000" stroke-width="1.3"/>
<path d="M1325.6 849.2h-5" stroke="#000" stroke-width="1.3"/>
<path d="M1325.6 873h-5" stroke="#000" stroke-width="1.3"/>
<path d="M1325.6 896.8h-5" stroke="#000" stroke-width="1.3"/>
<path d="M1325.6 920.6h-5" stroke="#000" stroke-width="1.3"/>
<path d="M1325.6 944.3h-5" stroke="#000" stroke-width="1.3"/>
<path d="M1325.6 968.1h-5" stroke="#000" stroke-width="1.3"/>
<text x="1476.5" y="1027" font-size="17.5" text-anchor="middle">Time (s)</text>
<g transform="translate(1663.7 552) scale(3.678 23.7778) translate(0 .5)" shape-rendering="crispEdges" fill="none">
<path stroke="#8db0fe" d="M48 17h6"/>
<path stroke="#9bbcff" d="M28 17h4m22 0h1"/>
<path stroke="#aac7fd" d="M12 0h1M25 17h3m4 0h1m14 0h1"/>
<path stroke="#b9d0f9" d="M11 0h1m1 0h2M22 16h15m14 0h25m1 0h5M24 17h1"/>
<path stroke="#c5d6f2" d="M0 0h2M10 12h3M48 15h1m2 0h2m7 0h1m6 0h8M21 16h1m15 0h1m12 0h1m25 0h1M33 17h1m12 0h1"/>
<path stroke="#d2dbe8" d="M2 0h1m7 0h1m4 0h1m6 0h3M0 2h11M0 5h2m1 0h1m14 0h2m40 0h2M6 6h1M0 8h3m1 0h4m1 0h5M2 10h5M75 11h5m1 0h1M8 12h2m3 0h1M7 15h6m9 0h6m10 0h10m1 0h2m2 0h7m1 0h6m8 0h7M38 16h12M23 17h1m31 0h1"/>
<path stroke="#dddcdc" d="M3 0h1m3 0h3m6 0h6m3 0h2M4 1h2m1 0h3m1 0h2m1 0h1m2 0h3m1 0h2M11 2h13M0 3h21m2 0h2m2 0h5M0 4h20M2 5h1m1 0h14m2 0h1m6 0h1m4 0h1m11 0h5m7 0h4m9 0h10M0 6h6m1 0h14M0 7h22m1 0h1m52 0h1M3 8h1m4 0h1m5 0h1m7 0h19m10 0h8m2 0h2m1 0h2m2 0h2m1 0h1m1 0h2m1 0h6M0 9h32m17 0h1m3 0h3m2 0h24M0 10h2m5 0h1m1 0h2m3 0h17m8 0h7m4 0h6m1 0h3m2 0h18m1 0h1M0 11h24m2 0h2m3 0h1m3 0h6m10 0h9m8 0h7m5 0h1M0 12h8m6 0h30m14 0h5m5 0h1m2 0h1m1 0h1m3 0h1m1 0h1M0 13h4m1 0h14m1 0h5m1 0h3m2 0h4m2 0h8m2 0h2m3 0h4m2 0h1m2 0h4m2 0h1m1 0h7m1 0h2m1 0h2M0 14h4m9 0h5m3 0h9m2 0h4m1 0h7m1 0h6m1 0h5m5 0h9m4 0h2m1 0h4M0 15h3m3 0h1m6 0h9m6 0h1m8 0h1M1 16h2m7 0h4m3 0h4M11 17h2m21 0h1m4 0h5m1 0h1m10 0h1m7 0h11"/>
<path stroke="#e7d7ce" d="M4 0h3M0 1h4m2 0h1m3 0h1m2 0h1m1 0h2m3 0h1m2 0h1M24 2h4M21 3h2m2 0h2m5 0h1m43 0h2M20 4h10M21 5h6m1 0h4m11 0h1m5 0h1m5 0h1m6 0h1m16 0h1M21 6h1m1 0h2m2 0h2m1 0h4m2 0h6m1 0h6m1 0h8m1 0h3m1 0h6m2 0h3m1 0h2m1 0h4M22 7h1m1 0h6m13 0h1m25 0h7m1 0h5M15 8h1m1 0h5m19 0h4m1 0h5m8 0h2m2 0h1m2 0h2m2 0h1m1 0h1m2 0h1M32 9h11m1 0h5m1 0h3m3 0h2M8 10h1m2 0h3m17 0h3m2 0h3m7 0h4m6 0h1m3 0h2m18 0h1M24 11h2m2 0h3m1 0h3m6 0h2m1 0h3m2 0h2m9 0h2m1 0h5M49 12h1m7 0h1m5 0h5m1 0h2m1 0h1m1 0h1m1 0h1m1 0h1m1 0h2M4 13h1m14 0h1m5 0h1m3 0h2m4 0h2m8 0h2m2 0h3m4 0h2m1 0h2m4 0h2m1 0h1m7 0h1m2 0h1M4 14h5m2 0h2m5 0h3m9 0h2m4 0h1m7 0h1m6 0h1m5 0h1m3 0h1m9 0h4m2 0h1M3 15h3m23 0h1m6 0h1M0 16h1m2 0h7m4 0h3M0 17h11m2 0h10m21 0h1m18 0h1m11 0h2m3 0h1"/>
<path stroke="#efcebd" d="M27 0h1M24 1h1m39 0h1m6 0h1m2 0h1m2 0h2M28 2h1m46 0h1M47 3h1m5 0h1m20 0h2m2 0h2m1 0h1M30 4h1M33 5h2m7 0h1m7 0h5M22 6h1m2 0h2m2 0h1m4 0h2m6 0h1m6 0h1m8 0h1m3 0h1m6 0h2m3 0h1m2 0h1M30 7h2m1 0h1m1 0h3m1 0h2m1 0h1m1 0h3m2 0h5m6 0h2m4 0h3M16 8h1m28 0h1M43 9h1M34 10h2M43 11h1m3 0h2m13 0h1M44 12h2m1 0h2m1 0h2m1 0h2m1 0h1m18 0h1M9 14h2m47 0h3M30 15h6M35 17h2m1 0h1m18 0h1m4 0h1m14 0h3m1 0h1"/>
<path stroke="#f5c4ac" d="M61 1h3m1 0h3m1 0h2m1 0h2m1 0h1m3 0h2M29 2h1m1 0h2m43 0h1M48 3h3m1 0h1m1 0h7m5 0h2m5 0h1m6 0h1M43 4h1M35 5h1m5 0h1m26 0h1M32 7h1m1 0h1m3 0h1m2 0h1m5 0h2m5 0h6m2 0h4M46 12h1m5 0h1m2 0h1M37 17h1m20 0h4"/>
<path stroke="#f7b89c" d="M29 0h2m30 0h1m10 0h3m1 0h1m1 0h1M27 1h1m19 0h1m2 0h4m1 0h2m1 0h1m9 0h1m7 0h1m4 0h1M30 2h1m2 0h1m10 0h5m25 0h1m2 0h1M33 3h1m5 0h1m6 0h1m4 0h1m9 0h2m1 0h2m2 0h1m1 0h3M31 4h1m3 0h1m6 0h1m4 0h1m4 0h2m5 0h2m2 0h1m6 0h1m3 0h3m2 0h1M36 5h1m26 0h3"/>
<path stroke="#f7a98b" d="M28 0h1m2 0h3m22 0h5m1 0h1m12 0h1m1 0h1m1 0h3M25 1h2m10 0h1m4 0h5m1 0h2m4 0h1m2 0h1m1 0h2M42 2h2m5 0h1m1 0h1m1 0h1m2 0h4m5 0h9m4 0h4M34 3h2m1 0h1m4 0h1m2 0h1m17 0h1m5 0h1M32 4h1m1 0h1m1 0h6m3 0h2m1 0h2m1 0h1m2 0h1m3 0h1m2 0h1m2 0h1m1 0h2m1 0h1m1 0h1m5 0h2m1 0h1M40 5h1m25 0h2m12 0h1"/>
<path stroke="#f4987a" d="M34 0h1m9 0h2m1 0h1m7 0h1m14 0h2M28 1h3m1 0h2m2 0h1m2 0h3M34 2h2m5 0h1m8 0h1m1 0h1m1 0h2m4 0h1m1 0h1m1 0h1M36 3h1m1 0h1m1 0h2m1 0h2M33 4h1m10 0h1m5 0h1m4 0h1m6 0h1m2 0h1m2 0h1m3 0h2m7 0h1M37 5h1m1 0h1m41 0h1"/>
<path stroke="#ef886b" d="M46 0h1m1 0h1m14 0h1m1 0h1m3 0h1M31 1h1m3 0h1m2 0h1M36 2h5m20 0h1m1 0h1M56 4h2M38 5h1"/>
<path stroke="#e7745b" d="M35 0h1m7 0h1m10 0h1m9 0h1m3 0h1M34 1h1"/>
<path stroke="#dd5f4b" d="M36 0h1m4 0h2m6 0h1m3 0h1m12 0h2"/>
<path stroke="#d1493f" d="M50 0h1m1 0h1"/>
<path stroke="#c32e31" d="M37 0h4m10 0h1"/>
</g>
<path d="M1739.2 552V980" stroke="#000" stroke-width="2.6"/>
<rect x="1663.7" y="552" width="301.6" height="428" fill="none" stroke="#000" stroke-width="1.5"/>
<path d="M1665.5 980v5" stroke="#000" stroke-width="1.3"/>
<text x="1665.5" y="1005" font-size="19" text-anchor="middle">-10</text>
<path d="M1739.2 980v5" stroke="#000" stroke-width="1.3"/>
<text x="1739.2" y="1005" font-size="19" text-anchor="middle">0</text>
<path d="M1812.8 980v5" stroke="#000" stroke-width="1.3"/>
<text x="1812.8" y="1005" font-size="19" text-anchor="middle">10</text>
<path d="M1886.5 980v5" stroke="#000" stroke-width="1.3"/>
<text x="1886.5" y="1005" font-size="19" text-anchor="middle">20</text>
<path d="M1960.1 980v5" stroke="#000" stroke-width="1.3"/>
<text x="1960.1" y="1005" font-size="19" text-anchor="middle">30</text>
<path d="M1663.7 563.9h-5" stroke="#000" stroke-width="1.3"/>
<path d="M1663.7 587.7h-5" stroke="#000" stroke-width="1.3"/>
<path d="M1663.7 611.4h-5" stroke="#000" stroke-width="1.3"/>
<path d="M1663.7 635.2h-5" stroke="#000" stroke-width="1.3"/>
<path d="M1663.7 659h-5" stroke="#000" stroke-width="1.3"/>
<path d="M1663.7 682.8h-5" stroke="#000" stroke-width="1.3"/>
<path d="M1663.7 706.6h-5" stroke="#000" stroke-width="1.3"/>
<path d="M1663.7 730.3h-5" stroke="#000" stroke-width="1.3"/>
<path d="M1663.7 754.1h-5" stroke="#000" stroke-width="1.3"/>
<path d="M1663.7 777.9h-5" stroke="#000" stroke-width="1.3"/>
<path d="M1663.7 801.7h-5" stroke="#000" stroke-width="1.3"/>
<path d="M1663.7 825.4h-5" stroke="#000" stroke-width="1.3"/>
<path d="M1663.7 849.2h-5" stroke="#000" stroke-width="1.3"/>
<path d="M1663.7 873h-5" stroke="#000" stroke-width="1.3"/>
<path d="M1663.7 896.8h-5" stroke="#000" stroke-width="1.3"/>
<path d="M1663.7 920.6h-5" stroke="#000" stroke-width="1.3"/>
<path d="M1663.7 944.3h-5" stroke="#000" stroke-width="1.3"/>
<path d="M1663.7 968.1h-5" stroke="#000" stroke-width="1.3"/>
<text x="1814.5" y="1027" font-size="17.5" text-anchor="middle">Time (s)</text>
<text x="1319" y="570.9" font-size="19" text-anchor="end">1</text>
<text x="1319" y="594.7" font-size="19" text-anchor="end">2</text>
<text x="1319" y="618.4" font-size="19" text-anchor="end">3</text>
<text x="1319" y="642.2" font-size="19" text-anchor="end">4</text>
<text x="1319" y="666" font-size="19" text-anchor="end">5</text>
<text x="1319" y="689.8" font-size="19" text-anchor="end">6</text>
<text x="1319" y="713.6" font-size="19" text-anchor="end">7</text>
<text x="1319" y="737.3" font-size="19" text-anchor="end">8</text>
<text x="1319" y="761.1" font-size="19" text-anchor="end">9</text>
<text x="1319" y="784.9" font-size="19" text-anchor="end">10</text>
<text x="1319" y="808.7" font-size="19" text-anchor="end">11</text>
<text x="1319" y="832.4" font-size="19" text-anchor="end">12</text>
<text x="1319" y="856.2" font-size="19" text-anchor="end">13</text>
<text x="1319" y="880" font-size="19" text-anchor="end">14</text>
<text x="1319" y="903.8" font-size="19" text-anchor="end">15</text>
<text x="1319" y="927.6" font-size="19" text-anchor="end">16</text>
<text x="1319" y="951.3" font-size="19" text-anchor="end">17</text>
<text x="1319" y="975.1" font-size="19" text-anchor="end">18</text>
<rect x="1283.6" y="554.4" width="16.4" height="144.6" fill="#f08c22"/>
<text transform="translate(1266 766) rotate(-90)" font-size="17.5" text-anchor="middle"><tspan x="0" dy="-2">Sorted</tspan><tspan x="0" dy="20">Trials</tspan></text>
<defs><linearGradient id="gc" x1="0" y1="1" x2="0" y2="0"><stop offset="0" stop-color="#3b4cc0"/><stop offset="0.08" stop-color="#5470de"/><stop offset="0.17" stop-color="#6f92f3"/><stop offset="0.25" stop-color="#8db0fe"/><stop offset="0.33" stop-color="#aac7fd"/><stop offset="0.42" stop-color="#c5d6f2"/><stop offset="0.5" stop-color="#dddcdc"/><stop offset="0.58" stop-color="#efcebd"/><stop offset="0.67" stop-color="#f7b89c"/><stop offset="0.75" stop-color="#f4987a"/><stop offset="0.83" stop-color="#e7745b"/><stop offset="0.92" stop-color="#d1493f"/><stop offset="1" stop-color="#b40426"/></linearGradient></defs>
<rect x="1985" y="529.5" width="15.5" height="300.5" fill="url(#gc)" stroke="#000" stroke-width="1.2"/>
<path d="M2000.5 529.5h5" stroke="#000" stroke-width="1.3"/>
<text x="2011" y="536.5" font-size="19">&gt; 1.2</text>
<path d="M2000.5 680h5" stroke="#000" stroke-width="1.3"/>
<text x="2011" y="687" font-size="19">0</text>
<path d="M2000.5 830h5" stroke="#000" stroke-width="1.3"/>
<text x="2011" y="837" font-size="19">&lt; -1.2</text>
<text transform="translate(2047 791.5) rotate(90)" font-size="50" font-family="'Liberation Sans', Arial, sans-serif" text-anchor="middle" fill="#231f20" textLength="92" lengthAdjust="spacingAndGlyphs">ΔF/F</text>
<g transform="translate(88.8 1164.2) scale(4.2408 4.2314) translate(0 .5)" shape-rendering="crispEdges" fill="none">
<path stroke="#aeabc1" d="M19 0h1m42 0h1M12 3h1m42 0h1m35 0h1m24 0h1M14 4h1M110 7h1M106 9h1M119 12h1M22 13h1M120 14h1M93 15h1M140 16h1M45 20h1M8 23h1m33 0h1M74 24h2m92 0h1M13 25h1m29 0h1m5 0h1m72 0h1M35 27h1m56 0h1m6 0h1m25 0h1M50 30h1M34 32h1m115 0h1M128 34h1M166 36h1M124 37h1m1 0h1M5 38h1m120 0h1M37 39h1m19 0h1m33 0h1m68 0h1M104 41h1m19 0h1M10 43h1m45 0h1m35 0h1m17 0h1M70 44h1m58 0h1m3 0h1m3 0h1m30 0h1M158 45h1M91 46h1m22 0h1M42 48h1M126 49h1M114 51h1M52 53h1M135 54h1m4 0h1M140 56h1M128 57h1m18 0h1M24 58h1m67 0h1M110 59h1M109 60h1m39 0h1M11 63h1m80 0h1m67 0h1M74 64h1m41 0h1M91 65h1M49 66h1m77 0h1m21 0h1M62 68h1m95 0h1m7 0h2M6 69h1M100 70h1M77 71h1M163 75h1M55 76h1m33 0h1M92 77h1m8 0h1M148 79h1M67 80h1m11 0h1m47 0h1M164 81h1M91 82h1m58 0h1m9 0h1M69 83h1M9 84h1M10 87h1m108 0h1M75 88h1M78 89h1m47 0h1M92 90h1m34 0h1M2 91h1m9 0h2m82 0h1m5 0h2m17 0h1m5 0h1m21 0h1M34 92h1m58 0h1m12 0h1M12 93h1m60 0h1m14 0h1M90 94h1M0 95h1m78 0h1M75 96h2m15 0h1m33 0h1m6 0h1M90 97h1M91 98h1M73 99h1m87 0h1M42 100h1m119 0h1M73 101h1m16 0h1m30 0h1M75 103h1m9 0h1m6 0h1M89 104h1m8 0h1M91 105h2m34 0h1M73 106h1m14 0h1m3 0h1m73 0h1M44 107h1M41 108h1M108 109h1m31 0h1M10 110h1m1 0h1m29 0h2m60 0h1M90 111h1m59 0h1M1 112h1m10 0h1M106 115h1m60 0h1M22 118h1M85 120h1m13 0h1M43 123h1m67 0h1m16 0h1M0 124h1m23 0h1m56 0h1m10 0h1M27 125h1m28 0h1m27 0h1m6 0h1m36 0h1m16 0h1M88 126h1m41 0h1M39 128h1m46 0h1M55 129h1m22 0h1m30 0h1m20 0h1m33 0h1M22 130h1m101 0h1m41 0h1M43 131h1m72 0h1m26 0h1M126 133h2M129 139h1M83 140h1M48 142h1M77 143h1M127 144h1M161 145h1M108 146h1M24 148h1M127 149h1M0 150h1m90 0h1M126 151h2m11 0h1M4 152h1m26 0h1M73 154h1m51 0h1m14 0h1M55 155h1m101 0h1M92 156h1m7 0h1m17 0h1M42 157h1M7 159h1m13 0h1m27 0h1m20 0h1m44 0h1M135 160h1M58 161h1m73 0h1M11 162h1M127 163h1m32 0h1M110 167h1M85 168h1M155 175h1M121 178h1M49 179h1"/>
<path stroke="#7973a2" d="M146 0h1M92 1h1m31 0h1M81 4h1m42 0h2M2 5h1m151 0h1m6 0h1M87 6h1m11 0h1m6 0h1M12 7h1m89 0h1M78 8h1M111 10h1M10 11h1m81 0h1m73 0h1M125 12h1M143 13h1M62 15h1m20 0h1m43 0h1M2 17h1m17 0h1M125 18h1m23 0h1M10 19h1m24 0h1M151 20h1M68 21h1M24 22h1m30 0h1m93 0h1m1 0h1m8 0h1M22 24h1m116 0h1M18 25h1m21 0h1m28 0h1m54 0h1m26 0h1m9 0h1M23 26h1m10 0h1m14 0h1m2 0h1m108 0h1M29 27h1m14 0h1m27 0h1m43 0h1m7 0h1m1 0h1m34 0h1M22 28h1m21 0h1m46 0h1m31 0h1m36 0h1M58 29h1m100 0h2M168 30h1M39 31h1m1 0h1m9 0h1M38 32h1m89 0h1M32 33h1M24 34h1m3 0h1m131 0h1M33 35h1m102 0h1M125 36h1M42 37h1m25 0h1m76 0h1m2 0h1m13 0h1M11 38h1m104 0h1m32 0h1M41 40h1M96 41h1m43 0h1M39 42h1m82 0h1M3 43h1m14 0h1m5 0h1m30 0h1m9 0h1m33 0h1m24 0h1M74 44h1m51 0h1m5 0h1m14 0h1m19 0h1M5 45h1m29 0h1m6 0h1m6 0h1m5 0h1m73 0h1m25 0h1M17 46h1m10 0h1m33 0h1M46 47h1m75 0h1M133 49h1M82 50h1M47 52h1M18 56h1m43 0h1M91 57h1m31 0h1m14 0h1m21 0h1M25 58h1m34 0h1m14 0h1m50 0h1m28 0h1M28 59h1m94 0h1m4 0h1m31 0h1M42 60h1m12 0h1M49 62h1M85 63h1m40 0h1M91 66h1m17 0h1m14 0h1M78 67h1M88 68h1m3 0h1m48 0h1M92 69h1m5 0h1m51 0h1M32 70h1m62 0h1m26 0h1M76 71h1m18 0h1m3 0h1M90 72h1M29 73h1m45 0h1m14 0h1M35 74h1m13 0h1m21 0h1m3 0h1m1 0h1M77 75h1m12 0h1m2 0h1m4 0h1m11 0h1m50 0h2M43 76h1M43 77h1m46 0h1M48 78h1m44 0h1m24 0h1m21 0h1M85 79h1m12 0h1M91 80h1m62 0h1M15 82h1m26 0h1m78 0h1m2 0h1m2 0h1m33 0h1M56 84h1M145 85h1M7 86h1m110 0h1M116 87h1m9 0h1M79 88h1m12 0h1M12 89h1m59 0h1M77 90h1m15 0h1M7 91h1m35 0h1m36 0h1m43 0h1m3 0h1M0 92h1m74 0h1m2 0h2m9 0h1m14 0h1m9 0h1M91 93h1m17 0h1M91 94h1m5 0h1m26 0h1m2 0h1M61 95h1m11 0h1m1 0h1m2 0h1M73 96h1m17 0h1m9 0h1M35 98h1m52 0h1M100 99h1m27 0h1M43 100h1m31 0h1m5 0h1M20 101h1m55 0h1m8 0h1m6 0h1m33 0h1m22 0h1m7 0h1M1 102h1m38 0h1m14 0h1m16 0h1m47 0h1M42 103h1M93 104h1M93 106h1m59 0h1M119 107h1M119 109h1m29 0h1M55 115h1m10 0h1m14 0h1M91 116h1M97 117h1m17 0h1M12 118h1m108 0h1m5 0h1m21 0h1M82 119h1M117 120h1M56 122h1m90 0h1M15 124h1m12 0h1m3 0h1m106 0h1M12 125h2m22 0h1m30 0h1m5 0h1m7 0h1m23 0h1M33 126h1m15 0h1m40 0h1m40 0h1m19 0h1M44 127h1m4 0h1m40 0h1m22 0h1m11 0h1m4 0h1m10 0h1m18 0h1M9 128h1m24 0h1m57 0h1m8 0h1m7 0h1m11 0h1m25 0h1M47 130h1m7 0h1m71 0h1m28 0h1M56 131h1m34 0h1m59 0h1M42 132h1m74 0h1m6 0h1M104 133h1m35 0h1M124 134h1M91 135h1m40 0h1M26 136h1m6 0h1m21 0h1m44 0h1m33 0h1M28 137h1M49 138h1m24 0h1M47 139h1M31 140h1m84 0h1m7 0h2m32 0h1m1 0h1M44 141h1m79 0h1M110 142h1m22 0h1M91 143h1m27 0h1m1 0h1M62 144h1M49 145h1m36 0h1M124 147h1m2 0h1m40 0h1M100 148h1m24 0h1M42 149h1m77 0h1M12 150h1m4 0h1m50 0h1m76 0h1m15 0h1M149 151h1M49 152h1m78 0h1M48 153h1m80 0h1M17 154h1m18 0h1m5 0h1M49 155h1m108 0h1M151 157h1M104 158h1m22 0h1m5 0h1M44 159h1m29 0h1m32 0h1m17 0h1M92 160h1M83 161h1m7 0h1m7 0h1m58 0h1M50 162h1m48 0h1m22 0h1m3 0h1M49 163h1m6 0h2m67 0h1M49 164h1m5 0h1m70 0h1M48 165h1M124 167h1M42 168h1m33 0h1M133 169h1M28 171h1M106 173h1m9 0h1M20 175h1m145 0h1M92 179h1M126 181h1"/>
<path stroke="#4b4388" d="M92 0h1m15 0h1m36 0h1m3 0h1m18 0h1M133 1h1M35 2h1m63 0h1m27 0h1m11 0h2M43 3h1m5 0h1m49 0h1M33 4h1m92 0h1m12 0h1m16 0h1M56 5h1m93 0h1M4 6h1m128 0h1m13 0h1m13 0h1m4 0h1M9 7h1m46 0h1m86 0h1M12 8h1m13 0h1m71 0h1M72 9h1m12 0h1m40 0h1m26 0h1m11 0h1M12 10h1m22 0h1m122 0h1M104 11h1M92 12h1m20 0h1M28 13h1m23 0h1m54 0h1m43 0h1m8 0h1M56 14h1m30 0h1m66 0h1M49 15h1m59 0h1m14 0h1M125 16h1M5 17h1m49 0h2M20 18h1M52 19h1m73 0h1M18 20h1m55 0h1M8 21h1m3 0h1m6 0h1m19 0h1m121 0h1M27 22h1m126 0h1M25 23h1m1 0h1m12 0h1m15 0h1m51 0h1M8 24h1m82 0h1m11 0h2m14 0h1m5 0h1m40 0h1M62 25h1m15 0h1m21 0h1m15 0h1m6 0h1m2 0h1m12 0h2M5 26h1m21 0h1m10 0h1m15 0h1m2 0h1m2 0h1m15 0h1m14 0h1m1 0h1m30 0h1m3 0h1m5 0h1m14 0h1m13 0h1M6 27h1m35 0h1m13 0h1m66 0h1m3 0h1m21 0h1m5 0h1m4 0h1M43 28h1m2 0h1m42 0h1m59 0h1M30 29h1m18 0h1m98 0h1M40 30h1m3 0h1m36 0h1m79 0h1M35 32h1m115 0h1M43 33h1m74 0h1m9 0h1M5 34h1m55 0h2m5 0h1m46 0h1m17 0h1M12 35h1m9 0h1m70 0h1m35 0h1m3 0h2M91 36h1m34 0h1M41 37h1m13 0h1m35 0h1m27 0h1m29 0h1m15 0h1M125 38h1m39 0h1M14 39h1m23 0h1m3 0h1M12 40h1m25 0h1m38 0h1m47 0h1m7 0h1m9 0h1M62 41h1m39 0h1m22 0h1M55 42h1M12 43h1m112 0h3m6 0h1M3 44h1m2 0h1m13 0h1m2 0h1m22 0h1m36 0h1m7 0h1m9 0h1m5 0h1m11 0h1m4 0h2m1 0h1m10 0h1m10 0h1M21 45h1m18 0h1m33 0h1m10 0h1m13 0h1m24 0h1m2 0h2M12 46h1m11 0h1m1 0h1m10 0h1m6 0h1m25 0h1m40 0h1m10 0h1m3 0h1m1 0h1M18 47h1m36 0h2m25 0h1m16 0h1m21 0h1m11 0h1m9 0h1M58 48h1m7 0h1m59 0h1m31 0h1m4 0h1M145 49h1m16 0h1M58 51h1m68 0h1m11 0h1m11 0h1M91 52h1m7 0h1m17 0h1m6 0h1m2 0h1m11 0h2m3 0h1M126 53h2M6 54h1m59 0h1m7 0h1m17 0h1m11 0h1m44 0h1m9 0h3M28 55h1m87 0h1m29 0h1M115 56h1m33 0h1M36 57h1m37 0h1m15 0h1m15 0h1m15 0h1m17 0h1m17 0h1M26 58h1m3 0h1m11 0h1m40 0h1m1 0h1m13 0h1m10 0h1m8 0h1m8 0h1m10 0h1m24 0h1m1 0h1M12 59h1m28 0h1m14 0h1m1 0h1m2 0h2m10 0h1m21 0h1m30 0h2m1 0h1m9 0h1m1 0h1m24 0h1M37 60h1m11 0h1m8 0h1m67 0h1m33 0h1M8 61h1m51 0h1M56 62h1m8 0h1m61 0h1m7 0h1M23 63h1m25 0h1m55 0h2m18 0h1M77 64h1m13 0h1m68 0h1m5 0h1M67 65h1m58 0h1M45 66h1m28 0h1m15 0h1m15 0h1M45 67h1m94 0h1M65 68h1m23 0h1m11 0h1m22 0h2m31 0h1m4 0h1M49 69h1m12 0h1m26 0h1m11 0h1M2 70h1m28 0h1m18 0h1m2 0h1m18 0h2m1 0h1m12 0h1m1 0h1m10 0h1m19 0h1m3 0h1m10 0h2m4 0h1M92 71h1M42 72h1m31 0h1m14 0h1m9 0h2m26 0h1M71 73h2m3 0h1m5 0h1m5 0h1m6 0h2m2 0h1m47 0h1m20 0h1M42 74h2m11 0h1m16 0h1m16 0h1m36 0h2m18 0h1M95 75h1m49 0h1M72 76h1m2 0h1m17 0h1m3 0h1m29 0h1M71 77h1m1 0h2m16 0h1m2 0h1m44 0h1M62 78h1m27 0h1m1 0h1m6 0h1m58 0h1M9 79h1m36 0h1m42 0h1m9 0h1M22 80h1m55 0h1m60 0h1m5 0h1M126 81h1M73 82h1m9 0h1m46 0h1m9 0h1M89 83h1m34 0h1M55 84h1m81 0h1M10 85h1m26 0h1m87 0h1M2 87h1m82 0h1M21 88h1m3 0h1m10 0h1m50 0h1m5 0h1m30 0h1m3 0h1M73 89h1m3 0h1m5 0h1m7 0h2m62 0h1M39 91h1m2 0h1m8 0h1m3 0h1m10 0h1m17 0h1m4 0h2m1 0h3m15 0h1m15 0h1m23 0h2M5 92h1m6 0h1m28 0h1m8 0h1m3 0h1m17 0h3m2 0h1m18 0h1m2 0h1m24 0h1m3 0h1m11 0h1m12 0h1m7 0h2M3 93h1m35 0h1m32 0h1m12 0h2m12 0h1m2 0h2m2 0h1m1 0h1m7 0h1m9 0h1m12 0h2m20 0h1M12 94h1m10 0h1m49 0h1m4 0h1m9 0h1m28 0h1m1 0h1m19 0h1m5 0h1M16 95h1m52 0h1m4 0h1m14 0h2m3 0h1m8 0h1M93 96h1m3 0h2m26 0h1M12 97h1m15 0h1m41 0h1m7 0h1m10 0h1M5 98h1m67 0h2m2 0h1m23 0h1M79 99h1m14 0h2M13 100h1m24 0h1m16 0h1m16 0h2m5 0h1m9 0h1m1 0h1m7 0h1m1 0h1m8 0h1m12 0h2m3 0h1m11 0h1m9 0h1m4 0h1m10 0h1M55 101h1m8 0h1m46 0h1m4 0h1m36 0h1M5 102h1m6 0h1m15 0h1m14 0h1m24 0h1m5 0h1m13 0h3m10 0h1m8 0h1m30 0h1m5 0h2m12 0h1m5 0h1M91 103h1m7 0h1m4 0h1M49 104h1m7 0h1m34 0h1m4 0h1m64 0h1M24 105h1m25 0h1m37 0h1m5 0h1M108 106h1m19 0h1M91 107h1M74 108h1m66 0h1M31 109h1m38 0h1m1 0h1m12 0h1m5 0h1m24 0h1M28 110h1m45 0h1m64 0h1m20 0h1m4 0h1M149 111h1M6 112h1m48 0h1M86 113h1m40 0h1M32 114h1m15 0h1m6 0h1m70 0h1M12 115h1M71 116h1m27 0h1m28 0h1M55 117h1m24 0h1m22 0h1m38 0h1m8 0h1m14 0h1M24 118h1M67 119h1m52 0h1m12 0h2m5 0h1M28 120h1m16 0h1m3 0h1m2 0h1m71 0h1M161 121h1M117 122h1m9 0h1M91 123h1m24 0h1M42 124h1m2 0h1m8 0h1m9 0h1m5 0h1m13 0h1m12 0h1m1 0h1m18 0h1m4 0h1m1 0h1m23 0h1M62 125h1m22 0h1m14 0h1m7 0h1m6 0h1m11 0h1m23 0h1m3 0h1m2 0h1m1 0h2m5 0h1M23 126h1m13 0h1m5 0h1m9 0h1m5 0h1m14 0h1m3 0h1m3 0h1m42 0h1m1 0h2m23 0h1M13 127h1m12 0h1m1 0h1m7 0h1m5 0h1m14 0h1m33 0h2m21 0h1m1 0h1m1 0h1m3 0h1m6 0h1m9 0h1m21 0h1M7 128h1m5 0h1m14 0h1m20 0h1m66 0h1m8 0h2M3 129h1m120 0h2M4 130h1m38 0h1m5 0h2m5 0h1m16 0h1m2 0h1m1 0h1m2 0h1m9 0h1m8 0h1m3 0h2m17 0h1m2 0h1m6 0h1m5 0h1m17 0h2M5 131h1m6 0h1m36 0h1m20 0h1m5 0h1m11 0h1m30 0h1m3 0h1m5 0h2m7 0h1M22 132h1m100 0h1m20 0h1M56 133h1m62 0h1m10 0h1M37 134h1m5 0h1m83 0h1M92 136h1m26 0h1m1 0h2m37 0h1M12 137h1m113 0h1m34 0h1M27 138h1m37 0h1m58 0h1m1 0h1M80 139h1M33 140h1m16 0h1m66 0h1m3 0h1m10 0h1m3 0h2m7 0h1M10 141h1m51 0h1M65 142h1m101 0h1M0 143h1M7 144h1m147 0h1M10 145h1m28 0h1m86 0h1m33 0h1M12 146h1m77 0h1M29 147h1m25 0h1M65 148h1m2 0h1m2 0h1M91 149h1M13 150h1m8 0h1m37 0h1m66 0h1m10 0h1M86 151h1M97 152h1m2 0h1m24 0h1M140 153h1M23 154h1m25 0h1m6 0h1m34 0h1m36 0h1m10 0h1m7 0h1m5 0h1m4 0h1M11 155h1m59 0h1m77 0h1M6 156h1m84 0h1M28 157h1m94 0h1m30 0h1M12 158h1m42 0h2m2 0h1m12 0h1m19 0h1m6 0h1m39 0h1m3 0h2M12 159h1m2 0h1m9 0h1m98 0h1m14 0h1M9 160h1m39 0h1M92 161h1M53 162h1m4 0h1m72 0h1m22 0h1M11 163h2m73 0h1m17 0h1m5 0h1m7 0h1m5 0h1m24 0h1M21 164h1m39 0h1m22 0h1M10 165h1m38 0h1m35 0h1M42 166h1m31 0h1m25 0h1m21 0h1M99 167h1m26 0h1m1 0h1M125 168h1m20 0h1M42 169h1m83 0h1M12 170h1m36 0h1m3 0h1m95 0h1M113 172h1m47 0h1M139 173h1m6 0h1M126 175h1M44 176h1M95 180h1m29 0h1M42 183h1M37 184h1"/>
<path stroke="#a9b6c4" d="M167 1h1M42 15h1M30 25h1M139 26h1M40 28h1M148 35h1M39 43h1m1 0h1m105 0h1M49 44h1M151 56h1M120 58h1M42 59h1M91 63h1M126 64h1M92 66h1M62 67h1M96 69h1M45 70h1M13 72h1m119 0h1M92 73h1M7 74h1m149 0h1M8 76h1M160 85h1M94 86h1M74 89h1m47 0h1M49 90h1M73 91h1m86 0h1M56 93h1m2 0h1M92 94h1M76 98h1M77 99h1M87 102h1m37 0h1M161 110h1M49 111h1M114 116h1M87 120h1M19 124h1M52 126h1m88 0h1M101 127h1M122 128h1M14 130h1m82 0h1M106 137h1M16 140h1m25 0h1m31 0h1M28 145h1M110 146h1M55 148h1M124 150h1m22 0h1M42 152h1M126 154h1M136 156h1M87 158h1M56 159h1m72 0h1M49 161h1M128 165h1M110 166h1M166 168h1M13 169h1M159 182h1"/>
<path stroke="#6f8aa8" d="M150 0h1M15 3h1m12 0h1M42 5h1M149 6h1M55 9h1M127 12h1M77 14h1M29 15h1m96 0h1M61 17h1M127 18h1m34 0h1M122 19h1M93 22h1M125 25h1M6 26h1m21 0h1m98 0h1M1 28h1M22 30h1M31 33h1m31 0h1M35 34h1M137 37h1M91 41h1M52 43h1m48 0h1m58 0h1M43 45h1m70 0h1M110 48h1M140 50h1M77 52h1m3 0h1M12 54h1m97 0h1M78 55h1M157 56h1M56 58h1m68 0h1m1 0h1m32 0h1M165 59h1M126 61h1M40 63h1m86 0h1M33 64h1M99 69h1M126 70h1M0 71h1m87 0h1m44 0h1M90 74h1m69 0h1M11 75h1m77 0h1m6 0h1m23 0h1M77 76h1M126 77h1M96 78h1M55 79h1M136 84h1m23 0h1M78 88h1M28 91h1m52 0h1m30 0h1M13 92h1m4 0h1m36 0h1M138 93h1M29 94h1M72 95h1M56 96h1m17 0h1m20 0h1M91 97h1m4 0h1m29 0h1M44 99h1M71 100h1M79 101h1m86 0h1M78 102h1M133 103h1M103 108h1M91 112h1M91 113h1M99 114h1M47 115h1m49 0h1m27 0h1m23 0h1M160 117h1M72 122h1M22 124h1m32 0h1M17 125h1M15 126h1m105 0h1M29 128h1m18 0h1m101 0h1M33 130h1m58 0h1M99 131h1M2 133h1M39 135h1M153 139h1M12 140h1m42 0h1m71 0h1M128 141h1M55 146h1M122 154h1M126 158h1M91 159h1M156 161h1M167 168h1M128 172h1M43 173h1"/>
<path stroke="#3d6591" d="M56 0h1m43 0h1M85 1h1m42 0h1M51 3h1M49 4h1M49 7h1M56 8h1M11 9h1M84 11h1M126 12h1m12 0h1M81 15h1m10 0h1M128 16h1M18 17h1M116 19h2m9 0h2M103 21h1M103 22h1M57 23h1m42 0h1M13 24h1m12 0h1m100 0h1m4 0h1m22 0h1M17 25h1m103 0h1M42 26h1m12 0h1m109 0h1M22 27h1m18 0h1m16 0h1m49 0h1M54 28h1M26 29h1m77 0h1M104 31h1M43 32h1m89 0h1M42 34h1M105 36h1M18 37h1M49 38h1M104 39h1m39 0h1M108 40h1M55 44h1m104 0h1M7 45h1m83 0h1m17 0h1m15 0h1m5 0h1m7 0h1m9 0h1M32 46h1m128 0h1M98 47h1M149 48h1M0 52h1m54 0h1M32 53h1m91 0h1M55 54h1m71 0h1M41 55h1M119 57h1m39 0h1M2 58h1m52 0h1m35 0h1M50 59h2m11 0h1m19 0h1m15 0h1M62 60h1M99 62h1M24 63h1m74 0h1m10 0h1m17 0h1M15 64h1M56 65h1m5 0h1M125 66h1M100 68h1M122 69h1M93 71h1m32 0h1m22 0h1M43 72h1m27 0h1m1 0h1m33 0h1m17 0h1M56 74h1m44 0h1M91 75h1M98 76h1M91 87h1M42 88h1M76 89h1m16 0h1m18 0h1M76 90h1m84 0h1M78 91h1M42 92h1m58 0h1m7 0h2M0 93h1m89 0h1m33 0h2m18 0h1M125 94h1M78 96h1M99 97h1M96 98h1M118 99h1M49 100h1m6 0h1m19 0h1m1 0h1m11 0h1M99 101h1M50 102h1m43 0h1m32 0h1m23 0h1M127 103h1m27 0h1M96 104h1M70 105h1M78 106h1m10 0h1m22 0h1m11 0h1M127 107h1M55 109h1M127 110h1M22 111h1m77 0h1M127 114h1M48 115h1m75 0h1m14 0h1M163 118h1M92 119h1M28 121h1m62 0h1M125 123h1m10 0h1M10 125h1M12 126h1m15 0h1m126 0h1m1 0h1M32 127h1m50 0h1M5 128h1m67 0h1m55 0h1M122 130h1m9 0h1m4 0h1M55 131h1m61 0h1M32 132h1M166 133h1M56 136h1m52 0h1M65 137h1M101 138h1m47 0h1M12 139h1M19 140h1M63 141h1m69 0h1M104 142h1m34 0h1M12 145h1m42 0h1m69 0h1M74 146h1m52 0h1M42 148h1M56 149h1m42 0h1m60 0h1M97 150h1M14 153h1M5 156h1m96 0h2m20 0h1m41 0h1M161 157h1M49 158h1m15 0h1m32 0h1m61 0h1m1 0h1M3 159h1m39 0h1m11 0h1m6 0h1m47 0h1m33 0h1M144 160h1M99 163h1m14 0h1m11 0h1M26 165h1m19 0h1m50 0h1m59 0h1M29 183h1"/>
<path stroke="#a5c1c4" d="M139 5h1M43 6h1M72 22h1M27 24h1M55 34h1m93 0h1M128 43h1M2 44h1M11 47h1M149 49h1M116 50h1M62 58h1M42 68h1M90 69h1M50 75h1M72 77h1M124 78h1M12 79h1m80 0h1M49 85h1M33 91h1M125 98h1M95 100h1M74 103h1M120 109h1M56 110h1M12 111h1M33 120h1M63 124h1M43 127h1m12 0h1M99 128h1M122 131h1M9 141h1m44 0h1M94 159h1M55 161h1M5 174h1M128 183h1"/>
<path stroke="#65a3a9" d="M44 6h1M28 10h1m97 0h1m1 0h1m37 0h1M163 14h1M49 18h1M98 24h1M42 25h1m69 0h1M15 26h1M122 28h1M22 43h1m11 0h1m116 0h1M92 44h1M137 45h1M22 49h1M7 52h1M126 57h1m35 0h1M27 58h1M81 59h1M127 64h1M128 66h1M22 74h1M92 75h1m6 0h1m1 0h1M73 76h1M62 77h1M92 79h1M80 82h1M85 84h1M12 86h1M128 87h1M12 88h1M133 91h1M116 92h1M129 93h1M77 94h1M44 96h1M168 97h1M62 100h1M102 101h1M3 102h1M149 107h1m10 0h1M22 115h1m119 0h1M128 118h1M34 119h1M43 122h1m81 0h1M83 124h1M92 126h1m56 0h1M2 128h1m40 0h1M11 131h1M136 132h1m12 0h1M32 133h1M62 134h1M110 140h1M127 141h1M41 150h1m57 0h1M38 156h1M14 158h1M126 159h1M124 164h1M91 166h1M128 168h1M56 169h1M124 178h1M160 184h1"/>
<path stroke="#2e8992" d="M52 3h1M49 5h1M55 7h1m69 0h1M127 8h1m9 0h1M139 11h1M125 13h1M99 14h1M12 16h1M119 20h1M56 22h1M12 24h1m138 0h1M9 26h1m9 0h1m5 0h1m117 0h1M128 27h2M44 29h1m46 0h1M125 35h1m34 0h1M13 37h1m90 0h1m22 0h1M7 40h1m5 0h1M124 42h1m3 0h1M50 43h1m40 0h1M34 44h1m7 0h1M161 45h1M61 48h1m66 0h1M28 49h1M37 50h1M126 51h1M21 52h1M99 53h1M43 54h1m84 0h1m15 0h1M163 55h1M41 57h2m7 0h1m34 0h1M22 58h1m20 0h1m5 0h1m2 0h1m16 0h1m54 0h1m25 0h1M91 59h1m39 0h1M5 60h1M111 62h1M55 63h1M12 64h1m31 0h1m16 0h1M49 65h1M124 67h1M55 69h1m61 0h1M39 70h1m54 0h1M73 71h1m47 0h1M0 72h1M142 74h1M100 77h1M5 78h1m145 0h1M75 80h1m49 0h1m22 0h1M62 82h1m63 0h1M62 85h1M28 87h1m45 0h1M73 88h1M88 89h1M56 91h1m25 0h1m17 0h1m4 0h1M70 92h1m41 0h1M98 93h1m32 0h1M101 97h1M10 98h1m38 0h1M29 99h1M74 100h1m52 0h1m21 0h1M75 101h1m52 0h1M62 102h1m35 0h1M95 105h1M90 106h1M160 108h1M166 109h1M43 116h1m23 0h1M122 119h1m3 0h1M83 122h1M8 124h1m131 0h1M94 125h1m55 0h1M35 126h1m59 0h1M149 127h1M56 128h1m34 0h1m32 0h1M58 130h1m66 0h1M115 133h1m33 0h1M120 134h1M161 136h1M91 138h1M43 139h1m87 0h1M63 140h1M99 143h1m49 0h1M43 144h1M82 146h1M26 150h1M127 152h1M80 155h1M48 157h1M125 161h1m24 0h1M118 162h1M88 163h1m22 0h1M50 165h1m74 0h1M99 170h1M3 171h1M34 172h1"/>
<path stroke="#a3cac2" d="M124 5h1M5 12h1m17 0h1M126 22h1M21 24h1m3 0h1M119 26h1M99 44h1M49 64h1M85 82h1M55 93h1M28 95h1M96 101h1m28 0h1M61 125h1M124 126h1M155 128h1M42 137h1M22 172h1"/>
<path stroke="#61b6a4" d="M28 9h1M91 19h1M123 20h1M41 26h1M61 27h1m58 0h1M65 44h1m73 0h1M110 49h1M99 56h1M2 59h1M147 61h1M123 64h1M110 67h1m15 0h1M91 69h1M77 72h1m19 0h1M74 73h1M94 74h1m49 0h1M43 78h1M81 83h1M79 90h1M74 97h1m20 0h1M72 99h1M91 102h1m34 0h1M158 110h1M167 112h1M150 115h1M42 119h1M128 124h1M88 125h1M40 130h1m119 0h1M125 132h1M23 145h1M48 147h1M160 152h1M149 161h1M124 165h1"/>
<path stroke="#29a58b" d="M125 0h1M3 5h1m124 0h1M160 9h1M62 10h1M132 11h1M56 12h1m83 0h1M125 15h1M126 21h1M43 24h1m117 0h1M5 25h1m16 0h1M136 26h1M126 28h1M35 37h1M0 43h1M100 44h1M117 45h1M56 46h1M47 48h1M5 49h1M55 56h1M140 58h1m8 0h1M162 59h1M116 60h1M10 66h1M116 68h1M12 70h1m15 0h1m42 0h1m17 0h1M96 72h1m13 0h1M127 75h1M27 76h1m63 0h1M12 80h1m29 0h1M126 90h1M87 91h1m13 0h1M100 93h1m50 0h1M72 94h1M127 96h1M151 97h1M56 99h1m35 0h1M139 101h1M78 103h1m45 0h1M22 106h1M33 107h1M55 110h1M52 113h1M127 117h1m25 0h1M152 118h1M28 122h1M12 123h1M91 124h1M81 126h1m3 0h1M18 127h1m36 0h1m67 0h1M151 128h1M149 130h1M14 132h1m151 0h1M53 137h1M73 138h1M87 140h1m59 0h1M81 142h1M42 143h1M112 145h1M140 150h1M67 151h1M9 154h1m82 0h1M11 158h1m32 0h1M81 160h1M110 161h1M38 163h1m53 0h1m13 0h1M55 166h1M49 176h1M12 181h1"/>
<path stroke="#b1d4b9" d="M126 20h1M49 31h1M119 38h1M129 47h1M99 57h1M126 69h1M93 70h1M92 72h1M143 81h1M127 92h1M99 108h1M68 112h1M161 116h1M162 117h1M139 119h1M43 136h1M127 154h1M64 165h1"/>
<path stroke="#80cc92" d="M129 4h1M13 27h1M50 44h1M12 45h1M132 48h1M83 57h1m43 0h1M64 61h1M66 73h1M88 77h1M160 80h1M0 81h1m115 0h1M55 88h1M43 92h1m47 0h1m64 0h1M160 94h1M93 95h1M76 99h1M13 101h1M102 103h1M49 123h1M104 124h1M113 125h1M41 127h1M160 128h1M134 131h1M87 137h1M126 140h1M46 145h1M49 148h1M152 153h1M42 158h1M128 160h1M163 161h1M167 170h1"/>
<path stroke="#57c570" d="M160 11h1M124 14h1M12 15h1M112 17h1M146 19h1M82 20h1M28 25h1m34 0h1m43 0h1m21 0h1M12 27h1m141 0h1M65 28h1m62 0h1M164 37h1M18 38h1M99 39h1M163 43h1m2 0h1M56 44h1M150 45h1M91 49h2M126 52h1M31 57h1m24 0h1m8 0h1m58 0h1M82 58h1M6 59h1m7 0h1m49 0h1M63 61h1M37 62h1M55 64h1M106 69h1M71 76h1M89 77h1M49 78h1M28 82h1M24 83h1M125 87h1M73 90h1M86 92h1M28 100h1M91 101h1M79 102h1m49 0h1M38 104h1m51 0h1M91 118h1M160 124h1M56 126h1M87 127h1M42 128h1M136 131h1M99 137h1M91 145h1M162 149h1M139 150h1M127 155h1M136 157h1M49 167h1M94 181h1"/>
<path stroke="#dddea1" d="M87 10h1M128 13h1M164 15h1M109 29h1M12 44h1m109 0h1m28 0h1M40 46h1m8 0h1M61 55h1M51 58h1M120 59h1M82 68h1M72 75h1M95 92h1M91 99h1M91 106h1M51 125h1M140 126h1M42 130h1M42 131h1M70 142h1M49 143h1M28 144h1M88 145h1M161 160h1M37 170h1"/>
<path stroke="#dee05d" d="M126 1h1M9 12h1m73 0h1M82 14h1M22 15h1m38 0h1M6 16h1m114 0h1M14 24h1m113 0h1M133 26h1m7 0h1M104 28h1M33 34h1m60 0h1M147 39h1M88 40h1m32 0h1M100 51h1M159 52h1M8 56h1M48 58h1M7 60h1m25 0h1m17 0h1M125 61h1M18 65h1M41 66h1M66 69h1M105 72h1M32 75h1M37 78h1M50 80h1M5 81h1m151 0h1M80 83h1M13 88h1m63 0h1m63 0h1M61 91h1M36 93h1m73 0h1m12 0h1M0 94h1m94 0h1M89 98h1m10 0h1M60 100h1m64 0h1M160 101h2M73 102h1M79 103h1M148 105h1M106 107h1M104 114h1M42 116h1m7 0h1m106 0h1M5 118h1m59 0h1m26 0h1M128 120h1m15 0h1M101 126h1M24 128h1M127 131h1M129 134h1M159 135h1M115 137h1M46 147h1M52 149h1M24 152h1M140 155h1M83 157h1m72 0h1M82 163h1M38 166h1m128 0h1M113 167h1M58 171h1M66 174h1m82 0h1M165 175h1M73 176h1M21 177h1m3 0h1M98 179h1M70 182h1M116 184h1"/>
<path stroke="#dfe322" d="M101 0h1m63 0h1M4 1h1M88 2h1M74 4h1M148 5h1M97 6h1m65 0h1M5 7h1M2 8h1M43 13h1m11 0h1m78 0h1M99 21h1M29 22h1M37 24h1M55 25h1m1 0h1M33 26h1m43 0h1M37 28h1M12 29h1m72 0h1M152 31h1M124 34h1m14 0h1M41 39h1M109 43h1m40 0h1m13 0h1M47 45h1M124 46h2M12 47h1M103 50h1M130 54h1M74 58h1M12 62h1M133 63h1M55 66h2M2 71h1m88 0h1M18 72h1m100 0h1M46 74h1M64 76h1M31 77h1M140 79h1M33 80h1M146 81h1m19 0h1M52 82h1M55 83h1m7 0h1M114 84h1M49 87h1M48 88h1M125 89h1M37 90h1m21 0h1M6 91h1m1 0h1M126 92h1M97 95h1M79 96h1M101 99h1M51 100h1M89 101h1M123 102h1m15 0h1M64 104h1m74 0h1M108 105h1M44 106h1m8 0h1M128 107h1M4 108h1M128 110h1m27 0h1M49 112h1M24 113h1m85 0h1M70 114h1M42 115h1M5 116h1M55 118h1M33 119h1M74 122h1M43 125h1m11 0h1m67 0h1m25 0h1M75 126h1m8 0h1m2 0h1m8 0h1M22 127h1m128 0h1M81 128h1M92 129h1M89 130h1m39 0h1M10 131h1m154 0h1M129 132h1M10 133h1M3 137h1m30 0h1M62 140h1m50 0h1m29 0h1M105 141h1M56 143h1M26 144h1m109 0h1M97 145h1m51 0h1M126 146h1M118 148h1m9 0h1M119 149h1M102 150h1m3 0h1M16 151h1M61 153h1M161 154h1M3 155h1m29 0h1M72 157h1M70 158h1m20 0h1M47 160h1M117 162h1M30 164h1M47 166h1M21 168h1M145 172h1M164 173h1M126 174h1m24 0h1M40 179h1M42 181h1m23 0h1M35 182h1m126 0h1M161 183h1M27 184h1m114 0h1m1 0h1"/>
<path stroke="#f0f0f3" d="M1 0h1m3 0h1m6 0h1m2 0h1m1 0h1m11 0h1m3 0h1m1 0h1m1 0h2m6 0h2m2 0h1m5 0h1m3 0h1m1 0h1m1 0h1m2 0h1m3 0h1m8 0h2m1 0h2m6 0h1m7 0h1m17 0h1m20 0h1m21 0h1m1 0h2m1 0h1M3 1h1m1 0h2m11 0h1m4 0h1m10 0h1m4 0h2m5 0h1m1 0h1m10 0h1m4 0h3m5 0h1m14 0h1m15 0h1m1 0h1m2 0h1m3 0h2m2 0h1m5 0h1m2 0h1m1 0h1m3 0h1m6 0h2m1 0h1m5 0h2m1 0h1m3 0h1m1 0h1m2 0h1m1 0h2M11 2h1m5 0h1m1 0h1m2 0h1m2 0h1m4 0h1m10 0h1m1 0h1m2 0h1m6 0h1m6 0h1m9 0h2m7 0h1m2 0h1m3 0h1m13 0h1m4 0h1m2 0h1m2 0h1m3 0h2m6 0h1m1 0h1m11 0h1m6 0h1m1 0h1m2 0h1m4 0h1m2 0h1m4 0h3M5 3h1m1 0h1m1 0h1m1 0h1m11 0h1m2 0h1m3 0h2m7 0h1m20 0h1m1 0h1m5 0h1m3 0h1m1 0h3m7 0h2m3 0h1m4 0h1m5 0h1m2 0h1m1 0h3m7 0h1m6 0h1m3 0h1m10 0h1m2 0h1m6 0h1m3 0h2m4 0h1m2 0h1m1 0h1m3 0h1M0 4h1m7 0h2m1 0h3m9 0h1m5 0h1m1 0h2m1 0h1m10 0h1m4 0h1m2 0h1m3 0h1m1 0h1m3 0h2m4 0h2m2 0h1m2 0h1m2 0h2m1 0h2m1 0h1m5 0h1m3 0h1m2 0h1m7 0h1m1 0h1m1 0h1m6 0h1m9 0h1m2 0h1m6 0h1m2 0h1m2 0h1m1 0h2m3 0h1m3 0h1m2 0h1m10 0h1M0 5h1m14 0h1m1 0h2m3 0h3m10 0h1m4 0h1m10 0h1m2 0h1m4 0h1m15 0h1m2 0h2m8 0h4m4 0h4m1 0h1m8 0h1m1 0h1m3 0h1m1 0h1m3 0h2m11 0h2m8 0h2m5 0h1m2 0h2m8 0h2M20 6h1m1 0h1m3 0h1m6 0h2m2 0h1m7 0h1m4 0h1m14 0h2m3 0h2m2 0h1m1 0h1m2 0h1m4 0h1m20 0h1m2 0h2m1 0h1m2 0h1m7 0h2m14 0h1m1 0h1m1 0h1m1 0h1m5 0h1m13 0h1M0 7h2m1 0h1m2 0h1m10 0h3m2 0h2m11 0h1m1 0h2m1 0h1m2 0h1m1 0h1m13 0h1m1 0h1m11 0h1m1 0h1m1 0h1m1 0h1m5 0h1m3 0h1m3 0h1m4 0h1m4 0h1m4 0h1m2 0h2m5 0h1m1 0h1m9 0h1m5 0h2m1 0h1m11 0h1m10 0h2M1 8h1m1 0h1m2 0h1m6 0h1m1 0h1m6 0h1m1 0h2m3 0h1m2 0h1m5 0h1m2 0h2m2 0h2m4 0h1m3 0h1m4 0h1m2 0h1m6 0h1m8 0h1m3 0h1m5 0h1m6 0h1m5 0h1m4 0h2m1 0h2m1 0h1m1 0h3m2 0h1m1 0h1m2 0h1m4 0h1m12 0h2m2 0h1m6 0h1m1 0h1m4 0h1m5 0h1M4 9h1m11 0h3m1 0h1m9 0h2m2 0h2m2 0h1m2 0h2m3 0h1m10 0h1m1 0h1m1 0h1m3 0h2m1 0h1m1 0h1m6 0h1m2 0h1m6 0h1m4 0h1m4 0h5m2 0h1m3 0h4m11 0h1m4 0h1m6 0h1m5 0h1m9 0h2m2 0h1M4 10h1m2 0h1m3 0h1m5 0h1m4 0h1m4 0h1m2 0h1m6 0h1m4 0h1m8 0h1m5 0h1m1 0h1m7 0h1m5 0h2m5 0h1m5 0h1m2 0h2m2 0h1m5 0h1m6 0h2m8 0h1m3 0h2m1 0h2m7 0h2m4 0h2m1 0h1m3 0h1m4 0h2m1 0h1m2 0h2m4 0h1M4 11h4m1 0h1m7 0h1m6 0h1m1 0h1m4 0h1m1 0h2m4 0h1m3 0h1m6 0h1m4 0h1m1 0h1m3 0h1m7 0h1m4 0h1m13 0h1m4 0h1m3 0h1m2 0h1m5 0h1m7 0h1m2 0h1m1 0h1m1 0h1m3 0h1m3 0h1m6 0h1m4 0h1m2 0h3m2 0h3m5 0h1m3 0h1m2 0h2m2 0h1M0 12h2m11 0h1m2 0h1m1 0h2m5 0h1m1 0h2m3 0h1m4 0h1m9 0h4m3 0h1m5 0h1m7 0h2m12 0h1m1 0h3m2 0h2m8 0h1m1 0h2m2 0h1m5 0h1m3 0h1m2 0h1m2 0h4m3 0h1m5 0h2m5 0h2m1 0h2m5 0h3m6 0h1m2 0h2M1 13h2m21 0h1m1 0h1m4 0h2m11 0h2m2 0h4m6 0h1m2 0h1m10 0h1m1 0h1m2 0h1m1 0h1m3 0h1m3 0h1m6 0h1m5 0h1m7 0h1m7 0h1m2 0h1m11 0h1m3 0h1m4 0h1m4 0h1m2 0h1m5 0h1m4 0h1m3 0h1m1 0h1M1 14h2m4 0h2m6 0h1m1 0h1m4 0h1m5 0h1m4 0h1m1 0h1m1 0h3m1 0h1m3 0h1m1 0h1m1 0h1m1 0h1m10 0h2m1 0h1m15 0h1m1 0h1m2 0h1m7 0h2m6 0h1m1 0h1m3 0h1m8 0h1m9 0h1m2 0h1m4 0h1m10 0h1m3 0h1m5 0h1m9 0h1M0 15h1m3 0h1m1 0h1m9 0h1m2 0h1m4 0h3m6 0h1m2 0h1m20 0h2m4 0h1m2 0h1m2 0h2m1 0h1m1 0h1m14 0h1m7 0h2m3 0h1m7 0h1m1 0h1m2 0h1m2 0h1m3 0h1m6 0h1m12 0h1m5 0h1m4 0h1m5 0h1m1 0h1m3 0h1m1 0h1M3 16h1m4 0h2m18 0h1m1 0h1m1 0h1m2 0h1m11 0h1m12 0h1m4 0h1m4 0h1m12 0h1m8 0h1m2 0h1m8 0h2m7 0h1m1 0h1m7 0h1m3 0h1m25 0h1m3 0h1m1 0h1m5 0h1M3 17h1m6 0h1m5 0h1m5 0h2m1 0h1m12 0h1m2 0h1m3 0h1m1 0h1m3 0h1m2 0h1m3 0h1m9 0h1m1 0h1m4 0h1m1 0h1m4 0h1m12 0h1m4 0h1m4 0h1m2 0h1m4 0h1m2 0h1m2 0h1m3 0h1m1 0h1m2 0h1m1 0h1m1 0h1m14 0h1m5 0h1m11 0h1m1 0h1M10 18h1m2 0h1m10 0h1m2 0h1m2 0h1m2 0h1m1 0h1m4 0h1m9 0h1m1 0h2m6 0h1m2 0h1m4 0h1m8 0h1m4 0h1m3 0h2m9 0h1m9 0h1m2 0h1m2 0h1m1 0h2m1 0h1m1 0h1m5 0h1m3 0h1m5 0h1m4 0h1m4 0h1m1 0h1m1 0h2m7 0h1M0 19h2m2 0h2m1 0h1m1 0h1m3 0h1m8 0h1m10 0h1m4 0h2m11 0h1m5 0h2m4 0h1m4 0h1m1 0h1m4 0h2m4 0h1m1 0h1m2 0h1m2 0h1m3 0h1m1 0h1m7 0h1m4 0h2m2 0h1m5 0h4m1 0h2m9 0h1m1 0h1m5 0h1m2 0h1m1 0h1m15 0h1m3 0h2M0 20h1m1 0h3m2 0h1m6 0h1m4 0h1m5 0h3m1 0h3m4 0h2m2 0h1m2 0h1m3 0h1m5 0h1m5 0h2m8 0h1m9 0h2m5 0h1m8 0h1m1 0h2m9 0h1m1 0h1m4 0h2m3 0h1m6 0h1m4 0h1m1 0h1m3 0h1m4 0h1m4 0h1m4 0h1m1 0h1m3 0h1m7 0h1M1 21h1m3 0h1m7 0h1m6 0h1m3 0h1m2 0h1m5 0h1m3 0h1m2 0h1m8 0h1m2 0h1m1 0h1m8 0h1m2 0h2m2 0h1m2 0h3m5 0h1m5 0h2m1 0h2m1 0h1m2 0h1m3 0h2m13 0h1m3 0h1m15 0h1m1 0h1m7 0h1m2 0h1m1 0h4m5 0h1m7 0h1M6 22h1m18 0h2m4 0h1m3 0h1m10 0h1m3 0h1m11 0h1m1 0h2m3 0h1m7 0h1m1 0h1m4 0h2m4 0h1m1 0h1m5 0h1m2 0h2m5 0h1m1 0h1m2 0h1m10 0h1m9 0h1m7 0h1m2 0h1m9 0h1m3 0h1M3 23h1m7 0h1m5 0h1m1 0h1m8 0h1m15 0h1m5 0h1m9 0h1m1 0h3m7 0h1m6 0h1m1 0h2m1 0h1m1 0h1m24 0h1m2 0h1m1 0h2m4 0h1m1 0h1m5 0h1m1 0h2m7 0h1m3 0h1m2 0h1m2 0h1m2 0h1m2 0h1m9 0h1M0 24h1m2 0h1m1 0h1m1 0h1m10 0h1m11 0h1m17 0h1m5 0h1m4 0h2m3 0h1m3 0h1m7 0h2m3 0h1m7 0h1m3 0h1m13 0h2m12 0h1m13 0h2m4 0h1m2 0h1m5 0h1m1 0h1M6 25h1m5 0h1m2 0h2m9 0h1m2 0h1m5 0h1m12 0h1m5 0h1m4 0h1m1 0h1m3 0h1m6 0h2m1 0h1m4 0h2m2 0h1m4 0h1m1 0h1m3 0h1m1 0h2m15 0h1m3 0h2m7 0h1m4 0h1m2 0h1m2 0h1m2 0h1m6 0h3m5 0h1m5 0h2M4 26h1m2 0h1m5 0h1m4 0h1m18 0h1m1 0h1m3 0h1m4 0h1m39 0h1m1 0h1m1 0h1m3 0h1m6 0h1m3 0h1m2 0h1m7 0h1m16 0h1m2 0h1m1 0h1m6 0h1m3 0h2m3 0h1m7 0h1m2 0h1M5 27h1m3 0h1m1 0h1m3 0h1m3 0h2m4 0h1m2 0h1m4 0h1m5 0h1m5 0h1m1 0h2m6 0h1m1 0h1m9 0h2m8 0h1m4 0h1m2 0h1m3 0h1m3 0h2m17 0h3m3 0h1m11 0h1m4 0h1m4 0h2m8 0h1m2 0h1m2 0h1m8 0h1M0 28h1m2 0h1m7 0h1m3 0h1m2 0h2m5 0h1m4 0h1m1 0h1m5 0h1m2 0h1m5 0h1m21 0h1m5 0h3m8 0h1m8 0h1m2 0h1m9 0h1m1 0h1m3 0h1m2 0h2m2 0h1m12 0h1m9 0h1m18 0h1m4 0h1M2 29h1m1 0h2m12 0h1m3 0h1m8 0h1m1 0h1m1 0h1m2 0h1m1 0h1m7 0h1m15 0h1m3 0h1m2 0h2m1 0h1m3 0h1m2 0h2m6 0h2m2 0h1m8 0h1m9 0h1m6 0h1m5 0h1m2 0h3m9 0h1m3 0h1m9 0h1m8 0h1M1 30h1m2 0h1m8 0h1m3 0h1m6 0h1m1 0h1m4 0h2m8 0h1m3 0h1m2 0h1m2 0h2m3 0h4m3 0h1m2 0h1m4 0h1m1 0h1m3 0h1m8 0h1m6 0h1m4 0h1m5 0h2m5 0h1m3 0h1m2 0h1m3 0h1m6 0h2m2 0h1m6 0h1m7 0h3m3 0h1m3 0h2m4 0h1m1 0h2M4 31h1m3 0h1m4 0h1m2 0h1m3 0h1m3 0h1m2 0h1m14 0h1m3 0h1m14 0h2m6 0h1m14 0h1m1 0h1m3 0h1m7 0h1m2 0h1m5 0h1m2 0h1m6 0h1m5 0h1m1 0h1m2 0h1m6 0h1m10 0h2m1 0h1m3 0h2m1 0h1m2 0h2m5 0h1M2 32h1m8 0h1m1 0h1m3 0h2m5 0h1m2 0h1m12 0h3m6 0h1m1 0h2m9 0h1m4 0h2m8 0h2m5 0h1m1 0h1m1 0h1m2 0h1m1 0h1m5 0h1m6 0h1m1 0h1m1 0h1m1 0h1m3 0h1m3 0h1m3 0h1m5 0h1m1 0h1m5 0h4m2 0h1m1 0h2m6 0h1m7 0h1m2 0h1M2 33h1m6 0h1m15 0h1m1 0h1m12 0h3m9 0h1m4 0h1m8 0h1m9 0h1m3 0h1m9 0h1m6 0h1m1 0h2m1 0h1m3 0h2m4 0h1m12 0h2m3 0h2m1 0h1m7 0h1m7 0h1m4 0h1m11 0h1M3 34h1m3 0h1m1 0h1m3 0h1m1 0h1m1 0h1m11 0h1m16 0h1m3 0h2m8 0h1m15 0h1m1 0h1m1 0h1m4 0h1m4 0h1m4 0h1m2 0h1m1 0h1m7 0h3m5 0h1m1 0h1m1 0h1m5 0h2m12 0h3m3 0h1m4 0h2m1 0h3m10 0h1M2 35h2m2 0h1m16 0h1m1 0h1m1 0h1m1 0h1m1 0h1m4 0h1m3 0h1m13 0h1m2 0h1m1 0h1m3 0h2m4 0h1m3 0h1m12 0h3m3 0h1m1 0h1m3 0h1m2 0h1m2 0h1m8 0h1m6 0h1m5 0h1m10 0h1m3 0h1m14 0h1m2 0h1m2 0h1m4 0h1M7 36h1m15 0h1m4 0h1m22 0h1m2 0h1m1 0h1m2 0h2m2 0h2m4 0h1m7 0h1m3 0h1m5 0h3m2 0h1m15 0h1m7 0h1m12 0h1m2 0h1m2 0h1m17 0h1m3 0h1m4 0h1m1 0h1m2 0h1M0 37h1m1 0h1m5 0h1m1 0h2m5 0h1m10 0h1m3 0h1m6 0h1m20 0h1m5 0h2m4 0h1m7 0h1m5 0h1m6 0h1m1 0h1m2 0h2m11 0h2m5 0h1m22 0h1m4 0h1m3 0h1m8 0h2m2 0h1M1 38h1m7 0h1m2 0h1m1 0h1m1 0h1m5 0h2m2 0h1m1 0h1m2 0h2m3 0h1m10 0h2m7 0h1m1 0h1m12 0h1m4 0h1m1 0h1m2 0h1m1 0h2m10 0h1m8 0h1m2 0h1m1 0h1m14 0h1m10 0h1m1 0h1m2 0h1m4 0h1m4 0h1m2 0h1m3 0h1m3 0h1M6 39h1m1 0h1m9 0h1m1 0h1m3 0h1m5 0h1m3 0h2m4 0h1m6 0h1m5 0h1m4 0h3m10 0h1m8 0h2m3 0h1m20 0h1m4 0h1m5 0h1m3 0h2m7 0h1m1 0h1m2 0h2m17 0h1m2 0h1m10 0h1M3 40h1m10 0h1m1 0h2m5 0h1m13 0h1m4 0h1m7 0h3m3 0h1m1 0h2m1 0h1m2 0h1m1 0h1m1 0h1m1 0h2m1 0h1m2 0h1m2 0h1m4 0h1m2 0h1m3 0h1m3 0h1m1 0h1m5 0h1m10 0h2m2 0h1m4 0h1m2 0h2m1 0h1m1 0h1m2 0h3m7 0h2m3 0h1m5 0h2m2 0h1m2 0h1m1 0h1M5 41h3m3 0h1m1 0h1m1 0h1m8 0h4m1 0h2m16 0h1m1 0h1m1 0h1m12 0h1m2 0h2m3 0h1m1 0h2m2 0h1m3 0h1m14 0h1m8 0h2m3 0h1m2 0h1m6 0h1m1 0h1m5 0h1m11 0h1m1 0h1m9 0h2m2 0h1m1 0h1M0 42h1m2 0h1m4 0h1m4 0h1m14 0h2m15 0h1m3 0h3m7 0h1m3 0h1m2 0h1m5 0h1m9 0h1m2 0h1m3 0h1m4 0h1m2 0h1m8 0h1m4 0h1m3 0h1m16 0h2m1 0h1m2 0h1m4 0h1m2 0h1m4 0h1m3 0h2m2 0h1m2 0h1m1 0h1m2 0h1M6 43h1m1 0h1m2 0h1m2 0h1m1 0h1m2 0h1m8 0h2m5 0h1m22 0h1m2 0h1m4 0h1m5 0h1m4 0h1m1 0h1m7 0h2m1 0h1m9 0h1m4 0h1m27 0h1m1 0h1m2 0h1m6 0h1M22 44h1m24 0h1m10 0h3m50 0h1m34 0h1m3 0h1m1 0h1m6 0h1m1 0h1m1 0h1M0 45h2m14 0h1m7 0h1m3 0h4m2 0h1m1 0h1m2 0h1m1 0h1m10 0h3m1 0h2m2 0h1m4 0h2m3 0h4m1 0h1m1 0h1m2 0h1m1 0h1m3 0h1m6 0h1m11 0h1m4 0h3m10 0h1m11 0h1m2 0h1m2 0h2m1 0h1m11 0h2m1 0h1M16 46h1m2 0h1m5 0h1m4 0h2m1 0h2m7 0h1m5 0h1m5 0h1m5 0h1m3 0h1m4 0h1m5 0h1m1 0h3m5 0h1m3 0h1m9 0h1m2 0h1m2 0h1m3 0h1m2 0h1m5 0h1m1 0h1m9 0h1m1 0h1m10 0h2m4 0h1m10 0h1m3 0h1m3 0h1M1 47h1m1 0h1m2 0h1m15 0h1m2 0h1m1 0h1m1 0h1m1 0h1m6 0h1m2 0h1m3 0h1m3 0h1m8 0h1m7 0h1m3 0h1m13 0h5m1 0h1m2 0h1m3 0h1m5 0h1m1 0h2m2 0h1m3 0h2m1 0h1m1 0h1m1 0h1m10 0h1m6 0h1m6 0h1m1 0h1m3 0h1m4 0h2m1 0h1m3 0h1m4 0h1M0 48h1m3 0h1m2 0h1m1 0h1m1 0h1m5 0h1m3 0h1m8 0h1m1 0h3m14 0h2m9 0h1m22 0h1m4 0h1m3 0h1m3 0h1m4 0h1m1 0h1m1 0h1m3 0h1m1 0h2m9 0h2m14 0h1m1 0h2m6 0h1m1 0h1m6 0h1m2 0h1m7 0h1M8 49h1m5 0h1m18 0h2m7 0h1m1 0h1m12 0h2m9 0h1m1 0h1m5 0h2m5 0h1m2 0h1m3 0h1m2 0h1m1 0h2m3 0h1m1 0h1m1 0h1m8 0h1m4 0h3m2 0h3m3 0h1m4 0h1m3 0h1m4 0h2m3 0h1m1 0h1m1 0h1m4 0h1m1 0h1m1 0h1m1 0h1m1 0h1m1 0h1M3 50h1m7 0h1m4 0h1m4 0h1m8 0h1m11 0h1m3 0h1m1 0h1m2 0h1m2 0h2m16 0h1m10 0h1m2 0h2m4 0h1m2 0h1m6 0h1m1 0h1m6 0h1m9 0h1m1 0h1m4 0h2m7 0h1m1 0h1m5 0h1m3 0h1m2 0h1m1 0h2m2 0h1m3 0h1M11 51h1m5 0h1m5 0h3m2 0h1m10 0h3m1 0h1m9 0h1m25 0h1m2 0h1m1 0h1m3 0h1m5 0h1m1 0h1m2 0h1m6 0h1m1 0h1m1 0h1m4 0h1m29 0h2m5 0h1m1 0h1m8 0h2m3 0h1M2 52h1m5 0h1m3 0h1m2 0h1m9 0h1m4 0h1m6 0h1m1 0h1m5 0h1m2 0h1m5 0h1m10 0h1m7 0h1m1 0h2m17 0h1m1 0h1m11 0h1m7 0h1m3 0h1m2 0h1m1 0h1m15 0h1m3 0h2m1 0h1m2 0h1m2 0h1m5 0h1m2 0h1m4 0h1M3 53h1m2 0h3m7 0h1m2 0h1m16 0h1m5 0h1m3 0h1m3 0h1m4 0h2m2 0h2m5 0h2m1 0h1m15 0h2m2 0h1m1 0h1m5 0h1m7 0h1m1 0h1m1 0h1m2 0h1m3 0h1m8 0h1m2 0h1m1 0h1m5 0h3m6 0h1m4 0h1m5 0h1m3 0h1m3 0h1m2 0h1M2 54h1m1 0h1m2 0h1m1 0h1m7 0h1m13 0h1m1 0h1m3 0h1m1 0h2m4 0h2m6 0h1m4 0h1m1 0h1m18 0h1m4 0h2m4 0h1m4 0h1m5 0h3m4 0h1m7 0h1m3 0h2m1 0h1m1 0h1m3 0h1m7 0h1m4 0h1m3 0h3m3 0h1m11 0h1m1 0h1M1 55h1m3 0h1m5 0h1m4 0h1m1 0h1m7 0h1m2 0h1m3 0h2m2 0h1m7 0h1m5 0h2m1 0h1m5 0h1m7 0h2m3 0h1m10 0h3m1 0h3m4 0h1m4 0h1m2 0h1m1 0h2m7 0h2m12 0h1m11 0h1m1 0h1m5 0h1m10 0h1m1 0h1m4 0h1M10 56h1m17 0h1m3 0h1m2 0h1m4 0h1m6 0h1m1 0h1m11 0h1m3 0h1m9 0h1m5 0h1m7 0h1m4 0h1m2 0h1m2 0h3m2 0h1m6 0h1m1 0h1m1 0h1m8 0h1m12 0h1m2 0h2m3 0h1m21 0h1M5 57h1m2 0h1m1 0h1m2 0h1m2 0h1m1 0h1m1 0h1m7 0h1m8 0h1m2 0h1m2 0h1m7 0h1m2 0h1m18 0h1m4 0h1m16 0h1m5 0h1m3 0h1m1 0h2m1 0h1m3 0h1m1 0h2m2 0h2m10 0h1m8 0h1m2 0h1m11 0h1M29 58h1m3 0h1m1 0h2m9 0h1m30 0h1m2 0h2m13 0h1m5 0h2m2 0h1m3 0h1m3 0h1m2 0h1m5 0h2m10 0h1m2 0h1m8 0h1m6 0h1m2 0h1M1 59h1m3 0h1m1 0h1m3 0h1m4 0h1m19 0h2m7 0h2m13 0h1m16 0h1m1 0h1m8 0h1m5 0h1m9 0h1m2 0h1m10 0h2m5 0h1m4 0h1m2 0h1m4 0h1m6 0h1m8 0h1m4 0h1m3 0h1M6 60h1m10 0h2m3 0h2m1 0h1m8 0h1m6 0h1m4 0h1m5 0h3m2 0h1m3 0h1m4 0h1m2 0h1m2 0h1m5 0h2m2 0h1m1 0h1m16 0h1m2 0h1m14 0h2m6 0h4m2 0h1m4 0h1m2 0h1m2 0h1m8 0h1m2 0h1m4 0h1m1 0h1m2 0h3M1 61h1m1 0h1m1 0h3m1 0h1m3 0h1m8 0h2m8 0h1m1 0h1m4 0h5m1 0h1m2 0h1m5 0h1m23 0h1m2 0h1m7 0h1m1 0h2m2 0h3m8 0h1m2 0h1m9 0h1m3 0h2m4 0h1m3 0h1m1 0h1m10 0h1m2 0h1m11 0h3m4 0h1M8 62h1m2 0h1m4 0h1m7 0h3m2 0h1m10 0h3m8 0h1m2 0h2m5 0h1m2 0h1m1 0h1m3 0h2m2 0h1m7 0h1m21 0h1m8 0h2m2 0h1m7 0h1m4 0h1m3 0h1m1 0h1m1 0h1m1 0h2m2 0h1m4 0h1m6 0h2m3 0h1m3 0h1M2 63h1m6 0h1m12 0h1m3 0h2m3 0h1m3 0h1m2 0h1m2 0h1m5 0h1m3 0h1m2 0h1m3 0h2m2 0h1m13 0h1m4 0h1m1 0h2m3 0h1m1 0h1m2 0h1m8 0h1m1 0h1m6 0h1m2 0h1m3 0h1m3 0h2m6 0h1m9 0h3m9 0h1m4 0h1m3 0h2m1 0h1M3 64h1m3 0h1m9 0h3m6 0h1m10 0h1m5 0h1m2 0h1m1 0h1m5 0h1m4 0h1m3 0h1m1 0h2m6 0h1m5 0h1m2 0h1m3 0h1m3 0h1m1 0h1m2 0h1m1 0h1m1 0h1m1 0h1m6 0h1m8 0h2m11 0h1m12 0h1m1 0h1m2 0h1m4 0h1m8 0h3m3 0h1M1 65h2m1 0h1m1 0h1m2 0h1m16 0h1m1 0h1m1 0h1m1 0h1m5 0h1m7 0h1m1 0h1m4 0h1m3 0h1m1 0h1m1 0h1m14 0h1m3 0h2m2 0h1m5 0h1m4 0h1m3 0h1m1 0h1m1 0h1m5 0h4m3 0h1m3 0h1m1 0h1m20 0h1m6 0h1m5 0h1M3 66h3m6 0h1m2 0h1m9 0h1m1 0h1m3 0h1m1 0h1m4 0h1m3 0h1m8 0h2m1 0h1m2 0h1m1 0h1m11 0h1m4 0h1m2 0h1m3 0h1m1 0h1m3 0h1m4 0h1m7 0h1m1 0h1m5 0h1m6 0h1m20 0h2m1 0h1m3 0h1m5 0h3m8 0h4M0 67h1m2 0h1m1 0h1m3 0h1m7 0h1m2 0h2m13 0h1m5 0h1m2 0h1m3 0h2m1 0h2m7 0h1m2 0h2m4 0h1m9 0h1m11 0h1m1 0h1m1 0h1m9 0h1m2 0h1m2 0h1m3 0h1m4 0h1m1 0h1m9 0h1m1 0h2m1 0h2m4 0h2m3 0h1m8 0h1m1 0h1m2 0h2m1 0h1m1 0h1M0 68h1m4 0h1m7 0h1m3 0h2m9 0h1m7 0h1m1 0h1m1 0h1m2 0h1m3 0h2m11 0h1m2 0h2m7 0h1m2 0h1m1 0h1m7 0h1m20 0h1m3 0h5m2 0h2m1 0h1m2 0h1m6 0h1m2 0h2m2 0h1m5 0h1m10 0h1m4 0h1m1 0h1M14 69h1m8 0h3m3 0h1m2 0h3m9 0h1m1 0h1m1 0h1m2 0h2m10 0h1m4 0h1m1 0h1m4 0h1m1 0h1m3 0h2m2 0h1m1 0h1m14 0h1m2 0h1m2 0h1m1 0h2m2 0h1m3 0h1m10 0h1m9 0h1m3 0h1m3 0h3m1 0h1m6 0h2m2 0h1m5 0h1M1 70h1m2 0h1m1 0h1m18 0h1m10 0h1m3 0h2m5 0h1m3 0h1m5 0h1m1 0h1m3 0h2m4 0h1m15 0h2m4 0h1m10 0h1m2 0h1m2 0h1m21 0h2m2 0h2m4 0h1m5 0h1m1 0h1m1 0h5M3 71h1m2 0h1m2 0h1m2 0h1m2 0h3m11 0h1m3 0h2m1 0h1m2 0h2m13 0h1m3 0h1m1 0h1m18 0h1m2 0h1m3 0h1m16 0h1m3 0h1m5 0h1m4 0h1m6 0h1m1 0h2m1 0h1m1 0h1m1 0h1m7 0h2m2 0h2m8 0h1m2 0h1m1 0h4m1 0h1M1 72h1m5 0h1m4 0h1m2 0h2m10 0h1m8 0h3m7 0h1m6 0h1m2 0h1m23 0h1m4 0h1m2 0h1m2 0h1m6 0h1m4 0h1m11 0h1m6 0h1m3 0h1m1 0h1m5 0h1m4 0h2m3 0h1m5 0h1m17 0h1M3 73h1m3 0h1m6 0h1m7 0h1m4 0h2m2 0h1m14 0h1m1 0h1m4 0h2m2 0h1m1 0h3m1 0h1m1 0h1m2 0h3m9 0h1m2 0h2m13 0h1m2 0h1m3 0h1m4 0h1m4 0h1m6 0h2m2 0h1m1 0h3m10 0h2m3 0h1m2 0h1m7 0h1m6 0h1M4 74h1m6 0h2m2 0h1m1 0h1m9 0h2m18 0h2m2 0h1m5 0h1m2 0h1m2 0h2m16 0h1m6 0h1m7 0h2m19 0h1m1 0h1m5 0h1m15 0h1m3 0h1m5 0h1m1 0h1m13 0h1M1 75h1m14 0h1m3 0h1m1 0h1m2 0h1m2 0h1m2 0h1m10 0h1m11 0h1m7 0h1m3 0h1m1 0h1m2 0h1m4 0h1m7 0h1m1 0h1m15 0h1m6 0h1m6 0h1m8 0h1m5 0h3m2 0h1m9 0h1m3 0h1m2 0h2m13 0h1M3 76h2m11 0h1m1 0h1m4 0h1m4 0h1m7 0h2m1 0h3m2 0h1m1 0h1m1 0h1m1 0h1m1 0h3m4 0h1m1 0h1m19 0h1m3 0h2m3 0h1m4 0h2m4 0h1m1 0h2m5 0h1m4 0h2m7 0h1m5 0h1m7 0h2m1 0h1m6 0h3m3 0h3m4 0h1m1 0h1M0 77h1m3 0h1m1 0h1m1 0h1m4 0h1m5 0h1m6 0h2m4 0h2m3 0h1m3 0h1m3 0h1m4 0h2m9 0h1m23 0h1m12 0h1m5 0h1m1 0h2m6 0h2m4 0h1m6 0h1m3 0h3m15 0h1m1 0h1m11 0h1M4 78h1m2 0h1m25 0h1m17 0h2m1 0h1m1 0h1m3 0h1m11 0h1m1 0h1m1 0h1m7 0h1m10 0h1m16 0h2m5 0h1m2 0h2m3 0h1m1 0h1m3 0h2m4 0h1m3 0h2m2 0h1m5 0h2m4 0h1m5 0h1M2 79h2m2 0h1m9 0h1m7 0h2m4 0h1m11 0h1m1 0h1m2 0h3m1 0h1m6 0h1m2 0h1m1 0h1m2 0h1m1 0h2m3 0h2m13 0h1m7 0h1m3 0h2m1 0h1m1 0h1m2 0h1m4 0h2m9 0h3m1 0h1m2 0h1m2 0h1m1 0h1m1 0h1m4 0h1m3 0h1m2 0h1m1 0h2m1 0h1m3 0h1m1 0h1m3 0h1m1 0h1M1 80h2m2 0h1m5 0h1m12 0h1m4 0h2m4 0h2m3 0h1m2 0h1m1 0h1m1 0h2m2 0h3m4 0h1m3 0h2m4 0h1m4 0h1m3 0h1m4 0h1m4 0h1m6 0h3m20 0h4m5 0h1m13 0h1m1 0h2m3 0h1m2 0h1m4 0h1m3 0h1m3 0h1M1 81h2m1 0h1m8 0h1m5 0h1m1 0h1m3 0h1m6 0h1m2 0h1m3 0h1m1 0h1m1 0h1m1 0h1m5 0h1m6 0h2m1 0h1m2 0h2m2 0h1m6 0h2m11 0h1m5 0h1m1 0h5m7 0h1m6 0h1m6 0h1m14 0h1m2 0h2m10 0h1m7 0h1M4 82h1m15 0h2m2 0h1m4 0h1m4 0h1m1 0h1m6 0h1m2 0h1m10 0h1m1 0h1m4 0h1m11 0h1m2 0h1m12 0h2m2 0h1m5 0h1m20 0h1m11 0h1m8 0h1m2 0h1m11 0h1M0 83h1m1 0h1m1 0h1m9 0h1m2 0h1m4 0h1m10 0h1m5 0h6m3 0h4m2 0h1m21 0h1m10 0h2m1 0h1m4 0h1m1 0h1m4 0h1m3 0h2m2 0h1m3 0h3m4 0h1m5 0h1m1 0h1m7 0h1m3 0h2m4 0h1m7 0h2m3 0h1M7 84h1m5 0h1m3 0h1m2 0h1m2 0h1m6 0h1m26 0h1m6 0h1m53 0h1m35 0h1M2 85h1m4 0h1m4 0h1m3 0h2m2 0h1m2 0h1m3 0h3m6 0h1m1 0h1m2 0h1m2 0h1m1 0h1m1 0h1m1 0h1m5 0h1m1 0h1m10 0h1m7 0h1m9 0h1m1 0h2m3 0h1m1 0h3m3 0h1m11 0h2m5 0h1m11 0h1m2 0h2m3 0h1m1 0h1m5 0h1m3 0h1m3 0h1m4 0h3m3 0h1M2 86h1m1 0h1m9 0h1m8 0h1m3 0h1m2 0h2m25 0h1m1 0h1m2 0h1m9 0h1m1 0h1m1 0h1m2 0h1m1 0h3m6 0h1m2 0h1m1 0h1m10 0h1m2 0h1m4 0h1m8 0h1m3 0h1m1 0h1m4 0h1m6 0h2m10 0h1m2 0h1m6 0h1M0 87h1m8 0h1m1 0h1m2 0h1m2 0h1m1 0h1m10 0h2m5 0h1m8 0h1m1 0h1m2 0h1m16 0h1m1 0h1m2 0h1m18 0h1m8 0h1m2 0h2m5 0h2m1 0h2m20 0h1m1 0h2m1 0h1m2 0h1m2 0h1m3 0h2m1 0h1m5 0h1M7 88h2m2 0h1m35 0h1m1 0h1m10 0h1m4 0h1m3 0h1m14 0h1m9 0h1m7 0h1m2 0h1m4 0h1m2 0h1m2 0h1m1 0h1m8 0h1m1 0h2m6 0h1m1 0h2m1 0h1m4 0h1m4 0h2m2 0h2m8 0h1M0 89h3m2 0h1m2 0h1m11 0h1m2 0h1m5 0h1m1 0h2m2 0h1m3 0h1m1 0h1m6 0h1m3 0h1m3 0h2m4 0h1m1 0h1m1 0h1m8 0h1m5 0h1m3 0h2m17 0h1m8 0h1m1 0h1m2 0h1m2 0h1m2 0h1m9 0h1m11 0h3m5 0h1m1 0h1m1 0h1m3 0h1M3 90h1m4 0h1m1 0h1m1 0h1m2 0h1m2 0h2m4 0h2m1 0h1m4 0h2m4 0h2m1 0h2m4 0h1m3 0h3m6 0h1m4 0h1m4 0h2m2 0h1m8 0h1m5 0h1m4 0h1m1 0h1m10 0h1m1 0h4m3 0h2m2 0h1m2 0h1m1 0h1m9 0h1m10 0h1m1 0h1m2 0h3m8 0h2m4 0h1M3 91h3m8 0h2m3 0h2m1 0h1m1 0h1m15 0h2m3 0h2m1 0h2m3 0h1m5 0h1m4 0h2m2 0h1m1 0h1m3 0h3m20 0h1m1 0h1m4 0h1m2 0h2m5 0h1m4 0h2m8 0h1m4 0h1m8 0h1m3 0h1m6 0h1m4 0h1m2 0h1m2 0h1m1 0h1M4 92h1m1 0h1m12 0h3m6 0h2m8 0h1m7 0h1m2 0h1m2 0h1m5 0h1m6 0h1m2 0h1m13 0h1m7 0h1m6 0h1m4 0h1m8 0h1m3 0h1m1 0h1m11 0h1m2 0h1m2 0h1m8 0h1m18 0h1M13 93h1m6 0h1m2 0h1m8 0h1m4 0h1m4 0h2m2 0h2m9 0h1m4 0h2m2 0h4m4 0h1m9 0h1m7 0h1m2 0h1m9 0h1m9 0h1m5 0h1m13 0h1m7 0h1m4 0h1m7 0h1m3 0h1m2 0h1m1 0h1m1 0h1M4 94h1m1 0h1m3 0h1m3 0h2m12 0h1m4 0h1m6 0h1m1 0h1m1 0h2m1 0h1m1 0h1m13 0h1m5 0h1m19 0h1m9 0h2m1 0h2m2 0h1m5 0h1m2 0h2m1 0h1m7 0h1m1 0h1m6 0h1m4 0h1m9 0h2m2 0h1m4 0h1m4 0h1m1 0h1M6 95h1m7 0h2m1 0h1m1 0h1m6 0h1m4 0h1m15 0h1m1 0h1m3 0h1m1 0h1m7 0h2m3 0h1m29 0h1m7 0h1m9 0h1m2 0h2m6 0h2m3 0h2m1 0h2m2 0h3m18 0h1m2 0h1M1 96h1m1 0h1m1 0h2m4 0h1m7 0h1m4 0h1m2 0h1m1 0h1m2 0h2m5 0h1m5 0h4m2 0h1m7 0h1m8 0h3m6 0h1m3 0h3m2 0h1m1 0h1m10 0h1m5 0h1m3 0h1m10 0h1m1 0h1m6 0h1m8 0h1m7 0h1m9 0h1m3 0h1m1 0h1m3 0h1m1 0h1M2 97h1m6 0h1m1 0h1m1 0h1m3 0h1m3 0h1m1 0h1m3 0h1m6 0h1m16 0h1m4 0h1m14 0h3m14 0h1m9 0h1m5 0h2m2 0h1m2 0h1m5 0h1m10 0h2m2 0h1m2 0h1m8 0h1m2 0h1m7 0h1m4 0h1m2 0h1m3 0h1M2 98h1m1 0h1m1 0h1m6 0h1m1 0h1m9 0h2m5 0h2m6 0h1m2 0h1m3 0h1m10 0h1m4 0h1m7 0h1m8 0h1m4 0h1m7 0h1m3 0h1m5 0h2m2 0h1m10 0h1m7 0h1m19 0h1m2 0h3m3 0h2m2 0h1m1 0h1M13 99h1m2 0h2m10 0h1m12 0h2m9 0h1m5 0h1m5 0h1m4 0h2m10 0h1m3 0h1m1 0h1m1 0h2m5 0h1m1 0h1m3 0h1m3 0h1m2 0h2m4 0h3m3 0h2m13 0h1m4 0h2m5 0h1m6 0h1m7 0h3M3 100h1m2 0h1m12 0h3m8 0h1m1 0h1m1 0h1m10 0h1m11 0h1m19 0h1m14 0h1m4 0h2m3 0h2m4 0h1m2 0h1m3 0h1m3 0h1m2 0h1m13 0h1m2 0h1m1 0h2m10 0h2m5 0h1M0 101h2m2 0h1m1 0h1m7 0h1m6 0h1m1 0h1m11 0h2m3 0h2m1 0h1m1 0h1m5 0h1m2 0h1m1 0h1m8 0h1m3 0h2m7 0h1m3 0h3m9 0h1m5 0h1m3 0h1m7 0h1m4 0h1m2 0h1m2 0h1m10 0h1m6 0h2m3 0h3m9 0h1m4 0h1m4 0h1M13 102h1m7 0h2m7 0h1m2 0h1m1 0h1m1 0h1m3 0h1m4 0h1m9 0h1m2 0h1m3 0h2m1 0h1m2 0h2m5 0h1m5 0h1m2 0h1m10 0h2m6 0h1m1 0h1m2 0h1m5 0h3m3 0h1m8 0h1m1 0h1m9 0h3m4 0h1m4 0h2m3 0h1m5 0h1M13 103h1m3 0h2m4 0h1m10 0h1m2 0h1m5 0h1m1 0h1m7 0h1m10 0h1m15 0h1m3 0h1m4 0h2m4 0h1m2 0h1m10 0h1m3 0h1m5 0h1m5 0h2m9 0h1m3 0h1m1 0h3m7 0h1m3 0h2m6 0h1m3 0h1M4 104h1m13 0h1m1 0h1m1 0h2m1 0h1m4 0h2m9 0h2m7 0h1m2 0h2m5 0h2m9 0h2m7 0h2m3 0h2m8 0h1m9 0h1m3 0h1m3 0h1m8 0h4m6 0h2m1 0h1m2 0h1m2 0h1m4 0h1m1 0h1m2 0h2m1 0h2m1 0h1m2 0h1m2 0h2M0 105h1m1 0h1m2 0h1m16 0h1m4 0h1m4 0h1m2 0h1m3 0h3m5 0h1m6 0h1m10 0h2m7 0h1m9 0h2m16 0h1m6 0h2m3 0h2m2 0h1m4 0h1m2 0h1m1 0h1m9 0h1m3 0h1m9 0h1m2 0h1m1 0h1m5 0h1M0 106h1m3 0h2m5 0h2m5 0h1m8 0h1m1 0h1m2 0h1m8 0h1m10 0h1m1 0h1m9 0h1m5 0h1m3 0h1m5 0h1m3 0h2m9 0h3m4 0h1m7 0h1m2 0h2m1 0h1m4 0h1m5 0h1m1 0h2m6 0h1m4 0h1m11 0h1M0 107h1m2 0h1m2 0h1m19 0h2m7 0h1m4 0h1m18 0h1m1 0h1m4 0h1m5 0h2m2 0h3m4 0h1m3 0h2m5 0h1m3 0h1m4 0h1m1 0h1m2 0h1m5 0h1m1 0h1m7 0h2m6 0h1m2 0h1m1 0h2m2 0h1m3 0h2m1 0h1m4 0h1m3 0h1m1 0h1m1 0h1m6 0h1M0 108h1m15 0h1m2 0h1m8 0h1m1 0h1m18 0h1m4 0h1m1 0h1m18 0h1m2 0h1m2 0h1m6 0h1m16 0h1m5 0h3m12 0h1m3 0h1m2 0h2m8 0h1m13 0h1m1 0h1M0 109h1m3 0h1m6 0h1m5 0h2m6 0h2m1 0h1m10 0h1m7 0h1m1 0h1m3 0h1m2 0h1m9 0h1m19 0h1m1 0h1m1 0h1m1 0h1m1 0h1m12 0h1m4 0h1m9 0h2m1 0h1m2 0h1m7 0h1m5 0h1m4 0h2m1 0h1m3 0h1m1 0h1M0 110h2m1 0h1m2 0h1m7 0h1m2 0h1m6 0h1m2 0h1m2 0h1m2 0h1m4 0h1m2 0h1m2 0h1m2 0h1m1 0h1m7 0h1m1 0h1m5 0h2m4 0h3m4 0h3m2 0h2m3 0h2m1 0h1m3 0h1m5 0h1m6 0h1m7 0h2m4 0h1m3 0h1m9 0h2m2 0h1m4 0h1m2 0h1m15 0h1m1 0h1m1 0h1M11 111h1m16 0h2m6 0h1m2 0h1m2 0h2m2 0h1m4 0h1m3 0h1m4 0h1m12 0h1m6 0h1m12 0h1m22 0h4m1 0h2m1 0h2m1 0h1m3 0h2m3 0h1m24 0h1m6 0h1M0 112h1m2 0h1m10 0h2m7 0h1m4 0h2m4 0h1m8 0h1m3 0h1m2 0h1m1 0h2m3 0h1m2 0h1m9 0h2m2 0h1m8 0h1m4 0h1m1 0h1m1 0h2m1 0h1m3 0h1m9 0h1m3 0h2m3 0h1m4 0h3m13 0h1m4 0h2m4 0h2m2 0h1m4 0h1m2 0h1m5 0h1M0 113h1m6 0h1m8 0h1m1 0h1m1 0h1m4 0h1m5 0h1m7 0h1m7 0h3m1 0h1m4 0h1m3 0h1m9 0h1m3 0h2m1 0h2m2 0h1m1 0h1m12 0h2m6 0h1m1 0h2m6 0h2m1 0h1m12 0h1m3 0h1m6 0h1m1 0h1m2 0h2m5 0h1m9 0h1m1 0h1M3 114h3m9 0h1m8 0h1m8 0h1m7 0h1m4 0h1m16 0h1m4 0h2m1 0h2m1 0h1m11 0h2m4 0h1m2 0h1m11 0h1m10 0h1m3 0h2m6 0h1m2 0h1m8 0h1m11 0h1m1 0h1m3 0h1m3 0h1m1 0h1m1 0h1M2 115h1m6 0h1m3 0h1m1 0h1m4 0h1m2 0h1m4 0h1m4 0h1m1 0h4m1 0h1m2 0h1m6 0h1m7 0h2m4 0h1m2 0h3m4 0h1m1 0h1m7 0h1m1 0h1m3 0h1m11 0h1m1 0h2m6 0h1m8 0h2m4 0h1m6 0h1m1 0h1m7 0h1m3 0h1m7 0h1M2 116h1m6 0h1m1 0h1m2 0h2m20 0h3m6 0h1m5 0h1m3 0h1m5 0h1m7 0h1m2 0h2m7 0h2m1 0h2m1 0h1m1 0h2m1 0h1m5 0h1m3 0h1m6 0h1m3 0h1m3 0h1m1 0h2m4 0h1m9 0h1m1 0h1m7 0h1m16 0h1m2 0h1m1 0h1M0 117h2m4 0h1m2 0h1m1 0h1m2 0h1m4 0h1m1 0h1m2 0h2m6 0h1m25 0h2m1 0h1m1 0h2m3 0h1m1 0h1m3 0h1m1 0h1m1 0h1m6 0h1m2 0h1m2 0h1m3 0h1m2 0h2m1 0h1m2 0h1m4 0h1m1 0h1m4 0h1m2 0h1m9 0h1m8 0h1m2 0h1m2 0h1m13 0h1m4 0h3M4 118h1m14 0h1m5 0h2m7 0h1m1 0h1m1 0h1m2 0h2m5 0h1m3 0h1m1 0h1m7 0h2m8 0h1m6 0h1m1 0h1m3 0h1m1 0h2m15 0h3m2 0h1m3 0h1m3 0h1m1 0h2m2 0h1m6 0h1m1 0h1m1 0h1m13 0h1m2 0h1m2 0h1m2 0h2m6 0h1m1 0h1M0 119h1m2 0h1m4 0h1m3 0h1m6 0h1m2 0h2m2 0h1m5 0h1m3 0h1m1 0h1m23 0h1m1 0h1m6 0h1m1 0h1m6 0h1m5 0h2m1 0h1m3 0h1m1 0h1m2 0h1m10 0h1m7 0h1m3 0h1m2 0h1m3 0h2m1 0h1m10 0h1m1 0h2m1 0h1m6 0h2M17 120h1m5 0h1m12 0h1m26 0h1m4 0h1m47 0h1m6 0h1M0 121h1m3 0h1m4 0h1m6 0h1m1 0h1m2 0h1m3 0h1m1 0h1m5 0h1m4 0h1m1 0h1m11 0h1m8 0h2m2 0h3m8 0h1m1 0h1m1 0h2m2 0h1m1 0h1m2 0h1m2 0h1m8 0h1m3 0h1m10 0h3m1 0h1m6 0h1m2 0h1m3 0h1m3 0h1m11 0h2m2 0h2m1 0h1M0 122h3m10 0h1m1 0h2m1 0h1m6 0h1m4 0h1m3 0h1m1 0h1m1 0h1m5 0h1m1 0h1m3 0h1m15 0h1m10 0h1m6 0h2m6 0h1m3 0h2m2 0h2m2 0h2m2 0h1m3 0h1m1 0h1m3 0h1m2 0h1m1 0h2m7 0h1m2 0h1m6 0h1m3 0h1m8 0h1m1 0h1M0 123h4m3 0h1m8 0h1m10 0h3m5 0h1m5 0h1m3 0h2m9 0h2m1 0h2m5 0h1m3 0h2m2 0h1m4 0h2m1 0h1m3 0h1m3 0h1m1 0h1m2 0h1m1 0h2m8 0h2m5 0h1m3 0h1m3 0h1m7 0h1m7 0h1m3 0h1m6 0h1m5 0h1m3 0h2M3 124h1m12 0h2m2 0h1m5 0h1m7 0h1m3 0h1m4 0h1m3 0h1m8 0h2m3 0h1m11 0h1m8 0h1m2 0h1m3 0h2m4 0h1m16 0h1m2 0h2m2 0h1m10 0h1m1 0h1m4 0h1m5 0h1m8 0h2m4 0h2m4 0h1M5 125h1m5 0h1m6 0h1m1 0h1m2 0h1m1 0h1m4 0h1m4 0h1m5 0h1m4 0h1m12 0h1m12 0h1m20 0h1m3 0h1m3 0h1m2 0h1m13 0h1m1 0h2m2 0h1m5 0h1m1 0h2m34 0h1M1 126h1m15 0h2m1 0h1m3 0h1m1 0h2m1 0h2m3 0h1m5 0h1m7 0h1m5 0h1m5 0h1m5 0h1m2 0h1m1 0h1m21 0h1m12 0h1m1 0h1m7 0h1m1 0h1m1 0h1m1 0h1m6 0h1m6 0h1m2 0h1m6 0h1m9 0h1m2 0h1m2 0h1m1 0h1m2 0h1M19 127h1m7 0h1m2 0h1m2 0h2m28 0h1m1 0h1m9 0h2m3 0h2m4 0h1m1 0h1m5 0h1m2 0h1m28 0h1m10 0h2m3 0h1m4 0h1m4 0h1m3 0h1m2 0h1m7 0h1M6 128h1m26 0h1m7 0h1m8 0h3m1 0h1m3 0h3m3 0h2m4 0h1m4 0h1m1 0h1m4 0h1m2 0h1m1 0h1m8 0h1m1 0h1m1 0h1m7 0h1m2 0h1m3 0h1m7 0h1m3 0h1m2 0h1m1 0h1m4 0h1m5 0h1m5 0h1m3 0h1m5 0h1m4 0h1m3 0h1M0 129h1m7 0h2m1 0h1m1 0h2m2 0h1m1 0h3m2 0h1m1 0h1m1 0h2m6 0h1m13 0h2m5 0h2m1 0h1m11 0h1m4 0h1m1 0h1m1 0h1m2 0h2m10 0h2m5 0h1m7 0h1m5 0h1m3 0h2m3 0h1m6 0h1m1 0h1m1 0h2m2 0h2m6 0h2m8 0h1m1 0h1m1 0h1M0 130h2m1 0h1m7 0h1m1 0h1m1 0h6m3 0h1m14 0h1m1 0h1m9 0h2m7 0h1m18 0h1m6 0h1m3 0h1m3 0h1m6 0h1m9 0h1m3 0h2m17 0h1m6 0h1m2 0h1m1 0h2m4 0h2m5 0h1m4 0h1M3 131h1m9 0h1m1 0h1m1 0h3m7 0h1m5 0h1m7 0h1m3 0h1m13 0h1m12 0h2m5 0h1m1 0h2m2 0h2m3 0h1m3 0h1m11 0h1m2 0h1m1 0h1m3 0h1m4 0h1m3 0h1m7 0h1m6 0h1m2 0h1m7 0h1m3 0h1m3 0h1m1 0h1m7 0h1M0 132h2m1 0h1m2 0h1m11 0h2m7 0h1m9 0h1m3 0h1m1 0h1m2 0h3m1 0h3m1 0h1m4 0h1m2 0h1m6 0h2m3 0h1m3 0h1m5 0h2m5 0h1m4 0h1m1 0h1m5 0h1m14 0h1m7 0h2m6 0h1m10 0h1m1 0h1m10 0h1m7 0h1M5 133h1m5 0h1m3 0h1m2 0h1m1 0h1m3 0h1m9 0h1m4 0h1m6 0h1m1 0h1m16 0h1m11 0h1m5 0h1m2 0h1m5 0h1m3 0h1m2 0h1m3 0h1m2 0h1m3 0h1m13 0h1m12 0h1m3 0h1m1 0h2m3 0h1m6 0h2m4 0h1m1 0h1M3 134h1m25 0h1m15 0h1m4 0h2m8 0h1m18 0h1m23 0h1m37 0h1m7 0h1m13 0h1m1 0h1M2 135h1m5 0h1m6 0h1m2 0h1m1 0h1m12 0h1m4 0h1m3 0h1m9 0h2m5 0h1m1 0h1m2 0h2m4 0h1m1 0h1m2 0h1m4 0h1m4 0h1m3 0h1m3 0h1m8 0h1m2 0h1m6 0h3m3 0h1m1 0h1m1 0h1m11 0h1m10 0h1m1 0h1m4 0h1m1 0h1m1 0h1m4 0h2m2 0h1m1 0h1M0 136h2m2 0h1m5 0h1m3 0h1m2 0h1m5 0h2m3 0h1m1 0h1m4 0h1m2 0h1m2 0h1m2 0h1m6 0h1m7 0h2m1 0h2m4 0h1m4 0h1m4 0h2m7 0h1m1 0h1m4 0h2m3 0h1m1 0h1m2 0h2m4 0h3m10 0h1m3 0h1m4 0h1m7 0h1m2 0h2m1 0h3m1 0h1m1 0h1m3 0h2M5 137h2m12 0h2m1 0h1m2 0h1m19 0h1m1 0h1m1 0h2m9 0h1m7 0h3m6 0h1m15 0h1m1 0h1m1 0h2m4 0h2m8 0h1m3 0h1m1 0h1m12 0h1m1 0h3m1 0h1m1 0h1m2 0h3m2 0h1m2 0h1m3 0h1m3 0h1m3 0h1m2 0h2M3 138h3m1 0h1m9 0h1m2 0h1m1 0h3m17 0h1m3 0h1m7 0h1m1 0h1m1 0h2m3 0h2m1 0h1m10 0h1m3 0h1m2 0h2m1 0h2m3 0h1m10 0h1m4 0h1m5 0h1m1 0h2m1 0h2m6 0h1m4 0h1m4 0h1m3 0h2m2 0h1m4 0h1m5 0h1m8 0h1M3 139h3m12 0h1m4 0h1m2 0h1m18 0h1m2 0h1m15 0h1m3 0h1m9 0h2m1 0h1m2 0h1m1 0h3m7 0h1m2 0h1m5 0h2m5 0h1m1 0h1m21 0h1m6 0h1m2 0h2m2 0h3m11 0h1m1 0h1M4 140h1m24 0h1m4 0h1m1 0h1m1 0h1m12 0h2m3 0h1m3 0h2m3 0h1m2 0h1m1 0h1m5 0h1m1 0h1m10 0h2m1 0h1m9 0h1m49 0h1m10 0h1m4 0h1M1 141h1m2 0h3m4 0h1m8 0h1m4 0h1m5 0h1m4 0h1m4 0h1m8 0h1m5 0h1m11 0h1m2 0h1m13 0h1m4 0h1m3 0h2m3 0h1m1 0h2m3 0h1m8 0h1m1 0h2m4 0h1m2 0h1m9 0h1m1 0h1m3 0h1m1 0h1m5 0h1m3 0h1m1 0h1m6 0h1M16 142h1m8 0h1m4 0h1m7 0h2m1 0h3m1 0h1m8 0h1m2 0h1m3 0h2m1 0h1m1 0h1m1 0h1m3 0h1m1 0h1m3 0h1m1 0h1m6 0h1m3 0h1m16 0h1m2 0h1m2 0h1m2 0h2m2 0h1m16 0h1m8 0h1m5 0h1m5 0h1m1 0h2m3 0h1M6 143h4m5 0h1m24 0h1m12 0h1m9 0h1m10 0h1m15 0h1m5 0h1m1 0h1m10 0h1m1 0h1m6 0h1m3 0h2m6 0h1m5 0h3m3 0h1m1 0h1m6 0h1m1 0h1m6 0h1M1 144h1m2 0h1m3 0h2m2 0h4m20 0h1m2 0h2m7 0h1m7 0h3m2 0h1m1 0h1m1 0h1m2 0h1m4 0h1m5 0h1m3 0h2m4 0h1m1 0h1m3 0h1m3 0h1m1 0h1m3 0h1m3 0h1m5 0h1m2 0h1m5 0h1m3 0h1m11 0h1m6 0h1m9 0h1M4 145h1m3 0h1m13 0h1m21 0h1m2 0h1m3 0h1m6 0h1m1 0h1m1 0h1m2 0h1m5 0h1m1 0h1m1 0h1m4 0h5m21 0h1m11 0h1m2 0h1m1 0h1m4 0h1m3 0h1m5 0h2m10 0h1m3 0h1m10 0h1M9 146h1m8 0h1m1 0h1m5 0h1m6 0h1m6 0h2m5 0h1m6 0h1m6 0h2m1 0h1m18 0h1m13 0h2m2 0h1m3 0h2m16 0h1m8 0h1m7 0h1m1 0h1m4 0h1m1 0h1m11 0h1m2 0h2M4 147h1m1 0h1m2 0h1m6 0h1m2 0h1m3 0h1m3 0h1m2 0h1m1 0h1m6 0h1m11 0h1m1 0h2m5 0h1m8 0h1m4 0h2m3 0h1m14 0h1m2 0h1m15 0h2m2 0h1m3 0h2m9 0h1m31 0h1M0 148h2m5 0h1m5 0h1m5 0h1m2 0h2m2 0h1m3 0h2m6 0h1m9 0h1m2 0h1m5 0h1m3 0h1m5 0h1m9 0h1m1 0h1m1 0h1m3 0h1m6 0h2m1 0h2m6 0h1m11 0h2m4 0h1m1 0h1m6 0h1m3 0h1m9 0h2m4 0h1m2 0h1m1 0h1m1 0h1m10 0h1M0 149h1m1 0h1m6 0h2m9 0h1m2 0h1m6 0h1m1 0h1m14 0h1m12 0h1m3 0h1m11 0h1m5 0h1m1 0h1m10 0h2m5 0h1m1 0h1m2 0h2m4 0h1m9 0h1m4 0h1m5 0h1m9 0h2m1 0h1m5 0h1m3 0h1m8 0h1M2 150h3m5 0h2m24 0h1m1 0h2m4 0h1m6 0h2m13 0h1m5 0h1m11 0h1m2 0h1m1 0h2m18 0h1m5 0h1m1 0h1m2 0h2m6 0h1m1 0h1m2 0h1m2 0h1m5 0h1m9 0h1m1 0h1m1 0h1M4 151h1m1 0h1m2 0h1m1 0h2m6 0h2m5 0h1m9 0h1m2 0h1m7 0h1m6 0h1m15 0h1m1 0h1m2 0h2m6 0h1m4 0h2m3 0h1m2 0h2m6 0h2m7 0h2m8 0h3m7 0h1m1 0h1m2 0h1m8 0h1m5 0h1m5 0h1m3 0h1m4 0h1M0 152h1m1 0h2m4 0h1m4 0h2m3 0h1m7 0h2m1 0h2m4 0h1m3 0h3m1 0h1m1 0h1m8 0h1m1 0h1m1 0h1m3 0h1m1 0h3m2 0h1m5 0h1m1 0h1m3 0h1m2 0h1m2 0h3m9 0h1m7 0h1m3 0h1m10 0h1m9 0h1m14 0h2m1 0h2m3 0h1m11 0h1M15 153h1m3 0h1m4 0h1m1 0h1m3 0h1m9 0h1m1 0h1m2 0h1m3 0h3m2 0h1m1 0h1m2 0h1m5 0h1m13 0h1m1 0h1m10 0h1m6 0h1m4 0h2m4 0h1m4 0h1m8 0h2m2 0h1m8 0h1m1 0h1m4 0h1m14 0h1m4 0h1m3 0h1M2 154h1m5 0h1m2 0h2m7 0h1m3 0h1m3 0h1m10 0h1m3 0h1m1 0h1m2 0h1m8 0h1m5 0h1m6 0h1m6 0h1m5 0h2m10 0h1m2 0h1m12 0h1m2 0h1m1 0h1m6 0h1m6 0h1m5 0h1m1 0h1m4 0h1m5 0h1m5 0h1m6 0h1m3 0h1m1 0h1M6 155h2m8 0h1m1 0h2m9 0h1m6 0h1m6 0h1m3 0h1m10 0h1m1 0h1m1 0h1m4 0h1m2 0h1m3 0h1m2 0h1m1 0h1m11 0h2m1 0h1m1 0h1m4 0h1m1 0h2m2 0h1m9 0h2m1 0h2m1 0h1m5 0h1m5 0h2m2 0h1m1 0h1m8 0h1m8 0h1m2 0h3m2 0h1M7 156h1m1 0h1m5 0h1m3 0h1m8 0h1m10 0h1m2 0h1m6 0h1m1 0h1m5 0h2m5 0h1m8 0h1m2 0h1m1 0h1m6 0h1m15 0h1m2 0h1m6 0h1m4 0h1m8 0h1m6 0h1m2 0h1m9 0h1m1 0h1m13 0h2M17 157h2m1 0h1m5 0h1m8 0h2m1 0h2m6 0h1m12 0h1m4 0h1m1 0h1m8 0h1m6 0h1m5 0h1m1 0h2m2 0h2m2 0h1m2 0h1m1 0h1m6 0h1m2 0h3m1 0h2m2 0h1m3 0h1m4 0h3m9 0h1m6 0h1m10 0h1m5 0h1M1 158h1m6 0h1m11 0h1m6 0h3m10 0h1m4 0h2m3 0h1m1 0h1m8 0h2m1 0h1m6 0h1m2 0h3m4 0h1m1 0h1m9 0h1m8 0h1m13 0h1m2 0h1m1 0h1m7 0h1m2 0h1m5 0h1m1 0h2m10 0h1m8 0h1m5 0h1M4 159h1m8 0h1m13 0h1m2 0h1m5 0h1m5 0h1m2 0h1m11 0h1m2 0h1m11 0h1m3 0h1m1 0h1m2 0h2m3 0h1m10 0h1m2 0h2m4 0h1m4 0h2m5 0h1m16 0h1m1 0h1m5 0h1m4 0h1m6 0h1M0 160h2m1 0h1m16 0h1m1 0h1m7 0h1m3 0h3m1 0h1m6 0h1m9 0h1m14 0h2m1 0h2m1 0h1m3 0h1m6 0h1m1 0h1m3 0h3m3 0h1m6 0h1m2 0h1m4 0h1m2 0h1m9 0h1m20 0h1m5 0h2m1 0h1m6 0h1m3 0h1M13 161h1m3 0h2m1 0h1m2 0h1m1 0h1m6 0h1m7 0h2m1 0h1m13 0h1m2 0h1m5 0h2m5 0h1m5 0h4m32 0h1m4 0h1m2 0h1m6 0h1m6 0h2m5 0h1m1 0h2m9 0h1m6 0h1M5 162h1m2 0h2m2 0h2m1 0h2m5 0h1m5 0h2m5 0h1m1 0h1m1 0h1m1 0h1m19 0h1m9 0h1m2 0h1m4 0h1m4 0h1m1 0h2m6 0h1m13 0h1m7 0h1m4 0h1m5 0h1m6 0h1m2 0h2m1 0h1m2 0h1m3 0h1m5 0h1m5 0h1m1 0h1m3 0h2m1 0h1M6 163h1m1 0h1m4 0h1m1 0h1m2 0h1m6 0h2m3 0h1m10 0h1m3 0h1m5 0h1m9 0h2m1 0h1m14 0h1m1 0h1m11 0h1m6 0h3m4 0h2m3 0h1m10 0h1m5 0h1m2 0h1m3 0h5m2 0h1m2 0h1m1 0h1m2 0h1m1 0h2m4 0h1m5 0h1M11 164h1m1 0h1m9 0h1m9 0h1m4 0h1m4 0h1m3 0h2m2 0h1m14 0h1m1 0h3m3 0h4m8 0h1m1 0h1m6 0h1m6 0h2m2 0h1m1 0h1m10 0h1m7 0h2m5 0h1m7 0h1m6 0h2m1 0h1m2 0h1m1 0h1m2 0h1M2 165h1m10 0h1m10 0h2m4 0h3m4 0h4m4 0h1m1 0h1m7 0h1m2 0h1m3 0h1m9 0h1m2 0h1m4 0h1m7 0h1m2 0h2m1 0h1m3 0h1m5 0h1m10 0h1m2 0h1m1 0h1m1 0h1m4 0h1m2 0h1m1 0h1m2 0h1m5 0h1m8 0h2m9 0h1m4 0h2M4 166h1m7 0h2m3 0h2m1 0h1m1 0h1m23 0h1m1 0h1m4 0h1m9 0h2m3 0h1m13 0h1m1 0h1m5 0h1m13 0h1m2 0h1m4 0h1m6 0h1m3 0h1m1 0h1m8 0h1m9 0h1m5 0h3m2 0h1M1 167h1m1 0h1m9 0h1m13 0h1m1 0h1m8 0h1m2 0h1m4 0h1m1 0h1m1 0h2m5 0h2m1 0h2m7 0h1m6 0h1m4 0h1m2 0h2m1 0h1m4 0h1m9 0h1m3 0h2m8 0h1m2 0h2m2 0h1m5 0h2m13 0h1m3 0h1m1 0h3m2 0h3m1 0h3m1 0h1m4 0h1M1 168h1m14 0h1m16 0h1m2 0h3m6 0h1m3 0h1m2 0h1m1 0h2m1 0h1m1 0h1m5 0h2m1 0h4m2 0h1m4 0h2m3 0h1m4 0h1m2 0h1m7 0h2m2 0h1m6 0h1m6 0h1m19 0h1m5 0h2m1 0h3m11 0h2m1 0h1M26 169h1m9 0h1m50 0h1m24 0h1m9 0h1m31 0h1M23 170h1m4 0h1m52 0h1m16 0h1m7 0h1M36 171h1m18 0h1m9 0h1m2 0h1m15 0h1m31 0h1m19 0h1m3 0h1M1 172h1m16 0h1m4 0h1m9 0h1m10 0h1m41 0h1m3 0h1m6 0h1m28 0h1m27 0h1m5 0h1M2 173h1m22 0h1m51 0h1m35 0h1m40 0h1M89 174h1m7 0h1m8 0h2m1 0h1m28 0h1M6 175h1m7 0h1m7 0h1m66 0h1m38 0h1M20 176h1m54 0h1m26 0h1m37 0h1m12 0h1m9 0h1M82 177h1m52 0h1m10 0h1M28 178h1M59 181h1m103 0h1M10 182h1m25 0h1m12 0h1m35 0h1M98 183h1m28 0h1m12 0h1M0 184h1"/>
<path stroke="#000000" d="M0 0h1M1 1h1M2 2h1M3 3h1M4 4h1M5 5h1M6 6h1M7 7h1M8 8h1M9 9h1M10 10h1M11 11h1M12 12h1M13 13h1M14 14h1M15 15h1M16 16h1M17 17h1M18 18h1M19 19h1M20 20h1M21 21h1M22 22h1M23 23h1M24 24h1M25 25h1M26 26h1M27 27h1M28 28h1M29 29h1M30 30h1M31 31h1M32 32h1M33 33h1M34 34h1M35 35h1M36 36h1M37 37h1M38 38h1M39 39h1M40 40h1M41 41h1M42 42h1M43 43h1M44 44h1M45 45h1M46 46h1M47 47h1M48 48h1M49 49h1M50 50h1M51 51h1M52 52h1M53 53h1M54 54h1M55 55h1M56 56h1M57 57h1M58 58h1M59 59h1M60 60h1M61 61h1M62 62h1M63 63h1M64 64h1M65 65h1M66 66h1M67 67h1M68 68h1M69 69h1M70 70h1M71 71h1M72 72h1M73 73h1M74 74h1M75 75h1M76 76h1M77 77h1M78 78h1M79 79h1M80 80h1M81 81h1M82 82h1M83 83h1M84 84h1M85 85h1M86 86h1M87 87h1M88 88h1M89 89h1M90 90h1M91 91h1M92 92h1M93 93h1M94 94h1M95 95h1M96 96h1M97 97h1M98 98h1M99 99h1M100 100h1M101 101h1M102 102h1M103 103h1M104 104h1M105 105h1M106 106h1M107 107h1M108 108h1M109 109h1M110 110h1M111 111h1M112 112h1M113 113h1M114 114h1M115 115h1M116 116h1M117 117h1M118 118h1M119 119h1M120 120h1M121 121h1M122 122h1M123 123h1M124 124h1M125 125h1M126 126h1M127 127h1M128 128h1M129 129h1M130 130h1M131 131h1M132 132h1M133 133h1M134 134h1M135 135h1M136 136h1M137 137h1M138 138h1M139 139h1M140 140h1M141 141h1M142 142h1M143 143h1M144 144h1M145 145h1M146 146h1M147 147h1M148 148h1M149 149h1M150 150h1M151 151h1M152 152h1M153 153h1M154 154h1M155 155h1M156 156h1M157 157h1M158 158h1M159 159h1M160 160h1M161 161h1M162 162h1M163 163h1M164 164h1M165 165h1M166 166h1M167 167h1M168 168h1"/>
</g>
<rect x="88.8" y="1164.2" width="716.7" height="782.8" fill="none" stroke="#000" stroke-width="1.5"/>
<path d="M90.37 1162.2L805.5 1162.2" stroke="#000" stroke-width="4" stroke-dasharray="1.1 3.141" fill="none"/>
<path d="M90.37 1949L805.5 1949" stroke="#000" stroke-width="4" stroke-dasharray="1.1 3.141" fill="none"/>
<path d="M86.8 1165.77L86.8 1947" stroke="#000" stroke-width="4" stroke-dasharray="1.1 3.131" fill="none"/>
<path d="M807.5 1165.77L807.5 1947" stroke="#000" stroke-width="4" stroke-dasharray="1.1 3.131" fill="none"/>
<g font-size="5" text-anchor="end" transform="translate(0 0) scale(0.97 1)" stroke="#000" stroke-width="0.06">
<text x="82.3" y="1168.1">ADAL</text>
<text x="82.3" y="1172.3">ADAR</text>
<text x="82.3" y="1176.6">ADEL</text>
<text x="82.3" y="1180.8">ADER</text>
<text x="82.3" y="1185">ADFL</text>
<text x="82.3" y="1189.3">ADLL</text>
<text x="82.3" y="1193.5">ADLR</text>
<text x="82.3" y="1197.7">AFDL</text>
<text x="82.3" y="1202">AFDR</text>
<text x="82.3" y="1206.2">AIAL</text>
<text x="82.3" y="1210.4">AIAR</text>
<text x="82.3" y="1214.7">AIBL</text>
<text x="82.3" y="1218.9">AIBR</text>
<text x="82.3" y="1223.1">AIML</text>
<text x="82.3" y="1227.4">AIMR</text>
<text x="82.3" y="1231.6">AINL</text>
<text x="82.3" y="1235.8">AINR</text>
<text x="82.3" y="1240">AIYL</text>
<text x="82.3" y="1244.3">AIYR</text>
<text x="82.3" y="1248.5">AIZL</text>
<text x="82.3" y="1252.7">AIZR</text>
<text x="82.3" y="1257">ALA</text>
<text x="82.3" y="1261.2">AQR</text>
<text x="82.3" y="1265.4">ASEL</text>
<text x="82.3" y="1269.7">ASER</text>
<text x="82.3" y="1273.9">ASGL</text>
<text x="82.3" y="1278.1">ASGR</text>
<text x="82.3" y="1282.4">ASHL</text>
<text x="82.3" y="1286.6">ASHR</text>
<text x="82.3" y="1290.8">ASIL</text>
<text x="82.3" y="1295.1">ASIR</text>
<text x="82.3" y="1299.3">ASJL</text>
<text x="82.3" y="1303.5">ASJR</text>
<text x="82.3" y="1307.8">ASKL</text>
<text x="82.3" y="1312">ASKR</text>
<text x="82.3" y="1316.2">AUAL</text>
<text x="82.3" y="1320.4">AUAR</text>
<text x="82.3" y="1324.7">AVAL</text>
<text x="82.3" y="1328.9">AVAR</text>
<text x="82.3" y="1333.1">AVBL</text>
<text x="82.3" y="1337.4">AVBR</text>
<text x="82.3" y="1341.6">AVDL</text>
<text x="82.3" y="1345.8">AVDR</text>
<text x="82.3" y="1350.1">AVEL</text>
<text x="82.3" y="1354.3">AVER</text>
<text x="82.3" y="1358.5">AVFL</text>
<text x="82.3" y="1362.8">AVFR</text>
<text x="82.3" y="1367">AVG</text>
<text x="82.3" y="1371.2">AVHL</text>
<text x="82.3" y="1375.5">AVHR</text>
<text x="82.3" y="1379.7">AVJL</text>
<text x="82.3" y="1383.9">AVJR</text>
<text x="82.3" y="1388.1">AVKL</text>
<text x="82.3" y="1392.4">AVKR</text>
<text x="82.3" y="1396.6">AVL</text>
<text x="82.3" y="1400.8">AWAL</text>
<text x="82.3" y="1405.1">AWAR</text>
<text x="82.3" y="1409.3">AWBL</text>
<text x="82.3" y="1413.5">AWBR</text>
<text x="82.3" y="1417.8">AWCL</text>
<text x="82.3" y="1422">AWCR</text>
<text x="82.3" y="1426.2">BAGL</text>
<text x="82.3" y="1430.5">BAGR</text>
<text x="82.3" y="1434.7">CEPDL</text>
<text x="82.3" y="1438.9">CEPDR</text>
<text x="82.3" y="1443.2">CEPVL</text>
<text x="82.3" y="1447.4">CEPVR</text>
<text x="82.3" y="1451.6">DB1</text>
<text x="82.3" y="1455.8">DB2</text>
<text x="82.3" y="1460.1">FLPL</text>
<text x="82.3" y="1464.3">FLPR</text>
<text x="82.3" y="1468.5">I1L</text>
<text x="82.3" y="1472.8">I1R</text>
<text x="82.3" y="1477">I2L</text>
<text x="82.3" y="1481.2">I2R</text>
<text x="82.3" y="1485.5">I3</text>
<text x="82.3" y="1489.7">I4</text>
<text x="82.3" y="1493.9">I5</text>
<text x="82.3" y="1498.2">I6</text>
<text x="82.3" y="1502.4">IL1DL</text>
<text x="82.3" y="1506.6">IL1DR</text>
<text x="82.3" y="1510.9">IL1L</text>
<text x="82.3" y="1515.1">IL1R</text>
<text x="82.3" y="1519.3">IL1VL</text>
<text x="82.3" y="1523.5">IL1VR</text>
<text x="82.3" y="1527.8">IL2DL</text>
<text x="82.3" y="1532">IL2DR</text>
<text x="82.3" y="1536.2">IL2L</text>
<text x="82.3" y="1540.5">IL2R</text>
<text x="82.3" y="1544.7">IL2VL</text>
<text x="82.3" y="1548.9">IL2VR</text>
<text x="82.3" y="1553.2">M1</text>
<text x="82.3" y="1557.4">M2L</text>
<text x="82.3" y="1561.6">M2R</text>
<text x="82.3" y="1565.9">M3L</text>
<text x="82.3" y="1570.1">M3R</text>
<text x="82.3" y="1574.3">M4</text>
<text x="82.3" y="1578.6">M5</text>
<text x="82.3" y="1582.8">MCL</text>
<text x="82.3" y="1587">MCR</text>
<text x="82.3" y="1591.3">MI</text>
<text x="82.3" y="1595.5">NSML</text>
<text x="82.3" y="1599.7">NSMR</text>
<text x="82.3" y="1603.9">OLLL</text>
<text x="82.3" y="1608.2">OLLR</text>
<text x="82.3" y="1612.4">OLQDL</text>
<text x="82.3" y="1616.6">OLQDR</text>
<text x="82.3" y="1620.9">OLQVL</text>
<text x="82.3" y="1625.1">OLQVR</text>
<text x="82.3" y="1629.3">RIAL</text>
<text x="82.3" y="1633.6">RIAR</text>
<text x="82.3" y="1637.8">RIBL</text>
<text x="82.3" y="1642">RIBR</text>
<text x="82.3" y="1646.3">RICL</text>
<text x="82.3" y="1650.5">RICR</text>
<text x="82.3" y="1654.7">RID</text>
<text x="82.3" y="1659">RIGL</text>
<text x="82.3" y="1663.2">RIGR</text>
<text x="82.3" y="1667.4">RIH</text>
<text x="82.3" y="1671.6">RIML</text>
<text x="82.3" y="1675.9">RIMR</text>
<text x="82.3" y="1680.1">RIPL</text>
<text x="82.3" y="1684.3">RIPR</text>
<text x="82.3" y="1688.6">RIR</text>
<text x="82.3" y="1692.8">RIS</text>
<text x="82.3" y="1697">RIVL</text>
<text x="82.3" y="1701.3">RIVR</text>
<text x="82.3" y="1705.5">RMDDL</text>
<text x="82.3" y="1709.7">RMDDR</text>
<text x="82.3" y="1714">RMDL</text>
<text x="82.3" y="1718.2">RMDR</text>
<text x="82.3" y="1722.4">RMDVL</text>
<text x="82.3" y="1726.7">RMDVR</text>
<text x="82.3" y="1730.9">RMED</text>
<text x="82.3" y="1735.1">RMEL</text>
<text x="82.3" y="1739.3">RMER</text>
<text x="82.3" y="1743.6">RMEV</text>
<text x="82.3" y="1747.8">RMGL</text>
<text x="82.3" y="1752">RMGR</text>
<text x="82.3" y="1756.3">SAADL</text>
<text x="82.3" y="1760.5">SAADR</text>
<text x="82.3" y="1764.7">SAAVL</text>
<text x="82.3" y="1769">SAAVR</text>
<text x="82.3" y="1773.2">SABD</text>
<text x="82.3" y="1777.4">SABVL</text>
<text x="82.3" y="1781.7">SABVR</text>
<text x="82.3" y="1785.9">SMBDL</text>
<text x="82.3" y="1790.1">SMBDR</text>
<text x="82.3" y="1794.4">SMBVL</text>
<text x="82.3" y="1798.6">SMBVR</text>
<text x="82.3" y="1802.8">SMDDL</text>
<text x="82.3" y="1807">SMDDR</text>
<text x="82.3" y="1811.3">SMDVL</text>
<text x="82.3" y="1815.5">SMDVR</text>
<text x="82.3" y="1819.7">URADL</text>
<text x="82.3" y="1824">URADR</text>
<text x="82.3" y="1828.2">URAVL</text>
<text x="82.3" y="1832.4">URAVR</text>
<text x="82.3" y="1836.7">URBL</text>
<text x="82.3" y="1840.9">URBR</text>
<text x="82.3" y="1845.1">URXL</text>
<text x="82.3" y="1849.4">URXR</text>
<text x="82.3" y="1853.6">URYDL</text>
<text x="82.3" y="1857.8">URYDR</text>
<text x="82.3" y="1862.1">URYVL</text>
<text x="82.3" y="1866.3">URYVR</text>
<text x="82.3" y="1870.5">VA1</text>
<text x="82.3" y="1874.8">VB1</text>
<text x="82.3" y="1879">VB2</text>
<text x="82.3" y="1883.2">ADFR</text>
<text x="82.3" y="1887.4">AVFL</text>
<text x="82.3" y="1891.7">AVER</text>
<text x="82.3" y="1895.9">DD1</text>
<text x="82.3" y="1900.1">IL1L</text>
<text x="82.3" y="1904.4">M4</text>
<text x="82.3" y="1908.6">RIEL</text>
<text x="82.3" y="1912.8">RIFR</text>
<text x="82.3" y="1917.1">RMHL</text>
<text x="82.3" y="1921.3">SIADL</text>
<text x="82.3" y="1925.5">SIADR</text>
<text x="82.3" y="1929.8">SIAVL</text>
<text x="82.3" y="1934">SIAVR</text>
<text x="82.3" y="1938.2">SIBDL</text>
<text x="82.3" y="1942.5">SIBDR</text>
<text x="82.3" y="1946.7">SIBVL</text>
</g>
<g font-size="5" transform="translate(0 0) scale(0.97 1)" stroke="#000" stroke-width="0.06">
<text x="839.7" y="1168.1">ADAL</text>
<text x="839.7" y="1172.3">ADAR</text>
<text x="839.7" y="1176.6">ADEL</text>
<text x="839.7" y="1180.8">ADER</text>
<text x="839.7" y="1185">ADFL</text>
<text x="839.7" y="1189.3">ADLL</text>
<text x="839.7" y="1193.5">ADLR</text>
<text x="839.7" y="1197.7">AFDL</text>
<text x="839.7" y="1202">AFDR</text>
<text x="839.7" y="1206.2">AIAL</text>
<text x="839.7" y="1210.4">AIAR</text>
<text x="839.7" y="1214.7">AIBL</text>
<text x="839.7" y="1218.9">AIBR</text>
<text x="839.7" y="1223.1">AIML</text>
<text x="839.7" y="1227.4">AIMR</text>
<text x="839.7" y="1231.6">AINL</text>
<text x="839.7" y="1235.8">AINR</text>
<text x="839.7" y="1240">AIYL</text>
<text x="839.7" y="1244.3">AIYR</text>
<text x="839.7" y="1248.5">AIZL</text>
<text x="839.7" y="1252.7">AIZR</text>
<text x="839.7" y="1257">ALA</text>
<text x="839.7" y="1261.2">AQR</text>
<text x="839.7" y="1265.4">ASEL</text>
<text x="839.7" y="1269.7">ASER</text>
<text x="839.7" y="1273.9">ASGL</text>
<text x="839.7" y="1278.1">ASGR</text>
<text x="839.7" y="1282.4">ASHL</text>
<text x="839.7" y="1286.6">ASHR</text>
<text x="839.7" y="1290.8">ASIL</text>
<text x="839.7" y="1295.1">ASIR</text>
<text x="839.7" y="1299.3">ASJL</text>
<text x="839.7" y="1303.5">ASJR</text>
<text x="839.7" y="1307.8">ASKL</text>
<text x="839.7" y="1312">ASKR</text>
<text x="839.7" y="1316.2">AUAL</text>
<text x="839.7" y="1320.4">AUAR</text>
<text x="839.7" y="1324.7">AVAL</text>
<text x="839.7" y="1328.9">AVAR</text>
<text x="839.7" y="1333.1">AVBL</text>
<text x="839.7" y="1337.4">AVBR</text>
<text x="839.7" y="1341.6">AVDL</text>
<text x="839.7" y="1345.8">AVDR</text>
<text x="839.7" y="1350.1">AVEL</text>
<text x="839.7" y="1354.3">AVER</text>
<text x="839.7" y="1358.5">AVFL</text>
<text x="839.7" y="1362.8">AVFR</text>
<text x="839.7" y="1367">AVG</text>
<text x="839.7" y="1371.2">AVHL</text>
<text x="839.7" y="1375.5">AVHR</text>
<text x="839.7" y="1379.7">AVJL</text>
<text x="839.7" y="1383.9">AVJR</text>
<text x="839.7" y="1388.1">AVKL</text>
<text x="839.7" y="1392.4">AVKR</text>
<text x="839.7" y="1396.6">AVL</text>
<text x="839.7" y="1400.8">AWAL</text>
<text x="839.7" y="1405.1">AWAR</text>
<text x="839.7" y="1409.3">AWBL</text>
<text x="839.7" y="1413.5">AWBR</text>
<text x="839.7" y="1417.8">AWCL</text>
<text x="839.7" y="1422">AWCR</text>
<text x="839.7" y="1426.2">BAGL</text>
<text x="839.7" y="1430.5">BAGR</text>
<text x="839.7" y="1434.7">CEPDL</text>
<text x="839.7" y="1438.9">CEPDR</text>
<text x="839.7" y="1443.2">CEPVL</text>
<text x="839.7" y="1447.4">CEPVR</text>
<text x="839.7" y="1451.6">DB1</text>
<text x="839.7" y="1455.8">DB2</text>
<text x="839.7" y="1460.1">FLPL</text>
<text x="839.7" y="1464.3">FLPR</text>
<text x="839.7" y="1468.5">I1L</text>
<text x="839.7" y="1472.8">I1R</text>
<text x="839.7" y="1477">I2L</text>
<text x="839.7" y="1481.2">I2R</text>
<text x="839.7" y="1485.5">I3</text>
<text x="839.7" y="1489.7">I4</text>
<text x="839.7" y="1493.9">I5</text>
<text x="839.7" y="1498.2">I6</text>
<text x="839.7" y="1502.4">IL1DL</text>
<text x="839.7" y="1506.6">IL1DR</text>
<text x="839.7" y="1510.9">IL1L</text>
<text x="839.7" y="1515.1">IL1R</text>
<text x="839.7" y="1519.3">IL1VL</text>
<text x="839.7" y="1523.5">IL1VR</text>
<text x="839.7" y="1527.8">IL2DL</text>
<text x="839.7" y="1532">IL2DR</text>
<text x="839.7" y="1536.2">IL2L</text>
<text x="839.7" y="1540.5">IL2R</text>
<text x="839.7" y="1544.7">IL2VL</text>
<text x="839.7" y="1548.9">IL2VR</text>
<text x="839.7" y="1553.2">M1</text>
<text x="839.7" y="1557.4">M2L</text>
<text x="839.7" y="1561.6">M2R</text>
<text x="839.7" y="1565.9">M3L</text>
<text x="839.7" y="1570.1">M3R</text>
<text x="839.7" y="1574.3">M4</text>
<text x="839.7" y="1578.6">M5</text>
<text x="839.7" y="1582.8">MCL</text>
<text x="839.7" y="1587">MCR</text>
<text x="839.7" y="1591.3">MI</text>
<text x="839.7" y="1595.5">NSML</text>
<text x="839.7" y="1599.7">NSMR</text>
<text x="839.7" y="1603.9">OLLL</text>
<text x="839.7" y="1608.2">OLLR</text>
<text x="839.7" y="1612.4">OLQDL</text>
<text x="839.7" y="1616.6">OLQDR</text>
<text x="839.7" y="1620.9">OLQVL</text>
<text x="839.7" y="1625.1">OLQVR</text>
<text x="839.7" y="1629.3">RIAL</text>
<text x="839.7" y="1633.6">RIAR</text>
<text x="839.7" y="1637.8">RIBL</text>
<text x="839.7" y="1642">RIBR</text>
<text x="839.7" y="1646.3">RICL</text>
<text x="839.7" y="1650.5">RICR</text>
<text x="839.7" y="1654.7">RID</text>
<text x="839.7" y="1659">RIGL</text>
<text x="839.7" y="1663.2">RIGR</text>
<text x="839.7" y="1667.4">RIH</text>
<text x="839.7" y="1671.6">RIML</text>
<text x="839.7" y="1675.9">RIMR</text>
<text x="839.7" y="1680.1">RIPL</text>
<text x="839.7" y="1684.3">RIPR</text>
<text x="839.7" y="1688.6">RIR</text>
<text x="839.7" y="1692.8">RIS</text>
<text x="839.7" y="1697">RIVL</text>
<text x="839.7" y="1701.3">RIVR</text>
<text x="839.7" y="1705.5">RMDDL</text>
<text x="839.7" y="1709.7">RMDDR</text>
<text x="839.7" y="1714">RMDL</text>
<text x="839.7" y="1718.2">RMDR</text>
<text x="839.7" y="1722.4">RMDVL</text>
<text x="839.7" y="1726.7">RMDVR</text>
<text x="839.7" y="1730.9">RMED</text>
<text x="839.7" y="1735.1">RMEL</text>
<text x="839.7" y="1739.3">RMER</text>
<text x="839.7" y="1743.6">RMEV</text>
<text x="839.7" y="1747.8">RMGL</text>
<text x="839.7" y="1752">RMGR</text>
<text x="839.7" y="1756.3">SAADL</text>
<text x="839.7" y="1760.5">SAADR</text>
<text x="839.7" y="1764.7">SAAVL</text>
<text x="839.7" y="1769">SAAVR</text>
<text x="839.7" y="1773.2">SABD</text>
<text x="839.7" y="1777.4">SABVL</text>
<text x="839.7" y="1781.7">SABVR</text>
<text x="839.7" y="1785.9">SMBDL</text>
<text x="839.7" y="1790.1">SMBDR</text>
<text x="839.7" y="1794.4">SMBVL</text>
<text x="839.7" y="1798.6">SMBVR</text>
<text x="839.7" y="1802.8">SMDDL</text>
<text x="839.7" y="1807">SMDDR</text>
<text x="839.7" y="1811.3">SMDVL</text>
<text x="839.7" y="1815.5">SMDVR</text>
<text x="839.7" y="1819.7">URADL</text>
<text x="839.7" y="1824">URADR</text>
<text x="839.7" y="1828.2">URAVL</text>
<text x="839.7" y="1832.4">URAVR</text>
<text x="839.7" y="1836.7">URBL</text>
<text x="839.7" y="1840.9">URBR</text>
<text x="839.7" y="1845.1">URXL</text>
<text x="839.7" y="1849.4">URXR</text>
<text x="839.7" y="1853.6">URYDL</text>
<text x="839.7" y="1857.8">URYDR</text>
<text x="839.7" y="1862.1">URYVL</text>
<text x="839.7" y="1866.3">URYVR</text>
<text x="839.7" y="1870.5">VA1</text>
<text x="839.7" y="1874.8">VB1</text>
<text x="839.7" y="1879">VB2</text>
<text x="839.7" y="1883.2">ADFR</text>
<text x="839.7" y="1887.4">AVFL</text>
<text x="839.7" y="1891.7">AVER</text>
<text x="839.7" y="1895.9">DD1</text>
<text x="839.7" y="1900.1">IL1L</text>
<text x="839.7" y="1904.4">M4</text>
<text x="839.7" y="1908.6">RIEL</text>
<text x="839.7" y="1912.8">RIFR</text>
<text x="839.7" y="1917.1">RMHL</text>
<text x="839.7" y="1921.3">SIADL</text>
<text x="839.7" y="1925.5">SIADR</text>
<text x="839.7" y="1929.8">SIAVL</text>
<text x="839.7" y="1934">SIAVR</text>
<text x="839.7" y="1938.2">SIBDL</text>
<text x="839.7" y="1942.5">SIBDR</text>
<text x="839.7" y="1946.7">SIBVL</text>
</g>
<g font-size="5" transform="rotate(-90) scale(0.97 1)" stroke="#000" stroke-width="0.06">
<text x="-1191.4" y="92.7">ADAL</text>
<text x="-1191.4" y="97">ADAR</text>
<text x="-1191.4" y="101.2">ADEL</text>
<text x="-1191.4" y="105.4">ADER</text>
<text x="-1191.4" y="109.7">ADFL</text>
<text x="-1191.4" y="113.9">ADLL</text>
<text x="-1191.4" y="118.2">ADLR</text>
<text x="-1191.4" y="122.4">AFDL</text>
<text x="-1191.4" y="126.6">AFDR</text>
<text x="-1191.4" y="130.9">AIAL</text>
<text x="-1191.4" y="135.1">AIAR</text>
<text x="-1191.4" y="139.4">AIBL</text>
<text x="-1191.4" y="143.6">AIBR</text>
<text x="-1191.4" y="147.9">AIML</text>
<text x="-1191.4" y="152.1">AIMR</text>
<text x="-1191.4" y="156.3">AINL</text>
<text x="-1191.4" y="160.6">AINR</text>
<text x="-1191.4" y="164.8">AIYL</text>
<text x="-1191.4" y="169.1">AIYR</text>
<text x="-1191.4" y="173.3">AIZL</text>
<text x="-1191.4" y="177.5">AIZR</text>
<text x="-1191.4" y="181.8">ALA</text>
<text x="-1191.4" y="186">AQR</text>
<text x="-1191.4" y="190.3">ASEL</text>
<text x="-1191.4" y="194.5">ASER</text>
<text x="-1191.4" y="198.7">ASGL</text>
<text x="-1191.4" y="203">ASGR</text>
<text x="-1191.4" y="207.2">ASHL</text>
<text x="-1191.4" y="211.5">ASHR</text>
<text x="-1191.4" y="215.7">ASIL</text>
<text x="-1191.4" y="219.9">ASIR</text>
<text x="-1191.4" y="224.2">ASJL</text>
<text x="-1191.4" y="228.4">ASJR</text>
<text x="-1191.4" y="232.7">ASKL</text>
<text x="-1191.4" y="236.9">ASKR</text>
<text x="-1191.4" y="241.1">AUAL</text>
<text x="-1191.4" y="245.4">AUAR</text>
<text x="-1191.4" y="249.6">AVAL</text>
<text x="-1191.4" y="253.9">AVAR</text>
<text x="-1191.4" y="258.1">AVBL</text>
<text x="-1191.4" y="262.4">AVBR</text>
<text x="-1191.4" y="266.6">AVDL</text>
<text x="-1191.4" y="270.8">AVDR</text>
<text x="-1191.4" y="275.1">AVEL</text>
<text x="-1191.4" y="279.3">AVER</text>
<text x="-1191.4" y="283.6">AVFL</text>
<text x="-1191.4" y="287.8">AVFR</text>
<text x="-1191.4" y="292">AVG</text>
<text x="-1191.4" y="296.3">AVHL</text>
<text x="-1191.4" y="300.5">AVHR</text>
<text x="-1191.4" y="304.8">AVJL</text>
<text x="-1191.4" y="309">AVJR</text>
<text x="-1191.4" y="313.2">AVKL</text>
<text x="-1191.4" y="317.5">AVKR</text>
<text x="-1191.4" y="321.7">AVL</text>
<text x="-1191.4" y="326">AWAL</text>
<text x="-1191.4" y="330.2">AWAR</text>
<text x="-1191.4" y="334.4">AWBL</text>
<text x="-1191.4" y="338.7">AWBR</text>
<text x="-1191.4" y="342.9">AWCL</text>
<text x="-1191.4" y="347.2">AWCR</text>
<text x="-1191.4" y="351.4">BAGL</text>
<text x="-1191.4" y="355.7">BAGR</text>
<text x="-1191.4" y="359.9">CEPDL</text>
<text x="-1191.4" y="364.1">CEPDR</text>
<text x="-1191.4" y="368.4">CEPVL</text>
<text x="-1191.4" y="372.6">CEPVR</text>
<text x="-1191.4" y="376.9">DB1</text>
<text x="-1191.4" y="381.1">DB2</text>
<text x="-1191.4" y="385.3">FLPL</text>
<text x="-1191.4" y="389.6">FLPR</text>
<text x="-1191.4" y="393.8">I1L</text>
<text x="-1191.4" y="398.1">I1R</text>
<text x="-1191.4" y="402.3">I2L</text>
<text x="-1191.4" y="406.5">I2R</text>
<text x="-1191.4" y="410.8">I3</text>
<text x="-1191.4" y="415">I4</text>
<text x="-1191.4" y="419.3">I5</text>
<text x="-1191.4" y="423.5">I6</text>
<text x="-1191.4" y="427.7">IL1DL</text>
<text x="-1191.4" y="432">IL1DR</text>
<text x="-1191.4" y="436.2">IL1L</text>
<text x="-1191.4" y="440.5">IL1R</text>
<text x="-1191.4" y="444.7">IL1VL</text>
<text x="-1191.4" y="449">IL1VR</text>
<text x="-1191.4" y="453.2">IL2DL</text>
<text x="-1191.4" y="457.4">IL2DR</text>
<text x="-1191.4" y="461.7">IL2L</text>
<text x="-1191.4" y="465.9">IL2R</text>
<text x="-1191.4" y="470.2">IL2VL</text>
<text x="-1191.4" y="474.4">IL2VR</text>
<text x="-1191.4" y="478.6">M1</text>
<text x="-1191.4" y="482.9">M2L</text>
<text x="-1191.4" y="487.1">M2R</text>
<text x="-1191.4" y="491.4">M3L</text>
<text x="-1191.4" y="495.6">M3R</text>
<text x="-1191.4" y="499.8">M4</text>
<text x="-1191.4" y="504.1">M5</text>
<text x="-1191.4" y="508.3">MCL</text>
<text x="-1191.4" y="512.6">MCR</text>
<text x="-1191.4" y="516.8">MI</text>
<text x="-1191.4" y="521">NSML</text>
<text x="-1191.4" y="525.3">NSMR</text>
<text x="-1191.4" y="529.5">OLLL</text>
<text x="-1191.4" y="533.8">OLLR</text>
<text x="-1191.4" y="538">OLQDL</text>
<text x="-1191.4" y="542.2">OLQDR</text>
<text x="-1191.4" y="546.5">OLQVL</text>
<text x="-1191.4" y="550.7">OLQVR</text>
<text x="-1191.4" y="555">RIAL</text>
<text x="-1191.4" y="559.2">RIAR</text>
<text x="-1191.4" y="563.5">RIBL</text>
<text x="-1191.4" y="567.7">RIBR</text>
<text x="-1191.4" y="571.9">RICL</text>
<text x="-1191.4" y="576.2">RICR</text>
<text x="-1191.4" y="580.4">RID</text>
<text x="-1191.4" y="584.7">RIGL</text>
<text x="-1191.4" y="588.9">RIGR</text>
<text x="-1191.4" y="593.1">RIH</text>
<text x="-1191.4" y="597.4">RIML</text>
<text x="-1191.4" y="601.6">RIMR</text>
<text x="-1191.4" y="605.9">RIPL</text>
<text x="-1191.4" y="610.1">RIPR</text>
<text x="-1191.4" y="614.3">RIR</text>
<text x="-1191.4" y="618.6">RIS</text>
<text x="-1191.4" y="622.8">RIVL</text>
<text x="-1191.4" y="627.1">RIVR</text>
<text x="-1191.4" y="631.3">RMDDL</text>
<text x="-1191.4" y="635.5">RMDDR</text>
<text x="-1191.4" y="639.8">RMDL</text>
<text x="-1191.4" y="644">RMDR</text>
<text x="-1191.4" y="648.3">RMDVL</text>
<text x="-1191.4" y="652.5">RMDVR</text>
<text x="-1191.4" y="656.8">RMED</text>
<text x="-1191.4" y="661">RMEL</text>
<text x="-1191.4" y="665.2">RMER</text>
<text x="-1191.4" y="669.5">RMEV</text>
<text x="-1191.4" y="673.7">RMGL</text>
<text x="-1191.4" y="678">RMGR</text>
<text x="-1191.4" y="682.2">SAADL</text>
<text x="-1191.4" y="686.4">SAADR</text>
<text x="-1191.4" y="690.7">SAAVL</text>
<text x="-1191.4" y="694.9">SAAVR</text>
<text x="-1191.4" y="699.2">SABD</text>
<text x="-1191.4" y="703.4">SABVL</text>
<text x="-1191.4" y="707.6">SABVR</text>
<text x="-1191.4" y="711.9">SMBDL</text>
<text x="-1191.4" y="716.1">SMBDR</text>
<text x="-1191.4" y="720.4">SMBVL</text>
<text x="-1191.4" y="724.6">SMBVR</text>
<text x="-1191.4" y="728.8">SMDDL</text>
<text x="-1191.4" y="733.1">SMDDR</text>
<text x="-1191.4" y="737.3">SMDVL</text>
<text x="-1191.4" y="741.6">SMDVR</text>
<text x="-1191.4" y="745.8">URADL</text>
<text x="-1191.4" y="750">URADR</text>
<text x="-1191.4" y="754.3">URAVL</text>
<text x="-1191.4" y="758.5">URAVR</text>
<text x="-1191.4" y="762.8">URBL</text>
<text x="-1191.4" y="767">URBR</text>
<text x="-1191.4" y="771.3">URXL</text>
<text x="-1191.4" y="775.5">URXR</text>
<text x="-1191.4" y="779.7">URYDL</text>
<text x="-1191.4" y="784">URYDR</text>
<text x="-1191.4" y="788.2">URYVL</text>
<text x="-1191.4" y="792.5">URYVR</text>
<text x="-1191.4" y="796.7">VA1</text>
<text x="-1191.4" y="800.9">VB1</text>
<text x="-1191.4" y="805.2">VB2</text>
</g>
<g font-size="5" transform="rotate(-90) scale(0.97 1)" text-anchor="end" stroke="#000" stroke-width="0.06">
<text x="-2016" y="92.7">ADAL</text>
<text x="-2016" y="97">ADAR</text>
<text x="-2016" y="101.2">ADEL</text>
<text x="-2016" y="105.4">ADER</text>
<text x="-2016" y="109.7">ADFL</text>
<text x="-2016" y="113.9">ADLL</text>
<text x="-2016" y="118.2">ADLR</text>
<text x="-2016" y="122.4">AFDL</text>
<text x="-2016" y="126.6">AFDR</text>
<text x="-2016" y="130.9">AIAL</text>
<text x="-2016" y="135.1">AIAR</text>
<text x="-2016" y="139.4">AIBL</text>
<text x="-2016" y="143.6">AIBR</text>
<text x="-2016" y="147.9">AIML</text>
<text x="-2016" y="152.1">AIMR</text>
<text x="-2016" y="156.3">AINL</text>
<text x="-2016" y="160.6">AINR</text>
<text x="-2016" y="164.8">AIYL</text>
<text x="-2016" y="169.1">AIYR</text>
<text x="-2016" y="173.3">AIZL</text>
<text x="-2016" y="177.5">AIZR</text>
<text x="-2016" y="181.8">ALA</text>
<text x="-2016" y="186">AQR</text>
<text x="-2016" y="190.3">ASEL</text>
<text x="-2016" y="194.5">ASER</text>
<text x="-2016" y="198.7">ASGL</text>
<text x="-2016" y="203">ASGR</text>
<text x="-2016" y="207.2">ASHL</text>
<text x="-2016" y="211.5">ASHR</text>
<text x="-2016" y="215.7">ASIL</text>
<text x="-2016" y="219.9">ASIR</text>
<text x="-2016" y="224.2">ASJL</text>
<text x="-2016" y="228.4">ASJR</text>
<text x="-2016" y="232.7">ASKL</text>
<text x="-2016" y="236.9">ASKR</text>
<text x="-2016" y="241.1">AUAL</text>
<text x="-2016" y="245.4">AUAR</text>
<text x="-2016" y="249.6">AVAL</text>
<text x="-2016" y="253.9">AVAR</text>
<text x="-2016" y="258.1">AVBL</text>
<text x="-2016" y="262.4">AVBR</text>
<text x="-2016" y="266.6">AVDL</text>
<text x="-2016" y="270.8">AVDR</text>
<text x="-2016" y="275.1">AVEL</text>
<text x="-2016" y="279.3">AVER</text>
<text x="-2016" y="283.6">AVFL</text>
<text x="-2016" y="287.8">AVFR</text>
<text x="-2016" y="292">AVG</text>
<text x="-2016" y="296.3">AVHL</text>
<text x="-2016" y="300.5">AVHR</text>
<text x="-2016" y="304.8">AVJL</text>
<text x="-2016" y="309">AVJR</text>
<text x="-2016" y="313.2">AVKL</text>
<text x="-2016" y="317.5">AVKR</text>
<text x="-2016" y="321.7">AVL</text>
<text x="-2016" y="326">AWAL</text>
<text x="-2016" y="330.2">AWAR</text>
<text x="-2016" y="334.4">AWBL</text>
<text x="-2016" y="338.7">AWBR</text>
<text x="-2016" y="342.9">AWCL</text>
<text x="-2016" y="347.2">AWCR</text>
<text x="-2016" y="351.4">BAGL</text>
<text x="-2016" y="355.7">BAGR</text>
<text x="-2016" y="359.9">CEPDL</text>
<text x="-2016" y="364.1">CEPDR</text>
<text x="-2016" y="368.4">CEPVL</text>
<text x="-2016" y="372.6">CEPVR</text>
<text x="-2016" y="376.9">DB1</text>
<text x="-2016" y="381.1">DB2</text>
<text x="-2016" y="385.3">FLPL</text>
<text x="-2016" y="389.6">FLPR</text>
<text x="-2016" y="393.8">I1L</text>
<text x="-2016" y="398.1">I1R</text>
<text x="-2016" y="402.3">I2L</text>
<text x="-2016" y="406.5">I2R</text>
<text x="-2016" y="410.8">I3</text>
<text x="-2016" y="415">I4</text>
<text x="-2016" y="419.3">I5</text>
<text x="-2016" y="423.5">I6</text>
<text x="-2016" y="427.7">IL1DL</text>
<text x="-2016" y="432">IL1DR</text>
<text x="-2016" y="436.2">IL1L</text>
<text x="-2016" y="440.5">IL1R</text>
<text x="-2016" y="444.7">IL1VL</text>
<text x="-2016" y="449">IL1VR</text>
<text x="-2016" y="453.2">IL2DL</text>
<text x="-2016" y="457.4">IL2DR</text>
<text x="-2016" y="461.7">IL2L</text>
<text x="-2016" y="465.9">IL2R</text>
<text x="-2016" y="470.2">IL2VL</text>
<text x="-2016" y="474.4">IL2VR</text>
<text x="-2016" y="478.6">M1</text>
<text x="-2016" y="482.9">M2L</text>
<text x="-2016" y="487.1">M2R</text>
<text x="-2016" y="491.4">M3L</text>
<text x="-2016" y="495.6">M3R</text>
<text x="-2016" y="499.8">M4</text>
<text x="-2016" y="504.1">M5</text>
<text x="-2016" y="508.3">MCL</text>
<text x="-2016" y="512.6">MCR</text>
<text x="-2016" y="516.8">MI</text>
<text x="-2016" y="521">NSML</text>
<text x="-2016" y="525.3">NSMR</text>
<text x="-2016" y="529.5">OLLL</text>
<text x="-2016" y="533.8">OLLR</text>
<text x="-2016" y="538">OLQDL</text>
<text x="-2016" y="542.2">OLQDR</text>
<text x="-2016" y="546.5">OLQVL</text>
<text x="-2016" y="550.7">OLQVR</text>
<text x="-2016" y="555">RIAL</text>
<text x="-2016" y="559.2">RIAR</text>
<text x="-2016" y="563.5">RIBL</text>
<text x="-2016" y="567.7">RIBR</text>
<text x="-2016" y="571.9">RICL</text>
<text x="-2016" y="576.2">RICR</text>
<text x="-2016" y="580.4">RID</text>
<text x="-2016" y="584.7">RIGL</text>
<text x="-2016" y="588.9">RIGR</text>
<text x="-2016" y="593.1">RIH</text>
<text x="-2016" y="597.4">RIML</text>
<text x="-2016" y="601.6">RIMR</text>
<text x="-2016" y="605.9">RIPL</text>
<text x="-2016" y="610.1">RIPR</text>
<text x="-2016" y="614.3">RIR</text>
<text x="-2016" y="618.6">RIS</text>
<text x="-2016" y="622.8">RIVL</text>
<text x="-2016" y="627.1">RIVR</text>
<text x="-2016" y="631.3">RMDDL</text>
<text x="-2016" y="635.5">RMDDR</text>
<text x="-2016" y="639.8">RMDL</text>
<text x="-2016" y="644">RMDR</text>
<text x="-2016" y="648.3">RMDVL</text>
<text x="-2016" y="652.5">RMDVR</text>
<text x="-2016" y="656.8">RMED</text>
<text x="-2016" y="661">RMEL</text>
<text x="-2016" y="665.2">RMER</text>
<text x="-2016" y="669.5">RMEV</text>
<text x="-2016" y="673.7">RMGL</text>
<text x="-2016" y="678">RMGR</text>
<text x="-2016" y="682.2">SAADL</text>
<text x="-2016" y="686.4">SAADR</text>
<text x="-2016" y="690.7">SAAVL</text>
<text x="-2016" y="694.9">SAAVR</text>
<text x="-2016" y="699.2">SABD</text>
<text x="-2016" y="703.4">SABVL</text>
<text x="-2016" y="707.6">SABVR</text>
<text x="-2016" y="711.9">SMBDL</text>
<text x="-2016" y="716.1">SMBDR</text>
<text x="-2016" y="720.4">SMBVL</text>
<text x="-2016" y="724.6">SMBVR</text>
<text x="-2016" y="728.8">SMDDL</text>
<text x="-2016" y="733.1">SMDDR</text>
<text x="-2016" y="737.3">SMDVL</text>
<text x="-2016" y="741.6">SMDVR</text>
<text x="-2016" y="745.8">URADL</text>
<text x="-2016" y="750">URADR</text>
<text x="-2016" y="754.3">URAVL</text>
<text x="-2016" y="758.5">URAVR</text>
<text x="-2016" y="762.8">URBL</text>
<text x="-2016" y="767">URBR</text>
<text x="-2016" y="771.3">URXL</text>
<text x="-2016" y="775.5">URXR</text>
<text x="-2016" y="779.7">URYDL</text>
<text x="-2016" y="784">URYDR</text>
<text x="-2016" y="788.2">URYVL</text>
<text x="-2016" y="792.5">URYVR</text>
<text x="-2016" y="796.7">VA1</text>
<text x="-2016" y="800.9">VB1</text>
<text x="-2016" y="805.2">VB2</text>
</g>
<text x="11.8" y="1112.6" font-size="59" font-family="'Liberation Sans', Arial, sans-serif" font-weight="bold" fill="#231f20">d</text>
<text x="310.3" y="1121" font-size="47.5" font-family="'Liberation Sans', Arial, sans-serif" fill="#231f20" textLength="324" lengthAdjust="spacingAndGlyphs">Kernel Rise Time</text>
<text transform="translate(52 1663) rotate(-90)" font-size="41" font-family="'Liberation Sans', Arial, sans-serif" text-anchor="start" textLength="215" lengthAdjust="spacingAndGlyphs" fill="#231f20">Responding</text>
<text x="446" y="2010" font-size="37.5" text-anchor="middle">Stimulated</text>
<defs><linearGradient id="gdv" x1="0" y1="1" x2="0" y2="0"><stop offset="0" stop-color="#440154"/><stop offset="0.1" stop-color="#482475"/><stop offset="0.2" stop-color="#414487"/><stop offset="0.3" stop-color="#355f8d"/><stop offset="0.4" stop-color="#2a788e"/><stop offset="0.5" stop-color="#21918c"/><stop offset="0.6" stop-color="#22a884"/><stop offset="0.7" stop-color="#44bf70"/><stop offset="0.8" stop-color="#7ad151"/><stop offset="0.9" stop-color="#bddf26"/><stop offset="1" stop-color="#fde725"/></linearGradient>
<linearGradient id="gdg" x1="0" y1="0" x2="1" y2="0"><stop offset="0" stop-color="#dcdcdc" stop-opacity="1"/><stop offset="1" stop-color="#dcdcdc" stop-opacity="0"/></linearGradient></defs>
<rect x="904.5" y="1164.6" width="86.3" height="782.4" fill="url(#gdv)"/>
<rect x="904.5" y="1164.6" width="86.3" height="782.4" fill="url(#gdg)" stroke="#000" stroke-width="1.2"/>
<path d="M990.8 1947h5" stroke="#000" stroke-width="1.2"/>
<text x="999" y="1954" font-size="19.5">0.0</text>
<path d="M990.8 1751.4h5" stroke="#000" stroke-width="1.2"/>
<text x="999" y="1758.4" font-size="19.5">0.5</text>
<path d="M990.8 1555.8h5" stroke="#000" stroke-width="1.2"/>
<text x="999" y="1562.8" font-size="19.5">1.0</text>
<path d="M990.8 1360.2h5" stroke="#000" stroke-width="1.2"/>
<text x="999" y="1367.2" font-size="19.5">1.5</text>
<path d="M990.8 1164.6h5" stroke="#000" stroke-width="1.2"/>
<text x="999" y="1171.6" font-size="19.5">2.0</text>
<path d="M904.5 1947v5" stroke="#000" stroke-width="1.2"/>
<text x="904.5" y="1970" font-size="19.5" text-anchor="middle">0.6</text>
<path d="M990.8 1947v5" stroke="#000" stroke-width="1.2"/>
<text x="990.8" y="1970" font-size="19.5" text-anchor="middle">1.0</text>
<text x="946.5" y="1996" font-size="19" text-anchor="middle">q</text>
<text x="996" y="1215" font-size="17">v</text>
<text transform="translate(1048 1557) rotate(-90)" font-size="19" text-anchor="middle">⟨rise time (s)⟩</text>
<path d="M811.7 1993h9.6M833.5 1993v10.5M833.5 2014.2v8.3h-11.2M811.8 2022.5h-7.8v-3.3M804 2008v-9" fill="none" stroke="#231f20" stroke-width="2.07"/>
<rect x="803" y="2052.6" width="31.6" height="29.5" fill="#231f20"/>
<text x="843" y="2010" font-size="19" font-family="'Liberation Sans', Arial, sans-serif" fill="#231f20">No</text>
<text x="843" y="2035" font-size="19" font-family="'Liberation Sans', Arial, sans-serif" fill="#231f20" textLength="117" lengthAdjust="spacingAndGlyphs">measurement</text>
<text x="844.5" y="2071" font-size="19" font-family="'Liberation Sans', Arial, sans-serif" fill="#231f20">Not</text>
<text x="844.5" y="2096" font-size="19" font-family="'Liberation Sans', Arial, sans-serif" fill="#231f20">Displayed</text>
<g transform="translate(1196.7 1161.8) scale(4.1953 4.2243) translate(0 .5)" shape-rendering="crispEdges" fill="none">
<path stroke="#7cc87c" d="M56 0h1m51 0h1M166 2h1M42 3h1M161 6h1m4 0h1M35 10h1M10 11h1m155 0h1M23 12h1m103 0h1M151 13h1M120 14h1M110 15h1m16 0h1M56 17h1M103 22h1m24 0h1M16 24h1m9 0h1m105 0h1m17 0h1M30 25h1m125 0h1M25 26h1m93 0h1m8 0h1m34 0h1M108 27h1M123 28h1M26 29h1m97 0h1M133 32h1M115 34h1m8 0h1M133 35h2M42 37h1m12 0h1m81 0h1M151 38h1M57 39h1m46 0h1M96 41h1m33 0h1M22 43h1m128 0h1m12 0h1M70 44h1M74 45h1m10 0h1m30 0h1m20 0h1M40 46h1m86 0h1M143 47h1m7 0h1M149 48h1M42 49h1m30 0h1m52 0h1M15 52h1m5 0h1m75 0h1M140 57h1M25 58h1m48 0h1m52 0h1M55 59h1m43 0h1m60 0h1m5 0h1M63 61h1M49 63h1m56 0h1M116 64h1M91 65h1M10 66h1m38 0h1m76 0h1m1 0h1M78 67h1m31 0h1m13 0h1M42 68h1m119 0h1M91 69h1m14 0h1m15 0h1M72 70h1m2 0h1M13 72h1m96 0h1M90 73h1M55 74h1M93 75h1m7 0h1M88 77h1M12 79h1m83 0h1M50 80h1m28 0h1m65 0h1M73 82h1m11 0h1m35 0h1M24 83h1m30 0h1M10 87h1M25 88h1m22 0h1m76 0h1M3 90h1m89 0h1M103 91h1m22 0h1M73 92h1m27 0h1m7 0h1m46 0h1M109 93h1m29 0h1M77 94h1m47 0h1M75 95h1M44 96h1m31 0h1m16 0h1m39 0h1M89 98h1M72 99h1m1 0h1m19 0h1M55 100h2m15 0h1m66 0h1M12 101h2m107 0h1m4 0h1m22 0h1M76 103h1m47 0h1M124 106h1M106 107h1m53 0h1M99 108h1M85 109h1m5 0h1M42 110h1m122 0h1M49 111h1M87 112h1M125 113h1M149 115h1M99 116h1M128 118h1m10 0h1m23 0h1M34 119h1M161 121h1M116 123h1M49 124h1M56 125h1m16 0h1m7 0h1m18 0h1m54 0h1M15 126h1m7 0h1m51 0h1m46 0h1M22 127h1m90 0h1M2 128h1m25 0h1m110 0h1m11 0h1M56 130h1m40 0h1M56 131h1M42 132h1M136 135h1M126 137h1M149 138h1M153 139h1M12 140h1m104 0h1M128 145h1m10 0h1M46 147h1M65 148h1m2 0h1M60 150h1m38 0h1m24 0h1m3 0h1M104 151h1m44 0h1M48 153h1M158 154h1M80 155h1M166 156h1M48 157h1m87 0h1M126 158h1M91 159h1M50 162h1m71 0h1M111 163h1m48 0h1M84 164h1m48 0h1M48 165h2m74 0h1M13 169h1M12 170h1M3 171h1M126 175h1M160 184h1"/>
<path stroke="#39a257" d="M124 5h1M26 8h1m110 0h1M128 13h1M93 15h1M125 16h1M127 18h1M8 21h1m152 0h1M24 22h1m124 0h1M44 24h1m18 0h1m75 0h1m26 0h1m1 0h1M99 25h1m51 0h1M23 26h1M55 27h1M40 28h1m50 0h1M55 31h1m44 0h1M62 34h1m5 0h1M41 37h1m85 0h1m17 0h1m3 0h1M49 38h1M124 39h1m19 0h1M127 40h1M140 41h1M10 43h1m40 0h1m39 0h1M83 44h1M124 45h2M32 46h1m9 0h1m68 0h1m2 0h1M61 48h1M52 49h1m14 0h1m94 0h1M151 51h1M99 53h1M116 55h1M87 57h1m40 0h1M119 58h1m30 0h1M12 59h1m29 0h1M49 60h1m1 0h1m3 0h1m53 0h1m6 0h1M24 63h1m85 0h1M55 64h1m104 0h1M74 66h1M126 67h1M65 68h1m22 0h1m69 0h1M49 69h1m16 0h1m57 0h1M32 70h1M42 72h1m64 0h1m19 0h1M157 74h1M77 75h1m11 0h2m72 0h1M27 76h1m15 0h1M62 77h1M91 80h1M28 82h1m27 0h1m93 0h1M37 85h1M124 88h1M92 89h1M84 91h1m75 0h1M0 92h1m54 0h1m20 0h1M0 93h1m79 0h1m8 0h1m1 0h1m6 0h1m45 0h1M91 96h1m33 0h1M91 97h1m3 0h2M50 99h1m26 0h1M124 100h1m24 0h1M20 101h1m64 0h2m2 0h1M1 102h1m87 0h1m4 0h1M22 106h1M128 107h1M120 109h1M22 111h1M91 112h1M127 113h1M128 116h1M152 118h1M42 119h1M49 120h1m49 0h1M12 123h1M24 124h1m3 0h1m26 0h1m25 0h1M88 125h1m71 0h1M43 126h1m46 0h1m58 0h1M130 127h1M150 128h1M92 129h1m31 0h1M4 130h1m9 0h1m112 0h1m32 0h1M129 131h1M5 136h1M12 137h1m40 0h1M80 139h1M16 140h1m128 0h1M40 143h1M28 144h1m131 0h1M23 145h1M125 148h1M119 149h1M91 150h1M128 152h1M157 155h1M38 156h1m52 0h1m44 0h1M156 157h1M91 158h1m12 0h1m22 0h1M21 159h1m21 0h1m71 0h1M144 160h1m16 0h1M99 161h1M11 163h1m70 0h1m5 0h1M140 164h1M125 165h1M42 166h1m67 0h1M42 168h1m85 0h1M165 175h1M138 178h1"/>
<path stroke="#208843" d="M19 0h1m105 0h1m42 0h1M116 3h1M81 4h1M56 5h1M87 6h1m11 0h1m33 0h1M5 7h1m50 0h1m86 0h1M127 8h1M104 11h1M139 12h1M107 13h1M81 15h1m42 0h2M20 18h1M91 19h1m34 0h1M119 20h1M56 22h1m69 0h1m24 0h1M13 24h1m114 0h1m22 0h1m3 0h1m2 0h1M125 25h1M42 26h1m118 0h1M22 27h1m102 0h1m2 0h1M126 28h1M109 29h1m50 0h1M41 31h1M12 35h1m9 0h1m137 0h1M18 37h1m20 0h1m54 0h1m31 0h1M126 38h1M37 39h1M13 40h1m94 0h1m34 0h1M102 41h1m22 0h1M127 42h1M3 43h1m37 0h1m13 0h2m42 0h1M12 44h1m43 0h1m44 0h1M5 45h1m1 0h1m7 0h1m19 0h1m19 0h1m43 0h1m17 0h1m10 0h1m26 0h1M44 46h1m46 0h1m27 0h1m5 0h1M43 47h1M42 48h1m67 0h1m21 0h1M28 49h1m120 0h1M128 50h1M58 51h1M117 52h1m6 0h1m15 0h1m18 0h1M126 53h1M110 54h1m33 0h1M34 56h1m64 0h1M10 57h1m41 0h1m70 0h1m19 0h1m16 0h1M51 58h2m75 0h1M30 59h1m31 0h1m18 0h1m1 0h1m11 0h1m66 0h1M58 60h1m67 0h1M64 61h1M23 63h1m31 0h1M74 64h1m52 0h1M49 65h1m6 0h1m5 0h1M100 68h1M101 69h1M2 70h1m9 0h1m18 0h1m58 0h1m9 0h2m34 0h1M88 71h1m5 0h1M29 73h1m45 0h1m13 0h1m3 0h1m2 0h1M35 74h1m36 0h1m21 0h1m51 0h1M98 75h1M96 76h1M72 77h1m16 0h1M43 78h1M98 79h1M143 81h1M12 82h1m2 0h1M80 83h1M125 85h1m19 0h1M74 87h1m14 0h1m36 0h1M71 88h1m3 0h1m1 0h2m14 0h1M72 89h2m9 0h1m7 0h1M73 90h1M33 91h1m46 0h1m8 0h1m38 0h1m4 0h1m27 0h1M34 92h1m40 0h1m13 0h1m5 0h1m8 0h1m19 0h1m12 0h1m23 0h2M3 93h1m68 0h2m55 0h1m1 0h1m19 0h1M91 94h1M74 95h1m14 0h1M73 96h1m23 0h2M126 97h1M10 98h1m38 0h1m22 0h1m28 0h1M78 99h1M18 100h1m30 0h1m1 0h1m19 0h1m7 0h1m43 0h1M55 101h1m23 0h1m16 0h1m19 0h1m11 0h1m10 0h1M40 102h1m21 0h1m57 0h1m7 0h1m11 0h1m10 0h1M53 103h1m31 0h1m18 0h1M88 106h1m2 0h1m1 0h1m59 0h1M70 109h1M126 110h1M12 112h1M91 113h1M12 115h1m29 0h1m5 0h1m75 0h1M67 116h1M115 117h1m37 0h1M149 118h1M92 119h1M55 121h1M56 122h1m70 0h1M167 125h1M78 126h1m42 0h1m30 0h1m13 0h1M18 127h1m110 0h1m9 0h1m11 0h1M13 128h1m67 0h1m4 0h1m37 0h1M55 129h1M42 130h2M11 131h1m61 0h1m53 0h1m10 0h1m12 0h1M131 132h1m4 0h1M76 134h1M100 136h1M28 137h1M19 140h1m13 0h1m53 0h1m40 0h1m8 0h1m1 0h1m7 0h1M128 141h1M50 142h1m3 0h1m55 0h1m15 0h1m6 0h1M49 143h1m27 0h1m13 0h1M42 144h1M10 145h1m80 0h1m20 0h1M82 146h1M55 148h1M28 149h1m96 0h1m1 0h1M41 150h1m55 0h1m51 0h1M139 151h1M97 152h1M129 153h1M73 154h1m51 0h1m21 0h1M11 155h1m137 0h1M128 157h1M72 158h1m25 0h1M3 159h1m66 0h1m53 0h1M19 160h1M13 161h1m44 0h1M131 162h1M99 163h1m4 0h1M21 164h1m27 0h1m76 0h1M128 167h1M167 168h1M56 169h1m69 0h1m24 0h1M161 172h1M106 173h1m9 0h1M20 175h1M128 177h1M121 178h1"/>
<path stroke="#107a37" d="M149 0h1M126 1h1m6 0h1m33 0h1M127 2h1M12 3h1m15 0h1M14 4h1m114 0h1M43 6h1m103 0h1m4 0h1M55 7h1m69 0h1m22 0h1m16 0h1M2 8h1m53 0h1m21 0h1M11 9h1m114 0h1m26 0h1M62 10h1m48 0h1m15 0h2m29 0h1M132 11h1M125 13h1M20 17h1m34 0h1m5 0h1m99 0h1M149 18h1M18 20h1M103 21h1M27 22h1m27 0h1M108 23h1M21 24h2m96 0h1m5 0h1M43 25h1m5 0h1m28 0h1m28 0h1m15 0h2m12 0h1m1 0h1M38 26h1m2 0h1m49 0h1m32 0h1m14 0h1m15 0h1M44 27h1m47 0h1m27 0h1m28 0h1M43 28h1m84 0h1m20 0h1M159 29h1M44 30h1M51 31h1M125 34h1M166 36h1M13 37h1m134 0h1m16 0h1M5 38h1m159 0h1M14 39h1m132 0h1M88 40h1m36 0h1M62 41h1m61 0h1M12 43h1m5 0h1m46 0h1m58 0h1m1 0h1m1 0h1m5 0h1m5 0h1m6 0h1m12 0h1M42 44h1m6 0h1m68 0h2m20 0h1m6 0h1M12 45h1m113 0h1m12 0h1m18 0h1M17 46h1m8 0h1m16 0h1m5 0h1m44 0h1m31 0h1M133 47h1M158 48h1m4 0h1M91 49h1m36 0h1m16 0h1M116 51h1M7 52h1m73 0h1m45 0h1m16 0h1M6 54h1m128 0h1M41 55h1M115 56h1m24 0h1m8 0h1M42 57h1m48 0h1m66 0h1m3 0h1M26 58h1m3 0h1m29 0h1m8 0h1m29 0h1m39 0h1m20 0h1M51 59h1m9 0h1m66 0h1m10 0h1M5 60h1m1 0h1m34 0h1M8 61h1m117 0h1M127 62h1m7 0h1M92 63h1m6 0h1M55 65h1M124 66h1m2 0h1M92 68h1m1 0h1M62 69h1m26 0h2M17 70h1m70 0h2m5 0h1m26 0h1m19 0h1M0 71h1m76 0h1m13 0h1M18 72h1m78 0h1M71 73h1m26 0h1M7 74h1m48 0h1m33 0h1m36 0h1m12 0h1M110 75h1m50 0h1M71 76h2m2 0h1m11 0h1M43 77h1m47 0h1m2 0h1m44 0h1M48 78h1m75 0h1M9 79h1m85 0h1M78 80h1m48 0h1M0 81h1M49 82h1M124 83h1M9 84h1m104 0h1m22 0h1M49 85h1M94 86h1m23 0h1M49 87h1m75 0h1M73 88h1M122 89h1m32 0h1M49 90h1m26 0h2m1 0h1M12 91h1m68 0h2m3 0h1m5 0h1m3 0h1m3 0h1m20 0h1M54 92h1M55 93h1m29 0h1m39 0h1m12 0h1M12 94h1m16 0h1m48 0h1m11 0h1m26 0h1m6 0h1m2 0h1M28 95h1m43 0h1m20 0h1m9 0h1m22 0h1M75 96h1m50 0h2M73 97h2m3 0h1m89 0h1M5 98h1m88 0h1M44 99h1m11 0h1m31 0h1M74 100h1m3 0h1m12 0h1m34 0h1m23 0h1m15 0h1M41 101h1m7 0h1m14 0h1m11 0h1m25 0h1M3 102h1m1 0h1m82 0h1m2 0h1m18 0h1m56 0h1M75 103h1M64 104h1m25 0h1m6 0h1m41 0h1M50 105h1m37 0h1m19 0h1M108 106h1M127 107h1m21 0h1M4 108h1m36 0h1M116 109h1m23 0h1m8 0h1M10 110h1m17 0h1m99 0h1M49 112h1M56 114h1m55 0h1m13 0h1M66 115h1m58 0h1m1 0h1m14 0h1M42 116h1M56 117h1m70 0h1m38 0h1M67 119h1m71 0h1M52 120h1M28 122h1m14 0h1m28 0h1m52 0h1M136 123h1M63 124h1m36 0h1M13 125h1m13 0h1m15 0h1m7 0h1m88 0h1m11 0h1M12 126h1m15 0h1m8 0h1m24 0h1m69 0h1m11 0h1m6 0h1M57 127h1m32 0h1m1 0h1m32 0h1M19 128h2m8 0h1m18 0h1m42 0h1m24 0h1m4 0h1m25 0h1M164 129h1M40 130h1m9 0h1m21 0h1m3 0h1m22 0h1m4 0h2m26 0h1m6 0h1M5 131h1m36 0h2m32 0h1m45 0h1m5 0h1m7 0h1m6 0h1M32 132h1m96 0h1m14 0h1m4 0h1M104 133h1m14 0h1m7 0h1m21 0h1m16 0h1M91 135h1M92 136h1m26 0h1m6 0h1m33 0h1M106 137h1M65 138h1m8 0h1m51 0h1M43 139h1m81 0h1M42 140h1m78 0h1m2 0h1m35 0h1M9 141h1m117 0h1M43 142h1m26 0h1M149 143h1M7 144h1m118 0h1M12 145h1m33 0h1m2 0h1m36 0h1m38 0h1M126 146h1M63 147h1M42 148h1m28 0h1m75 0h1M42 149h1m48 0h1m7 0h1M11 151h1m115 0h1m24 0h1M31 152h1m17 0h1m50 0h1M49 154h2m88 0h1M49 155h1m5 0h1M100 156h1M22 158h1m19 0h1m1 0h1m4 0h1m15 0h1M55 159h1m18 0h1m19 0h1M49 160h1M55 161h1m94 0h1M58 162h1m102 0h1M12 163h1m25 0h1m17 0h1m53 0h1m13 0h3M55 164h1M26 165h1M49 167h1m60 0h1M133 169h1M36 173h1M49 179h1M12 181h1m81 0h1M159 182h1"/>
<path stroke="#006b2b" d="M92 0h1m67 0h1M85 1h1m38 0h1m3 0h1M35 2h1m103 0h1M91 3h1m17 0h1M33 4h1m90 0h1m31 0h1M2 5h1m39 0h1m6 0h1m92 0h1M44 6h1M98 8h1M7 9h1m64 0h1m33 0h1m58 0h1M49 10h1m76 0h1m39 0h1M84 11h1M119 12h1M28 13h1m95 0h1M55 14h2m9 0h1m10 0h1m9 0h1m11 0h1M62 15h1m63 0h1m37 0h1M2 17h1m2 0h1M168 18h1M122 19h1M45 20h1m28 0h1m76 0h1M19 21h1m41 0h1m65 0h1M72 22h1m52 0h1m34 0h1M40 23h1m15 0h2M8 24h1m5 0h1m12 0h1m15 0h1m54 0h1m5 0h1m22 0h1m21 0h1M18 25h1m3 0h1m5 0h1m99 0h2M27 26h1m15 0h1m5 0h1m4 0h2m77 0h1m9 0h1m16 0h1M6 27h1m22 0h1m12 0h1m15 0h1m34 0h1m28 0h3M1 28h1m24 0h1m95 0h1M12 29h1m17 0h1m13 0h1M40 30h1m1 0h1m38 0h1m42 0h1m1 0h1M39 31h1m4 0h1m82 0h1m24 0h1M35 32h1m2 0h1m4 0h1m84 0h1m21 0h2M31 33h1m11 0h1m17 0h1m56 0h1M128 34h1m10 0h1M125 35h1M105 36h1m19 0h2M68 37h1m41 0h1m8 0h1M125 38h1M49 39h1M49 40h1m110 0h1M44 41h1M39 42h1m82 0h1M40 43h1m84 0h1m24 0h1M23 44h1m14 0h1m7 0h1m75 0h1m6 0h1m21 0h2M42 45h1m4 0h1m22 0h1m43 0h1m14 0h1m3 0h1m16 0h1M24 46h1m12 0h1m123 0h1M18 47h1m23 0h1m79 0h1m6 0h1M28 48h1m37 0h1m61 0h1M22 49h1m69 0h1M37 50h1m44 0h1m57 0h1M8 51h1m116 0h1m1 0h1M91 52h1m7 0h1m26 0h1M10 53h1M12 54h1m42 0h1m85 0h1M61 55h1m84 0h1M18 56h1m43 0h1m32 0h1m32 0h1m22 0h1M41 57h1m1 0h1m12 0h1m8 0h1m8 0h1m31 0h1m19 0h2m10 0h1m8 0h1M22 58h1m10 0h1m8 0h1m12 0h1m19 0h1m6 0h2m1 0h1m5 0h1m28 0h1m5 0h1m13 0h1m8 0h1m5 0h1m8 0h1m1 0h1M2 59h1m3 0h1m7 0h1m13 0h1m12 0h1m16 0h1m32 0h1m31 0h1m2 0h1m4 0h1M4 60h1m32 0h1m122 0h1M60 61h1M12 62h1m36 0h1m49 0h1m11 0h1M40 63h1m50 0h1m1 0h1m31 0h1m34 0h1M12 64h1m153 0h1M42 65h1M45 66h1m10 0h1m5 0h1m27 0h1m34 0h1m39 0h1M13 67h1M62 68h1m26 0h1m11 0h1m39 0h1m15 0h1M55 69h1m36 0h1m24 0h1m8 0h1m23 0h1M53 70h1m39 0h1m31 0h1M73 71h1m19 0h1m32 0h1m22 0h1M0 72h1m42 0h1m29 0h1m15 0h1m6 0h1m2 0h1M72 73h1m3 0h1m15 0h1m2 0h1m44 0h1M49 74h1m26 0h2m11 0h1m11 0h1m42 0h1M11 75h1m38 0h1m21 0h1m3 0h1m50 0h1m17 0h1M35 76h1m28 0h1m33 0h1M41 77h1m31 0h2m17 0h1M49 78h1m43 0h1m2 0h1m21 0h2m38 0h1M85 79h1m6 0h1m6 0h1m20 0h1m27 0h1M22 80h1m116 0h1M164 81h1M42 82h1m87 0h1m30 0h1M62 85h1M12 86h1M85 87h1m30 0h1M12 88h1m23 0h1m18 0h1m23 0h1m7 0h1M125 89h1M161 90h1M2 91h1m4 0h1m20 0h1m20 0h1m1 0h1m4 0h1m9 0h1m11 0h1m14 0h1m10 0h1m5 0h1m13 0h1M41 92h2m7 0h1m19 0h1m22 0h1m20 0h1m1 0h1m11 0h1m11 0h1M56 93h1m2 0h1m30 0h1m15 0h1m3 0h1m29 0h1m23 0h1M23 94h1m49 0h1m14 0h1m30 0h1m19 0h1m5 0h1M69 95h1m8 0h2m10 0h1m3 0h1M74 96h1m4 0h1M12 97h1m59 0h1m16 0h1m11 0h1m49 0h1M25 98h1m9 0h1m41 0h1M79 99h1m11 0h2m2 0h1m32 0h1m32 0h1M62 100h1m32 0h1m1 0h1m11 0h2m17 0h1m26 0h1m4 0h1M56 101h1m18 0h1m14 0h4m5 0h1m66 0h1M12 102h1m15 0h1m27 0h1m17 0h1m15 0h1m1 0h1m3 0h1m4 0h1M74 103h1m52 0h1m5 0h1m21 0h1M57 104h1m35 0h1m4 0h1M94 105h1m32 0h1M73 106h1m7 0h1m30 0h1M44 107h1m74 0h1M74 108h1m28 0h1M108 109h1m57 0h1M43 110h1m11 0h2m70 0h1m10 0h1m19 0h1m1 0h1M1 112h1m4 0h1m48 0h1m20 0h1M48 114h1M56 115h1m42 0h1m67 0h1M114 116h1m46 0h1M97 117h1m44 0h1m19 0h1M12 118h1m9 0h1m68 0h1m29 0h1M122 119h1m3 0h1m6 0h1M85 120h1m1 0h1M28 121h1m62 0h1M74 122h1m72 0h1M43 123h1m47 0h1M0 124h1m7 0h1m10 0h1m2 0h1m9 0h1m9 0h1m11 0h1m1 0h1m26 0h2m12 0h1m1 0h1m23 0h1m4 0h1m10 0h1m9 0h1m1 0h1M10 125h1m1 0h1m4 0h1m18 0h1m12 0h1m12 0h1m4 0h1m26 0h1m28 0h1m9 0h1m11 0h1m4 0h1m7 0h1m2 0h1M9 126h1m23 0h1m25 0h1m14 0h1m17 0h1m38 0h1m9 0h1M13 127h1m19 0h1m7 0h1m27 0h1m29 0h1m1 0h1m20 0h1m37 0h2M7 128h1m26 0h1m21 0h1m35 0h1m1 0h1m4 0h1m1 0h1m24 0h1m29 0h1m3 0h1M3 129h1m62 0h1m11 0h1m30 0h1m16 0h1M22 130h1m35 0h1m19 0h1m2 0h1m9 0h1m31 0h1m5 0h1m3 0h1m23 0h2M44 131h1m54 0h1m19 0h1m5 0h1m4 0h1m8 0h1m9 0h1M7 132h1m6 0h1m102 0h1m5 0h2m41 0h1M62 134h1m57 0h1m3 0h1M55 136h2m58 0h1m6 0h1m11 0h1m26 0h1M11 137h1m53 0h1m95 0h1M101 138h1M12 139h1m34 0h1M31 140h1m18 0h1m12 0h1m10 0h1m41 0h1m9 0h1m5 0h1M54 141h1m7 0h1m61 0h1m8 0h1M81 142h1m57 0h1M29 143h1m89 0h1M43 144h1M28 145h1m97 0h1m22 0h1m10 0h2M127 146h1M55 147h1M24 148h1M120 149h1M0 150h1m21 0h1m26 0h1m18 0h1m69 0h2m7 0h1M124 151h1m1 0h1M42 152h1m82 0h1m13 0h1M140 153h1m11 0h1M17 154h1m18 0h1m54 0h1m30 0h1m3 0h1m13 0h1M3 155h1m154 0h1M5 156h1m112 0h1m5 0h1M125 157h1m25 0h1m2 0h1M14 158h1m28 0h1m15 0h1m73 0h1m16 0h1M15 159h1m26 0h1m13 0h1m50 0h1m2 0h1m14 0h2m28 0h1M56 160h1m24 0h1M62 161h1m4 0h1m15 0h1m7 0h1m4 0h1m35 0h1m25 0h1m4 0h1M11 162h1m106 0h1M86 163h1m40 0h1M38 164h1M46 165h1m17 0h1m32 0h1M74 166h1m25 0h1m21 0h1M85 168h1m80 0h1M91 169h1M149 170h1m17 0h1M43 173h1m102 0h1M155 175h1M49 176h1M124 178h1M92 179h1M42 183h1m81 0h1m3 0h1M37 184h1m5 0h1"/>
<path stroke="#005723" d="M150 0h1M4 1h1m87 0h1M13 2h1m85 0h1m40 0h1M15 3h1m27 0h1m5 0h1m1 0h2m46 0h1m45 0h1M74 4h1M3 5h1m124 0h1m10 0h1m10 0h1m10 0h1M91 6h1m14 0h1m42 0h1M12 7h1m36 0h1m52 0h1m7 0h1M49 8h1M85 9h1M28 10h1m58 0h1M92 11h1m23 0h1m22 0h1M5 12h1m50 0h1m56 0h1m11 0h2m13 0h1M5 13h1m49 0h1m87 0h1m16 0h1M124 14h1M12 15h1m16 0h1m53 0h1m8 0h1m16 0h1M91 16h1m36 0h1m11 0h1M112 17h1M49 18h1m50 0h1m61 0h1M59 19h1m39 0h1m17 0h1m9 0h2m17 0h1M82 20h1m43 0h1M68 21h1m30 0h1M20 22h1m8 0h1m63 0h1M27 23h1m72 0h1m25 0h2M5 24h1m31 0h1m36 0h2m85 0h1M5 25h1m7 0h1m3 0h1m24 0h1m7 0h1m4 0h1m44 0h1m11 0h1m3 0h1m4 0h1M6 26h1m2 0h1m9 0h1m14 0h1m25 0h1m15 0h2m15 0h1m40 0h1m14 0h1m9 0h1m5 0h1M12 27h1m22 0h1m25 0h1m10 0h1m26 0h1m16 0h1m10 0h1m1 0h1m24 0h2m4 0h2M22 28h1m21 0h1m1 0h1m7 0h1m10 0h1m19 0h1m3 0h1m14 0h1m55 0h1M49 29h1m35 0h1m62 0h1M22 30h1m138 0h1M49 31h1m4 0h1m49 0h1m21 0h1M34 32h1M128 33h1m14 0h1M5 34h1m18 0h1m3 0h1m54 0h1m10 0h1m15 0h1m22 0h1m15 0h1m10 0h1M33 35h1m59 0h1m35 0h1M91 36h1M35 37h1m55 0h1m72 0h1M18 38h1m97 0h1m2 0h1m29 0h1M38 39h1m52 0h1m7 0h1m60 0h1M7 40h1m30 0h1m2 0h1m110 0h1M91 41h1m12 0h1m14 0h1m46 0h1M46 42h1m8 0h1m68 0h1m3 0h1M24 43h1m9 0h1m4 0h1m10 0h1m1 0h1m39 0h1m8 0h1m25 0h1m11 0h1m23 0h1M2 44h2m16 0h1m13 0h1m15 0h1m12 0h1m1 0h1m8 0h1m16 0h1m7 0h1m23 0h1m2 0h2m4 0h1m4 0h2m21 0h1m6 0h1M21 45h1m18 0h1m8 0h1m41 0h1m35 0h1m3 0h1M12 46h1m15 0h1m99 0h1m19 0h1M11 47h2m33 0h1m8 0h1m26 0h1m15 0h1m22 0h1M47 48h1m77 0h1M110 49h1m22 0h1M116 50h1m9 0h1m33 0h1M114 51h1M47 52h1m7 0h1m21 0h1m61 0h1M32 53h1m91 0h1M43 54h1m22 0h1m7 0h1m17 0h1m31 0h1m2 0h2m11 0h1m8 0h1m10 0h2m2 0h1M28 55h1m11 0h1m122 0h1M55 56h1m9 0h1m91 0h1M31 57h2m3 0h1m13 0h1m32 0h1m1 0h1m18 0h1m14 0h1m2 0h1m1 0h1m14 0h1m19 0h1M2 58h1m18 0h1m2 0h1m2 0h1m15 0h1m5 0h1m12 0h1m61 0h2m21 0h1M5 59h1m44 0h1m5 0h1m6 0h1m9 0h1m15 0h1m20 0h1m9 0h1m8 0h1m11 0h1M62 60h1M37 62h1m18 0h1m8 0h1M11 63h1m41 0h1m51 0h1m21 0h1m5 0h1m15 0h1M15 64h1m17 0h1m10 0h1m4 0h1m27 0h1m13 0h1m34 0h1M67 65h1M55 66h1m36 0h1m16 0h1M45 67h1m16 0h1m77 0h1M82 68h1m33 0h1m7 0h2m41 0h1M6 69h1m88 0h2m1 0h2m25 0h1M43 70h1m1 0h1m48 0h1m26 0h1m4 0h1m10 0h1m2 0h1M76 71h1m13 0h1m1 0h1m6 0h1m21 0h1m11 0h1M75 72h1m1 0h1m12 0h1m1 0h1m7 0h1m24 0h1M66 73h1m7 0h1m7 0h1m5 0h1m58 0h1M5 74h1m8 0h1m7 0h1m19 0h2m27 0h1m88 0h1M74 75h1m16 0h2m2 0h2m2 0h1m20 0h1m41 0h1M8 76h1m40 0h1m23 0h1m3 0h1m11 0h1m3 0h1m3 0h1m3 0h1m25 0h1M71 77h1m18 0h1m9 0h2m24 0h1M5 78h1m56 0h1m43 0h1m44 0h1M46 79h1m8 0h1m33 0h1M12 80h1m29 0h1m2 0h1m21 0h1m57 0h1m28 0h1m5 0h1M116 81h1m9 0h1M83 82h1m7 0h1m34 0h2m23 0h1M81 83h1m7 0h1M43 84h1m12 0h1m70 0h1m32 0h1M10 85h1M85 86h1M2 87h1m25 0h1m62 0h1m27 0h1M128 88h1M12 89h1m64 0h2m14 0h2M91 90h1m34 0h2M13 91h1m28 0h2m29 0h1m16 0h1m3 0h1m7 0h1m9 0h1m14 0h1m22 0h2M12 92h2m4 0h1m24 0h1m5 0h1m22 0h1m1 0h1m3 0h2m1 0h1m9 0h1m4 0h1m2 0h1m5 0h1m6 0h1m14 0h1m25 0h1M86 93h1m1 0h1m13 0h2m4 0h1m7 0h1m9 0h1M72 94h1m19 0h1m4 0h1M0 95h1m60 0h1m35 0h1m51 0h1M56 96h1m20 0h2m16 0h1m5 0h1M70 97h1m19 0h1m8 0h1M56 98h1m16 0h2m3 0h1m9 0h1m2 0h1m4 0h1m3 0h1M29 99h1m46 0h1m16 0h1m6 0h1m17 0h1M13 100h1m24 0h1m3 0h2m45 0h2m10 0h1m14 0h1m10 0h1M73 101h1m7 0h1m29 0h1m28 0h1m12 0h1m6 0h1M11 102h1m31 0h1m5 0h2m4 0h1m16 0h2m5 0h1m18 0h1m26 0h1m3 0h1m17 0h2m12 0h1M78 103h1m9 0h1m3 0h1m3 0h1m2 0h1m2 0h1M5 104h1m83 0h1m6 0h1m65 0h1M91 105h1m3 0h1M67 106h1m21 0h2m1 0h1M62 108h1m78 0h1m18 0h1M31 109h1m23 0h1m16 0h1M74 110h1m29 0h1m34 0h1m21 0h1M12 111h1m77 0h1m58 0h2M167 112h1M52 113h1M55 114h1m43 0h1m23 0h1m3 0h1M22 115h1m74 0h1m41 0h1M71 116h1m19 0h1M55 117h1m47 0h1M55 118h1M82 119h1m37 0h1m19 0h1M28 120h1m16 0h1m78 0h1M117 122h1M111 123h1m16 0h1M45 124h1m18 0h1m5 0h1m20 0h1m12 0h1m20 0h1m14 0h1M55 125h1m5 0h1m22 0h1m20 0h1m2 0h1m19 0h1m20 0h1m1 0h1M49 126h1m2 0h1m29 0h1m2 0h1m2 0h1m6 0h2m28 0h1m2 0h1m6 0h1m4 0h1m14 0h1M26 127h1m16 0h1m5 0h1m5 0h1m47 0h1m12 0h1m1 0h1m4 0h1m17 0h1m7 0h1M5 128h1m3 0h1m29 0h1m2 0h1m66 0h1m15 0h1m3 0h1m25 0h1M42 129h1m82 0h1m4 0h1M49 130h1m5 0h1m36 0h1m20 0h1m8 0h1m1 0h2m11 0h1m5 0h1m12 0h1m9 0h1M10 131h1m1 0h1m36 0h1m20 0h1m17 0h1m27 0h1m6 0h1M22 132h1m102 0h1M2 133h1m29 0h1m23 0h1m58 0h1m14 0h1m9 0h1M37 134h1m5 0h1M132 135h1M26 136h1m6 0h1m9 0h1m65 0h1m11 0h1m2 0h1M42 137h1m34 0h1M22 138h1m26 0h1m23 0h1m17 0h1m32 0h1M131 139h1M13 140h1m41 0h1m6 0h1m23 0h1m23 0h1m14 0h1m1 0h1m15 0h1M48 142h1m55 0h1m62 0h1M12 143h1m86 0h1M55 145h1m32 0h1m35 0h1M12 146h1m42 0h1m54 0h1M29 147h1m97 0h1m40 0h1M49 148h1m50 0h1M16 149h1m143 0h1m1 0h1M12 150h2m3 0h1m24 0h1m12 0h1m84 0h1m4 0h1m14 0h2M67 151h1m18 0h1M4 152h1m50 0h1m98 0h1m5 0h1M14 153h1m77 0h1M23 154h1m68 0h1m31 0h1m2 0h1m17 0h1M127 155h1M6 156h1m85 0h1m9 0h2m23 0h1m5 0h1M28 157h1m132 0h1M55 158h1m31 0h1m11 0h1m39 0h1m4 0h1m15 0h1m1 0h1M7 159h1m4 0h1m12 0h1m18 0h1m4 0h1m12 0h1m66 0h1m9 0h1M9 160h1m82 0h1m35 0h1M49 161h1m106 0h1M99 162h1m26 0h1M42 163h1m63 0h1m7 0h1m25 0h1m8 0h1m1 0h1M32 164h1m28 0h1M10 165h1m39 0h1m34 0h1m42 0h1M55 166h1m35 0h1m13 0h1M55 167h1m43 0h1m4 0h1m19 0h1m1 0h1M21 168h1m54 0h1m14 0h1m54 0h1M37 170h1m11 0h1m3 0h1m45 0h1M28 171h1M49 172h1m63 0h1m14 0h1M100 173h1M5 174h1m145 0h1M74 175h1m91 0h1M44 176h1M125 180h1M126 181h1M29 183h1"/>
<path stroke="#000000" d="M0 0h1M1 1h1M2 2h1M3 3h1M4 4h1M5 5h1M6 6h1M7 7h1M8 8h1M9 9h1M10 10h1M11 11h1M12 12h1M13 13h1M14 14h1M15 15h1M16 16h1M17 17h1M18 18h1M19 19h1M20 20h1M21 21h1M22 22h1M23 23h1M24 24h1M25 25h1M26 26h1M27 27h1M28 28h1M29 29h1M30 30h1M31 31h1M32 32h1M33 33h1M34 34h1M35 35h1M36 36h1M37 37h1M38 38h1M39 39h1M40 40h1M41 41h1M42 42h1M43 43h1M44 44h1M45 45h1M46 46h1M47 47h1M48 48h1M49 49h1M50 50h1M51 51h1M52 52h1M53 53h1M54 54h1M55 55h1M56 56h1M57 57h1M58 58h1M59 59h1M60 60h1M61 61h1M62 62h1M63 63h1M64 64h1M65 65h1M66 66h1M67 67h1M68 68h1M69 69h1M70 70h1M71 71h1M72 72h1M73 73h1M74 74h1M75 75h1M76 76h1M77 77h1M78 78h1M79 79h1M80 80h1M81 81h1M82 82h1M83 83h1M84 84h1M85 85h1M86 86h1M87 87h1M88 88h1M89 89h1M90 90h1M91 91h1M92 92h1M93 93h1M94 94h1M95 95h1M96 96h1M97 97h1M98 98h1M99 99h1M100 100h1M101 101h1M102 102h1M103 103h1M104 104h1M105 105h1M106 106h1M107 107h1M108 108h1M109 109h1M110 110h1M111 111h1M112 112h1M113 113h1M114 114h1M115 115h1M116 116h1M117 117h1M118 118h1M119 119h1M120 120h1M121 121h1M122 122h1M123 123h1M124 124h1M125 125h1M126 126h1M127 127h1M128 128h1M129 129h1M130 130h1M131 131h1M132 132h1M133 133h1M134 134h1M135 135h1M136 136h1M137 137h1M138 138h1M139 139h1M140 140h1M141 141h1M142 142h1M143 143h1M144 144h1M145 145h1M146 146h1M147 147h1M148 148h1M149 149h1M150 150h1M151 151h1M152 152h1M153 153h1M154 154h1M155 155h1M156 156h1M157 157h1M158 158h1M159 159h1M160 160h1M161 161h1M162 162h1M163 163h1M164 164h1M165 165h1M166 166h1M167 167h1M168 168h1"/>
</g>
<rect x="1196.7" y="1161.8" width="709" height="781.5" fill="none" stroke="#000" stroke-width="1.5"/>
<path d="M1198.1 1158.8L1905.7 1158.8" stroke="#000" stroke-width="6" stroke-dasharray="1.4 2.795" fill="none"/>
<path d="M1198.1 1946.3L1905.7 1946.3" stroke="#000" stroke-width="6" stroke-dasharray="1.4 2.795" fill="none"/>
<path d="M1193.7 1163.21L1193.7 1943.3" stroke="#000" stroke-width="6" stroke-dasharray="1.4 2.824" fill="none"/>
<path d="M1908.7 1163.21L1908.7 1943.3" stroke="#000" stroke-width="6" stroke-dasharray="1.4 2.824" fill="none"/>
<g font-size="5.1" text-anchor="end" transform="translate(0 0) scale(1.21 1)" stroke="#000" stroke-width="0.12">
<text x="982.9" y="1165.7">ADAL</text>
<text x="982.9" y="1170">ADAR</text>
<text x="982.9" y="1174.2">ADEL</text>
<text x="982.9" y="1178.4">ADER</text>
<text x="982.9" y="1182.6">ADFL</text>
<text x="982.9" y="1186.9">ADLL</text>
<text x="982.9" y="1191.1">ADLR</text>
<text x="982.9" y="1195.3">AFDL</text>
<text x="982.9" y="1199.5">AFDR</text>
<text x="982.9" y="1203.8">AIAL</text>
<text x="982.9" y="1208">AIAR</text>
<text x="982.9" y="1212.2">AIBL</text>
<text x="982.9" y="1216.4">AIBR</text>
<text x="982.9" y="1220.7">AIML</text>
<text x="982.9" y="1224.9">AIMR</text>
<text x="982.9" y="1229.1">AINL</text>
<text x="982.9" y="1233.3">AINR</text>
<text x="982.9" y="1237.6">AIYL</text>
<text x="982.9" y="1241.8">AIYR</text>
<text x="982.9" y="1246">AIZL</text>
<text x="982.9" y="1250.2">AIZR</text>
<text x="982.9" y="1254.5">ALA</text>
<text x="982.9" y="1258.7">AQR</text>
<text x="982.9" y="1262.9">ASEL</text>
<text x="982.9" y="1267.1">ASER</text>
<text x="982.9" y="1271.4">ASGL</text>
<text x="982.9" y="1275.6">ASGR</text>
<text x="982.9" y="1279.8">ASHL</text>
<text x="982.9" y="1284">ASHR</text>
<text x="982.9" y="1288.3">ASIL</text>
<text x="982.9" y="1292.5">ASIR</text>
<text x="982.9" y="1296.7">ASJL</text>
<text x="982.9" y="1300.9">ASJR</text>
<text x="982.9" y="1305.2">ASKL</text>
<text x="982.9" y="1309.4">ASKR</text>
<text x="982.9" y="1313.6">AUAL</text>
<text x="982.9" y="1317.8">AUAR</text>
<text x="982.9" y="1322">AVAL</text>
<text x="982.9" y="1326.3">AVAR</text>
<text x="982.9" y="1330.5">AVBL</text>
<text x="982.9" y="1334.7">AVBR</text>
<text x="982.9" y="1338.9">AVDL</text>
<text x="982.9" y="1343.2">AVDR</text>
<text x="982.9" y="1347.4">AVEL</text>
<text x="982.9" y="1351.6">AVER</text>
<text x="982.9" y="1355.8">AVFL</text>
<text x="982.9" y="1360.1">AVFR</text>
<text x="982.9" y="1364.3">AVG</text>
<text x="982.9" y="1368.5">AVHL</text>
<text x="982.9" y="1372.7">AVHR</text>
<text x="982.9" y="1377">AVJL</text>
<text x="982.9" y="1381.2">AVJR</text>
<text x="982.9" y="1385.4">AVKL</text>
<text x="982.9" y="1389.6">AVKR</text>
<text x="982.9" y="1393.9">AVL</text>
<text x="982.9" y="1398.1">AWAL</text>
<text x="982.9" y="1402.3">AWAR</text>
<text x="982.9" y="1406.5">AWBL</text>
<text x="982.9" y="1410.8">AWBR</text>
<text x="982.9" y="1415">AWCL</text>
<text x="982.9" y="1419.2">AWCR</text>
<text x="982.9" y="1423.4">BAGL</text>
<text x="982.9" y="1427.7">BAGR</text>
<text x="982.9" y="1431.9">CEPDL</text>
<text x="982.9" y="1436.1">CEPDR</text>
<text x="982.9" y="1440.3">CEPVL</text>
<text x="982.9" y="1444.6">CEPVR</text>
<text x="982.9" y="1448.8">DB1</text>
<text x="982.9" y="1453">DB2</text>
<text x="982.9" y="1457.2">FLPL</text>
<text x="982.9" y="1461.5">FLPR</text>
<text x="982.9" y="1465.7">I1L</text>
<text x="982.9" y="1469.9">I1R</text>
<text x="982.9" y="1474.1">I2L</text>
<text x="982.9" y="1478.3">I2R</text>
<text x="982.9" y="1482.6">I3</text>
<text x="982.9" y="1486.8">I4</text>
<text x="982.9" y="1491">I5</text>
<text x="982.9" y="1495.2">I6</text>
<text x="982.9" y="1499.5">IL1DL</text>
<text x="982.9" y="1503.7">IL1DR</text>
<text x="982.9" y="1507.9">IL1L</text>
<text x="982.9" y="1512.1">IL1R</text>
<text x="982.9" y="1516.4">IL1VL</text>
<text x="982.9" y="1520.6">IL1VR</text>
<text x="982.9" y="1524.8">IL2DL</text>
<text x="982.9" y="1529">IL2DR</text>
<text x="982.9" y="1533.3">IL2L</text>
<text x="982.9" y="1537.5">IL2R</text>
<text x="982.9" y="1541.7">IL2VL</text>
<text x="982.9" y="1545.9">IL2VR</text>
<text x="982.9" y="1550.2">M1</text>
<text x="982.9" y="1554.4">M2L</text>
<text x="982.9" y="1558.6">M2R</text>
<text x="982.9" y="1562.8">M3L</text>
<text x="982.9" y="1567.1">M3R</text>
<text x="982.9" y="1571.3">M4</text>
<text x="982.9" y="1575.5">M5</text>
<text x="982.9" y="1579.7">MCL</text>
<text x="982.9" y="1584">MCR</text>
<text x="982.9" y="1588.2">MI</text>
<text x="982.9" y="1592.4">NSML</text>
<text x="982.9" y="1596.6">NSMR</text>
<text x="982.9" y="1600.9">OLLL</text>
<text x="982.9" y="1605.1">OLLR</text>
<text x="982.9" y="1609.3">OLQDL</text>
<text x="982.9" y="1613.5">OLQDR</text>
<text x="982.9" y="1617.8">OLQVL</text>
<text x="982.9" y="1622">OLQVR</text>
<text x="982.9" y="1626.2">RIAL</text>
<text x="982.9" y="1630.4">RIAR</text>
<text x="982.9" y="1634.6">RIBL</text>
<text x="982.9" y="1638.9">RIBR</text>
<text x="982.9" y="1643.1">RICL</text>
<text x="982.9" y="1647.3">RICR</text>
<text x="982.9" y="1651.5">RID</text>
<text x="982.9" y="1655.8">RIGL</text>
<text x="982.9" y="1660">RIGR</text>
<text x="982.9" y="1664.2">RIH</text>
<text x="982.9" y="1668.4">RIML</text>
<text x="982.9" y="1672.7">RIMR</text>
<text x="982.9" y="1676.9">RIPL</text>
<text x="982.9" y="1681.1">RIPR</text>
<text x="982.9" y="1685.3">RIR</text>
<text x="982.9" y="1689.6">RIS</text>
<text x="982.9" y="1693.8">RIVL</text>
<text x="982.9" y="1698">RIVR</text>
<text x="982.9" y="1702.2">RMDDL</text>
<text x="982.9" y="1706.5">RMDDR</text>
<text x="982.9" y="1710.7">RMDL</text>
<text x="982.9" y="1714.9">RMDR</text>
<text x="982.9" y="1719.1">RMDVL</text>
<text x="982.9" y="1723.4">RMDVR</text>
<text x="982.9" y="1727.6">RMED</text>
<text x="982.9" y="1731.8">RMEL</text>
<text x="982.9" y="1736">RMER</text>
<text x="982.9" y="1740.3">RMEV</text>
<text x="982.9" y="1744.5">RMGL</text>
<text x="982.9" y="1748.7">RMGR</text>
<text x="982.9" y="1752.9">SAADL</text>
<text x="982.9" y="1757.2">SAADR</text>
<text x="982.9" y="1761.4">SAAVL</text>
<text x="982.9" y="1765.6">SAAVR</text>
<text x="982.9" y="1769.8">SABD</text>
<text x="982.9" y="1774.1">SABVL</text>
<text x="982.9" y="1778.3">SABVR</text>
<text x="982.9" y="1782.5">SMBDL</text>
<text x="982.9" y="1786.7">SMBDR</text>
<text x="982.9" y="1790.9">SMBVL</text>
<text x="982.9" y="1795.2">SMBVR</text>
<text x="982.9" y="1799.4">SMDDL</text>
<text x="982.9" y="1803.6">SMDDR</text>
<text x="982.9" y="1807.8">SMDVL</text>
<text x="982.9" y="1812.1">SMDVR</text>
<text x="982.9" y="1816.3">URADL</text>
<text x="982.9" y="1820.5">URADR</text>
<text x="982.9" y="1824.7">URAVL</text>
<text x="982.9" y="1829">URAVR</text>
<text x="982.9" y="1833.2">URBL</text>
<text x="982.9" y="1837.4">URBR</text>
<text x="982.9" y="1841.6">URXL</text>
<text x="982.9" y="1845.9">URXR</text>
<text x="982.9" y="1850.1">URYDL</text>
<text x="982.9" y="1854.3">URYDR</text>
<text x="982.9" y="1858.5">URYVL</text>
<text x="982.9" y="1862.8">URYVR</text>
<text x="982.9" y="1867">VA1</text>
<text x="982.9" y="1871.2">VB1</text>
<text x="982.9" y="1875.4">VB2</text>
<text x="982.9" y="1879.7">ADFR</text>
<text x="982.9" y="1883.9">AVFL</text>
<text x="982.9" y="1888.1">AVER</text>
<text x="982.9" y="1892.3">DD1</text>
<text x="982.9" y="1896.6">IL1L</text>
<text x="982.9" y="1900.8">M4</text>
<text x="982.9" y="1905">RIEL</text>
<text x="982.9" y="1909.2">RIFR</text>
<text x="982.9" y="1913.5">RMHL</text>
<text x="982.9" y="1917.7">SIADL</text>
<text x="982.9" y="1921.9">SIADR</text>
<text x="982.9" y="1926.1">SIAVL</text>
<text x="982.9" y="1930.4">SIAVR</text>
<text x="982.9" y="1934.6">SIBDL</text>
<text x="982.9" y="1938.8">SIBDR</text>
<text x="982.9" y="1943">SIBVL</text>
</g>
<g font-size="5.1" transform="translate(0 0) scale(1.21 1)" stroke="#000" stroke-width="0.12">
<text x="1581.1" y="1165.7">ADAL</text>
<text x="1581.1" y="1170">ADAR</text>
<text x="1581.1" y="1174.2">ADEL</text>
<text x="1581.1" y="1178.4">ADER</text>
<text x="1581.1" y="1182.6">ADFL</text>
<text x="1581.1" y="1186.9">ADLL</text>
<text x="1581.1" y="1191.1">ADLR</text>
<text x="1581.1" y="1195.3">AFDL</text>
<text x="1581.1" y="1199.5">AFDR</text>
<text x="1581.1" y="1203.8">AIAL</text>
<text x="1581.1" y="1208">AIAR</text>
<text x="1581.1" y="1212.2">AIBL</text>
<text x="1581.1" y="1216.4">AIBR</text>
<text x="1581.1" y="1220.7">AIML</text>
<text x="1581.1" y="1224.9">AIMR</text>
<text x="1581.1" y="1229.1">AINL</text>
<text x="1581.1" y="1233.3">AINR</text>
<text x="1581.1" y="1237.6">AIYL</text>
<text x="1581.1" y="1241.8">AIYR</text>
<text x="1581.1" y="1246">AIZL</text>
<text x="1581.1" y="1250.2">AIZR</text>
<text x="1581.1" y="1254.5">ALA</text>
<text x="1581.1" y="1258.7">AQR</text>
<text x="1581.1" y="1262.9">ASEL</text>
<text x="1581.1" y="1267.1">ASER</text>
<text x="1581.1" y="1271.4">ASGL</text>
<text x="1581.1" y="1275.6">ASGR</text>
<text x="1581.1" y="1279.8">ASHL</text>
<text x="1581.1" y="1284">ASHR</text>
<text x="1581.1" y="1288.3">ASIL</text>
<text x="1581.1" y="1292.5">ASIR</text>
<text x="1581.1" y="1296.7">ASJL</text>
<text x="1581.1" y="1300.9">ASJR</text>
<text x="1581.1" y="1305.2">ASKL</text>
<text x="1581.1" y="1309.4">ASKR</text>
<text x="1581.1" y="1313.6">AUAL</text>
<text x="1581.1" y="1317.8">AUAR</text>
<text x="1581.1" y="1322">AVAL</text>
<text x="1581.1" y="1326.3">AVAR</text>
<text x="1581.1" y="1330.5">AVBL</text>
<text x="1581.1" y="1334.7">AVBR</text>
<text x="1581.1" y="1338.9">AVDL</text>
<text x="1581.1" y="1343.2">AVDR</text>
<text x="1581.1" y="1347.4">AVEL</text>
<text x="1581.1" y="1351.6">AVER</text>
<text x="1581.1" y="1355.8">AVFL</text>
<text x="1581.1" y="1360.1">AVFR</text>
<text x="1581.1" y="1364.3">AVG</text>
<text x="1581.1" y="1368.5">AVHL</text>
<text x="1581.1" y="1372.7">AVHR</text>
<text x="1581.1" y="1377">AVJL</text>
<text x="1581.1" y="1381.2">AVJR</text>
<text x="1581.1" y="1385.4">AVKL</text>
<text x="1581.1" y="1389.6">AVKR</text>
<text x="1581.1" y="1393.9">AVL</text>
<text x="1581.1" y="1398.1">AWAL</text>
<text x="1581.1" y="1402.3">AWAR</text>
<text x="1581.1" y="1406.5">AWBL</text>
<text x="1581.1" y="1410.8">AWBR</text>
<text x="1581.1" y="1415">AWCL</text>
<text x="1581.1" y="1419.2">AWCR</text>
<text x="1581.1" y="1423.4">BAGL</text>
<text x="1581.1" y="1427.7">BAGR</text>
<text x="1581.1" y="1431.9">CEPDL</text>
<text x="1581.1" y="1436.1">CEPDR</text>
<text x="1581.1" y="1440.3">CEPVL</text>
<text x="1581.1" y="1444.6">CEPVR</text>
<text x="1581.1" y="1448.8">DB1</text>
<text x="1581.1" y="1453">DB2</text>
<text x="1581.1" y="1457.2">FLPL</text>
<text x="1581.1" y="1461.5">FLPR</text>
<text x="1581.1" y="1465.7">I1L</text>
<text x="1581.1" y="1469.9">I1R</text>
<text x="1581.1" y="1474.1">I2L</text>
<text x="1581.1" y="1478.3">I2R</text>
<text x="1581.1" y="1482.6">I3</text>
<text x="1581.1" y="1486.8">I4</text>
<text x="1581.1" y="1491">I5</text>
<text x="1581.1" y="1495.2">I6</text>
<text x="1581.1" y="1499.5">IL1DL</text>
<text x="1581.1" y="1503.7">IL1DR</text>
<text x="1581.1" y="1507.9">IL1L</text>
<text x="1581.1" y="1512.1">IL1R</text>
<text x="1581.1" y="1516.4">IL1VL</text>
<text x="1581.1" y="1520.6">IL1VR</text>
<text x="1581.1" y="1524.8">IL2DL</text>
<text x="1581.1" y="1529">IL2DR</text>
<text x="1581.1" y="1533.3">IL2L</text>
<text x="1581.1" y="1537.5">IL2R</text>
<text x="1581.1" y="1541.7">IL2VL</text>
<text x="1581.1" y="1545.9">IL2VR</text>
<text x="1581.1" y="1550.2">M1</text>
<text x="1581.1" y="1554.4">M2L</text>
<text x="1581.1" y="1558.6">M2R</text>
<text x="1581.1" y="1562.8">M3L</text>
<text x="1581.1" y="1567.1">M3R</text>
<text x="1581.1" y="1571.3">M4</text>
<text x="1581.1" y="1575.5">M5</text>
<text x="1581.1" y="1579.7">MCL</text>
<text x="1581.1" y="1584">MCR</text>
<text x="1581.1" y="1588.2">MI</text>
<text x="1581.1" y="1592.4">NSML</text>
<text x="1581.1" y="1596.6">NSMR</text>
<text x="1581.1" y="1600.9">OLLL</text>
<text x="1581.1" y="1605.1">OLLR</text>
<text x="1581.1" y="1609.3">OLQDL</text>
<text x="1581.1" y="1613.5">OLQDR</text>
<text x="1581.1" y="1617.8">OLQVL</text>
<text x="1581.1" y="1622">OLQVR</text>
<text x="1581.1" y="1626.2">RIAL</text>
<text x="1581.1" y="1630.4">RIAR</text>
<text x="1581.1" y="1634.6">RIBL</text>
<text x="1581.1" y="1638.9">RIBR</text>
<text x="1581.1" y="1643.1">RICL</text>
<text x="1581.1" y="1647.3">RICR</text>
<text x="1581.1" y="1651.5">RID</text>
<text x="1581.1" y="1655.8">RIGL</text>
<text x="1581.1" y="1660">RIGR</text>
<text x="1581.1" y="1664.2">RIH</text>
<text x="1581.1" y="1668.4">RIML</text>
<text x="1581.1" y="1672.7">RIMR</text>
<text x="1581.1" y="1676.9">RIPL</text>
<text x="1581.1" y="1681.1">RIPR</text>
<text x="1581.1" y="1685.3">RIR</text>
<text x="1581.1" y="1689.6">RIS</text>
<text x="1581.1" y="1693.8">RIVL</text>
<text x="1581.1" y="1698">RIVR</text>
<text x="1581.1" y="1702.2">RMDDL</text>
<text x="1581.1" y="1706.5">RMDDR</text>
<text x="1581.1" y="1710.7">RMDL</text>
<text x="1581.1" y="1714.9">RMDR</text>
<text x="1581.1" y="1719.1">RMDVL</text>
<text x="1581.1" y="1723.4">RMDVR</text>
<text x="1581.1" y="1727.6">RMED</text>
<text x="1581.1" y="1731.8">RMEL</text>
<text x="1581.1" y="1736">RMER</text>
<text x="1581.1" y="1740.3">RMEV</text>
<text x="1581.1" y="1744.5">RMGL</text>
<text x="1581.1" y="1748.7">RMGR</text>
<text x="1581.1" y="1752.9">SAADL</text>
<text x="1581.1" y="1757.2">SAADR</text>
<text x="1581.1" y="1761.4">SAAVL</text>
<text x="1581.1" y="1765.6">SAAVR</text>
<text x="1581.1" y="1769.8">SABD</text>
<text x="1581.1" y="1774.1">SABVL</text>
<text x="1581.1" y="1778.3">SABVR</text>
<text x="1581.1" y="1782.5">SMBDL</text>
<text x="1581.1" y="1786.7">SMBDR</text>
<text x="1581.1" y="1790.9">SMBVL</text>
<text x="1581.1" y="1795.2">SMBVR</text>
<text x="1581.1" y="1799.4">SMDDL</text>
<text x="1581.1" y="1803.6">SMDDR</text>
<text x="1581.1" y="1807.8">SMDVL</text>
<text x="1581.1" y="1812.1">SMDVR</text>
<text x="1581.1" y="1816.3">URADL</text>
<text x="1581.1" y="1820.5">URADR</text>
<text x="1581.1" y="1824.7">URAVL</text>
<text x="1581.1" y="1829">URAVR</text>
<text x="1581.1" y="1833.2">URBL</text>
<text x="1581.1" y="1837.4">URBR</text>
<text x="1581.1" y="1841.6">URXL</text>
<text x="1581.1" y="1845.9">URXR</text>
<text x="1581.1" y="1850.1">URYDL</text>
<text x="1581.1" y="1854.3">URYDR</text>
<text x="1581.1" y="1858.5">URYVL</text>
<text x="1581.1" y="1862.8">URYVR</text>
<text x="1581.1" y="1867">VA1</text>
<text x="1581.1" y="1871.2">VB1</text>
<text x="1581.1" y="1875.4">VB2</text>
<text x="1581.1" y="1879.7">ADFR</text>
<text x="1581.1" y="1883.9">AVFL</text>
<text x="1581.1" y="1888.1">AVER</text>
<text x="1581.1" y="1892.3">DD1</text>
<text x="1581.1" y="1896.6">IL1L</text>
<text x="1581.1" y="1900.8">M4</text>
<text x="1581.1" y="1905">RIEL</text>
<text x="1581.1" y="1909.2">RIFR</text>
<text x="1581.1" y="1913.5">RMHL</text>
<text x="1581.1" y="1917.7">SIADL</text>
<text x="1581.1" y="1921.9">SIADR</text>
<text x="1581.1" y="1926.1">SIAVL</text>
<text x="1581.1" y="1930.4">SIAVR</text>
<text x="1581.1" y="1934.6">SIBDL</text>
<text x="1581.1" y="1938.8">SIBDR</text>
<text x="1581.1" y="1943">SIBVL</text>
</g>
<g font-size="5.1" transform="rotate(-90) scale(1.21 1)" stroke="#000" stroke-width="0.12">
<text x="-953.1" y="1200.6">ADAL</text>
<text x="-953.1" y="1204.8">ADAR</text>
<text x="-953.1" y="1209">ADEL</text>
<text x="-953.1" y="1213.2">ADER</text>
<text x="-953.1" y="1217.4">ADFL</text>
<text x="-953.1" y="1221.6">ADLL</text>
<text x="-953.1" y="1225.8">ADLR</text>
<text x="-953.1" y="1230">AFDL</text>
<text x="-953.1" y="1234.2">AFDR</text>
<text x="-953.1" y="1238.4">AIAL</text>
<text x="-953.1" y="1242.6">AIAR</text>
<text x="-953.1" y="1246.8">AIBL</text>
<text x="-953.1" y="1251">AIBR</text>
<text x="-953.1" y="1255.2">AIML</text>
<text x="-953.1" y="1259.4">AIMR</text>
<text x="-953.1" y="1263.6">AINL</text>
<text x="-953.1" y="1267.8">AINR</text>
<text x="-953.1" y="1272">AIYL</text>
<text x="-953.1" y="1276.1">AIYR</text>
<text x="-953.1" y="1280.3">AIZL</text>
<text x="-953.1" y="1284.5">AIZR</text>
<text x="-953.1" y="1288.7">ALA</text>
<text x="-953.1" y="1292.9">AQR</text>
<text x="-953.1" y="1297.1">ASEL</text>
<text x="-953.1" y="1301.3">ASER</text>
<text x="-953.1" y="1305.5">ASGL</text>
<text x="-953.1" y="1309.7">ASGR</text>
<text x="-953.1" y="1313.9">ASHL</text>
<text x="-953.1" y="1318.1">ASHR</text>
<text x="-953.1" y="1322.3">ASIL</text>
<text x="-953.1" y="1326.5">ASIR</text>
<text x="-953.1" y="1330.7">ASJL</text>
<text x="-953.1" y="1334.9">ASJR</text>
<text x="-953.1" y="1339.1">ASKL</text>
<text x="-953.1" y="1343.3">ASKR</text>
<text x="-953.1" y="1347.5">AUAL</text>
<text x="-953.1" y="1351.7">AUAR</text>
<text x="-953.1" y="1355.9">AVAL</text>
<text x="-953.1" y="1360.1">AVAR</text>
<text x="-953.1" y="1364.2">AVBL</text>
<text x="-953.1" y="1368.4">AVBR</text>
<text x="-953.1" y="1372.6">AVDL</text>
<text x="-953.1" y="1376.8">AVDR</text>
<text x="-953.1" y="1381">AVEL</text>
<text x="-953.1" y="1385.2">AVER</text>
<text x="-953.1" y="1389.4">AVFL</text>
<text x="-953.1" y="1393.6">AVFR</text>
<text x="-953.1" y="1397.8">AVG</text>
<text x="-953.1" y="1402">AVHL</text>
<text x="-953.1" y="1406.2">AVHR</text>
<text x="-953.1" y="1410.4">AVJL</text>
<text x="-953.1" y="1414.6">AVJR</text>
<text x="-953.1" y="1418.8">AVKL</text>
<text x="-953.1" y="1423">AVKR</text>
<text x="-953.1" y="1427.2">AVL</text>
<text x="-953.1" y="1431.4">AWAL</text>
<text x="-953.1" y="1435.6">AWAR</text>
<text x="-953.1" y="1439.8">AWBL</text>
<text x="-953.1" y="1444">AWBR</text>
<text x="-953.1" y="1448.2">AWCL</text>
<text x="-953.1" y="1452.3">AWCR</text>
<text x="-953.1" y="1456.5">BAGL</text>
<text x="-953.1" y="1460.7">BAGR</text>
<text x="-953.1" y="1464.9">CEPDL</text>
<text x="-953.1" y="1469.1">CEPDR</text>
<text x="-953.1" y="1473.3">CEPVL</text>
<text x="-953.1" y="1477.5">CEPVR</text>
<text x="-953.1" y="1481.7">DB1</text>
<text x="-953.1" y="1485.9">DB2</text>
<text x="-953.1" y="1490.1">FLPL</text>
<text x="-953.1" y="1494.3">FLPR</text>
<text x="-953.1" y="1498.5">I1L</text>
<text x="-953.1" y="1502.7">I1R</text>
<text x="-953.1" y="1506.9">I2L</text>
<text x="-953.1" y="1511.1">I2R</text>
<text x="-953.1" y="1515.3">I3</text>
<text x="-953.1" y="1519.5">I4</text>
<text x="-953.1" y="1523.7">I5</text>
<text x="-953.1" y="1527.9">I6</text>
<text x="-953.1" y="1532.1">IL1DL</text>
<text x="-953.1" y="1536.3">IL1DR</text>
<text x="-953.1" y="1540.5">IL1L</text>
<text x="-953.1" y="1544.6">IL1R</text>
<text x="-953.1" y="1548.8">IL1VL</text>
<text x="-953.1" y="1553">IL1VR</text>
<text x="-953.1" y="1557.2">IL2DL</text>
<text x="-953.1" y="1561.4">IL2DR</text>
<text x="-953.1" y="1565.6">IL2L</text>
<text x="-953.1" y="1569.8">IL2R</text>
<text x="-953.1" y="1574">IL2VL</text>
<text x="-953.1" y="1578.2">IL2VR</text>
<text x="-953.1" y="1582.4">M1</text>
<text x="-953.1" y="1586.6">M2L</text>
<text x="-953.1" y="1590.8">M2R</text>
<text x="-953.1" y="1595">M3L</text>
<text x="-953.1" y="1599.2">M3R</text>
<text x="-953.1" y="1603.4">M4</text>
<text x="-953.1" y="1607.6">M5</text>
<text x="-953.1" y="1611.8">MCL</text>
<text x="-953.1" y="1616">MCR</text>
<text x="-953.1" y="1620.2">MI</text>
<text x="-953.1" y="1624.4">NSML</text>
<text x="-953.1" y="1628.6">NSMR</text>
<text x="-953.1" y="1632.7">OLLL</text>
<text x="-953.1" y="1636.9">OLLR</text>
<text x="-953.1" y="1641.1">OLQDL</text>
<text x="-953.1" y="1645.3">OLQDR</text>
<text x="-953.1" y="1649.5">OLQVL</text>
<text x="-953.1" y="1653.7">OLQVR</text>
<text x="-953.1" y="1657.9">RIAL</text>
<text x="-953.1" y="1662.1">RIAR</text>
<text x="-953.1" y="1666.3">RIBL</text>
<text x="-953.1" y="1670.5">RIBR</text>
<text x="-953.1" y="1674.7">RICL</text>
<text x="-953.1" y="1678.9">RICR</text>
<text x="-953.1" y="1683.1">RID</text>
<text x="-953.1" y="1687.3">RIGL</text>
<text x="-953.1" y="1691.5">RIGR</text>
<text x="-953.1" y="1695.7">RIH</text>
<text x="-953.1" y="1699.9">RIML</text>
<text x="-953.1" y="1704.1">RIMR</text>
<text x="-953.1" y="1708.3">RIPL</text>
<text x="-953.1" y="1712.5">RIPR</text>
<text x="-953.1" y="1716.7">RIR</text>
<text x="-953.1" y="1720.8">RIS</text>
<text x="-953.1" y="1725">RIVL</text>
<text x="-953.1" y="1729.2">RIVR</text>
<text x="-953.1" y="1733.4">RMDDL</text>
<text x="-953.1" y="1737.6">RMDDR</text>
<text x="-953.1" y="1741.8">RMDL</text>
<text x="-953.1" y="1746">RMDR</text>
<text x="-953.1" y="1750.2">RMDVL</text>
<text x="-953.1" y="1754.4">RMDVR</text>
<text x="-953.1" y="1758.6">RMED</text>
<text x="-953.1" y="1762.8">RMEL</text>
<text x="-953.1" y="1767">RMER</text>
<text x="-953.1" y="1771.2">RMEV</text>
<text x="-953.1" y="1775.4">RMGL</text>
<text x="-953.1" y="1779.6">RMGR</text>
<text x="-953.1" y="1783.8">SAADL</text>
<text x="-953.1" y="1788">SAADR</text>
<text x="-953.1" y="1792.2">SAAVL</text>
<text x="-953.1" y="1796.4">SAAVR</text>
<text x="-953.1" y="1800.6">SABD</text>
<text x="-953.1" y="1804.8">SABVL</text>
<text x="-953.1" y="1808.9">SABVR</text>
<text x="-953.1" y="1813.1">SMBDL</text>
<text x="-953.1" y="1817.3">SMBDR</text>
<text x="-953.1" y="1821.5">SMBVL</text>
<text x="-953.1" y="1825.7">SMBVR</text>
<text x="-953.1" y="1829.9">SMDDL</text>
<text x="-953.1" y="1834.1">SMDDR</text>
<text x="-953.1" y="1838.3">SMDVL</text>
<text x="-953.1" y="1842.5">SMDVR</text>
<text x="-953.1" y="1846.7">URADL</text>
<text x="-953.1" y="1850.9">URADR</text>
<text x="-953.1" y="1855.1">URAVL</text>
<text x="-953.1" y="1859.3">URAVR</text>
<text x="-953.1" y="1863.5">URBL</text>
<text x="-953.1" y="1867.7">URBR</text>
<text x="-953.1" y="1871.9">URXL</text>
<text x="-953.1" y="1876.1">URXR</text>
<text x="-953.1" y="1880.3">URYDL</text>
<text x="-953.1" y="1884.5">URYDR</text>
<text x="-953.1" y="1888.7">URYVL</text>
<text x="-953.1" y="1892.9">URYVR</text>
<text x="-953.1" y="1897">VA1</text>
<text x="-953.1" y="1901.2">VB1</text>
<text x="-953.1" y="1905.4">VB2</text>
</g>
<g font-size="5.1" transform="rotate(-90) scale(1.21 1)" text-anchor="end" stroke="#000" stroke-width="0.12">
<text x="-1613.1" y="1200.6">ADAL</text>
<text x="-1613.1" y="1204.8">ADAR</text>
<text x="-1613.1" y="1209">ADEL</text>
<text x="-1613.1" y="1213.2">ADER</text>
<text x="-1613.1" y="1217.4">ADFL</text>
<text x="-1613.1" y="1221.6">ADLL</text>
<text x="-1613.1" y="1225.8">ADLR</text>
<text x="-1613.1" y="1230">AFDL</text>
<text x="-1613.1" y="1234.2">AFDR</text>
<text x="-1613.1" y="1238.4">AIAL</text>
<text x="-1613.1" y="1242.6">AIAR</text>
<text x="-1613.1" y="1246.8">AIBL</text>
<text x="-1613.1" y="1251">AIBR</text>
<text x="-1613.1" y="1255.2">AIML</text>
<text x="-1613.1" y="1259.4">AIMR</text>
<text x="-1613.1" y="1263.6">AINL</text>
<text x="-1613.1" y="1267.8">AINR</text>
<text x="-1613.1" y="1272">AIYL</text>
<text x="-1613.1" y="1276.1">AIYR</text>
<text x="-1613.1" y="1280.3">AIZL</text>
<text x="-1613.1" y="1284.5">AIZR</text>
<text x="-1613.1" y="1288.7">ALA</text>
<text x="-1613.1" y="1292.9">AQR</text>
<text x="-1613.1" y="1297.1">ASEL</text>
<text x="-1613.1" y="1301.3">ASER</text>
<text x="-1613.1" y="1305.5">ASGL</text>
<text x="-1613.1" y="1309.7">ASGR</text>
<text x="-1613.1" y="1313.9">ASHL</text>
<text x="-1613.1" y="1318.1">ASHR</text>
<text x="-1613.1" y="1322.3">ASIL</text>
<text x="-1613.1" y="1326.5">ASIR</text>
<text x="-1613.1" y="1330.7">ASJL</text>
<text x="-1613.1" y="1334.9">ASJR</text>
<text x="-1613.1" y="1339.1">ASKL</text>
<text x="-1613.1" y="1343.3">ASKR</text>
<text x="-1613.1" y="1347.5">AUAL</text>
<text x="-1613.1" y="1351.7">AUAR</text>
<text x="-1613.1" y="1355.9">AVAL</text>
<text x="-1613.1" y="1360.1">AVAR</text>
<text x="-1613.1" y="1364.2">AVBL</text>
<text x="-1613.1" y="1368.4">AVBR</text>
<text x="-1613.1" y="1372.6">AVDL</text>
<text x="-1613.1" y="1376.8">AVDR</text>
<text x="-1613.1" y="1381">AVEL</text>
<text x="-1613.1" y="1385.2">AVER</text>
<text x="-1613.1" y="1389.4">AVFL</text>
<text x="-1613.1" y="1393.6">AVFR</text>
<text x="-1613.1" y="1397.8">AVG</text>
<text x="-1613.1" y="1402">AVHL</text>
<text x="-1613.1" y="1406.2">AVHR</text>
<text x="-1613.1" y="1410.4">AVJL</text>
<text x="-1613.1" y="1414.6">AVJR</text>
<text x="-1613.1" y="1418.8">AVKL</text>
<text x="-1613.1" y="1423">AVKR</text>
<text x="-1613.1" y="1427.2">AVL</text>
<text x="-1613.1" y="1431.4">AWAL</text>
<text x="-1613.1" y="1435.6">AWAR</text>
<text x="-1613.1" y="1439.8">AWBL</text>
<text x="-1613.1" y="1444">AWBR</text>
<text x="-1613.1" y="1448.2">AWCL</text>
<text x="-1613.1" y="1452.3">AWCR</text>
<text x="-1613.1" y="1456.5">BAGL</text>
<text x="-1613.1" y="1460.7">BAGR</text>
<text x="-1613.1" y="1464.9">CEPDL</text>
<text x="-1613.1" y="1469.1">CEPDR</text>
<text x="-1613.1" y="1473.3">CEPVL</text>
<text x="-1613.1" y="1477.5">CEPVR</text>
<text x="-1613.1" y="1481.7">DB1</text>
<text x="-1613.1" y="1485.9">DB2</text>
<text x="-1613.1" y="1490.1">FLPL</text>
<text x="-1613.1" y="1494.3">FLPR</text>
<text x="-1613.1" y="1498.5">I1L</text>
<text x="-1613.1" y="1502.7">I1R</text>
<text x="-1613.1" y="1506.9">I2L</text>
<text x="-1613.1" y="1511.1">I2R</text>
<text x="-1613.1" y="1515.3">I3</text>
<text x="-1613.1" y="1519.5">I4</text>
<text x="-1613.1" y="1523.7">I5</text>
<text x="-1613.1" y="1527.9">I6</text>
<text x="-1613.1" y="1532.1">IL1DL</text>
<text x="-1613.1" y="1536.3">IL1DR</text>
<text x="-1613.1" y="1540.5">IL1L</text>
<text x="-1613.1" y="1544.6">IL1R</text>
<text x="-1613.1" y="1548.8">IL1VL</text>
<text x="-1613.1" y="1553">IL1VR</text>
<text x="-1613.1" y="1557.2">IL2DL</text>
<text x="-1613.1" y="1561.4">IL2DR</text>
<text x="-1613.1" y="1565.6">IL2L</text>
<text x="-1613.1" y="1569.8">IL2R</text>
<text x="-1613.1" y="1574">IL2VL</text>
<text x="-1613.1" y="1578.2">IL2VR</text>
<text x="-1613.1" y="1582.4">M1</text>
<text x="-1613.1" y="1586.6">M2L</text>
<text x="-1613.1" y="1590.8">M2R</text>
<text x="-1613.1" y="1595">M3L</text>
<text x="-1613.1" y="1599.2">M3R</text>
<text x="-1613.1" y="1603.4">M4</text>
<text x="-1613.1" y="1607.6">M5</text>
<text x="-1613.1" y="1611.8">MCL</text>
<text x="-1613.1" y="1616">MCR</text>
<text x="-1613.1" y="1620.2">MI</text>
<text x="-1613.1" y="1624.4">NSML</text>
<text x="-1613.1" y="1628.6">NSMR</text>
<text x="-1613.1" y="1632.7">OLLL</text>
<text x="-1613.1" y="1636.9">OLLR</text>
<text x="-1613.1" y="1641.1">OLQDL</text>
<text x="-1613.1" y="1645.3">OLQDR</text>
<text x="-1613.1" y="1649.5">OLQVL</text>
<text x="-1613.1" y="1653.7">OLQVR</text>
<text x="-1613.1" y="1657.9">RIAL</text>
<text x="-1613.1" y="1662.1">RIAR</text>
<text x="-1613.1" y="1666.3">RIBL</text>
<text x="-1613.1" y="1670.5">RIBR</text>
<text x="-1613.1" y="1674.7">RICL</text>
<text x="-1613.1" y="1678.9">RICR</text>
<text x="-1613.1" y="1683.1">RID</text>
<text x="-1613.1" y="1687.3">RIGL</text>
<text x="-1613.1" y="1691.5">RIGR</text>
<text x="-1613.1" y="1695.7">RIH</text>
<text x="-1613.1" y="1699.9">RIML</text>
<text x="-1613.1" y="1704.1">RIMR</text>
<text x="-1613.1" y="1708.3">RIPL</text>
<text x="-1613.1" y="1712.5">RIPR</text>
<text x="-1613.1" y="1716.7">RIR</text>
<text x="-1613.1" y="1720.8">RIS</text>
<text x="-1613.1" y="1725">RIVL</text>
<text x="-1613.1" y="1729.2">RIVR</text>
<text x="-1613.1" y="1733.4">RMDDL</text>
<text x="-1613.1" y="1737.6">RMDDR</text>
<text x="-1613.1" y="1741.8">RMDL</text>
<text x="-1613.1" y="1746">RMDR</text>
<text x="-1613.1" y="1750.2">RMDVL</text>
<text x="-1613.1" y="1754.4">RMDVR</text>
<text x="-1613.1" y="1758.6">RMED</text>
<text x="-1613.1" y="1762.8">RMEL</text>
<text x="-1613.1" y="1767">RMER</text>
<text x="-1613.1" y="1771.2">RMEV</text>
<text x="-1613.1" y="1775.4">RMGL</text>
<text x="-1613.1" y="1779.6">RMGR</text>
<text x="-1613.1" y="1783.8">SAADL</text>
<text x="-1613.1" y="1788">SAADR</text>
<text x="-1613.1" y="1792.2">SAAVL</text>
<text x="-1613.1" y="1796.4">SAAVR</text>
<text x="-1613.1" y="1800.6">SABD</text>
<text x="-1613.1" y="1804.8">SABVL</text>
<text x="-1613.1" y="1808.9">SABVR</text>
<text x="-1613.1" y="1813.1">SMBDL</text>
<text x="-1613.1" y="1817.3">SMBDR</text>
<text x="-1613.1" y="1821.5">SMBVL</text>
<text x="-1613.1" y="1825.7">SMBVR</text>
<text x="-1613.1" y="1829.9">SMDDL</text>
<text x="-1613.1" y="1834.1">SMDDR</text>
<text x="-1613.1" y="1838.3">SMDVL</text>
<text x="-1613.1" y="1842.5">SMDVR</text>
<text x="-1613.1" y="1846.7">URADL</text>
<text x="-1613.1" y="1850.9">URADR</text>
<text x="-1613.1" y="1855.1">URAVL</text>
<text x="-1613.1" y="1859.3">URAVR</text>
<text x="-1613.1" y="1863.5">URBL</text>
<text x="-1613.1" y="1867.7">URBR</text>
<text x="-1613.1" y="1871.9">URXL</text>
<text x="-1613.1" y="1876.1">URXR</text>
<text x="-1613.1" y="1880.3">URYDL</text>
<text x="-1613.1" y="1884.5">URYDR</text>
<text x="-1613.1" y="1888.7">URYVL</text>
<text x="-1613.1" y="1892.9">URYVR</text>
<text x="-1613.1" y="1897">VA1</text>
<text x="-1613.1" y="1901.2">VB1</text>
<text x="-1613.1" y="1905.4">VB2</text>
</g>
<text x="1123.4" y="1110.5" font-size="56" font-family="'Liberation Sans', Arial, sans-serif" font-weight="bold" fill="#231f20">e</text>
<text x="1376.7" y="1112" font-size="44.7" font-family="'Liberation Sans', Arial, sans-serif" fill="#231f20" textLength="427" lengthAdjust="spacingAndGlyphs">Stereotypy of Kernels</text>
<text transform="translate(1131.5 1702) rotate(-90)" font-size="61.5" font-family="'Liberation Sans', Arial, sans-serif" text-anchor="start" textLength="299" lengthAdjust="spacingAndGlyphs" fill="#231f20">responding</text>
<text x="1407.5" y="2039.5" font-size="53.7">stimulated</text>
<defs><linearGradient id="ge" x1="0" y1="1" x2="0" y2="0"><stop offset="0" stop-color="#d3eecd"/><stop offset="0.1" stop-color="#bee5b8"/><stop offset="0.2" stop-color="#a5db9f"/><stop offset="0.3" stop-color="#8ace88"/><stop offset="0.4" stop-color="#6bc072"/><stop offset="0.5" stop-color="#4bb062"/><stop offset="0.6" stop-color="#339c52"/><stop offset="0.7" stop-color="#208843"/><stop offset="0.8" stop-color="#097532"/><stop offset="0.9" stop-color="#005e26"/><stop offset="1" stop-color="#00441b"/></linearGradient></defs>
<rect x="1966.7" y="1161.6" width="38.5" height="782.6" fill="url(#ge)" stroke="#000" stroke-width="1.2"/>
<path d="M2005.2 1944.2h6" stroke="#000" stroke-width="1.2"/>
<text x="2018.5" y="1950.7" font-size="17.6">−1.00</text>
<path d="M2005.2 1846.4h6" stroke="#000" stroke-width="1.2"/>
<text x="2018.5" y="1852.9" font-size="17.6">−0.75</text>
<path d="M2005.2 1748.5h6" stroke="#000" stroke-width="1.2"/>
<text x="2018.5" y="1755" font-size="17.6">−0.50</text>
<path d="M2005.2 1650.7h6" stroke="#000" stroke-width="1.2"/>
<text x="2018.5" y="1657.2" font-size="17.6">−0.25</text>
<path d="M2005.2 1552.9h6" stroke="#000" stroke-width="1.2"/>
<text x="2018.5" y="1559.4" font-size="17.6">0.00</text>
<path d="M2005.2 1455.1h6" stroke="#000" stroke-width="1.2"/>
<text x="2018.5" y="1461.6" font-size="17.6">0.25</text>
<path d="M2005.2 1357.2h6" stroke="#000" stroke-width="1.2"/>
<text x="2018.5" y="1363.8" font-size="17.6">0.50</text>
<path d="M2005.2 1259.4h6" stroke="#000" stroke-width="1.2"/>
<text x="2018.5" y="1265.9" font-size="17.6">0.75</text>
<path d="M2005.2 1161.6h6" stroke="#000" stroke-width="1.2"/>
<text x="2018.5" y="1168.1" font-size="17.6">1.00</text>
<text transform="translate(2095 1548.5) rotate(-90)" font-size="18.7" text-anchor="middle">Ave Correlation Coefficient</text>
<path d="M1959.7 1980h9.6M1981.5 1980v10.5M1981.5 2001.2v8.3h-11.2M1959.8 2009.5h-7.8v-3.3M1952 1995v-9" fill="none" stroke="#231f20" stroke-width="2.07"/>
<rect x="1951" y="2037" width="31.6" height="29.5" fill="#231f20"/>
<text x="1992" y="1996" font-size="19" font-family="'Liberation Sans', Arial, sans-serif" fill="#231f20">No</text>
<text x="1992" y="2021" font-size="19" font-family="'Liberation Sans', Arial, sans-serif" fill="#231f20" textLength="117" lengthAdjust="spacingAndGlyphs">measurement</text>
<text x="1993.5" y="2056" font-size="19" font-family="'Liberation Sans', Arial, sans-serif" fill="#231f20">Not</text>
<text x="1993.5" y="2081" font-size="19" font-family="'Liberation Sans', Arial, sans-serif" fill="#231f20">Displayed</text>
<text x="1084" y="2079.5" font-size="62" font-family="'Liberation Sans', Arial, sans-serif" font-weight="bold" fill="#231f20">f</text>
<path d="M1299 2263.7V2250.5H1310.4V2252.3H1321.9V2251.9H1333.3V2251.6H1344.7V2251.3H1356.2V2251.3H1367.6V2250.9H1379V2250.9H1390.4V2250.3H1401.9V2250.3H1413.3V2249.9H1424.7V2249.6H1436.2V2248.9H1447.6V2248.2H1459V2247.2H1470.5V2246.2H1481.9V2245.5H1493.3V2245.5H1504.7V2242.2H1516.2V2240H1527.6V2236.8H1539V2233.4H1550.5V2229H1561.9V2221.5H1573.3V2215.8H1584.8V2209.2H1596.2V2198.2H1607.6V2180.7H1619V2147.1H1630.5V2073.4H1641.9V2263.7Z" fill="#1f77b4" fill-opacity="0.5"/>
<path d="M1299 2263.7V2240.4H1310.4V2244.2H1321.9V2244.5H1333.3V2244.9H1344.7V2245H1356.2V2245.1H1367.6V2245.1H1379V2245H1390.4V2244.9H1401.9V2244.7H1413.3V2244.4H1424.7V2244.2H1436.2V2243.9H1447.6V2243.5H1459V2243.3H1470.5V2242.2H1481.9V2241H1493.3V2239.5H1504.7V2237.8H1516.2V2235.5H1527.6V2233H1539V2230.1H1550.5V2226.7H1561.9V2221.3H1573.3V2216H1584.8V2209.2H1596.2V2205.9H1607.6V2196.5H1619V2180.7H1630.5V2153.8H1641.9V2263.7Z" fill="#ff7f0e" fill-opacity="0.5"/>
<rect x="1282.3" y="2062" width="376.7" height="201.7" fill="none" stroke="#000" stroke-width="1.6"/>
<path d="M1299 2263.7v6" stroke="#000" stroke-width="1.6"/>
<text x="1299" y="2305" font-size="30.5" text-anchor="middle">−1.0</text>
<path d="M1384.7 2263.7v6" stroke="#000" stroke-width="1.6"/>
<text x="1384.7" y="2305" font-size="30.5" text-anchor="middle">−0.5</text>
<path d="M1470.5 2263.7v6" stroke="#000" stroke-width="1.6"/>
<text x="1470.5" y="2305" font-size="30.5" text-anchor="middle">0.0</text>
<path d="M1556.2 2263.7v6" stroke="#000" stroke-width="1.6"/>
<text x="1556.2" y="2305" font-size="30.5" text-anchor="middle">0.5</text>
<path d="M1641.9 2263.7v6" stroke="#000" stroke-width="1.6"/>
<text x="1641.9" y="2305" font-size="30.5" text-anchor="middle">1.0</text>
<path d="M1282.3 2263.7h-6" stroke="#000" stroke-width="1.6"/>
<text x="1266" y="2274.2" font-size="29.5" text-anchor="end">0.0</text>
<path d="M1282.3 2162.8h-6" stroke="#000" stroke-width="1.6"/>
<text x="1266" y="2173.3" font-size="29.5" text-anchor="end">1.5</text>
<path d="M1282.3 2062h-6" stroke="#000" stroke-width="1.6"/>
<text x="1266" y="2072.5" font-size="29.5" text-anchor="end">3.0</text>
<text transform="translate(1200 2162) rotate(-90)" font-size="35.3" text-anchor="middle">Prob Density</text>
<text x="1470" y="2348" font-size="35.2" text-anchor="middle">Correlation coefficient</text>
<rect x="1290.5" y="2070.5" width="303" height="97.5" rx="4" fill="#fff" fill-opacity="0.8" stroke="#cccccc" stroke-width="1.2"/>
<rect x="1298" y="2091" width="35" height="12" fill="#1f77b4" fill-opacity="0.5"/>
<rect x="1298" y="2137" width="35" height="12" fill="#ff7f0e" fill-opacity="0.5"/>
<text x="1348" y="2091.6" font-size="17.6">Responses generated from</text>
<text x="1348" y="2111.4" font-size="17.6">the same pair of neurons</text>
<text x="1348" y="2136.7" font-size="17.6">All generated responses</text>
<text x="1348" y="2156.5" font-size="17.6">shuffled</text>
</svg>
</body></html>
